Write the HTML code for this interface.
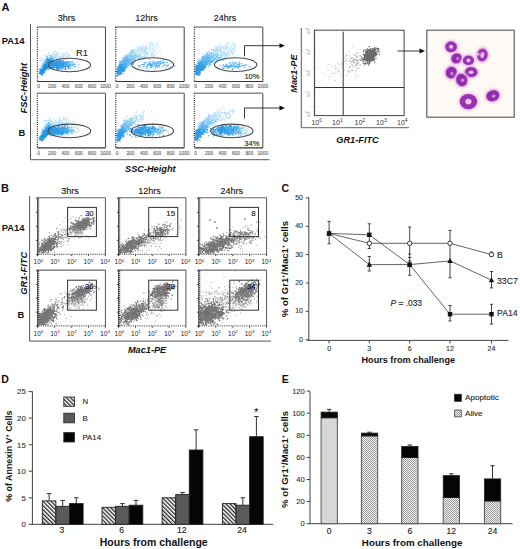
<!DOCTYPE html>
<html><head><meta charset="utf-8"><style>
html,body{margin:0;padding:0;background:#fff;}
svg{display:block;font-family:"Liberation Sans", sans-serif;}
</style></head><body>
<svg width="520" height="549" viewBox="0 0 520 549">
<rect width="520" height="549" fill="#fff"/>
<defs><filter id="sb" x="-5%" y="-5%" width="110%" height="110%"><feGaussianBlur stdDeviation="0.35"/></filter></defs>
<text x="1.5" y="10.6" font-size="11" font-weight="bold" fill="#111">A</text>
<text x="66.4" y="20.7" font-size="9" stroke="#111" stroke-width="0.12" text-anchor="middle" fill="#111">3hrs</text>
<text x="146.4" y="20.7" font-size="9" stroke="#111" stroke-width="0.12" text-anchor="middle" fill="#111">12hrs</text>
<text x="224.9" y="20.7" font-size="9" stroke="#111" stroke-width="0.12" text-anchor="middle" fill="#111">24hrs</text>
<text x="1.8" y="43.8" font-size="9.4" font-weight="bold" fill="#111">PA14</text>
<text x="18.6" y="136.3" font-size="9.4" font-weight="bold" fill="#111">B</text>
<text transform="translate(27.1 88.2) rotate(-90)" font-size="9.3" font-weight="bold" font-style="italic" text-anchor="middle" fill="#111">FSC-Height</text>
<text x="150.3" y="172" font-size="9.2" font-weight="bold" font-style="italic" text-anchor="middle" fill="#111">SSC-Height</text>
<line x1="30.5" y1="24" x2="30.5" y2="159.6" stroke="#555" stroke-width="1"/>
<line x1="30.5" y1="159.6" x2="269.5" y2="159.6" stroke="#777" stroke-width="1.2"/>
<g filter="url(#sb)">
<path stroke="#acdaf7" stroke-opacity="0.8" stroke-width="1.1" stroke-linecap="square" d="M56.4 54.6h0M59.7 59.6h0M55.1 59.4h0M50.4 61.3h0M54.3 63.2h0M49.9 63.0h0M57.0 54.8h0M66.8 51.6h0M53.5 60.6h0M51.7 56.1h0M60.9 57.1h0M60.2 59.5h0M57.1 53.4h0M48.7 53.7h0M56.9 58.5h0M62.5 56.9h0M46.3 59.0h0M53.4 58.5h0M41.6 58.2h0M46.2 55.7h0M42.4 59.9h0M54.7 55.6h0M46.3 55.4h0M59.4 58.7h0M58.2 57.4h0M55.7 59.1h0M52.5 56.9h0M56.2 55.3h0M57.5 55.4h0M45.0 60.4h0M52.9 56.5h0M49.5 60.1h0M50.8 59.8h0M66.3 61.5h0M50.0 55.4h0M57.1 60.1h0M63.9 56.3h0M52.4 58.6h0M55.5 54.2h0M57.7 56.5h0M57.8 59.6h0M47.3 59.3h0M57.6 57.9h0M67.6 55.2h0M45.3 62.9h0M63.8 56.6h0M56.9 52.0h0M51.6 56.9h0M71.9 50.0h0M61.5 48.4h0M47.3 58.1h0M58.2 61.1h0M61.6 57.1h0M55.0 55.1h0M62.0 54.4h0M57.0 60.8h0M62.3 57.3h0M68.4 55.9h0M51.7 58.6h0M58.6 57.6h0M53.7 60.5h0M58.3 59.0h0M47.7 60.0h0M52.0 55.9h0M55.7 59.4h0M63.8 54.8h0M66.5 59.0h0M46.0 56.4h0M50.7 58.6h0M62.1 56.9h0M40.7 57.2h0M54.1 62.9h0M56.9 61.7h0M66.7 54.9h0M62.8 58.8h0M54.6 59.2h0M52.9 51.6h0M55.1 58.8h0M69.0 55.5h0M53.7 58.6h0M54.1 55.5h0M59.7 56.6h0M56.0 57.5h0M56.0 61.1h0M48.4 60.2h0M56.9 57.8h0M54.2 62.3h0M65.9 54.8h0M62.0 55.9h0M56.0 53.2h0M63.0 60.9h0M54.8 60.7h0M65.7 58.7h0M57.3 59.5h0M61.6 57.3h0M46.9 60.1h0M59.6 56.7h0M43.6 59.6h0M41.0 60.8h0M55.3 62.1h0M50.2 60.5h0M58.3 57.4h0M74.4 53.2h0M50.2 57.3h0M52.8 62.8h0M58.8 58.8h0M60.9 57.3h0M55.5 57.2h0M54.9 55.2h0M62.5 56.7h0M61.5 59.3h0M48.7 58.2h0M56.3 57.3h0M57.2 57.2h0M48.7 59.5h0M58.3 53.4h0M50.1 58.4h0M64.3 54.3h0M58.9 59.8h0M57.4 55.7h0M52.6 60.1h0M56.8 61.9h0M41.1 59.8h0M47.8 57.8h0M59.9 57.8h0M40.2 60.8h0M63.2 54.1h0M43.5 61.4h0M63.9 61.9h0M50.2 58.3h0M63.0 56.2h0M57.6 54.9h0M45.0 60.8h0M66.3 52.9h0M67.9 53.0h0M57.1 61.2h0M54.4 55.9h0M56.2 60.8h0M50.0 63.1h0M65.8 56.9h0M53.0 60.0h0M57.5 62.9h0M50.7 58.4h0M51.8 57.2h0M46.3 56.1h0M66.9 56.2h0M56.5 61.8h0M65.0 58.9h0M56.7 55.4h0M51.1 56.6h0M54.2 57.0h0M52.7 59.3h0M57.0 57.3h0M54.1 58.9h0M54.8 59.0h0M46.0 59.0h0M50.6 58.8h0M70.1 56.0h0M51.7 58.5h0M48.9 60.6h0M60.5 62.1h0M68.4 57.4h0M45.6 60.0h0M54.6 53.8h0M52.2 59.7h0M42.2 55.3h0M62.2 53.2h0M57.2 60.0h0M57.9 59.5h0M51.0 58.5h0M59.8 52.8h0M52.6 57.6h0M55.6 56.3h0M48.6 61.0h0M48.4 65.3h0M67.6 56.5h0M52.7 56.5h0M58.8 54.4h0M56.7 57.7h0M53.4 58.0h0M52.5 55.6h0M62.0 57.2h0M54.1 55.3h0M56.3 60.9h0M57.7 60.5h0M66.8 58.9h0M62.1 55.6h0M60.2 58.6h0M52.5 58.2h0M45.9 58.7h0M64.3 55.6h0M64.0 53.1h0M55.2 54.3h0M61.6 59.1h0M63.1 56.2h0M63.6 57.2h0M64.7 59.1h0M52.6 54.0h0M68.6 53.7h0"/>
<path stroke="#72c2f2" stroke-opacity="0.9" stroke-width="1" stroke-linecap="square" d="M49.2 59.0h0M50.0 58.6h0M49.8 63.1h0M51.9 56.9h0M51.3 61.3h0M44.7 62.3h0M45.2 61.1h0M49.5 55.4h0M54.4 63.4h0M43.7 65.3h0M54.5 58.0h0M51.8 59.4h0M54.4 57.9h0M48.9 62.1h0M52.2 65.4h0M44.9 61.9h0M55.3 51.5h0M47.8 59.5h0M52.7 54.4h0M49.2 64.1h0M51.8 62.1h0M43.3 63.5h0M46.6 59.3h0M52.4 57.8h0M48.4 66.9h0M48.8 52.8h0M51.9 61.1h0M45.1 61.6h0M50.1 64.3h0M46.9 60.1h0M49.4 60.6h0M45.9 59.5h0M45.9 61.3h0M51.3 64.4h0M48.2 65.2h0M45.4 63.5h0M48.5 59.5h0M49.7 55.1h0M44.7 64.2h0M50.0 60.9h0M47.9 62.5h0M46.9 63.3h0M50.8 56.7h0M48.3 62.2h0M54.5 57.1h0M49.7 65.5h0M54.2 63.6h0M49.1 61.3h0M46.5 61.5h0M51.7 59.4h0M48.5 60.2h0M50.7 58.0h0M49.8 61.0h0M45.0 61.8h0M50.7 62.4h0M50.0 60.7h0M53.3 59.0h0M46.9 63.0h0M48.7 59.7h0M43.2 63.6h0M51.6 58.9h0M45.8 62.7h0M44.8 66.1h0M49.8 61.1h0M51.2 55.5h0M45.4 65.0h0M44.5 61.2h0M46.7 61.7h0M46.1 63.3h0M47.8 56.1h0"/>
<path stroke="#72c2f2" stroke-opacity="0.9" stroke-width="1" stroke-linecap="square" d="M46.6 61.9h0M42.3 70.0h0M42.8 70.3h0M43.8 70.2h0M43.6 67.6h0M52.7 59.4h0M40.2 70.8h0M42.5 69.0h0M41.4 68.6h0M48.2 66.9h0M41.1 71.8h0M44.8 64.6h0M42.3 69.3h0M43.6 68.0h0M51.2 62.1h0M40.8 67.7h0M45.8 61.8h0M44.8 65.8h0M49.8 69.5h0M52.0 62.2h0M42.6 69.6h0M52.8 60.3h0M55.4 63.1h0M47.9 62.3h0M41.1 71.0h0M50.7 64.6h0M48.5 64.3h0M50.9 62.3h0M42.6 68.4h0M55.9 62.1h0M54.6 62.6h0M43.0 71.0h0M45.5 68.4h0M38.9 69.6h0M51.5 61.4h0M50.6 58.8h0M52.9 58.9h0M49.0 64.5h0M47.7 62.1h0M45.1 59.9h0M48.0 64.6h0M49.8 57.3h0M47.1 63.0h0M43.7 66.6h0M46.0 64.3h0M38.4 69.6h0M51.4 63.8h0M49.1 62.7h0M47.5 67.6h0M54.7 63.5h0M49.4 61.5h0M41.9 65.1h0M40.7 70.0h0M40.8 68.9h0M42.3 68.9h0M44.5 67.8h0M42.5 63.0h0M52.0 59.6h0M41.8 66.3h0M51.6 59.9h0M48.3 62.3h0M49.7 59.5h0M45.3 66.3h0M40.4 71.5h0M48.4 60.0h0M41.2 66.6h0M42.5 70.0h0M53.7 63.9h0M52.5 65.5h0M45.2 70.5h0M45.0 69.1h0M49.8 57.6h0M46.1 69.9h0M48.6 62.1h0M42.3 70.1h0M49.3 60.1h0M42.4 70.4h0M45.9 64.2h0M41.3 71.4h0M45.1 62.7h0M49.5 59.5h0M44.8 73.1h0M43.9 68.1h0M48.9 60.9h0M48.7 64.3h0M45.5 68.5h0M45.8 61.5h0M45.6 65.4h0M52.5 61.5h0M44.6 68.2h0M49.6 61.6h0M51.0 65.5h0M47.8 60.5h0M45.3 66.8h0M47.9 61.0h0M51.7 64.6h0M42.1 64.1h0M40.5 71.0h0M50.4 57.6h0M50.2 63.1h0M44.1 69.8h0M51.9 64.0h0M41.7 66.2h0M47.5 66.5h0M49.8 59.5h0M44.8 64.8h0M45.0 68.6h0M42.9 66.6h0M39.2 68.8h0M42.9 68.5h0M41.7 66.4h0M42.0 68.9h0M42.2 71.5h0M46.7 65.9h0M45.6 70.8h0M48.7 61.3h0M47.7 56.4h0M42.9 67.3h0M45.6 62.6h0M44.4 63.2h0M42.4 71.4h0M41.5 69.6h0M46.3 56.2h0M47.4 66.3h0M49.6 60.5h0M42.2 71.4h0M47.7 63.8h0M51.9 61.0h0M50.6 59.9h0M42.5 73.1h0M47.5 65.3h0M45.7 67.3h0M50.2 62.0h0M40.0 69.5h0M43.7 68.1h0M49.4 60.2h0M46.5 65.7h0M43.7 63.8h0M55.4 61.4h0M44.7 67.6h0"/>
<path stroke="#1890e2" stroke-opacity="0.9" stroke-width="1.1" stroke-linecap="square" d="M41.1 71.6h0M41.0 72.9h0M48.1 65.7h0M48.1 64.3h0M43.3 71.1h0M46.7 66.1h0M40.7 73.8h0M43.8 69.2h0M45.4 66.5h0M43.1 71.8h0M42.4 69.4h0M47.4 67.3h0M45.8 66.6h0M41.0 72.1h0M46.5 64.4h0M40.5 73.0h0M50.3 60.7h0M41.4 71.5h0M43.4 72.0h0M41.3 71.5h0M47.5 58.0h0M42.1 70.4h0M43.9 64.8h0M50.3 60.1h0M51.2 61.8h0M41.2 74.0h0M43.7 66.6h0M45.1 65.8h0M49.0 66.2h0M43.5 70.4h0M43.1 70.3h0M41.3 74.5h0M42.5 75.0h0M46.7 68.1h0M41.1 73.4h0M42.3 72.1h0M43.7 70.6h0M40.5 73.1h0M39.9 73.2h0M49.7 61.3h0M43.3 68.2h0M41.9 71.9h0M47.2 64.8h0M42.3 75.2h0M41.6 70.9h0M49.9 60.5h0M49.1 61.6h0M46.8 66.2h0M41.9 73.8h0M42.6 70.2h0M40.0 73.4h0M40.8 70.8h0M39.9 73.3h0M41.8 73.1h0M46.3 65.9h0M40.4 72.6h0M41.3 72.3h0M49.4 61.6h0M43.6 70.5h0M42.6 69.9h0M40.8 73.1h0M46.0 61.8h0M45.5 64.3h0M47.0 68.4h0M43.8 64.5h0M40.9 72.9h0M42.7 71.3h0M45.4 66.4h0M48.9 60.1h0M48.3 63.0h0M46.4 65.8h0M45.0 67.6h0M39.2 72.9h0M49.0 61.7h0M40.2 73.0h0M40.9 72.5h0M47.2 65.2h0M49.0 63.6h0M49.0 64.2h0M43.9 68.3h0M42.5 72.8h0M41.6 74.4h0M50.1 63.4h0M52.0 61.7h0M42.2 71.3h0M48.7 62.1h0M44.6 69.8h0M41.8 69.7h0M45.1 68.0h0M40.1 73.7h0M43.9 68.5h0M40.5 71.0h0M46.2 64.0h0M44.9 67.9h0M50.0 62.9h0M50.5 62.6h0M42.9 70.4h0M42.5 70.8h0M48.7 60.3h0M45.3 68.1h0M40.9 73.0h0M41.2 74.0h0M52.7 61.8h0M45.7 66.7h0M39.7 72.8h0M44.1 67.1h0M43.5 66.8h0M43.1 68.0h0M51.6 62.0h0M50.2 61.1h0M40.1 72.0h0M42.1 72.9h0M45.1 70.1h0M48.1 62.4h0M45.5 65.5h0M47.0 64.1h0M46.0 67.0h0M42.6 72.2h0M49.7 64.0h0M41.5 74.6h0M48.3 65.8h0M43.0 72.8h0M45.2 68.8h0M48.2 59.0h0M45.1 67.2h0M41.1 73.7h0M43.8 68.7h0M47.6 66.2h0M40.5 73.4h0M41.6 70.8h0M41.6 74.6h0M45.9 67.8h0M43.8 69.7h0M45.8 68.5h0M43.7 71.4h0M46.9 65.8h0M39.7 70.9h0M48.6 61.0h0M49.4 60.3h0M43.8 67.3h0M44.7 68.5h0M50.3 63.4h0M42.3 70.5h0M46.9 62.3h0M44.5 72.1h0M46.7 64.2h0M42.1 69.5h0M46.2 66.6h0M50.1 61.6h0M40.3 73.2h0M49.2 63.8h0M44.8 66.9h0M42.8 69.0h0M43.5 70.1h0M41.5 73.8h0M41.9 70.9h0M46.5 66.3h0M41.0 73.1h0M49.7 67.5h0M49.1 60.0h0M52.1 61.6h0M49.1 61.8h0M48.1 63.1h0M42.3 72.7h0M51.3 61.3h0M43.0 72.7h0M49.3 62.5h0M48.3 61.5h0M45.6 65.7h0M45.6 68.0h0M42.4 72.3h0M46.4 68.6h0M43.1 71.1h0M42.2 73.4h0M42.5 73.7h0M48.4 63.4h0M47.7 60.0h0M40.5 72.0h0M39.5 73.2h0M43.9 72.1h0M40.7 72.3h0M42.8 72.8h0M46.3 67.1h0M45.7 70.2h0M45.1 69.6h0M41.9 71.8h0M46.4 65.3h0M42.8 70.9h0M44.0 69.5h0M44.0 68.1h0M49.3 61.6h0M43.7 72.4h0M45.3 63.2h0M43.2 70.7h0M48.1 61.0h0M43.9 69.5h0M45.7 68.4h0M49.0 62.0h0M47.6 65.9h0M39.9 72.3h0M42.3 73.3h0M49.6 59.6h0M41.1 74.1h0M43.0 70.8h0M46.7 58.3h0M40.0 73.5h0M41.8 72.6h0M43.3 72.7h0M41.2 73.4h0M44.8 68.5h0M44.4 65.5h0M44.3 71.4h0M42.6 74.0h0M48.3 63.1h0M47.9 63.0h0M43.9 65.8h0M42.1 73.2h0M48.0 69.2h0M47.0 66.5h0M45.3 69.8h0M49.5 62.7h0M42.8 68.8h0M46.3 68.7h0M40.3 72.3h0M45.3 66.8h0M48.1 64.1h0M48.4 65.1h0M42.8 71.5h0M50.9 60.5h0M46.4 64.0h0M42.9 68.1h0M44.0 69.2h0M47.1 63.0h0M40.7 71.5h0M45.0 64.8h0M46.7 64.2h0M43.2 66.4h0M47.4 60.9h0M43.0 67.2h0M44.7 68.5h0M43.1 71.2h0M52.0 63.1h0M41.7 69.5h0M46.2 64.4h0M44.8 69.8h0M49.5 60.9h0M49.5 60.6h0M41.9 74.7h0M50.0 59.8h0M44.8 65.5h0M39.9 72.7h0M45.2 68.2h0M41.0 73.8h0M44.0 66.2h0M41.0 71.6h0M44.0 70.1h0M43.4 71.0h0M45.3 65.9h0M49.1 63.5h0M50.5 61.6h0M41.6 69.2h0M45.3 66.6h0M40.8 74.2h0M43.0 69.4h0M47.3 58.7h0M41.1 72.8h0M49.9 62.8h0M48.2 66.8h0M40.9 69.4h0M50.9 65.8h0M41.8 70.1h0M50.4 62.6h0M41.9 74.0h0M42.0 73.5h0M47.8 64.2h0M43.2 67.9h0M42.0 72.9h0M44.3 67.2h0M40.6 69.2h0M48.2 69.2h0M48.3 64.8h0M51.0 63.9h0M40.1 73.0h0M47.4 67.6h0M52.4 61.7h0M45.9 69.6h0M47.8 63.8h0M40.2 72.5h0M48.8 61.9h0M43.5 65.1h0M47.1 60.4h0M48.1 63.6h0M47.7 61.3h0M40.7 73.5h0M47.1 64.5h0M43.5 73.1h0M43.6 71.9h0M43.1 70.3h0M47.1 67.4h0M45.4 65.4h0"/>
<path stroke="#1890e2" stroke-opacity="0.9" stroke-width="1.1" stroke-linecap="square" d="M56.9 62.3h0M63.5 64.7h0M52.3 65.1h0M57.3 64.2h0M51.9 64.0h0M59.4 64.0h0M67.2 62.8h0M55.0 66.1h0M60.2 67.6h0M53.9 61.5h0M52.8 65.0h0M52.3 64.5h0M66.4 65.2h0M70.9 62.1h0M61.3 64.3h0M54.9 63.1h0M62.5 65.9h0M57.1 65.1h0M62.9 64.2h0M60.4 65.4h0M60.2 64.2h0M61.7 61.6h0M55.9 66.1h0M56.7 65.5h0M49.9 65.1h0M56.6 66.8h0M51.6 67.6h0M57.9 62.8h0M53.7 63.7h0M59.5 67.7h0M61.3 67.3h0M51.3 63.9h0M54.4 62.9h0M53.8 63.9h0M62.6 63.6h0M67.4 61.2h0M63.2 64.6h0M56.8 62.5h0M66.2 62.0h0M51.1 67.1h0M66.5 63.0h0M55.4 64.9h0M44.5 67.0h0M72.7 65.4h0M66.9 63.6h0M53.5 65.3h0M59.6 63.2h0M57.9 68.2h0M59.4 66.0h0M51.0 63.2h0M55.3 65.1h0M61.3 66.0h0M60.0 65.6h0M65.3 67.8h0M59.4 67.4h0M70.9 62.9h0M55.1 64.9h0M60.0 62.3h0M48.9 66.0h0M52.3 65.5h0M66.0 69.4h0M53.9 65.3h0M61.3 60.6h0M58.4 63.5h0M53.4 65.4h0M56.8 62.5h0M56.0 63.3h0M56.2 64.3h0M62.8 65.2h0M62.2 64.2h0M55.7 63.3h0M54.2 66.6h0M60.2 63.7h0M58.2 63.9h0M64.0 61.8h0M72.5 62.3h0M63.3 65.7h0M58.4 61.7h0M57.9 64.7h0M54.5 66.5h0M54.0 64.4h0M53.6 65.6h0M56.6 62.8h0M56.8 67.4h0M62.8 66.6h0M56.8 65.4h0M57.5 61.5h0M52.3 63.3h0M67.5 66.1h0M61.7 67.9h0M68.1 64.7h0M63.1 66.9h0M66.4 63.1h0M57.5 64.5h0M62.5 64.5h0M72.9 64.6h0M52.3 62.3h0M65.0 66.2h0M67.8 66.7h0M60.8 62.5h0M62.6 62.0h0M65.5 65.0h0M55.2 63.8h0M60.7 60.2h0M54.3 66.7h0M55.2 65.3h0M55.5 64.1h0M58.3 68.9h0M59.6 65.0h0M61.1 63.2h0M51.3 65.5h0M69.2 62.1h0M64.8 62.9h0M62.7 65.3h0M56.8 63.9h0M58.3 64.0h0M61.9 67.8h0M61.1 66.3h0M50.0 66.9h0M62.8 65.5h0M74.4 64.6h0M49.2 68.2h0M64.1 64.4h0M61.0 68.2h0M58.1 63.0h0M66.1 63.8h0M52.3 62.6h0M59.6 64.1h0M66.7 65.2h0M57.9 67.6h0M56.5 63.7h0M59.4 64.8h0M56.4 64.3h0M66.9 62.8h0M53.8 62.9h0M63.5 64.6h0M51.9 62.0h0M62.4 64.8h0M58.2 64.9h0M44.9 64.5h0M58.6 62.9h0M52.9 62.6h0M56.7 68.5h0M66.8 61.7h0M53.0 68.2h0M53.2 66.3h0M66.4 63.6h0M59.3 62.6h0M67.2 66.2h0M60.8 68.0h0M54.0 63.4h0M58.4 64.3h0M65.5 66.3h0M63.9 65.1h0M59.1 68.6h0M59.0 63.7h0M58.3 65.9h0M55.5 62.6h0M69.4 68.1h0M58.7 63.4h0M52.5 61.0h0M56.2 64.7h0M62.7 64.3h0M62.5 68.2h0M58.0 64.2h0M55.2 65.0h0M59.0 65.9h0M50.1 68.4h0M51.8 65.2h0M63.2 66.5h0M56.3 66.0h0M60.8 64.1h0M65.3 64.5h0M62.3 64.6h0M58.8 63.1h0M70.3 66.3h0M62.2 61.9h0M57.1 67.2h0M62.8 66.3h0M61.0 64.5h0M54.1 63.7h0M59.2 64.3h0M58.0 65.8h0M48.4 66.9h0M57.9 65.4h0M57.4 66.8h0M56.4 63.9h0M50.1 65.9h0M56.7 62.0h0M58.7 66.3h0M59.4 65.1h0M52.7 64.4h0M62.3 66.8h0M52.4 66.6h0M57.2 59.5h0M65.8 64.4h0M54.9 62.3h0M56.2 67.0h0M64.9 69.1h0M56.7 64.0h0M57.2 65.1h0M59.9 64.2h0M64.4 65.1h0M47.1 66.8h0M54.6 67.5h0M53.3 63.3h0M53.2 68.2h0M54.1 63.4h0M54.4 65.6h0M60.6 66.9h0M54.2 66.5h0M59.3 63.0h0M60.8 63.3h0M54.9 64.2h0M59.5 64.7h0M67.7 66.4h0M60.3 62.2h0M55.5 65.9h0M58.5 66.0h0M54.0 66.2h0M60.3 65.6h0M63.6 67.4h0M54.5 66.0h0M57.8 66.5h0M64.8 65.5h0M56.4 68.4h0M59.5 61.1h0M53.5 67.6h0M54.4 64.6h0M56.0 64.5h0M70.0 62.2h0M56.4 61.4h0M56.0 64.3h0M55.8 63.7h0M58.0 65.8h0M62.0 61.8h0M60.0 67.4h0M69.5 64.6h0M59.9 64.3h0M66.2 62.9h0M60.1 63.2h0M61.8 62.4h0M51.2 64.3h0M58.1 64.9h0M58.4 64.5h0M57.4 62.2h0M47.6 65.1h0M63.2 62.8h0M56.8 65.2h0M56.8 68.5h0M57.6 66.1h0M57.6 64.3h0M60.7 61.6h0M52.0 62.6h0M53.7 61.9h0M60.4 66.1h0M59.5 63.3h0M56.9 65.1h0M55.7 63.8h0M54.5 65.3h0M58.7 67.5h0M64.8 63.1h0M53.3 64.5h0M66.6 62.7h0M63.3 66.2h0M56.3 63.0h0M62.7 62.4h0M51.0 62.7h0M49.6 62.8h0M52.2 66.2h0M57.0 69.8h0M57.0 63.0h0M56.3 66.8h0M59.3 65.2h0M47.6 63.5h0M61.3 64.1h0M51.4 64.9h0M55.3 63.7h0M56.9 68.6h0M52.5 61.6h0M51.7 66.0h0M53.6 65.8h0M58.7 63.7h0M61.9 64.9h0M61.8 66.3h0M53.7 65.5h0M54.7 65.9h0M54.1 66.4h0M60.9 60.8h0M48.4 68.3h0M65.5 68.7h0M56.4 66.8h0M54.9 67.0h0M60.4 62.0h0M64.1 64.2h0M60.5 63.1h0M64.2 63.3h0M59.6 66.6h0M65.1 62.8h0M65.2 64.1h0M58.0 61.2h0M66.2 64.0h0M59.7 64.9h0M59.2 63.4h0M53.9 63.8h0M57.6 68.5h0M62.7 62.2h0M51.9 63.3h0M62.1 63.0h0M60.8 66.9h0M60.5 68.7h0M47.4 66.2h0M58.2 63.5h0M62.1 63.8h0M55.0 67.1h0M59.1 63.0h0M46.7 68.4h0M62.5 67.2h0M55.4 65.2h0M63.4 65.7h0M49.3 66.9h0M62.6 67.5h0M57.4 62.9h0M63.1 66.7h0M53.9 64.4h0M55.5 63.6h0M70.4 64.2h0M54.5 64.7h0M55.0 63.2h0M57.2 61.9h0M53.4 63.4h0M65.2 67.1h0M68.0 67.9h0M55.2 66.3h0M50.0 67.7h0M64.8 63.4h0M64.5 64.3h0M63.1 65.0h0M64.7 62.3h0M54.2 63.2h0M57.9 65.0h0M51.6 64.7h0M51.3 63.3h0M63.9 65.2h0M55.3 64.5h0M70.8 65.9h0M59.2 64.8h0M55.4 64.5h0M63.0 64.8h0M68.1 63.8h0M61.2 63.4h0M52.4 64.5h0M60.8 66.1h0M66.0 65.5h0M56.4 67.4h0M54.6 61.9h0M64.0 63.7h0M59.5 64.0h0M53.1 65.5h0M56.8 64.1h0M54.8 64.1h0M60.4 66.2h0M59.4 65.1h0M64.6 62.2h0M62.7 67.1h0M50.8 67.3h0M60.8 63.6h0M63.6 66.1h0M61.1 63.2h0M64.3 66.6h0M55.9 64.6h0M53.8 63.6h0M63.6 63.8h0M53.2 63.7h0M47.6 65.9h0M64.1 64.8h0M55.0 65.1h0M57.1 63.9h0M51.1 58.4h0M51.9 65.5h0M52.5 61.6h0M57.0 65.4h0M60.9 66.8h0M46.9 66.2h0M62.7 63.8h0M52.6 64.9h0M53.3 64.9h0M62.2 63.5h0M58.3 63.7h0M50.7 63.6h0M68.5 66.4h0M54.3 65.1h0M60.2 66.5h0M59.8 64.3h0M66.1 64.4h0M56.4 64.6h0M64.1 65.3h0M55.1 66.6h0M64.7 64.8h0M54.8 63.8h0M56.8 63.5h0M68.9 67.3h0M60.4 64.2h0M59.3 64.2h0M70.6 66.8h0M60.8 66.7h0M54.6 66.1h0M62.6 63.8h0M53.0 69.7h0M64.7 65.1h0M65.1 65.4h0M55.8 64.7h0M55.4 62.3h0M59.5 62.2h0M58.9 65.6h0M53.8 65.9h0M61.7 64.1h0M48.1 63.3h0M56.4 62.2h0M56.7 64.3h0M57.2 62.1h0M60.5 66.4h0M52.6 67.4h0M62.2 69.9h0M58.0 66.5h0M55.3 63.9h0M51.6 63.6h0M52.2 58.7h0M60.6 63.5h0M53.8 64.8h0M59.3 66.6h0M64.4 65.6h0M64.2 65.5h0M66.9 64.6h0M57.4 66.2h0M53.4 67.9h0M64.0 62.4h0M60.3 63.8h0M64.4 61.8h0M59.1 67.9h0M65.2 66.8h0M63.3 65.9h0M62.4 62.3h0M61.4 64.9h0M60.8 64.2h0M60.0 64.9h0M59.9 64.4h0M64.0 65.4h0M56.1 64.2h0M67.9 65.8h0M58.3 65.3h0M63.9 63.9h0M58.3 64.6h0M57.5 64.1h0M69.4 65.6h0M57.2 64.4h0M52.2 65.8h0M55.0 64.3h0M57.0 62.1h0M70.1 65.7h0M59.7 62.7h0M63.7 65.7h0M53.7 66.0h0M60.4 61.5h0M62.2 62.8h0M68.1 63.2h0M55.1 63.5h0M61.8 62.3h0M60.5 66.1h0M53.5 64.7h0M58.8 65.5h0M57.4 64.1h0M46.8 66.2h0M61.8 63.2h0M61.6 64.6h0M56.6 66.1h0M51.9 65.4h0M66.4 63.4h0M60.0 62.6h0M64.1 64.7h0M66.2 64.9h0M56.1 64.5h0M62.9 63.0h0M57.6 65.9h0M58.8 69.5h0M58.3 64.3h0M58.8 65.4h0M64.6 65.1h0M59.1 59.9h0M58.0 65.1h0M57.3 63.6h0M60.8 67.3h0M54.1 64.6h0M56.1 63.5h0M58.5 64.4h0M55.9 65.3h0M58.1 63.8h0M55.6 64.9h0M69.0 61.5h0M65.7 63.9h0M61.2 66.1h0M58.8 68.6h0M70.3 65.3h0M60.5 65.2h0M58.5 67.1h0M60.5 66.6h0M60.6 67.8h0M66.3 66.3h0M58.7 64.6h0M69.7 64.5h0M54.2 65.5h0M62.4 65.1h0M53.6 65.5h0M68.1 62.7h0M56.8 60.9h0M58.4 63.5h0M63.3 60.6h0M65.3 64.5h0M53.0 65.2h0M56.8 61.7h0"/>
<path stroke="#72c2f2" stroke-opacity="0.8" stroke-width="1" stroke-linecap="square" d="M73.1 60.7h0M73.9 65.9h0M70.4 68.3h0M77.5 61.2h0M78.4 67.3h0M64.6 63.9h0M74.7 69.7h0M72.0 65.9h0M71.9 64.6h0M74.2 67.2h0M66.8 66.1h0M67.3 63.8h0M66.3 66.4h0M66.6 64.0h0M69.6 61.4h0M63.5 69.1h0M65.3 64.3h0M72.6 63.8h0M69.7 65.7h0M71.7 61.9h0M61.5 62.3h0M66.5 64.0h0M67.5 64.0h0M70.1 65.1h0M67.4 67.2h0M74.2 64.1h0M69.7 66.0h0M70.1 66.2h0M70.1 62.8h0M73.2 65.5h0M67.9 63.1h0M75.1 67.1h0M72.1 65.9h0M70.7 65.0h0M70.2 62.3h0M72.3 65.2h0M74.6 63.5h0M74.3 66.4h0M71.7 64.8h0M73.9 63.4h0M70.5 66.9h0M75.6 66.4h0M69.9 63.8h0M60.7 67.3h0M76.0 64.4h0M70.5 64.4h0M64.7 65.2h0M69.1 63.5h0M66.0 64.1h0M79.5 64.7h0M72.2 68.1h0M62.9 68.0h0M72.5 64.5h0M68.2 68.2h0M78.6 64.9h0M65.3 65.8h0M59.9 66.8h0M70.3 65.6h0M68.4 69.8h0M68.1 65.5h0"/>
</g>
<line x1="105.5" y1="27" x2="105.5" y2="81.5" stroke="#555" stroke-width="1.1"/>
<line x1="37.2" y1="27" x2="105.5" y2="27" stroke="#8a8a8a" stroke-width="1.4"/>
<line x1="37.2" y1="81.5" x2="105.5" y2="81.5" stroke="#333" stroke-width="1.2"/>
<line x1="37.4" y1="27" x2="37.4" y2="81.5" stroke="#333" stroke-width="1.3" stroke-dasharray="1 1.2"/>
<text x="38.7" y="88.4" font-size="4.8" stroke="#666" stroke-width="0.12" text-anchor="middle" fill="#666">0</text>
<text x="52.1" y="88.4" font-size="4.8" stroke="#666" stroke-width="0.12" text-anchor="middle" fill="#666">200</text>
<text x="65.4" y="88.4" font-size="4.8" stroke="#666" stroke-width="0.12" text-anchor="middle" fill="#666">400</text>
<text x="78.8" y="88.4" font-size="4.8" stroke="#666" stroke-width="0.12" text-anchor="middle" fill="#666">600</text>
<text x="92.1" y="88.4" font-size="4.8" stroke="#666" stroke-width="0.12" text-anchor="middle" fill="#666">800</text>
<text x="105.5" y="88.4" font-size="4.8" stroke="#666" stroke-width="0.12" text-anchor="middle" fill="#666">1000</text>
<ellipse cx="69.5" cy="65" rx="21" ry="6.7" fill="none" stroke="#4a4a4a" stroke-width="1.1"/>
<g filter="url(#sb)">
<path stroke="#1890e2" stroke-opacity="0.9" stroke-width="1.1" stroke-linecap="square" d="M120.7 72.9h0M118.7 71.1h0M125.6 67.6h0M123.4 68.5h0M118.3 70.0h0M122.9 66.8h0M120.0 67.2h0M121.9 71.8h0M120.8 72.4h0M118.5 69.5h0M121.7 67.7h0M122.8 65.2h0M124.3 67.4h0M120.3 74.3h0M119.3 73.0h0M122.5 67.9h0M117.6 71.4h0M120.5 66.8h0M122.1 71.1h0M121.5 69.1h0M121.6 66.2h0M124.0 69.0h0M119.8 65.4h0M123.6 65.9h0M121.9 66.4h0M120.4 67.3h0M118.1 68.1h0M119.9 68.4h0M117.6 67.9h0M119.6 65.4h0M120.5 68.9h0M117.0 75.2h0M118.9 65.7h0M124.1 67.5h0M124.5 69.9h0M119.1 68.5h0M119.9 69.0h0M119.3 67.1h0M121.8 69.0h0M123.2 68.4h0M120.1 66.8h0M121.9 66.1h0M117.0 69.3h0M119.5 74.6h0M120.2 73.9h0M117.8 70.8h0M120.8 66.0h0M117.3 72.8h0M121.4 67.6h0M120.7 70.7h0M116.8 72.5h0M122.4 70.0h0M120.9 65.5h0M124.2 66.6h0M121.1 69.8h0M120.4 64.5h0M119.3 71.8h0M120.2 71.2h0M118.7 71.5h0M117.6 73.1h0M121.2 68.9h0M124.4 69.6h0M119.4 68.3h0M124.4 68.3h0M123.3 65.5h0M122.0 66.7h0M119.1 72.6h0M119.7 65.8h0M121.3 69.3h0M120.3 70.2h0M120.3 67.5h0M122.7 68.8h0M123.1 66.8h0M120.1 66.0h0M119.8 64.8h0M122.3 64.5h0M121.5 70.6h0M122.1 65.0h0M118.6 71.0h0M120.3 71.1h0M119.8 71.5h0M124.2 68.6h0M121.2 70.1h0M116.6 71.5h0M119.6 70.4h0M119.7 69.7h0M118.0 70.1h0M117.4 75.9h0M119.2 72.8h0M122.8 70.4h0M119.2 67.1h0M123.5 70.5h0M118.5 69.7h0M121.5 66.3h0M120.7 69.2h0M118.4 68.1h0M120.2 72.2h0M119.3 70.3h0M117.8 74.6h0M118.5 70.1h0M118.8 69.3h0M122.8 65.5h0M120.9 68.1h0M123.3 67.7h0M123.0 68.8h0M123.0 69.7h0M118.6 72.2h0M122.9 64.9h0M121.1 68.6h0M121.7 72.3h0M124.1 71.4h0M121.4 66.8h0M120.1 72.1h0M120.4 71.4h0M119.4 70.0h0M122.0 66.2h0M116.8 75.6h0M121.4 68.4h0M123.4 70.1h0M116.9 72.2h0M119.9 70.1h0M120.8 71.6h0M124.8 67.9h0M121.2 71.6h0M117.7 73.1h0M120.4 69.2h0M118.1 70.8h0M120.8 72.3h0M120.8 70.3h0M120.9 66.8h0M121.9 68.6h0M121.7 67.4h0M121.0 73.0h0M122.8 64.5h0M118.6 70.8h0M120.3 72.7h0M126.7 67.6h0M119.0 71.6h0M121.0 73.9h0M120.3 71.8h0M117.3 71.6h0M119.2 65.8h0M119.7 65.9h0M123.4 68.7h0M117.3 71.5h0M124.0 69.6h0M122.9 70.7h0M118.0 69.5h0M121.6 68.9h0M120.1 74.4h0M122.9 71.3h0M121.1 67.9h0M120.3 66.4h0M122.5 66.3h0M121.7 64.6h0M123.7 70.1h0M119.3 70.7h0M117.9 73.2h0M120.3 67.6h0M119.3 70.2h0M116.9 71.8h0M121.6 71.2h0M119.8 70.2h0M120.6 70.2h0M116.5 71.4h0M121.8 70.4h0M120.7 72.4h0M120.0 67.8h0M122.1 67.5h0M120.0 67.7h0M120.1 71.5h0M120.7 71.7h0M120.0 73.1h0M119.6 69.7h0M121.1 66.1h0M122.1 67.1h0M125.7 64.5h0M118.8 69.7h0M121.4 72.1h0M117.6 73.5h0M122.0 67.1h0M119.7 69.7h0M118.8 67.3h0M121.4 67.6h0M119.0 68.6h0M120.5 70.3h0M121.8 72.8h0M118.4 66.6h0M122.6 68.8h0M120.6 65.2h0M120.7 67.8h0M122.6 69.5h0M121.7 69.7h0M119.8 71.4h0M122.8 69.0h0M125.2 69.8h0M117.9 72.1h0M122.8 68.2h0M118.6 70.1h0M120.8 69.6h0M124.5 70.9h0M121.9 69.8h0M119.5 67.6h0M124.6 64.3h0M121.0 70.5h0M123.9 67.1h0M120.1 71.9h0M120.4 70.3h0M119.4 69.1h0M117.4 72.0h0M118.6 66.5h0M120.2 68.5h0M116.8 75.3h0M122.8 66.6h0M119.4 71.6h0M120.5 67.6h0M122.7 66.3h0M122.3 65.1h0M120.9 65.5h0M119.1 72.2h0M121.8 67.9h0M120.4 64.3h0M119.1 68.3h0M121.5 70.0h0M118.6 73.5h0M119.4 68.5h0M120.4 73.1h0M121.9 67.8h0M120.2 71.9h0M120.1 65.8h0M120.4 69.4h0M119.6 70.1h0M121.2 70.8h0M125.3 66.3h0M118.9 75.0h0M120.4 72.4h0M120.6 64.8h0M119.9 72.2h0M120.7 67.4h0M119.2 68.4h0M120.6 67.5h0M118.9 71.5h0M120.4 68.5h0M124.0 69.3h0M123.3 70.3h0M117.6 71.6h0M120.0 67.4h0M121.5 64.1h0M123.5 70.2h0M118.9 70.8h0M118.6 71.1h0M118.3 69.4h0M122.1 68.8h0M120.3 67.9h0M119.0 71.8h0M118.7 69.1h0M121.9 68.2h0M120.1 66.4h0M118.5 70.4h0M122.9 69.3h0M119.8 67.2h0M118.4 75.0h0M119.3 69.8h0M118.2 71.8h0M122.1 66.5h0M121.0 72.9h0M119.5 67.7h0M122.5 69.5h0M117.6 71.0h0M119.4 64.9h0M123.2 73.5h0M123.9 65.7h0M118.1 69.9h0M119.1 73.3h0M125.0 67.4h0M121.4 66.4h0M121.2 70.9h0M119.3 74.1h0M119.5 72.8h0M118.2 70.0h0M117.5 70.5h0"/>
<path stroke="#3ea8ee" stroke-opacity="0.85" stroke-width="1.1" stroke-linecap="square" d="M124.6 59.9h0M120.9 61.8h0M126.8 63.5h0M122.6 63.5h0M124.3 57.3h0M127.5 60.9h0M132.5 59.2h0M126.3 60.6h0M127.5 61.4h0M125.7 64.5h0M130.1 60.6h0M127.3 63.3h0M128.6 62.8h0M124.7 59.1h0M125.0 60.1h0M124.0 66.0h0M129.5 61.6h0M125.1 61.0h0M121.3 63.4h0M131.0 64.1h0M122.7 62.1h0M125.6 63.6h0M123.7 57.5h0M128.9 61.9h0M121.5 64.4h0M127.7 60.4h0M126.1 65.7h0M128.4 62.6h0M124.4 57.7h0M127.3 62.5h0M123.1 64.4h0M120.2 64.7h0M122.6 62.6h0M120.3 62.6h0M125.3 60.8h0M131.2 59.1h0M125.1 57.7h0M126.3 66.3h0M128.9 60.4h0M126.5 62.9h0M129.9 60.7h0M127.1 67.0h0M122.2 65.7h0M127.3 61.5h0M119.8 61.5h0M126.9 60.3h0M126.7 61.1h0M128.6 59.8h0M123.8 61.2h0M122.7 63.1h0M123.9 66.2h0M126.2 67.7h0M125.4 61.0h0M121.6 66.0h0M123.3 60.1h0M129.0 60.8h0M123.1 58.2h0M131.8 63.6h0M120.0 62.6h0M121.7 62.3h0M125.6 58.2h0M130.3 60.6h0M126.4 64.1h0M123.8 66.3h0M123.4 61.2h0M122.8 66.8h0M131.3 61.2h0M126.6 61.9h0M126.8 63.0h0M121.5 61.1h0M130.7 62.8h0M125.5 63.9h0M126.6 59.5h0M123.7 60.5h0M124.6 64.2h0M128.8 64.1h0M125.2 60.1h0M121.8 62.4h0M127.2 57.6h0M123.7 65.5h0M124.7 63.8h0M119.6 62.7h0M124.3 60.6h0M127.0 56.4h0M124.6 62.7h0M124.9 64.8h0M121.9 64.0h0M126.5 62.9h0M124.6 66.8h0M125.6 65.5h0M128.3 58.9h0M123.5 63.4h0M125.6 64.6h0M126.0 58.2h0M125.1 62.2h0M123.4 61.2h0M123.8 65.5h0M124.1 67.7h0M128.0 65.1h0M131.3 61.4h0M127.1 64.1h0M128.8 61.8h0M125.8 57.4h0M129.6 60.4h0M126.2 60.0h0M128.0 61.8h0M125.6 59.8h0M127.8 62.0h0M122.7 61.7h0M124.6 60.6h0M125.2 67.8h0M122.8 65.4h0M127.3 62.6h0M125.0 60.2h0M123.0 66.3h0M127.4 63.8h0M126.3 65.3h0M124.5 59.6h0M125.2 62.8h0M125.6 57.1h0M127.1 59.1h0M126.7 61.8h0M127.0 63.4h0M122.3 63.4h0M129.6 61.1h0M124.0 62.1h0M120.7 63.1h0M123.9 62.7h0M127.5 59.2h0M122.7 62.6h0M123.8 63.3h0M131.0 63.0h0M126.7 64.6h0M128.9 64.9h0M126.3 57.4h0M126.5 63.7h0M130.0 63.8h0M129.7 61.7h0M128.7 61.6h0M126.7 63.1h0M124.1 65.1h0M123.9 67.7h0M124.5 57.6h0M125.2 62.5h0M123.2 64.1h0M126.4 57.3h0M130.8 62.9h0M127.8 63.2h0M123.7 66.6h0M129.2 60.4h0M125.4 66.1h0M134.1 63.2h0M128.5 65.2h0M124.9 60.0h0M125.2 62.5h0M126.0 64.8h0M124.4 63.9h0M125.2 67.3h0M132.0 62.5h0M119.5 64.4h0M123.2 64.2h0M127.4 61.2h0M129.5 59.4h0M130.8 59.8h0M127.5 63.6h0M123.8 63.9h0M126.0 63.9h0M125.6 57.7h0M126.8 65.9h0M129.7 64.0h0M127.6 63.2h0M132.1 61.2h0M125.5 63.6h0M129.1 60.5h0M129.3 62.7h0M124.7 65.0h0M129.6 59.5h0M123.7 64.1h0M124.4 57.2h0M127.5 57.2h0M124.6 64.2h0M123.2 66.2h0M127.2 61.3h0M130.0 58.1h0M124.8 61.7h0M125.8 66.7h0M127.6 60.9h0M123.9 67.3h0M129.6 60.8h0M127.5 58.6h0M124.2 59.3h0M122.1 65.7h0M127.0 65.7h0M125.1 64.5h0M122.3 61.9h0M122.7 58.9h0M122.1 60.8h0M123.7 64.5h0M126.6 59.0h0M127.5 63.6h0M132.6 61.8h0M127.3 65.2h0M123.5 64.0h0M123.5 61.6h0M127.9 60.8h0M126.5 58.3h0M126.6 62.5h0M124.1 62.2h0M123.0 61.8h0M123.6 62.8h0M121.9 65.1h0M125.5 61.7h0M131.8 60.9h0M128.8 59.8h0"/>
<path stroke="#72c2f2" stroke-opacity="0.85" stroke-width="1.1" stroke-linecap="square" d="M128.1 56.6h0M135.2 58.1h0M136.2 57.0h0M135.8 55.2h0M134.1 51.7h0M137.5 57.4h0M131.7 57.2h0M131.6 55.8h0M129.3 56.6h0M130.5 54.9h0M132.5 60.8h0M132.7 58.8h0M133.8 62.4h0M137.9 59.2h0M131.6 55.2h0M134.3 59.3h0M129.7 58.7h0M130.3 58.8h0M138.0 57.9h0M129.3 56.0h0M129.9 55.3h0M133.2 52.9h0M134.5 54.8h0M130.6 58.4h0M135.4 56.0h0M132.0 53.7h0M130.7 60.5h0M131.3 54.8h0M132.7 60.5h0M137.5 56.0h0M132.0 52.7h0M135.2 53.4h0M132.9 57.1h0M128.2 55.2h0M127.6 54.5h0M131.1 56.6h0M133.0 58.3h0M133.2 59.7h0M134.1 57.1h0M135.8 56.2h0M134.0 54.9h0M126.0 55.3h0M132.8 50.9h0M135.2 54.3h0M133.2 53.1h0M126.7 57.7h0M131.1 52.3h0M134.1 56.9h0M131.5 60.3h0M132.3 57.6h0M134.2 56.8h0M131.8 57.1h0M134.5 58.8h0M132.6 56.5h0M128.4 58.9h0M139.5 55.6h0M128.6 55.2h0M139.6 55.2h0M135.3 61.1h0M129.7 58.7h0M135.0 57.3h0M135.2 60.1h0M139.9 59.4h0M133.9 59.4h0M130.4 53.3h0M136.3 56.5h0M134.3 58.0h0M140.5 59.7h0M129.6 56.4h0M134.5 61.2h0M131.6 55.0h0M140.1 57.8h0M124.8 55.9h0M133.3 61.7h0M127.2 57.2h0M132.8 51.6h0M140.1 58.8h0M134.7 57.9h0M139.5 57.3h0M125.4 57.2h0M138.0 56.5h0M134.5 58.9h0M130.6 58.0h0M131.9 57.0h0M131.8 61.4h0M128.5 57.0h0M131.6 55.0h0M126.9 57.2h0M130.0 52.7h0M131.2 58.4h0M137.2 55.1h0M131.2 55.1h0M139.0 58.9h0M133.8 56.4h0M130.7 59.8h0M129.4 55.7h0M132.6 58.0h0M131.6 58.9h0M133.0 58.2h0M127.5 55.9h0M134.2 59.5h0M131.3 56.8h0M128.8 55.5h0M135.4 53.3h0M131.0 55.7h0M137.1 55.7h0M133.8 51.7h0M135.4 59.0h0M129.7 53.7h0M134.5 54.9h0M131.4 63.3h0M137.3 57.1h0M128.8 53.9h0M134.2 54.7h0M132.4 50.4h0M135.8 54.1h0M130.8 56.6h0M134.8 58.1h0M126.9 56.9h0M132.9 55.3h0M124.8 57.5h0M128.1 55.3h0M130.4 58.0h0M138.8 62.1h0M135.3 55.2h0M131.6 60.7h0M129.7 55.2h0M130.9 51.3h0M138.2 56.8h0M129.4 59.2h0M130.8 58.3h0M131.9 56.3h0M133.9 60.0h0M136.6 55.8h0M132.9 56.3h0M130.3 52.7h0M136.3 52.0h0M133.5 59.2h0M134.7 58.9h0M131.4 60.7h0M131.9 53.2h0M132.4 57.8h0M133.0 58.3h0M131.4 50.6h0M141.6 57.5h0M130.1 55.6h0M128.0 58.1h0M132.0 56.7h0M134.8 57.1h0M134.9 59.1h0M133.5 56.0h0M129.7 59.4h0M129.3 57.4h0M133.4 62.1h0M132.4 53.7h0M131.1 52.1h0M128.8 61.7h0M133.0 51.7h0"/>
<path stroke="#acdaf7" stroke-opacity="0.9" stroke-width="1.1" stroke-linecap="square" d="M142.6 49.5h0M141.3 57.0h0M139.7 51.7h0M142.8 57.2h0M141.8 58.3h0M156.2 43.7h0M157.8 44.2h0M150.9 45.7h0M142.9 48.9h0M140.9 47.8h0M143.5 51.5h0M140.0 47.7h0M140.5 50.7h0M138.8 55.5h0M146.1 49.6h0M151.0 45.7h0M146.5 51.3h0M140.3 49.2h0M140.9 57.3h0M154.3 58.5h0M145.6 45.7h0M149.0 48.1h0M148.4 52.9h0M143.0 52.1h0M142.7 56.6h0M138.6 48.4h0M145.8 52.9h0M152.6 46.5h0M152.0 56.4h0M143.9 45.0h0M154.0 55.9h0M136.0 50.3h0M146.4 49.9h0M145.7 52.5h0M153.7 44.7h0M159.7 47.7h0M149.6 50.7h0M145.3 49.3h0M149.7 50.1h0M151.1 54.1h0M156.5 49.7h0M141.2 57.0h0M137.8 53.9h0M144.1 49.6h0M142.3 48.2h0M154.7 46.3h0M144.0 56.9h0M133.8 50.4h0M137.5 53.2h0M143.3 56.3h0M145.2 57.5h0M147.9 54.8h0M149.7 45.0h0M142.1 45.7h0M147.5 53.5h0M141.2 48.7h0M142.9 52.9h0M141.8 56.3h0M144.1 51.3h0M152.3 50.1h0M134.1 49.2h0M145.4 54.2h0M151.1 52.3h0M160.5 50.2h0M141.1 51.5h0M138.7 50.0h0M147.5 54.6h0M139.3 46.6h0M152.1 52.6h0M135.6 49.3h0M154.6 55.1h0M144.4 52.1h0M150.8 54.5h0M140.1 54.7h0M140.8 52.2h0M143.2 47.3h0M152.9 44.6h0M142.7 46.9h0M145.2 57.6h0M153.2 54.5h0M135.2 52.5h0M144.3 57.5h0M138.5 46.7h0M143.9 51.2h0M137.1 54.0h0M154.1 52.9h0M140.6 59.9h0M153.3 51.9h0M139.9 56.4h0M145.9 57.2h0M152.6 48.3h0M140.5 50.5h0M140.1 47.3h0M145.8 46.9h0M145.6 49.3h0M144.2 56.3h0M146.3 58.0h0M137.9 51.2h0M144.2 54.8h0M153.8 52.8h0M154.8 51.2h0M137.8 49.1h0M139.9 54.1h0M145.8 54.9h0M136.5 55.4h0M152.1 52.8h0M140.7 55.6h0M150.9 47.9h0M151.6 54.1h0M141.4 52.8h0M144.9 57.5h0M151.4 55.3h0M144.8 50.6h0M154.5 56.1h0M150.2 42.4h0M151.2 42.5h0M135.4 49.6h0M136.0 49.8h0M144.9 55.2h0M147.9 55.6h0M132.8 49.6h0M138.4 50.8h0M138.9 54.1h0M143.5 49.3h0M146.6 45.2h0M144.2 59.5h0M138.7 51.5h0M143.6 56.9h0M149.3 43.9h0M146.4 48.4h0M135.5 53.4h0M141.9 56.9h0M152.3 42.5h0M145.0 50.5h0M147.4 54.4h0M141.0 49.2h0M145.3 51.6h0M135.3 50.0h0M145.1 51.1h0M150.6 44.7h0M157.1 53.1h0M142.9 59.1h0M145.4 56.4h0M141.0 49.7h0M148.8 48.5h0M145.3 53.2h0M142.9 52.4h0M144.3 50.0h0M147.5 54.0h0M145.0 47.5h0M147.3 56.5h0M147.0 57.1h0M148.0 52.2h0M144.7 48.1h0M140.4 56.1h0M145.0 48.9h0M141.9 53.7h0M149.5 58.1h0M154.1 52.7h0M142.2 50.1h0M145.7 53.8h0M144.0 57.3h0M159.5 51.7h0M141.8 46.0h0M149.6 50.1h0M148.5 49.4h0M151.0 52.1h0M152.3 55.0h0M145.8 53.8h0M141.8 56.7h0M146.2 52.9h0M151.8 42.9h0M143.5 56.6h0M133.8 52.1h0M137.3 49.7h0M146.6 53.2h0M144.9 50.0h0M157.9 42.2h0M151.8 49.0h0M154.7 49.8h0M140.3 54.2h0M140.4 51.4h0M142.8 48.9h0M148.9 47.1h0M139.5 49.0h0M141.0 58.0h0M146.3 48.0h0M147.5 52.4h0M142.4 53.7h0M156.2 46.6h0M136.6 47.0h0M143.8 57.6h0"/>
<path stroke="#3ea8ee" stroke-opacity="0.9" stroke-width="1.1" stroke-linecap="square" d="M158.5 65.5h0M141.8 64.5h0M155.0 63.1h0M161.8 63.3h0M162.3 60.4h0M130.2 66.2h0M161.8 63.3h0M149.4 65.1h0M147.1 65.9h0M164.4 62.5h0M166.1 67.3h0M149.5 64.7h0M152.6 61.0h0M147.5 67.2h0M148.9 64.7h0M149.5 62.1h0M138.2 67.0h0M150.9 64.9h0M164.7 65.1h0M146.3 62.2h0M148.8 63.9h0M151.1 64.4h0M150.6 63.3h0M151.4 65.2h0M156.0 65.7h0M157.2 65.9h0M155.0 66.7h0M156.7 64.7h0M158.8 63.6h0M163.0 63.2h0M150.3 63.6h0M143.2 64.8h0M162.3 66.8h0M144.6 64.1h0M146.1 68.7h0M156.5 63.8h0M145.1 63.9h0M148.5 64.5h0M158.0 62.6h0M154.5 61.8h0M162.7 62.1h0M156.7 66.7h0M142.6 67.7h0M162.8 60.2h0M159.2 66.4h0M139.0 65.5h0M147.9 65.2h0M151.4 66.7h0M167.3 66.0h0M152.7 66.9h0M153.8 65.3h0M160.5 62.1h0M155.1 66.8h0M150.1 61.5h0M155.5 65.9h0M155.0 63.2h0M158.0 61.4h0M150.2 65.9h0M154.3 64.5h0M158.5 62.5h0M144.2 66.1h0M142.3 64.2h0M165.9 65.0h0M131.1 63.7h0M159.2 65.4h0M143.7 66.5h0M156.9 62.4h0M157.7 67.4h0M144.9 62.4h0M151.0 66.0h0M150.0 63.5h0M151.2 63.8h0M155.4 62.6h0M156.5 64.4h0M155.8 64.3h0M152.5 63.3h0M157.1 65.5h0M164.0 65.4h0M147.4 64.8h0M168.8 65.0h0M159.8 61.9h0M153.3 65.4h0M157.0 65.0h0M154.4 70.2h0M133.7 64.1h0M146.7 66.1h0M143.2 64.4h0M159.4 66.7h0M159.4 65.5h0M168.4 65.7h0M163.7 65.3h0M160.4 61.2h0M161.7 63.3h0M152.2 64.6h0M154.9 63.6h0M161.6 63.3h0M166.8 69.3h0M154.2 63.4h0M150.8 66.9h0M158.8 64.8h0M161.1 64.3h0M149.0 68.2h0M140.7 65.7h0M148.6 62.8h0M156.8 65.1h0M157.7 63.3h0M155.4 68.2h0M167.3 65.4h0M138.5 65.6h0M146.5 66.2h0M157.1 66.8h0M163.8 62.7h0M139.0 65.7h0M171.0 63.3h0M151.6 65.6h0M148.0 64.9h0M146.5 68.0h0M160.0 62.8h0M174.9 65.9h0M151.3 64.3h0M166.9 62.3h0M150.1 65.1h0M159.4 65.4h0M160.3 63.7h0M153.1 62.6h0M143.9 64.2h0M151.3 67.4h0M139.6 66.7h0M149.4 59.2h0M167.2 62.5h0"/>
</g>
<line x1="184.2" y1="27" x2="184.2" y2="81.5" stroke="#555" stroke-width="1.1"/>
<line x1="115.5" y1="27" x2="184.2" y2="27" stroke="#8a8a8a" stroke-width="1.4"/>
<line x1="115.5" y1="81.5" x2="184.2" y2="81.5" stroke="#333" stroke-width="1.2"/>
<line x1="115.7" y1="27" x2="115.7" y2="81.5" stroke="#333" stroke-width="1.3" stroke-dasharray="1 1.2"/>
<text x="117" y="88.4" font-size="4.8" stroke="#666" stroke-width="0.12" text-anchor="middle" fill="#666">0</text>
<text x="130.4" y="88.4" font-size="4.8" stroke="#666" stroke-width="0.12" text-anchor="middle" fill="#666">200</text>
<text x="143.9" y="88.4" font-size="4.8" stroke="#666" stroke-width="0.12" text-anchor="middle" fill="#666">400</text>
<text x="157.3" y="88.4" font-size="4.8" stroke="#666" stroke-width="0.12" text-anchor="middle" fill="#666">600</text>
<text x="170.8" y="88.4" font-size="4.8" stroke="#666" stroke-width="0.12" text-anchor="middle" fill="#666">800</text>
<text x="184.2" y="88.4" font-size="4.8" stroke="#666" stroke-width="0.12" text-anchor="middle" fill="#666">1000</text>
<ellipse cx="152.7" cy="64.6" rx="21" ry="6.9" fill="none" stroke="#4a4a4a" stroke-width="1.1"/>
<g filter="url(#sb)">
<path stroke="#1890e2" stroke-opacity="0.9" stroke-width="1.1" stroke-linecap="square" d="M202.3 64.9h0M200.2 71.3h0M199.7 67.8h0M197.6 67.6h0M196.4 67.3h0M203.3 65.8h0M199.3 68.4h0M200.9 64.0h0M202.1 67.1h0M196.5 67.8h0M196.2 67.0h0M201.6 62.9h0M200.3 70.2h0M199.9 70.9h0M203.7 68.5h0M199.1 69.6h0M199.6 70.4h0M199.0 68.8h0M198.6 65.5h0M198.1 66.8h0M197.9 69.6h0M199.9 69.9h0M197.9 72.8h0M199.0 71.3h0M202.2 62.9h0M199.3 63.2h0M198.7 73.7h0M199.4 66.4h0M201.5 63.6h0M199.5 66.0h0M201.8 68.2h0M196.4 71.3h0M198.6 67.4h0M197.3 67.1h0M197.7 72.3h0M203.1 67.0h0M196.8 67.3h0M196.8 69.5h0M200.0 72.1h0M195.5 68.2h0M196.7 73.0h0M197.5 71.2h0M199.8 67.5h0M199.6 72.1h0M200.8 67.2h0M203.0 65.5h0M195.3 73.9h0M199.7 70.5h0M198.6 68.8h0M197.0 69.2h0M197.8 68.1h0M195.8 73.8h0M197.5 67.8h0M200.0 72.2h0M197.2 71.8h0M196.3 66.9h0M199.7 65.7h0M197.3 70.6h0M198.9 72.8h0M197.3 70.9h0M200.4 66.7h0M205.6 65.5h0M203.8 65.1h0M203.6 67.9h0M200.4 69.8h0M195.7 72.6h0M199.8 69.5h0M197.9 70.0h0M204.9 66.3h0M198.9 64.3h0M196.4 73.6h0M197.3 73.7h0M201.3 64.4h0M198.5 72.4h0M199.4 68.2h0M199.7 72.1h0M196.5 69.8h0M203.1 67.1h0M197.6 71.9h0M201.5 66.0h0M201.0 63.7h0M198.3 70.7h0M203.3 65.5h0M198.5 63.4h0M203.2 66.4h0M205.3 66.7h0M198.1 74.3h0M200.0 70.2h0M199.9 69.6h0M197.6 65.2h0M198.6 73.1h0M197.2 74.2h0M198.3 75.5h0M201.1 67.7h0M200.5 64.4h0M196.6 66.1h0M197.2 66.5h0M198.1 74.6h0M197.3 72.1h0M196.7 65.6h0M196.0 69.4h0M199.3 69.0h0M198.1 68.6h0M200.4 70.0h0M196.0 68.8h0M203.9 66.1h0M197.7 66.8h0M195.4 71.4h0M198.6 65.4h0M200.3 68.9h0M197.5 72.5h0M199.2 66.4h0M196.4 72.9h0M196.0 66.2h0M203.0 69.5h0M197.5 74.0h0M201.7 70.5h0M198.2 72.2h0M201.6 66.2h0M204.0 67.6h0M196.5 71.7h0M196.2 68.2h0M196.1 68.1h0M197.7 67.1h0M196.0 64.6h0M198.0 68.2h0M198.0 68.5h0M200.1 68.9h0M195.4 71.2h0M196.0 66.9h0M199.0 71.7h0M199.9 66.8h0M202.9 61.4h0M198.9 74.0h0M197.0 66.1h0M203.0 65.6h0M202.5 64.7h0M197.4 74.5h0M202.1 65.8h0M197.8 67.5h0M199.6 64.6h0M197.6 70.3h0M204.2 66.9h0M196.3 67.9h0M200.0 66.9h0M197.1 67.7h0M197.0 73.2h0M196.3 71.4h0M204.8 62.2h0M202.2 63.4h0M200.6 65.9h0M201.2 69.1h0M197.5 73.7h0M203.6 65.2h0M200.3 65.5h0M199.9 69.0h0M198.6 69.8h0M196.6 68.1h0M201.1 65.2h0M201.5 67.7h0M198.7 63.3h0M205.6 64.3h0M203.2 67.4h0M199.3 69.7h0M198.7 71.1h0M201.1 65.9h0M205.1 67.4h0M197.5 69.5h0M201.8 66.7h0M196.1 70.4h0M195.4 70.8h0M201.1 70.0h0M200.4 62.9h0M197.4 71.7h0M199.5 66.8h0M198.2 69.5h0M201.3 68.0h0M202.0 66.9h0M199.4 69.0h0M199.6 70.2h0M198.9 68.9h0M199.6 67.0h0M198.9 67.6h0M197.4 73.6h0M202.4 64.1h0M197.0 68.5h0M198.9 74.2h0M200.2 64.6h0M198.7 70.0h0M198.1 65.7h0M204.5 67.2h0M196.1 68.5h0M204.9 67.9h0M197.3 69.8h0M198.1 61.6h0M203.1 64.5h0M197.9 67.5h0M198.5 67.6h0M199.2 72.1h0M197.8 63.4h0M199.6 74.1h0M199.3 69.4h0M202.3 63.5h0M205.7 65.5h0M200.8 64.4h0M198.8 70.6h0M202.1 63.7h0M197.5 71.3h0M196.9 75.0h0M202.3 65.7h0M198.5 73.2h0M199.8 71.0h0M201.1 64.4h0M197.0 71.8h0M197.9 69.9h0M200.4 69.2h0M206.4 62.8h0M200.4 68.8h0M197.1 72.9h0M204.2 64.9h0M201.3 64.4h0M199.1 70.2h0M204.1 64.5h0M196.1 73.4h0M204.7 66.1h0M197.4 70.9h0M203.7 65.7h0M203.4 67.4h0M198.1 70.4h0M196.2 71.5h0M201.4 68.2h0M201.7 62.8h0M202.5 67.0h0M200.3 67.3h0M204.1 64.9h0M196.4 70.9h0M201.3 70.1h0M200.6 66.4h0M199.3 67.2h0M202.2 70.2h0M198.2 71.0h0M200.3 68.8h0M199.1 64.4h0M197.5 70.7h0M198.2 67.1h0M201.1 69.4h0M200.6 65.4h0M198.1 67.7h0M200.9 66.8h0M200.8 62.6h0M202.1 65.9h0M201.0 67.2h0M197.2 70.1h0M205.6 66.1h0M196.7 73.5h0M205.1 66.1h0M200.5 70.7h0M199.1 66.5h0M196.7 72.1h0M201.6 68.7h0M196.9 65.6h0M202.5 65.6h0M198.4 68.2h0M197.4 70.8h0M198.6 71.2h0M201.1 69.4h0M202.8 64.4h0M197.5 67.4h0M195.7 73.4h0M195.8 73.5h0M197.8 72.5h0M200.9 65.2h0M195.8 69.3h0M199.8 72.8h0M197.6 68.7h0M201.2 61.9h0M202.4 66.6h0M198.6 66.8h0M198.5 65.8h0M198.3 72.5h0M198.1 67.8h0M202.2 67.3h0M198.7 70.5h0M200.5 72.9h0M198.9 66.9h0M202.4 67.5h0M199.1 72.2h0M201.7 68.4h0M201.0 65.2h0M198.1 72.1h0M198.3 63.5h0M200.4 62.1h0M200.4 70.7h0M199.1 71.2h0M197.3 71.7h0M198.3 68.7h0M199.4 70.0h0M198.1 71.5h0M201.8 69.6h0M195.2 68.7h0M203.0 70.3h0M198.0 67.4h0M200.3 69.7h0M201.2 64.6h0M198.7 65.6h0M195.7 72.8h0M203.5 68.3h0M202.4 66.2h0M199.0 69.5h0M198.6 62.9h0M203.7 67.0h0M202.5 64.0h0M204.0 69.5h0M205.0 65.1h0M199.0 71.5h0M203.1 66.8h0M202.9 65.6h0M198.0 72.2h0M202.4 68.8h0M198.6 65.3h0M198.4 67.5h0M199.5 62.9h0M200.4 68.9h0M200.8 65.5h0M199.0 67.0h0M199.7 66.1h0M199.4 65.5h0M198.4 70.5h0M200.1 63.7h0M197.7 69.8h0M197.4 69.8h0M199.9 69.9h0M200.1 66.3h0M200.9 63.5h0M205.2 64.1h0M198.9 69.9h0M197.9 69.2h0M199.1 64.4h0M197.9 71.2h0M199.2 64.7h0M196.4 68.4h0M200.2 69.6h0M198.6 63.7h0M202.1 67.1h0M195.6 74.4h0M195.5 71.7h0M202.6 67.8h0M199.8 75.2h0M205.3 64.1h0M202.6 65.6h0M196.3 69.5h0M202.6 64.9h0M200.3 68.0h0"/>
<path stroke="#3ea8ee" stroke-opacity="0.85" stroke-width="1.1" stroke-linecap="square" d="M209.8 61.4h0M204.2 59.5h0M205.2 65.3h0M201.6 63.0h0M205.5 57.3h0M209.0 63.4h0M207.0 64.8h0M202.0 61.4h0M204.6 56.8h0M206.9 53.8h0M202.0 62.7h0M207.7 61.7h0M205.6 65.2h0M203.8 60.5h0M211.1 61.1h0M206.3 55.1h0M202.7 62.4h0M206.8 63.9h0M208.8 63.5h0M208.6 57.3h0M206.1 63.0h0M203.3 59.2h0M204.5 63.2h0M208.0 61.1h0M200.7 60.9h0M211.7 61.7h0M201.9 59.0h0M206.3 61.2h0M203.9 62.2h0M209.4 59.7h0M209.1 57.6h0M202.9 61.1h0M204.3 62.9h0M210.2 59.5h0M205.2 62.8h0M208.1 61.0h0M204.1 59.6h0M205.4 58.1h0M200.9 63.2h0M212.4 60.4h0M210.0 59.7h0M200.0 59.1h0M205.9 58.9h0M207.3 60.1h0M202.1 60.4h0M204.8 62.0h0M203.6 60.5h0M206.3 55.8h0M206.4 58.0h0M210.9 61.6h0M206.6 61.5h0M204.1 65.8h0M204.0 63.6h0M205.2 63.4h0M200.4 62.7h0M209.9 56.2h0M209.1 60.9h0M203.9 61.2h0M206.1 59.3h0M209.9 61.6h0M203.4 57.7h0M210.3 57.9h0M208.0 58.8h0M210.2 62.1h0M209.7 57.6h0M207.5 62.5h0M208.1 61.4h0M206.0 64.4h0M210.1 56.9h0M207.0 64.2h0M207.7 64.1h0M201.0 63.6h0M206.4 61.3h0M207.2 63.1h0M205.1 65.9h0M206.1 64.2h0M213.2 61.0h0M203.1 57.2h0M209.3 60.9h0M208.0 55.3h0M208.1 59.6h0M206.1 62.3h0M211.5 62.1h0M208.7 61.8h0M206.6 61.0h0M206.3 54.7h0M208.3 61.7h0M203.5 61.5h0M211.8 58.0h0M211.0 60.6h0M202.2 61.7h0M202.6 58.3h0M205.5 61.2h0M202.0 61.4h0M205.2 60.2h0M213.1 61.4h0M202.7 57.3h0M210.3 62.6h0M202.5 60.0h0M206.5 55.5h0M205.3 61.5h0M204.9 58.9h0M209.2 58.0h0M209.4 65.3h0M206.9 63.0h0M200.7 61.3h0M203.3 59.6h0M209.7 63.1h0M204.1 59.7h0M205.2 58.7h0M202.2 65.1h0M206.6 59.0h0M211.3 61.9h0M203.9 64.8h0M207.2 62.7h0M203.6 61.4h0M207.4 56.4h0M204.5 62.7h0M211.4 60.5h0M205.6 67.6h0M203.7 54.6h0M203.9 61.9h0M206.8 59.6h0M208.1 59.0h0M202.8 58.7h0M207.2 61.7h0M199.1 60.3h0M210.6 60.9h0M212.1 62.0h0M204.0 60.2h0M203.2 62.5h0M203.9 63.3h0M203.0 60.1h0M205.9 58.2h0M205.5 59.4h0M207.2 61.0h0M204.6 64.1h0M203.3 61.6h0M203.4 58.3h0M203.4 61.9h0M206.3 55.6h0M207.0 61.3h0M203.3 56.6h0M211.7 60.9h0M208.3 61.2h0M208.0 56.6h0M206.2 64.8h0M200.4 63.4h0M206.3 58.0h0M203.9 62.7h0M207.6 58.4h0M206.0 60.2h0M209.1 59.6h0M207.9 64.8h0M208.0 64.4h0M209.2 57.5h0M205.0 56.2h0M210.3 64.4h0M208.4 66.3h0M211.5 62.2h0M208.7 61.5h0M203.7 63.9h0M205.2 57.5h0M205.7 57.0h0M204.3 63.5h0M203.4 57.7h0M208.7 57.9h0M210.7 64.2h0M204.6 62.7h0M214.4 59.8h0M205.1 62.4h0M205.7 61.3h0M207.8 58.0h0M206.5 61.3h0M206.3 63.6h0M207.4 57.7h0M209.5 63.2h0M204.6 62.7h0M202.3 58.9h0M205.9 63.5h0M207.2 64.3h0M208.1 59.9h0M203.4 60.9h0M204.8 55.7h0M209.5 59.1h0M209.1 62.7h0M205.1 58.4h0M206.6 61.8h0M202.0 61.4h0M203.2 60.8h0M202.9 63.7h0M209.7 63.9h0M208.7 57.0h0M209.6 62.0h0M211.1 62.5h0M208.5 59.5h0M213.8 58.5h0M211.9 61.3h0M211.3 60.8h0M203.8 64.5h0M202.1 63.1h0M201.7 57.2h0M208.4 57.5h0M203.0 61.4h0M211.7 60.6h0M208.6 57.7h0M207.8 59.2h0M204.4 62.7h0M210.5 61.5h0M208.0 59.6h0M207.8 57.6h0M203.0 61.4h0M212.8 61.1h0M204.9 60.4h0M199.9 60.9h0M202.8 61.8h0M207.7 58.1h0M207.1 58.0h0M206.3 57.0h0M206.6 59.3h0M204.8 59.1h0M205.7 58.9h0M207.2 58.9h0M204.5 56.9h0"/>
<path stroke="#72c2f2" stroke-opacity="0.85" stroke-width="1.1" stroke-linecap="square" d="M209.7 55.2h0M217.1 56.6h0M209.8 52.9h0M209.4 54.7h0M216.4 57.5h0M220.4 57.0h0M215.0 58.9h0M222.1 60.7h0M215.8 53.6h0M214.2 51.3h0M206.6 54.8h0M215.7 58.2h0M213.2 57.3h0M215.3 54.8h0M213.5 50.5h0M210.8 54.2h0M209.8 58.5h0M211.8 60.2h0M211.6 57.4h0M212.2 53.2h0M216.0 59.8h0M207.7 54.5h0M212.2 59.0h0M217.0 54.9h0M211.8 56.2h0M213.2 57.8h0M209.6 52.9h0M214.5 54.6h0M214.5 60.0h0M218.5 59.6h0M212.5 58.2h0M214.8 57.2h0M211.1 58.0h0M216.7 54.3h0M209.8 54.6h0M221.6 60.0h0M214.5 60.5h0M212.3 57.2h0M221.2 57.1h0M212.4 56.4h0M214.2 55.9h0M216.4 55.9h0M209.7 52.4h0M209.2 55.5h0M211.6 50.0h0M218.5 55.2h0M218.0 56.0h0M215.5 58.8h0M223.5 59.6h0M212.7 60.8h0M206.7 55.2h0M211.6 56.4h0M216.6 53.0h0M213.2 53.5h0M211.1 56.9h0M217.6 57.1h0M208.1 54.5h0M217.4 58.4h0M217.7 56.6h0M213.1 61.2h0M211.7 49.3h0M211.7 55.7h0M212.2 56.0h0M214.5 55.5h0M213.8 55.7h0M212.7 62.5h0M214.1 56.5h0M217.1 60.3h0M212.7 56.7h0M215.1 51.0h0M209.7 59.1h0M212.7 57.4h0M216.9 62.2h0M215.1 57.6h0M220.5 58.5h0M212.3 58.4h0M216.0 59.6h0M210.9 57.6h0M217.6 57.4h0M222.2 56.1h0M216.8 55.7h0M219.4 54.7h0M212.1 53.0h0M213.4 56.5h0M213.6 57.9h0M211.1 57.6h0M213.8 49.5h0M213.9 53.3h0M209.3 55.3h0M209.1 56.4h0M210.5 56.0h0M214.0 58.2h0M218.2 56.9h0M214.2 61.0h0M210.7 54.7h0M215.4 54.6h0M209.1 52.1h0M213.6 57.7h0M217.0 59.3h0M211.9 57.2h0M212.6 55.4h0M211.9 55.8h0M219.1 57.7h0M212.7 57.7h0M217.5 52.5h0M214.6 54.8h0M211.5 53.8h0M214.5 54.6h0M217.7 55.5h0M210.9 57.6h0M211.5 49.3h0M211.7 54.1h0M215.0 59.6h0M215.6 57.7h0M218.6 57.9h0M219.7 57.6h0M216.3 56.5h0M212.1 60.0h0M212.1 57.2h0M210.9 58.6h0M206.8 52.6h0M209.8 57.0h0M213.2 55.3h0M216.5 60.4h0M213.4 58.2h0M215.2 55.1h0M217.8 53.7h0M215.7 51.2h0M216.3 49.5h0M214.3 58.1h0M212.0 56.9h0M219.4 58.8h0M209.6 59.2h0M216.0 59.4h0M208.0 58.7h0M218.7 59.4h0M210.2 56.3h0M214.3 60.2h0M216.9 60.8h0M208.6 56.2h0M211.2 52.5h0M213.0 59.7h0M214.0 54.2h0M212.1 56.8h0M216.5 56.4h0M210.6 56.2h0M215.2 59.1h0M211.8 54.1h0M207.6 57.5h0M216.9 54.4h0M207.8 56.0h0M212.1 53.2h0M216.9 56.7h0M216.5 56.1h0M218.7 60.3h0M206.9 54.6h0M216.5 59.8h0M213.0 56.5h0M207.5 53.2h0M218.6 58.3h0M208.7 55.8h0M211.4 54.4h0M209.6 55.5h0M208.6 55.6h0M208.2 51.5h0M208.3 54.4h0M210.2 53.0h0M212.0 55.6h0M213.9 53.7h0M213.6 52.5h0M215.6 50.7h0M221.0 57.5h0"/>
<path stroke="#acdaf7" stroke-opacity="0.9" stroke-width="1.1" stroke-linecap="square" d="M221.7 49.1h0M219.3 49.2h0M228.7 50.7h0M232.9 52.8h0M230.0 47.6h0M226.0 54.6h0M223.8 52.5h0M215.1 48.3h0M235.0 43.7h0M234.0 44.5h0M217.3 51.4h0M228.5 51.0h0M219.7 53.8h0M224.4 57.8h0M232.5 52.7h0M224.3 50.6h0M228.7 54.5h0M232.3 52.6h0M227.0 54.2h0M229.8 49.0h0M223.6 48.0h0M222.1 57.4h0M225.8 49.8h0M224.2 48.6h0M217.8 49.6h0M224.6 58.1h0M234.6 43.4h0M223.1 51.4h0M218.1 46.8h0M216.5 48.6h0M226.6 43.6h0M234.5 48.4h0M220.1 53.9h0M215.6 47.0h0M229.5 55.4h0M226.3 56.0h0M224.1 45.9h0M221.7 55.7h0M227.4 56.0h0M220.1 53.7h0M225.3 55.1h0M229.5 51.9h0M227.3 47.2h0M220.2 50.1h0M234.8 45.1h0M220.9 48.5h0M225.6 53.5h0M218.1 50.5h0M219.1 49.6h0M222.2 53.4h0M232.3 53.1h0M224.5 52.5h0M222.6 55.4h0M217.6 48.0h0M231.8 46.7h0M222.0 54.5h0M226.3 47.5h0M227.7 56.2h0M232.0 45.4h0M229.1 49.3h0M222.4 57.2h0M218.0 51.9h0M225.4 53.2h0M217.0 48.1h0M224.6 57.7h0M226.5 53.9h0M234.7 50.8h0M229.9 42.8h0M220.6 46.0h0M219.5 56.5h0M216.3 48.9h0M216.8 49.2h0M235.4 46.9h0M216.2 48.6h0M234.0 57.0h0M214.8 50.0h0M221.5 51.8h0M216.9 50.5h0M220.7 50.4h0M231.3 51.4h0M219.4 53.9h0M217.7 50.1h0M217.6 54.7h0M220.8 55.4h0M232.2 42.8h0M232.5 44.9h0M230.9 58.2h0M224.1 54.5h0M220.9 50.6h0M234.3 50.3h0M225.5 54.3h0M227.5 53.5h0M227.0 50.3h0M227.3 52.4h0M232.8 50.3h0M222.2 54.6h0M227.7 45.9h0M226.9 53.2h0M225.3 52.4h0M215.2 52.0h0M229.5 48.8h0M227.5 54.7h0M226.1 48.5h0M231.9 51.9h0M224.2 58.1h0M219.1 47.1h0M225.6 46.2h0M217.9 51.4h0M226.4 54.6h0M219.9 46.1h0M221.6 54.0h0M223.3 52.6h0M221.1 45.8h0M224.7 53.8h0M221.5 50.0h0M220.8 51.5h0M220.2 46.7h0M224.6 56.0h0M219.5 47.1h0M226.7 48.0h0M220.3 48.5h0M220.7 52.1h0M232.5 53.6h0M229.4 52.9h0M234.0 52.0h0M225.0 47.3h0M223.9 55.3h0M227.2 47.1h0M221.4 47.4h0M227.4 42.9h0M227.2 52.0h0M231.0 53.2h0M226.9 53.8h0M222.6 45.7h0M226.0 57.7h0M232.5 48.9h0M225.0 56.9h0M229.5 54.2h0M227.3 53.0h0M228.6 43.2h0M223.4 54.0h0M224.8 56.1h0M223.6 48.5h0M215.4 48.7h0M234.4 47.0h0M225.6 44.6h0M222.5 47.5h0M227.6 57.0h0M230.7 50.8h0M235.1 49.7h0M229.8 48.1h0M215.6 46.9h0M231.6 49.7h0M226.2 55.5h0M228.1 46.4h0M220.7 55.6h0M232.6 54.6h0M217.2 51.6h0M220.1 51.1h0M225.7 48.0h0M226.3 48.6h0M222.7 58.7h0M227.2 47.3h0M225.4 58.5h0M225.9 54.2h0M220.1 52.5h0M220.9 52.7h0M220.0 49.0h0M214.5 49.5h0M220.0 51.1h0M224.7 53.5h0M216.4 47.1h0M225.3 58.3h0M225.1 59.6h0M225.4 48.3h0M221.5 51.0h0M222.2 54.2h0M229.8 49.0h0M217.1 49.1h0M226.1 44.5h0M229.8 56.1h0M219.4 43.9h0M226.8 47.1h0M221.7 51.8h0M223.1 52.6h0M232.5 48.6h0M224.0 52.3h0M218.5 50.7h0M232.2 49.8h0M220.2 54.3h0"/>
<path stroke="#3ea8ee" stroke-opacity="0.9" stroke-width="1.1" stroke-linecap="square" d="M228.4 67.8h0M241.6 65.8h0M233.2 66.8h0M237.7 66.7h0M223.3 66.0h0M231.2 66.7h0M227.7 67.0h0M229.0 65.9h0M236.3 63.1h0M226.8 66.0h0M223.0 68.8h0M228.1 65.8h0M232.7 62.4h0M246.3 65.3h0M236.2 66.0h0M229.1 65.9h0M229.7 67.0h0M233.0 68.6h0M233.8 65.4h0M235.1 62.9h0M227.3 66.4h0M236.5 66.1h0M230.1 66.8h0M224.4 66.6h0M235.9 66.0h0M249.7 66.7h0M237.1 64.3h0M238.3 68.3h0M232.5 66.5h0M235.5 66.2h0M235.8 66.6h0M235.0 67.3h0M236.1 62.9h0M239.7 63.9h0M227.5 67.6h0M223.3 66.0h0M226.3 65.9h0M250.4 67.0h0M228.2 66.3h0M241.6 63.5h0M228.1 67.2h0M237.4 64.5h0M226.7 64.2h0M240.2 66.2h0M244.6 67.5h0M223.1 68.5h0M226.3 65.3h0M223.0 67.8h0M225.3 66.4h0M225.2 67.9h0M229.1 63.4h0M239.7 64.4h0M228.2 67.3h0M230.7 65.2h0M232.2 66.4h0M234.2 64.9h0M237.7 64.4h0M222.7 67.7h0M242.3 65.6h0M228.6 68.3h0M239.5 65.0h0M239.7 63.4h0M226.1 66.4h0M220.5 65.4h0M232.4 66.2h0M236.1 65.7h0M216.6 67.6h0M228.6 67.1h0M234.0 66.8h0M227.3 66.6h0M238.5 64.2h0M229.6 67.3h0M229.2 65.8h0M231.4 66.2h0M230.5 67.2h0M225.6 70.6h0M224.3 66.3h0M232.2 66.1h0M225.9 64.8h0M228.7 66.1h0M231.3 64.6h0M244.2 65.7h0M234.1 65.5h0M229.3 66.8h0M239.2 66.1h0M244.5 65.0h0M226.9 65.6h0M227.4 66.7h0M232.2 69.2h0M232.8 69.8h0M227.6 65.8h0M242.9 65.4h0M223.5 64.9h0M228.0 66.9h0M233.1 63.8h0M237.4 65.0h0M236.4 66.0h0M239.1 62.1h0M246.0 64.6h0M230.6 62.9h0M233.8 63.2h0M227.6 67.7h0M233.1 64.3h0M229.8 65.4h0M238.9 67.5h0M237.0 67.4h0M225.2 67.6h0M235.6 67.2h0M226.4 65.7h0M238.5 66.4h0"/>
</g>
<line x1="262.8" y1="27" x2="262.8" y2="81.5" stroke="#555" stroke-width="1.1"/>
<line x1="194.2" y1="27" x2="262.8" y2="27" stroke="#8a8a8a" stroke-width="1.4"/>
<line x1="194.2" y1="81.5" x2="262.8" y2="81.5" stroke="#333" stroke-width="1.2"/>
<line x1="194.4" y1="27" x2="194.4" y2="81.5" stroke="#333" stroke-width="1.3" stroke-dasharray="1 1.2"/>
<text x="195.7" y="88.4" font-size="4.8" stroke="#666" stroke-width="0.12" text-anchor="middle" fill="#666">0</text>
<text x="209.1" y="88.4" font-size="4.8" stroke="#666" stroke-width="0.12" text-anchor="middle" fill="#666">200</text>
<text x="222.5" y="88.4" font-size="4.8" stroke="#666" stroke-width="0.12" text-anchor="middle" fill="#666">400</text>
<text x="236" y="88.4" font-size="4.8" stroke="#666" stroke-width="0.12" text-anchor="middle" fill="#666">600</text>
<text x="249.4" y="88.4" font-size="4.8" stroke="#666" stroke-width="0.12" text-anchor="middle" fill="#666">800</text>
<text x="262.8" y="88.4" font-size="4.8" stroke="#666" stroke-width="0.12" text-anchor="middle" fill="#666">1000</text>
<ellipse cx="235.6" cy="64.6" rx="21.3" ry="6.9" fill="none" stroke="#4a4a4a" stroke-width="1.1"/>
<g filter="url(#sb)">
<path stroke="#acdaf7" stroke-opacity="0.8" stroke-width="1.1" stroke-linecap="square" d="M53.1 125.8h0M49.0 122.3h0M43.1 121.5h0M61.3 125.5h0M48.7 118.3h0M45.2 125.3h0M62.1 125.0h0M61.0 121.9h0M56.3 123.5h0M45.2 126.5h0M47.5 128.0h0M48.4 123.8h0M38.7 123.8h0M63.4 118.7h0M60.3 126.8h0M47.0 123.2h0M60.2 120.7h0M43.3 129.9h0M63.4 122.6h0M47.7 126.5h0M53.9 126.2h0M49.6 120.0h0M51.9 124.4h0M57.0 122.5h0M56.0 120.1h0M59.2 121.6h0M61.4 123.7h0M66.7 123.4h0M60.7 122.2h0M63.9 120.1h0M62.2 126.0h0M53.0 123.1h0M59.0 126.0h0M51.2 124.3h0M53.6 124.1h0M49.2 121.5h0M49.7 127.2h0M48.6 125.6h0M44.9 120.2h0M66.6 122.5h0M50.7 124.1h0M67.3 118.1h0M60.6 121.3h0M53.4 122.4h0M65.1 118.4h0M54.0 125.6h0M60.6 120.9h0M66.6 117.2h0M48.5 121.1h0M47.8 127.3h0M61.0 123.6h0M59.9 127.0h0M51.7 122.1h0M66.1 124.4h0M64.5 119.5h0M51.3 124.4h0M50.3 123.4h0M57.9 126.4h0M56.5 126.4h0M63.7 119.8h0M67.6 122.8h0M66.8 119.5h0M49.9 123.5h0M55.9 122.7h0M50.2 127.2h0M50.4 127.1h0M51.2 126.5h0M63.1 118.6h0M52.1 123.8h0M64.1 123.4h0M59.0 124.4h0M65.5 123.8h0M48.6 123.5h0M62.1 127.0h0M57.7 125.0h0M56.6 122.7h0M56.2 125.9h0M56.2 123.7h0M69.0 122.0h0M53.2 125.0h0M58.4 122.1h0M53.9 123.0h0M50.1 126.2h0M52.8 122.2h0M64.4 119.8h0M73.7 124.6h0M52.2 122.8h0M72.8 121.9h0M60.0 122.9h0M59.7 116.6h0M48.2 123.4h0M50.3 128.5h0M45.4 127.1h0M67.0 118.3h0M59.3 120.6h0M54.7 127.5h0M50.2 124.8h0M71.2 122.5h0M52.0 122.5h0M60.5 124.5h0M59.4 124.7h0M53.0 124.7h0M48.9 130.1h0M55.0 120.7h0M59.0 123.1h0M62.0 122.9h0M60.0 125.0h0M59.6 125.9h0M48.2 126.7h0M67.0 125.2h0M72.7 123.4h0M48.4 124.1h0M68.7 121.2h0M51.1 124.3h0M46.8 125.0h0M60.4 120.1h0M48.0 125.2h0M50.4 126.7h0M55.1 126.4h0M61.3 122.3h0M46.6 128.8h0M72.6 121.0h0M66.5 118.0h0M52.8 125.7h0M48.1 120.1h0M70.7 122.3h0M65.8 124.3h0M44.7 122.2h0M67.2 123.3h0M52.6 124.5h0M54.8 120.7h0M58.9 122.7h0M57.8 118.5h0M54.8 127.5h0M54.6 121.2h0M77.4 119.8h0M58.4 125.6h0M64.7 123.0h0M52.3 124.4h0M60.4 123.1h0M53.8 127.2h0M45.9 126.2h0M59.8 121.5h0M44.6 125.3h0M51.1 122.0h0M54.3 123.7h0M59.9 120.5h0M64.9 123.5h0M53.8 126.0h0M49.3 123.2h0M58.7 126.9h0M55.3 122.7h0M53.6 127.6h0M51.7 124.6h0M56.8 125.8h0M49.2 124.6h0M52.2 126.1h0M64.6 125.5h0M64.4 127.9h0M62.0 120.4h0M68.6 121.7h0M59.2 126.4h0M75.1 122.9h0M64.8 119.7h0M53.8 125.8h0M47.8 127.1h0M56.0 124.8h0M65.0 122.1h0M55.1 124.3h0M59.7 119.9h0M56.6 123.0h0M59.7 125.3h0M51.8 124.9h0M50.7 128.3h0M57.3 124.7h0M60.5 119.5h0M65.1 118.5h0M55.6 124.7h0M60.6 122.9h0M67.5 123.8h0M46.4 128.4h0M50.0 125.4h0M69.8 120.5h0M51.4 121.2h0M63.6 123.8h0M60.1 126.4h0M64.0 117.6h0M56.2 129.3h0M58.2 120.9h0M65.2 120.2h0M62.9 123.1h0M49.4 124.4h0M54.2 124.8h0M48.2 126.9h0M51.5 123.8h0M48.5 123.3h0M61.5 125.0h0M60.1 124.2h0M64.6 123.7h0"/>
<path stroke="#72c2f2" stroke-opacity="0.9" stroke-width="1" stroke-linecap="square" d="M47.9 124.1h0M51.3 126.9h0M52.9 125.4h0M57.4 126.7h0M49.6 122.6h0M53.2 131.1h0M49.2 130.4h0M49.3 131.4h0M47.5 124.7h0M43.8 132.4h0M44.9 127.7h0M58.1 123.1h0M54.3 126.7h0M51.6 127.4h0M52.1 128.7h0M47.4 129.4h0M50.2 126.1h0M46.6 129.8h0M49.1 125.3h0M54.6 125.2h0M50.6 124.3h0M51.2 133.1h0M46.6 132.0h0M53.9 118.6h0M50.2 120.6h0M48.5 123.0h0M48.6 126.5h0M50.6 128.0h0M50.2 127.7h0M50.6 127.3h0M48.9 122.9h0M58.2 124.5h0M47.5 133.4h0M51.5 128.5h0M49.9 128.1h0M47.5 130.1h0M47.7 128.0h0M47.1 129.7h0M50.4 125.8h0M53.4 129.9h0M49.4 125.8h0M44.6 128.0h0M45.3 135.5h0M52.9 126.7h0M48.6 134.1h0M51.3 121.6h0M54.7 127.0h0M48.4 133.6h0M48.5 125.4h0M44.4 132.5h0M47.1 128.9h0M50.1 119.1h0M56.5 129.5h0M55.9 122.2h0M42.6 130.0h0M56.6 125.6h0M53.7 129.8h0M48.1 124.3h0M47.7 128.3h0M50.1 128.5h0M52.6 125.8h0M52.1 127.6h0M47.5 134.8h0M45.2 124.2h0M44.0 135.0h0M50.6 126.6h0M48.5 130.2h0M50.1 126.5h0M45.1 132.0h0M51.7 128.2h0"/>
<path stroke="#72c2f2" stroke-opacity="0.9" stroke-width="1" stroke-linecap="square" d="M49.9 127.2h0M43.9 135.7h0M44.5 135.6h0M41.1 137.1h0M46.8 129.2h0M44.0 131.3h0M46.5 126.5h0M48.4 130.8h0M47.8 132.3h0M39.8 136.4h0M42.5 135.6h0M49.2 130.2h0M48.8 125.4h0M45.5 128.8h0M42.2 137.5h0M50.6 128.2h0M42.5 136.4h0M52.1 126.9h0M49.5 127.4h0M50.2 125.1h0M41.7 129.8h0M53.7 127.9h0M48.3 126.2h0M42.8 136.6h0M44.6 133.2h0M46.5 128.0h0M46.5 128.2h0M48.7 123.5h0M46.1 135.5h0M54.1 126.6h0M44.1 136.3h0M43.3 136.8h0M49.4 129.3h0M49.4 127.5h0M47.9 130.2h0M52.1 125.8h0M50.0 135.0h0M46.3 136.1h0M47.7 127.7h0M50.6 124.7h0M50.8 133.0h0M41.5 136.4h0M42.6 132.8h0M47.5 134.3h0M49.2 125.6h0M42.2 137.3h0M47.2 130.2h0M52.3 129.4h0M42.7 127.9h0M45.1 127.0h0M43.1 137.0h0M49.4 127.7h0M51.6 127.7h0M43.0 133.1h0M44.7 128.4h0M46.7 132.3h0M46.4 122.8h0M50.7 129.4h0M41.2 136.1h0M47.2 126.5h0M49.6 127.3h0M46.7 132.2h0M48.1 129.2h0M50.2 126.8h0M43.6 133.5h0M46.7 120.7h0M44.2 134.4h0M50.1 126.0h0M44.5 132.1h0M49.9 127.4h0M44.8 134.9h0M49.8 135.5h0M55.2 127.9h0M47.8 125.4h0M42.5 131.7h0M52.7 125.1h0M53.1 129.4h0M53.8 126.0h0M48.6 130.1h0M45.0 129.4h0M55.2 128.2h0M47.0 125.4h0M47.6 125.0h0M42.7 134.3h0M47.0 131.0h0M42.0 132.9h0M46.6 131.2h0M42.8 130.0h0M52.8 126.3h0M45.6 128.8h0M48.9 126.5h0M41.3 132.5h0M42.6 132.6h0M52.4 128.3h0M50.5 124.9h0M43.9 132.0h0M48.7 124.4h0M47.2 125.8h0M45.2 137.0h0M46.4 130.8h0M42.5 132.7h0M45.1 131.8h0M41.6 134.6h0M42.5 132.7h0M54.0 128.2h0M45.8 131.5h0M39.9 136.9h0M49.8 130.0h0M42.9 136.8h0M50.1 125.1h0M48.2 126.5h0M45.8 136.6h0M48.1 128.6h0M43.9 137.3h0M52.0 128.4h0M45.4 126.1h0M50.2 131.6h0M44.1 135.7h0M48.7 123.6h0M41.1 133.5h0M40.4 137.1h0M43.9 128.6h0M45.0 120.5h0M47.2 126.1h0M56.8 128.5h0M45.7 135.8h0M43.3 131.9h0M45.9 134.6h0M44.1 136.7h0M47.8 129.8h0M44.7 135.5h0M49.6 124.7h0M42.5 134.9h0M51.0 128.2h0M50.7 125.6h0M50.6 123.5h0M42.8 132.5h0M44.3 135.5h0M42.0 137.4h0M49.4 130.0h0"/>
<path stroke="#1890e2" stroke-opacity="0.9" stroke-width="1.1" stroke-linecap="square" d="M43.6 137.6h0M41.3 139.3h0M48.4 126.7h0M49.1 127.4h0M48.0 125.9h0M42.6 137.3h0M40.8 138.2h0M45.6 134.6h0M43.2 136.1h0M46.2 133.4h0M45.0 131.1h0M46.1 136.6h0M45.1 134.0h0M43.4 139.5h0M48.1 133.3h0M46.5 132.2h0M46.8 135.1h0M50.1 128.6h0M47.2 130.5h0M39.8 138.3h0M42.8 135.8h0M43.0 136.9h0M43.2 136.3h0M43.8 136.7h0M45.2 134.1h0M50.1 129.7h0M41.9 137.3h0M46.2 132.1h0M48.7 130.2h0M49.6 128.7h0M44.4 136.3h0M42.0 139.0h0M40.9 139.9h0M44.6 135.2h0M48.8 126.6h0M42.3 137.5h0M45.1 134.9h0M46.9 127.9h0M50.7 130.4h0M47.9 129.2h0M49.0 128.2h0M50.1 129.7h0M42.6 140.0h0M49.6 127.9h0M45.1 136.2h0M44.4 136.3h0M41.9 135.5h0M44.3 135.9h0M42.5 137.2h0M43.8 135.4h0M40.6 139.7h0M41.3 135.9h0M46.7 131.8h0M44.4 137.2h0M42.1 138.7h0M40.5 140.2h0M50.5 127.5h0M40.1 139.4h0M42.0 138.1h0M49.5 128.6h0M42.4 139.9h0M40.5 139.9h0M50.8 128.0h0M47.0 132.1h0M47.8 133.1h0M46.0 129.6h0M48.1 132.1h0M48.2 131.3h0M43.2 135.1h0M43.8 132.5h0M42.2 137.5h0M41.7 136.6h0M50.8 129.2h0M42.8 137.3h0M43.5 138.0h0M43.8 136.3h0M49.9 127.4h0M47.3 132.8h0M43.1 133.3h0M45.2 135.0h0M42.6 138.0h0M45.2 132.6h0M49.6 129.6h0M48.0 131.6h0M45.8 134.1h0M49.5 129.5h0M44.0 132.5h0M40.6 140.1h0M43.8 134.8h0M44.3 135.0h0M41.5 135.5h0M48.7 128.7h0M47.5 132.2h0M41.5 136.1h0M47.2 133.4h0M46.7 130.6h0M43.7 131.5h0M40.0 139.6h0M41.5 139.3h0M50.8 129.2h0M42.2 139.0h0M39.8 138.0h0M47.2 130.0h0M45.2 131.7h0M43.8 137.3h0M42.7 136.5h0M45.0 131.5h0M50.6 128.7h0M40.6 136.8h0M40.9 138.0h0M41.2 139.6h0M44.9 132.5h0M47.2 129.3h0M41.9 140.6h0M49.8 130.1h0M44.0 136.7h0M42.7 136.7h0M41.1 137.2h0M43.1 136.6h0M41.3 137.8h0M43.8 136.1h0M43.9 136.3h0M46.0 130.0h0M45.6 131.5h0M44.8 136.4h0M43.0 136.3h0M42.5 137.2h0M48.2 132.3h0M43.6 135.0h0M42.4 137.5h0M41.9 137.1h0M45.6 130.2h0M45.8 135.7h0M46.4 131.1h0M42.0 138.0h0M43.8 135.9h0M42.8 137.5h0M43.1 140.7h0M43.5 137.0h0M41.0 139.0h0M40.0 137.7h0M48.8 128.0h0M46.3 128.7h0M42.9 138.5h0M45.5 133.1h0M50.6 128.6h0M44.6 135.0h0M43.7 135.8h0M49.3 126.6h0M44.5 134.9h0M42.3 135.5h0M40.7 140.0h0M50.2 129.9h0M45.7 127.9h0M40.9 139.6h0M40.6 138.8h0M46.8 130.3h0M43.1 137.3h0M42.1 138.6h0M44.1 136.2h0M44.5 137.0h0M49.4 126.7h0M45.1 133.8h0M45.1 132.7h0M47.0 129.3h0M48.9 126.9h0M41.3 138.6h0M47.6 133.7h0M46.7 131.7h0M42.4 135.4h0M47.9 127.8h0M49.0 133.0h0M41.2 138.3h0M51.5 127.3h0M49.0 131.7h0M45.6 135.9h0M44.9 132.5h0M42.9 137.4h0M46.7 134.4h0M41.0 135.1h0M43.2 134.6h0M44.0 134.1h0M48.8 127.0h0M46.1 134.1h0M43.1 135.8h0M41.9 137.6h0M44.3 132.1h0M46.7 130.6h0M49.8 130.2h0M40.0 139.1h0M45.1 135.4h0M44.7 137.4h0M50.7 130.0h0M43.2 138.0h0M41.6 139.8h0M44.8 130.9h0M47.7 132.8h0M45.1 131.6h0M50.1 129.9h0M46.5 133.2h0M40.8 138.1h0M41.9 138.2h0M48.1 125.4h0M45.3 136.4h0M48.1 129.1h0M50.0 127.8h0M43.5 136.6h0M41.6 140.6h0M47.5 132.4h0M43.4 134.0h0M41.5 135.8h0M45.4 130.6h0M53.2 128.2h0M49.8 128.1h0M45.2 134.7h0M48.8 126.6h0M50.8 127.3h0M44.0 136.8h0M45.5 133.8h0M44.8 132.4h0M40.7 139.8h0M46.0 134.5h0M40.7 138.2h0M42.5 134.8h0M46.4 133.2h0M48.5 130.4h0M42.4 137.2h0M43.1 135.5h0M44.3 134.7h0M43.1 134.9h0M48.2 129.1h0M39.8 139.7h0M40.2 138.9h0M43.4 136.7h0M48.8 129.4h0M48.2 127.4h0M42.1 139.8h0M42.1 137.3h0M45.0 137.0h0M44.2 134.7h0M42.6 137.4h0M43.1 136.4h0M43.8 132.2h0M47.7 135.0h0M48.7 131.4h0M44.3 134.7h0M48.8 127.1h0M43.2 133.9h0M45.5 133.9h0M49.7 129.9h0M48.6 127.9h0M46.2 133.3h0M41.5 139.2h0M49.9 129.5h0M43.0 137.0h0M45.6 132.5h0M42.6 139.0h0M42.1 139.7h0M43.6 136.0h0M44.8 138.6h0M48.9 128.0h0M44.3 136.2h0M42.9 136.1h0M43.0 133.6h0M40.2 137.2h0M49.2 129.3h0M41.0 138.5h0M40.5 139.6h0M44.6 132.3h0M45.3 131.9h0M41.0 139.0h0M40.9 140.3h0M45.5 129.5h0M48.0 134.3h0M42.8 135.5h0M44.2 130.8h0M41.3 138.1h0M45.0 137.3h0M45.7 132.6h0M43.7 137.3h0M49.3 127.7h0M44.0 134.3h0M39.4 138.9h0M42.8 136.9h0M45.5 131.6h0M47.2 134.4h0M46.7 131.2h0M43.9 136.9h0M51.3 129.0h0M48.4 132.7h0M41.1 138.3h0M43.0 135.4h0M48.7 126.8h0M42.5 138.2h0M44.6 135.5h0M40.9 139.0h0M41.2 137.5h0M46.9 131.1h0M47.9 132.2h0M42.2 138.9h0"/>
<path stroke="#1890e2" stroke-opacity="0.9" stroke-width="1.1" stroke-linecap="square" d="M48.7 130.9h0M64.0 130.3h0M62.0 128.9h0M56.8 132.4h0M60.2 130.2h0M64.6 132.4h0M54.1 126.8h0M65.1 126.8h0M54.9 131.7h0M59.2 131.6h0M61.1 133.4h0M58.0 129.3h0M58.2 130.2h0M55.5 132.9h0M45.2 135.8h0M50.7 129.2h0M55.7 130.2h0M57.0 130.5h0M57.3 131.8h0M48.7 133.9h0M65.9 131.8h0M55.8 128.8h0M50.2 133.5h0M59.8 129.0h0M60.9 130.7h0M61.6 127.9h0M56.9 134.3h0M68.3 131.4h0M60.2 133.0h0M70.4 131.2h0M55.1 129.5h0M54.7 134.6h0M65.2 131.1h0M57.2 128.6h0M67.6 127.1h0M57.7 133.2h0M49.3 129.1h0M49.1 130.2h0M66.5 132.9h0M56.9 132.1h0M65.8 131.7h0M53.0 129.6h0M60.4 130.6h0M65.7 129.7h0M60.6 130.5h0M55.0 133.3h0M54.0 133.0h0M62.6 129.8h0M52.8 129.0h0M65.5 131.4h0M67.4 127.8h0M60.6 132.4h0M53.7 132.2h0M55.9 131.9h0M63.7 127.9h0M55.7 130.3h0M51.5 135.6h0M53.8 131.3h0M62.7 130.7h0M58.8 131.1h0M55.0 133.6h0M57.7 130.5h0M70.4 130.3h0M64.4 132.1h0M57.8 130.3h0M61.4 132.1h0M58.5 132.5h0M58.0 129.4h0M64.0 132.5h0M63.4 130.3h0M62.2 131.2h0M68.1 131.3h0M68.4 132.0h0M61.3 129.0h0M65.4 130.2h0M55.1 128.9h0M55.6 131.7h0M55.1 130.6h0M58.4 134.9h0M60.2 130.6h0M56.2 128.2h0M59.0 130.4h0M60.7 130.5h0M66.8 129.7h0M54.3 127.6h0M59.0 130.4h0M59.7 129.3h0M60.3 128.9h0M62.4 133.7h0M52.7 129.3h0M61.6 130.1h0M52.2 133.6h0M63.1 130.3h0M60.5 130.0h0M56.3 128.1h0M63.5 127.9h0M64.5 132.1h0M58.5 134.5h0M58.2 129.5h0M53.0 128.7h0M57.1 129.5h0M60.3 131.7h0M61.5 129.7h0M53.6 132.7h0M68.2 132.0h0M58.1 129.0h0M50.6 129.3h0M51.3 130.3h0M63.1 132.9h0M62.3 127.5h0M68.8 130.5h0M67.6 130.7h0M65.4 130.6h0M55.7 132.3h0M59.8 128.9h0M78.0 128.2h0M63.1 130.1h0M52.7 131.7h0M63.8 131.1h0M62.6 128.7h0M63.6 133.9h0M43.7 130.4h0M49.7 134.4h0M64.1 128.1h0M55.3 129.2h0M70.3 131.1h0M62.1 132.3h0M56.3 131.4h0M63.5 131.5h0M58.1 127.9h0M52.5 130.8h0M61.3 130.9h0M61.0 130.1h0M57.7 128.4h0M56.3 131.0h0M70.3 129.2h0M60.1 131.1h0M61.7 132.0h0M58.1 132.4h0M60.4 130.8h0M71.9 131.8h0M62.2 127.7h0M62.0 127.8h0M57.6 131.6h0M58.1 125.9h0M66.2 128.7h0M49.9 130.4h0M51.5 131.4h0M57.3 132.4h0M56.0 131.2h0M52.0 132.3h0M62.1 132.1h0M42.4 131.7h0M58.3 132.6h0M61.4 128.9h0M58.1 129.7h0M55.2 132.4h0M60.5 130.1h0M73.4 130.0h0M57.5 132.2h0M60.4 131.6h0M57.1 131.2h0M63.0 131.4h0M56.3 132.1h0M62.1 128.8h0M49.6 131.0h0M48.4 131.2h0M61.9 130.7h0M60.0 130.0h0M55.7 131.3h0M52.8 130.4h0M60.8 131.0h0M53.8 130.3h0M56.3 132.3h0M71.8 131.7h0M55.4 130.8h0M59.3 132.0h0M54.2 131.6h0M54.0 130.3h0M65.9 129.2h0M55.4 131.6h0M60.8 128.4h0M66.7 131.3h0M59.3 132.9h0M67.8 129.8h0M56.4 130.1h0M60.5 131.3h0M53.8 132.7h0M58.9 131.8h0M59.5 129.0h0M54.1 131.6h0M51.5 132.4h0M61.4 134.3h0M63.1 131.1h0M61.4 130.9h0M61.7 128.0h0M61.6 127.4h0M54.2 134.6h0M53.8 135.1h0M62.5 129.6h0M52.2 129.4h0M52.0 132.6h0M53.0 133.9h0M67.0 131.1h0M61.1 129.1h0M64.3 127.5h0M51.6 127.0h0M65.2 129.9h0M64.7 131.3h0M59.0 132.3h0M47.8 130.8h0M51.9 131.1h0M67.1 128.2h0M59.9 129.8h0M56.1 131.0h0M71.4 132.5h0M60.5 129.6h0M54.2 132.1h0M56.5 133.6h0M60.9 131.4h0M63.8 130.9h0M55.2 133.6h0M58.6 133.2h0M58.2 133.0h0M61.3 131.5h0M70.1 130.7h0M65.1 127.6h0M64.4 130.6h0M61.0 133.0h0M65.0 128.9h0M59.9 128.9h0M62.3 134.8h0M67.6 130.1h0M59.2 132.6h0M54.7 131.4h0M60.3 129.9h0M51.9 129.7h0M50.6 130.4h0M59.8 129.2h0M63.5 129.3h0M65.6 131.1h0M60.1 129.6h0M55.4 134.0h0M56.2 134.3h0M58.5 127.6h0M60.0 131.1h0M53.8 127.8h0M58.8 127.5h0M49.7 129.6h0M63.9 131.9h0M61.3 134.7h0M60.6 130.4h0M64.6 132.7h0M66.6 128.4h0M61.6 130.1h0M54.4 127.8h0M55.8 129.1h0M50.9 128.5h0M66.6 130.2h0M54.7 133.2h0M67.3 127.7h0M57.7 132.8h0M61.3 130.9h0M50.3 132.9h0M58.1 127.9h0M56.4 130.1h0M54.5 129.0h0M57.7 129.9h0M49.8 133.3h0M65.4 131.3h0M57.3 130.7h0M57.0 133.2h0M61.3 129.2h0M53.5 131.1h0M62.0 129.7h0M60.0 130.5h0M70.1 130.5h0M65.6 130.9h0M47.9 132.5h0M64.4 131.3h0M61.1 130.6h0M47.3 131.8h0M63.7 131.8h0M58.1 134.0h0M55.9 128.9h0M62.8 132.9h0M54.2 132.3h0M62.3 129.0h0M66.1 128.3h0M54.8 134.4h0M65.4 131.0h0M54.7 133.3h0M57.0 131.9h0M60.2 130.4h0M64.4 130.7h0M60.7 131.9h0M65.9 131.2h0M56.1 131.9h0M60.7 130.2h0M62.3 125.9h0M58.0 131.0h0M56.8 133.9h0M59.3 131.4h0M57.6 131.0h0M54.7 135.6h0M60.2 133.0h0M54.5 130.9h0M72.1 131.4h0M57.4 131.1h0M59.2 129.8h0M56.5 129.0h0M57.1 131.4h0M61.8 131.7h0M62.4 131.2h0M56.9 129.1h0M61.1 132.6h0M62.8 131.0h0M59.9 133.1h0M55.5 132.3h0M65.2 132.0h0M67.1 126.0h0M62.9 128.7h0M58.6 126.7h0M55.0 127.5h0M65.6 128.2h0M56.5 130.5h0M62.2 130.7h0M61.6 130.4h0M51.3 130.1h0M49.9 131.6h0M57.4 131.0h0M63.5 129.2h0M49.7 128.9h0M67.0 132.9h0M58.2 128.6h0M54.9 133.7h0M58.6 127.9h0M64.0 128.4h0M58.8 131.8h0M57.6 134.2h0M59.5 128.7h0M59.1 129.8h0M57.0 131.1h0M60.5 129.1h0M58.9 134.7h0M60.9 130.4h0M56.1 129.9h0M58.1 129.7h0M61.2 128.6h0M60.2 132.0h0M56.0 129.1h0M62.3 129.5h0M55.1 128.4h0M63.9 129.0h0M62.3 131.3h0M67.5 128.6h0M56.4 132.6h0M48.7 131.0h0M53.3 130.7h0M56.5 127.8h0M64.1 132.0h0M61.0 131.6h0M68.2 131.0h0M56.6 129.4h0M63.3 130.0h0M53.2 129.1h0M52.2 131.6h0M58.1 130.6h0M63.3 133.9h0M66.2 130.0h0M62.8 130.8h0M59.7 130.9h0M59.5 130.5h0M55.2 133.9h0M49.2 132.6h0M56.2 133.3h0M63.7 127.1h0M59.6 133.5h0M59.8 131.8h0M61.3 128.7h0M59.1 130.3h0M58.9 132.6h0M56.2 129.8h0M55.5 132.0h0M62.2 133.2h0M67.7 131.5h0M51.5 129.2h0M60.0 130.3h0M59.4 130.3h0M60.1 130.4h0M60.1 131.6h0M57.5 129.5h0M62.4 129.7h0M56.6 127.9h0M49.8 131.4h0M60.7 135.0h0M63.8 128.0h0M54.6 131.1h0M54.0 130.9h0M57.3 129.1h0M59.6 129.8h0M53.0 131.3h0M54.4 132.5h0M66.3 130.6h0M64.5 127.1h0M56.3 133.0h0M53.4 131.7h0M52.2 128.8h0M67.2 130.6h0M62.2 131.7h0M54.3 130.8h0M54.2 133.7h0M71.1 127.8h0M63.7 130.8h0M59.4 129.5h0M67.5 133.5h0M63.7 127.5h0M52.2 131.3h0M60.4 131.4h0M58.5 129.9h0M62.4 131.2h0M54.6 132.0h0M57.6 132.9h0M50.7 131.8h0M59.3 129.6h0M48.4 130.9h0M57.5 130.7h0M58.8 133.5h0M69.0 127.3h0M55.7 131.0h0M53.8 129.1h0M66.3 132.5h0M53.0 133.2h0M59.6 130.8h0M62.9 130.9h0M59.4 126.8h0M50.3 129.8h0M61.4 131.4h0M60.4 130.3h0M51.5 134.3h0M66.4 130.3h0M61.8 132.6h0M62.8 130.8h0M61.1 134.1h0M58.0 133.3h0M68.7 129.0h0M56.5 129.6h0M51.3 133.2h0M59.0 132.7h0M56.7 130.8h0M57.7 131.5h0M57.2 133.6h0M53.9 134.3h0M52.6 131.5h0M60.0 132.2h0M62.0 133.3h0M59.5 131.5h0M48.8 131.0h0M52.2 132.4h0M61.0 130.5h0M54.9 129.1h0M57.3 130.3h0M62.6 128.9h0M60.5 133.6h0M47.4 134.6h0M53.7 132.8h0M54.7 131.4h0M63.8 132.5h0M53.5 130.8h0M55.8 131.9h0M65.4 129.9h0M55.7 130.9h0M65.6 132.8h0M65.5 132.0h0M59.8 131.2h0M51.0 133.4h0M54.7 129.4h0M57.6 129.0h0M54.1 132.2h0M60.0 129.6h0M68.2 129.2h0M56.5 131.9h0M59.9 129.9h0M60.4 128.1h0M65.2 128.7h0M64.4 125.0h0M66.7 131.8h0M57.0 129.7h0M54.5 134.5h0M60.5 129.8h0M64.8 125.7h0M56.1 129.0h0M59.8 132.2h0M64.9 132.5h0M51.8 131.3h0M56.4 128.8h0M67.2 131.7h0M58.1 129.7h0M61.0 132.5h0M61.3 131.9h0M63.2 132.3h0M60.9 132.0h0M55.4 129.7h0M61.1 129.4h0M60.3 130.8h0M59.9 132.8h0M51.4 130.4h0M68.0 131.6h0M56.6 132.3h0M56.5 132.1h0M60.2 128.9h0M67.9 132.8h0M53.4 127.5h0M52.0 132.0h0M56.1 133.0h0M61.9 132.6h0M59.5 130.7h0M63.4 130.1h0M52.0 129.9h0M54.0 131.3h0"/>
<path stroke="#72c2f2" stroke-opacity="0.8" stroke-width="1" stroke-linecap="square" d="M67.3 132.9h0M73.2 129.7h0M68.1 129.3h0M64.4 131.6h0M63.2 129.9h0M66.3 130.6h0M69.8 133.0h0M68.9 126.6h0M74.1 131.5h0M68.7 129.3h0M64.1 127.6h0M72.5 130.5h0M64.3 135.8h0M72.3 129.1h0M64.7 131.5h0M71.2 129.7h0M81.7 134.1h0M64.5 133.4h0M68.1 134.4h0M77.7 131.0h0M70.3 129.8h0M62.2 130.5h0M72.7 133.2h0M66.7 129.2h0M73.6 131.4h0M64.1 133.8h0M71.6 126.5h0M71.5 132.4h0M65.9 129.5h0M71.7 129.8h0M65.5 133.7h0M64.6 129.7h0M74.2 131.5h0M74.5 126.7h0M68.9 135.1h0M71.5 129.4h0M67.3 133.6h0M65.6 130.9h0M71.8 133.2h0M67.1 124.2h0M71.0 133.0h0M71.1 133.9h0M75.9 132.8h0M72.3 133.7h0M72.7 130.5h0M75.6 127.5h0M71.0 130.3h0M72.7 127.5h0M73.8 131.8h0M75.6 132.1h0M66.2 134.6h0M68.1 128.5h0M68.0 132.5h0M61.5 130.3h0M68.8 132.3h0M67.4 129.2h0M79.3 130.6h0M75.4 129.7h0M68.7 133.2h0M68.0 130.4h0"/>
</g>
<line x1="105.5" y1="93.3" x2="105.5" y2="147.8" stroke="#555" stroke-width="1.1"/>
<line x1="37.2" y1="93.3" x2="105.5" y2="93.3" stroke="#8a8a8a" stroke-width="1.4"/>
<line x1="37.2" y1="147.8" x2="105.5" y2="147.8" stroke="#333" stroke-width="1.2"/>
<line x1="37.4" y1="93.3" x2="37.4" y2="147.8" stroke="#333" stroke-width="1.3" stroke-dasharray="1 1.2"/>
<text x="38.7" y="154.7" font-size="4.8" stroke="#666" stroke-width="0.12" text-anchor="middle" fill="#666">0</text>
<text x="52.1" y="154.7" font-size="4.8" stroke="#666" stroke-width="0.12" text-anchor="middle" fill="#666">200</text>
<text x="65.4" y="154.7" font-size="4.8" stroke="#666" stroke-width="0.12" text-anchor="middle" fill="#666">400</text>
<text x="78.8" y="154.7" font-size="4.8" stroke="#666" stroke-width="0.12" text-anchor="middle" fill="#666">600</text>
<text x="92.1" y="154.7" font-size="4.8" stroke="#666" stroke-width="0.12" text-anchor="middle" fill="#666">800</text>
<text x="105.5" y="154.7" font-size="4.8" stroke="#666" stroke-width="0.12" text-anchor="middle" fill="#666">1000</text>
<ellipse cx="69.4" cy="130.9" rx="21.3" ry="6.8" fill="none" stroke="#4a4a4a" stroke-width="1.1"/>
<g filter="url(#sb)">
<path stroke="#1890e2" stroke-opacity="0.9" stroke-width="1.1" stroke-linecap="square" d="M120.5 138.0h0M117.6 139.0h0M123.2 136.4h0M118.9 138.5h0M118.8 139.0h0M120.7 133.7h0M119.0 135.5h0M117.7 141.5h0M119.1 135.6h0M119.7 135.6h0M122.2 134.1h0M119.7 139.8h0M118.4 140.2h0M122.5 132.2h0M119.5 138.3h0M119.6 131.7h0M120.7 132.1h0M122.3 133.5h0M118.3 134.5h0M120.4 130.6h0M121.7 131.3h0M121.9 132.3h0M118.9 135.4h0M120.9 133.5h0M119.9 137.3h0M118.4 138.0h0M123.3 131.8h0M123.3 136.7h0M119.0 133.5h0M119.7 129.9h0M121.6 133.2h0M119.0 134.1h0M119.9 133.8h0M118.6 133.7h0M120.3 134.5h0M118.4 132.7h0M120.2 136.5h0M121.7 130.7h0M116.9 130.7h0M119.7 138.7h0M118.2 140.2h0M121.1 134.0h0M120.5 132.2h0M121.6 130.9h0M121.4 135.5h0M118.9 131.3h0M119.3 133.0h0M117.7 139.5h0M119.3 138.1h0M122.2 134.5h0M122.6 128.9h0M123.2 131.5h0M120.3 135.9h0M119.5 136.0h0M118.7 135.4h0M119.0 135.8h0M119.7 138.2h0M119.1 135.6h0M118.3 137.1h0M122.0 134.1h0M119.4 130.8h0M125.0 131.2h0M120.5 133.3h0M122.1 134.2h0M120.6 129.9h0M116.7 135.0h0M120.5 135.1h0M119.1 132.1h0M120.2 133.9h0M119.6 131.6h0M122.5 135.3h0M120.1 135.9h0M121.0 134.1h0M120.9 134.3h0M120.1 139.0h0M124.4 130.3h0M119.1 137.1h0M118.8 137.9h0M120.5 133.3h0M124.0 131.8h0M120.3 137.3h0M119.7 134.3h0M120.0 141.1h0M123.0 134.8h0M116.9 136.7h0M118.8 136.2h0M122.6 130.0h0M124.1 130.1h0M119.4 138.0h0M121.7 137.5h0M118.4 139.3h0M119.5 138.9h0M119.8 133.2h0M118.5 138.1h0M120.4 135.2h0M118.6 135.5h0M118.1 137.4h0M119.0 136.6h0M119.2 135.0h0M121.7 132.2h0M117.3 139.7h0M118.8 136.6h0M121.1 134.3h0M120.6 133.2h0M120.9 132.3h0M124.3 131.9h0M121.6 132.0h0M122.2 131.0h0M127.0 131.8h0M117.9 132.7h0M120.4 138.8h0M121.3 130.8h0M120.7 137.1h0M119.8 136.6h0M119.1 136.3h0M119.4 134.9h0M121.3 132.8h0M122.1 131.4h0M117.7 129.9h0M118.6 137.9h0M118.8 137.6h0M120.5 133.9h0M124.1 136.1h0M119.4 136.0h0M120.7 136.2h0M118.8 138.2h0M118.4 138.9h0M118.7 135.9h0M119.1 136.5h0M120.1 134.5h0M120.9 130.8h0M119.1 132.6h0M124.2 136.0h0M122.9 132.5h0M119.9 138.2h0M118.1 139.9h0M123.9 133.7h0M119.7 134.0h0M123.6 130.3h0M117.3 134.3h0M118.9 137.0h0M120.9 134.7h0M119.8 136.9h0M123.0 134.4h0M118.3 137.1h0M121.1 135.0h0M117.9 136.9h0M121.8 134.4h0M119.1 137.7h0M120.7 135.9h0M122.8 131.1h0M122.4 132.7h0M120.1 131.8h0M121.7 132.2h0M122.8 132.0h0M119.2 137.7h0M120.4 137.5h0M119.8 134.7h0M122.0 135.3h0M121.4 137.1h0M119.7 133.8h0M120.2 130.0h0M119.1 134.7h0M116.8 139.5h0M118.3 133.2h0M119.4 140.6h0M120.7 138.1h0M123.1 133.0h0M119.6 136.6h0M119.1 136.2h0M119.3 133.9h0M118.4 138.4h0M122.9 135.3h0M120.2 138.1h0M122.8 132.6h0M121.1 134.7h0M118.5 137.8h0M124.1 131.6h0M119.8 138.4h0M122.4 136.2h0M119.6 137.4h0M120.6 132.6h0M119.3 135.3h0M121.9 131.7h0M117.8 141.0h0M118.6 135.0h0M118.3 134.8h0M120.7 134.0h0M119.0 135.6h0M122.2 134.2h0M117.9 134.4h0M119.5 139.7h0M118.8 134.1h0M120.2 130.5h0M120.8 135.7h0M121.1 135.0h0M119.0 132.3h0M120.3 139.2h0M119.8 131.7h0M124.3 131.6h0M124.3 132.2h0M119.3 135.7h0M118.9 131.5h0M122.4 133.6h0M121.2 134.9h0M119.4 135.7h0M122.1 132.3h0M120.9 132.5h0M122.8 135.9h0M117.7 135.4h0M117.9 140.8h0M118.5 136.7h0M119.4 131.4h0M117.0 135.9h0M119.4 131.4h0M118.8 136.2h0M118.5 131.4h0M116.8 135.2h0M122.6 131.1h0M117.4 132.8h0M119.7 135.0h0M118.5 138.8h0M120.7 132.7h0M118.9 133.9h0M122.8 131.8h0M123.0 133.5h0M118.8 135.1h0M120.1 130.4h0M121.7 134.5h0M119.5 135.4h0M119.3 136.7h0M121.3 131.2h0M117.9 136.6h0M123.3 135.3h0M125.2 129.8h0M116.8 138.9h0M119.5 137.4h0M119.9 134.9h0M122.8 133.3h0M122.4 133.7h0M117.7 134.1h0M117.2 140.9h0M119.5 134.7h0M120.4 134.2h0M119.5 138.7h0M123.4 133.2h0M121.8 129.7h0M121.5 131.5h0M120.3 136.9h0M119.0 134.0h0M120.2 132.7h0M122.7 131.4h0"/>
<path stroke="#3ea8ee" stroke-opacity="0.85" stroke-width="1.1" stroke-linecap="square" d="M122.6 130.0h0M123.7 124.8h0M125.8 126.6h0M123.6 131.8h0M123.6 130.4h0M125.5 131.2h0M124.1 128.5h0M125.1 132.6h0M120.7 130.8h0M123.2 130.7h0M124.6 122.8h0M120.9 127.9h0M123.0 128.8h0M125.7 126.2h0M125.8 131.7h0M121.5 129.8h0M123.9 130.0h0M126.5 126.8h0M121.0 128.6h0M123.1 125.5h0M122.8 129.6h0M126.7 127.8h0M121.8 128.0h0M124.9 125.5h0M127.7 130.4h0M128.9 125.0h0M122.0 127.1h0M125.8 130.3h0M125.0 128.2h0M122.9 128.9h0M120.7 125.8h0M122.2 128.6h0M125.5 129.1h0M122.9 130.3h0M122.4 129.4h0M128.7 127.2h0M124.9 124.8h0M126.1 126.4h0M122.6 124.2h0M124.9 124.5h0M128.9 129.5h0M124.2 131.4h0M126.8 125.8h0M124.4 130.4h0M128.2 126.8h0M124.9 128.7h0M126.1 125.8h0M124.3 128.7h0M124.4 128.2h0M124.8 131.9h0M125.3 129.4h0M126.9 126.1h0M122.1 128.7h0M123.9 129.0h0M125.4 130.1h0M122.5 130.2h0M125.4 129.5h0M123.6 128.3h0M125.1 129.8h0M121.9 128.0h0M123.1 126.3h0M122.9 126.6h0M122.0 129.8h0M120.5 132.0h0M124.6 132.2h0M124.3 130.9h0M126.0 131.3h0M128.2 126.8h0M125.3 130.1h0M124.6 129.2h0M126.1 129.7h0M124.5 128.0h0M124.8 127.7h0M121.7 125.9h0M126.7 128.0h0M122.8 127.4h0M119.9 129.3h0M123.3 131.7h0M124.4 128.8h0M125.7 125.4h0M121.6 127.7h0M124.8 125.8h0M120.3 132.0h0M124.0 125.8h0M124.3 125.1h0M126.4 130.3h0M124.0 127.6h0M125.1 129.3h0M123.0 127.8h0M126.0 127.3h0M124.9 131.4h0M129.0 126.7h0M122.8 126.6h0M124.3 128.9h0M127.8 127.6h0M121.4 131.1h0M125.3 125.9h0M126.6 128.4h0M125.4 131.1h0M121.0 131.3h0M124.0 130.8h0M124.8 126.0h0M123.9 130.5h0M121.2 129.4h0M125.7 128.8h0M126.2 125.5h0M121.6 128.2h0M128.3 128.2h0M124.7 128.1h0M124.7 128.5h0M122.9 128.3h0M120.6 125.8h0M121.0 130.2h0M121.3 130.8h0M124.2 124.1h0M125.4 128.6h0M126.1 131.9h0M122.3 130.5h0M123.4 127.2h0M122.7 126.4h0M124.3 128.2h0M119.0 129.1h0M124.6 129.0h0"/>
<path stroke="#72c2f2" stroke-opacity="0.85" stroke-width="1.1" stroke-linecap="square" d="M127.8 121.0h0M130.7 124.8h0M129.4 120.3h0M132.0 118.4h0M133.0 118.9h0M127.8 125.2h0M127.7 121.7h0M130.0 125.9h0M125.7 124.3h0M129.1 120.1h0M135.2 121.4h0M131.8 120.6h0M124.3 121.3h0M130.6 123.6h0M132.3 119.3h0M128.8 122.5h0M129.3 123.6h0M129.7 121.6h0M128.2 124.1h0M130.4 118.3h0M125.1 126.5h0M133.6 121.9h0M126.7 123.7h0M129.9 125.1h0M130.7 118.2h0M125.9 124.3h0M134.3 123.8h0M131.0 125.7h0M127.4 124.1h0M127.3 116.2h0M127.3 124.7h0M135.6 121.7h0M128.0 124.3h0M124.5 124.2h0M126.9 120.1h0M127.9 125.1h0M127.6 126.6h0M129.2 120.3h0M127.2 124.3h0M129.6 122.8h0M127.0 125.9h0M130.1 118.3h0M131.3 124.1h0M132.6 122.5h0M130.8 118.0h0M133.6 122.5h0M131.9 123.9h0M127.3 125.1h0M127.8 120.5h0M129.6 124.9h0M130.5 119.0h0M130.8 120.9h0M129.8 122.7h0M131.7 120.1h0M132.6 121.0h0M128.9 125.6h0M127.3 124.3h0M131.1 125.7h0M127.1 123.5h0M126.2 127.4h0M134.4 120.8h0M124.2 120.2h0M128.3 121.0h0M125.4 122.5h0M126.0 124.5h0M129.0 125.0h0M124.9 124.8h0M123.6 120.8h0M125.8 122.1h0M131.8 123.9h0M123.3 125.2h0M129.0 119.6h0M131.2 123.9h0M130.7 123.1h0M125.3 125.5h0M129.3 124.5h0M128.4 125.5h0M124.9 118.7h0M131.3 122.2h0M132.4 125.1h0M123.3 124.0h0M127.5 120.9h0M130.0 127.1h0M126.8 122.6h0M128.4 122.7h0M129.1 126.6h0M125.7 121.0h0M125.2 122.4h0M125.5 123.1h0M131.9 122.7h0M136.0 124.3h0M131.6 123.4h0M128.3 128.0h0M127.0 121.1h0M133.6 123.6h0M135.2 124.2h0M124.7 124.5h0M129.5 123.2h0M130.2 122.8h0M127.8 122.5h0M125.1 125.3h0M127.5 125.9h0M126.9 120.4h0M128.1 121.4h0M131.7 122.9h0M131.9 125.6h0M124.4 121.7h0M129.0 119.6h0M123.8 124.3h0M132.4 121.4h0M131.2 119.4h0M131.8 125.1h0M129.7 124.0h0M126.8 124.1h0"/>
<path stroke="#acdaf7" stroke-opacity="0.9" stroke-width="1.1" stroke-linecap="square" d="M135.4 120.8h0M136.6 118.7h0M132.6 119.4h0M132.5 117.9h0M136.0 115.6h0M143.4 119.7h0M147.7 110.2h0M143.0 115.9h0M137.8 117.2h0M136.0 116.7h0M134.4 118.6h0M142.0 118.6h0M142.2 120.3h0M137.3 117.1h0M136.6 112.0h0M139.8 116.0h0M141.3 117.1h0M134.4 116.7h0M145.5 115.0h0M142.9 117.9h0M140.9 116.6h0M140.9 117.6h0M142.6 112.4h0M139.7 115.7h0M137.1 116.1h0M130.9 117.6h0M140.3 119.2h0M135.8 113.5h0M143.8 118.8h0M136.5 117.7h0M138.9 121.7h0M140.3 117.4h0M137.6 119.6h0M139.9 121.2h0M139.3 115.9h0M135.4 118.4h0M142.3 112.0h0M144.3 111.1h0M141.4 119.3h0M133.9 116.7h0M142.3 115.6h0M140.8 115.0h0M136.9 116.7h0M139.8 114.7h0M141.5 121.7h0M135.1 112.0h0M137.1 119.6h0M135.0 120.8h0M131.1 119.2h0M136.3 117.4h0M134.4 118.3h0M136.4 118.9h0M151.7 111.3h0M142.5 112.8h0M142.6 113.3h0M138.4 121.4h0M134.7 115.4h0M138.8 121.3h0M143.5 114.0h0M142.8 117.2h0M137.0 116.3h0M137.1 121.0h0M139.4 119.7h0M142.4 116.2h0M137.3 119.3h0"/>
<path stroke="#1890e2" stroke-opacity="0.9" stroke-width="1.1" stroke-linecap="square" d="M144.2 134.3h0M144.8 131.9h0M141.2 134.7h0M141.4 131.4h0M143.5 131.8h0M150.7 134.7h0M139.3 130.8h0M139.3 133.2h0M139.9 128.8h0M150.8 131.8h0M147.4 127.4h0M148.1 131.1h0M139.9 129.6h0M130.2 135.5h0M145.6 127.8h0M144.1 132.2h0M143.8 133.8h0M148.2 129.4h0M130.2 131.6h0M132.3 129.9h0M143.0 129.9h0M144.4 131.0h0M149.3 131.2h0M139.0 132.6h0M149.6 127.9h0M143.2 132.7h0M141.2 128.7h0M140.0 131.0h0M148.8 129.1h0M147.0 132.1h0M139.0 132.0h0M150.6 132.8h0M153.1 128.0h0M145.2 129.5h0M148.4 129.9h0M144.6 131.9h0M144.2 125.1h0M138.5 132.9h0M153.3 127.5h0M135.6 130.8h0M140.0 129.1h0M142.8 132.3h0M145.9 131.9h0M146.7 129.8h0M140.7 134.5h0M149.4 129.2h0M138.1 132.6h0M151.7 132.7h0M155.4 127.8h0M147.7 132.4h0M138.0 131.5h0M134.6 132.8h0M139.5 132.1h0M148.8 129.9h0M137.2 128.8h0M151.7 133.0h0M141.9 127.4h0M138.6 134.2h0M142.3 130.4h0M140.1 130.9h0M145.7 127.9h0M144.8 128.2h0M146.7 131.5h0M152.6 128.5h0M142.5 129.9h0M149.0 128.7h0M139.1 134.2h0M163.6 135.6h0M153.3 129.2h0M147.1 130.7h0M138.8 129.2h0M152.3 130.9h0M148.3 131.9h0M139.7 133.2h0M136.0 132.6h0M137.2 129.7h0M134.4 130.9h0M146.6 129.6h0M143.8 129.0h0M158.4 129.4h0M151.3 131.2h0M148.3 129.4h0M149.2 129.4h0M135.8 136.9h0M138.6 132.1h0M151.7 130.3h0M140.3 132.8h0M152.4 131.8h0M138.8 130.9h0M149.8 133.2h0M135.8 133.4h0M140.6 128.1h0M149.6 133.6h0M142.1 132.3h0M136.1 129.1h0M136.6 133.8h0M147.6 131.1h0M142.6 129.2h0M150.1 132.8h0M141.4 131.1h0M148.3 131.1h0M139.8 127.5h0M142.2 128.9h0M141.9 128.1h0M148.9 130.7h0M137.7 131.7h0M144.1 133.2h0M146.9 131.0h0M143.6 132.2h0M140.2 131.9h0M148.5 132.0h0M147.2 127.5h0M145.8 132.1h0M144.9 130.5h0M158.9 134.0h0M149.8 130.7h0M142.0 134.1h0M157.3 124.2h0M141.3 130.0h0M149.8 129.2h0M145.7 126.2h0M150.4 129.6h0M152.8 134.4h0M148.8 132.1h0M151.8 129.1h0M146.2 131.6h0M155.2 128.8h0M146.4 130.1h0M129.7 129.0h0M143.7 132.4h0M131.7 131.7h0M135.8 130.9h0M129.7 131.1h0M152.4 130.2h0M149.6 127.8h0M138.4 133.1h0M146.0 133.0h0M141.6 130.1h0M144.4 127.4h0M142.7 133.9h0M160.7 130.0h0M149.4 135.6h0M149.4 128.9h0M153.0 134.9h0M145.5 129.4h0M140.6 128.6h0M145.9 127.2h0M144.5 126.4h0M138.6 129.3h0M148.8 130.0h0M139.4 131.5h0M137.2 126.9h0M143.0 126.9h0M152.6 124.0h0M146.7 129.4h0M150.2 127.3h0M142.7 129.6h0M143.8 129.7h0M139.2 131.7h0M144.2 134.4h0M149.1 131.6h0M138.8 132.2h0M144.1 130.3h0M137.2 128.9h0M138.6 130.5h0M149.6 134.1h0M137.5 131.8h0M146.4 131.5h0M137.9 128.1h0M141.4 132.5h0M149.5 131.4h0M157.8 130.6h0M138.1 132.4h0M142.6 135.3h0M140.0 128.2h0M143.8 130.0h0M136.7 133.5h0M145.8 130.0h0M149.1 128.1h0M135.6 129.2h0M155.8 129.9h0M142.6 128.6h0M149.0 130.6h0M147.9 134.5h0M144.4 130.9h0M137.8 128.7h0M147.3 129.8h0M146.4 132.8h0M152.8 131.6h0M148.6 132.5h0M156.5 132.0h0M138.7 131.8h0M151.9 129.8h0M139.2 136.0h0M141.5 131.9h0M147.5 130.4h0M153.5 129.4h0M149.1 134.1h0M135.5 129.7h0M151.6 130.7h0M147.0 129.5h0M136.2 129.2h0M145.7 131.4h0M158.7 130.3h0M152.3 131.5h0M144.5 126.0h0M149.4 129.1h0M139.0 131.9h0M149.8 127.0h0M148.4 135.6h0M141.1 131.9h0M137.5 131.3h0M141.7 129.1h0M151.5 129.3h0M142.0 131.2h0M146.6 129.0h0M147.3 127.6h0M139.7 134.2h0M134.6 133.3h0M153.4 134.7h0M136.2 131.7h0M130.1 134.6h0M143.2 129.6h0M151.8 130.2h0M153.1 129.9h0M154.6 128.6h0M145.5 128.1h0M133.2 132.0h0M143.4 127.0h0M145.1 130.9h0M146.1 131.9h0M141.1 135.3h0M143.0 131.7h0M133.0 130.4h0M153.6 130.0h0M134.1 131.1h0M144.9 127.9h0M148.4 130.2h0M149.4 132.2h0M139.6 130.4h0M146.6 124.8h0M153.4 125.8h0M144.2 133.2h0M144.3 131.6h0M148.4 132.6h0M143.8 130.7h0M143.0 131.8h0M146.9 132.6h0M157.3 130.2h0M141.1 130.5h0M135.7 132.5h0M143.9 130.8h0M144.8 129.2h0M146.3 128.7h0M153.7 129.9h0M145.7 133.2h0M134.1 131.3h0M140.1 132.0h0M148.9 127.8h0M137.5 130.6h0M145.1 125.4h0M147.7 132.7h0M146.1 124.9h0M139.5 135.9h0M150.1 132.1h0M147.3 132.7h0M148.8 128.8h0M150.3 128.6h0M144.9 127.5h0M142.8 133.6h0M151.7 129.2h0M152.0 130.2h0M151.4 129.3h0M146.4 132.9h0M130.4 128.5h0M144.1 130.3h0M144.4 129.7h0M151.7 128.6h0M141.8 132.7h0M140.8 133.2h0M146.0 126.7h0M142.2 128.4h0M146.5 131.7h0M145.9 130.9h0M142.1 128.1h0M152.2 126.6h0M144.1 132.6h0M146.3 131.1h0M163.5 131.0h0M149.6 133.6h0M146.0 133.1h0M131.3 129.1h0M143.7 130.4h0M142.4 129.8h0M153.1 129.1h0M158.8 132.1h0M132.4 130.9h0M154.1 133.1h0M147.7 135.8h0M138.7 131.9h0M154.1 132.2h0M148.5 133.2h0M140.7 131.7h0M161.3 127.4h0M156.7 132.8h0M141.2 136.2h0M150.6 132.3h0M151.8 132.0h0M137.2 130.6h0M146.9 132.0h0M127.4 134.2h0M146.4 129.9h0M149.9 134.2h0M150.9 131.3h0M153.9 132.1h0M148.5 132.9h0M146.4 130.3h0M136.8 133.2h0M135.9 131.3h0M138.0 130.1h0M143.5 129.3h0M145.5 129.3h0M148.1 131.6h0M138.5 124.9h0M144.5 132.5h0M142.4 133.8h0M155.6 128.0h0M152.6 130.3h0M137.7 131.8h0M149.3 133.2h0M150.2 130.8h0M145.4 134.6h0M154.1 130.5h0M148.3 131.2h0M148.3 130.8h0M143.8 129.9h0M143.6 129.0h0M140.1 132.4h0M160.5 131.1h0M137.6 132.6h0M139.3 131.5h0M137.8 133.9h0M149.0 132.8h0M151.4 129.3h0M138.6 129.4h0M138.5 134.3h0M141.1 130.3h0M150.2 129.2h0M147.0 133.1h0M151.8 129.8h0M134.9 129.7h0M148.0 129.2h0M152.5 131.9h0M152.2 127.6h0M154.4 128.1h0M128.0 129.4h0M142.9 125.7h0M150.4 133.7h0M155.8 128.2h0M142.5 130.0h0M138.5 132.0h0M143.8 127.9h0M144.0 132.8h0M147.1 130.7h0M136.2 131.3h0M132.1 137.0h0M157.0 131.6h0M140.9 131.4h0M143.7 131.9h0M154.6 129.6h0M144.4 127.3h0M140.8 127.4h0M146.2 128.7h0M143.4 128.4h0M147.2 131.4h0M138.0 129.1h0M145.4 132.6h0M139.8 129.3h0M148.1 129.3h0M149.0 133.2h0M140.9 129.7h0M156.9 132.0h0M134.5 131.9h0M148.1 129.2h0M151.9 131.6h0M154.2 129.3h0M147.6 130.2h0M139.3 130.1h0M136.8 130.7h0M135.8 129.0h0M141.5 127.2h0M147.0 130.0h0M147.2 127.5h0M142.1 132.8h0M135.9 129.6h0M148.8 131.8h0M145.2 130.9h0M141.5 135.1h0M148.0 131.5h0M159.4 127.0h0M140.1 133.4h0M152.2 131.8h0M138.8 127.2h0M147.6 130.0h0M150.6 130.7h0M134.5 131.6h0M143.6 130.0h0M144.0 129.0h0M147.5 131.2h0M154.6 130.4h0M142.0 133.7h0M151.8 127.2h0M142.8 132.8h0M147.5 133.1h0M153.5 131.2h0M146.5 132.9h0M154.8 128.5h0M150.2 130.4h0M136.2 133.2h0M154.3 127.7h0M139.4 134.0h0M158.7 129.1h0M147.3 131.8h0M148.5 129.2h0M152.3 130.9h0M132.5 128.1h0M148.6 127.1h0M145.6 135.2h0M152.1 136.6h0M149.0 130.7h0M137.2 131.8h0M140.9 129.4h0M134.9 131.9h0M138.4 131.1h0M142.6 130.3h0M145.4 132.3h0M154.8 131.9h0M153.3 126.6h0M153.1 129.5h0M137.5 131.8h0M141.0 131.4h0M138.6 132.2h0M145.8 129.0h0M141.0 134.6h0M139.4 125.4h0M140.4 131.4h0M145.5 130.1h0M151.3 129.3h0M144.8 129.7h0M148.3 128.9h0M140.5 133.5h0M155.5 128.7h0M146.4 129.0h0M147.2 130.6h0M152.2 129.9h0M153.8 131.1h0M143.6 129.1h0M143.4 129.7h0M149.9 128.7h0M149.2 131.5h0M136.9 133.3h0M149.1 127.2h0M154.8 128.4h0M140.8 132.2h0M145.7 131.4h0M146.0 133.2h0M152.0 129.1h0M140.1 132.3h0M140.7 129.1h0M158.1 134.1h0M149.1 132.5h0M132.7 132.7h0M143.6 131.3h0M140.0 130.0h0M152.1 134.7h0M145.5 138.0h0M137.6 129.2h0M138.4 131.7h0M150.3 131.5h0M142.3 132.1h0"/>
<path stroke="#72c2f2" stroke-opacity="0.9" stroke-width="1.1" stroke-linecap="square" d="M159.5 136.0h0M149.8 133.2h0M154.4 131.1h0M156.3 129.5h0M155.9 128.5h0M152.7 131.3h0M153.8 129.3h0M154.5 131.4h0M166.7 131.3h0M153.4 128.9h0M162.7 129.4h0M141.8 130.2h0M149.1 127.8h0M161.0 131.0h0M154.6 127.6h0M156.6 132.6h0M160.9 133.6h0M151.4 130.9h0M161.9 131.2h0M153.1 126.4h0M144.2 130.0h0M155.6 131.7h0M150.8 129.5h0M144.7 128.2h0M160.1 128.5h0M162.8 134.2h0M153.9 132.4h0M160.0 131.9h0M154.0 126.9h0M152.3 129.6h0M158.7 132.2h0M160.9 133.0h0M149.8 130.7h0M168.6 132.3h0M153.8 131.3h0M162.0 128.6h0M162.8 127.4h0M156.0 128.9h0M147.5 129.1h0M152.3 130.0h0M153.4 131.5h0M157.9 130.5h0M158.5 132.6h0M163.2 129.9h0M157.1 132.0h0M163.0 131.4h0M163.9 129.4h0M155.6 130.4h0M160.2 128.1h0M153.6 132.1h0M157.7 129.6h0M159.6 132.4h0M147.1 128.6h0M163.2 126.5h0M150.9 130.4h0M159.5 132.3h0M159.9 129.4h0M155.3 131.2h0M163.6 129.3h0M160.6 124.6h0M165.9 130.1h0M166.0 129.7h0M164.9 130.5h0M152.9 130.2h0M156.1 130.1h0M154.6 130.8h0M156.8 128.5h0M152.1 130.1h0M155.6 127.2h0M159.2 133.2h0M157.3 131.7h0M158.3 128.4h0M161.8 132.4h0M155.4 127.5h0M161.4 133.0h0M153.2 133.0h0M160.5 133.4h0M156.8 129.6h0M145.1 132.3h0M162.8 129.0h0"/>
</g>
<line x1="184.2" y1="93.3" x2="184.2" y2="147.8" stroke="#555" stroke-width="1.1"/>
<line x1="115.5" y1="93.3" x2="184.2" y2="93.3" stroke="#8a8a8a" stroke-width="1.4"/>
<line x1="115.5" y1="147.8" x2="184.2" y2="147.8" stroke="#333" stroke-width="1.2"/>
<line x1="115.7" y1="93.3" x2="115.7" y2="147.8" stroke="#333" stroke-width="1.3" stroke-dasharray="1 1.2"/>
<text x="117" y="154.7" font-size="4.8" stroke="#666" stroke-width="0.12" text-anchor="middle" fill="#666">0</text>
<text x="130.4" y="154.7" font-size="4.8" stroke="#666" stroke-width="0.12" text-anchor="middle" fill="#666">200</text>
<text x="143.9" y="154.7" font-size="4.8" stroke="#666" stroke-width="0.12" text-anchor="middle" fill="#666">400</text>
<text x="157.3" y="154.7" font-size="4.8" stroke="#666" stroke-width="0.12" text-anchor="middle" fill="#666">600</text>
<text x="170.8" y="154.7" font-size="4.8" stroke="#666" stroke-width="0.12" text-anchor="middle" fill="#666">800</text>
<text x="184.2" y="154.7" font-size="4.8" stroke="#666" stroke-width="0.12" text-anchor="middle" fill="#666">1000</text>
<ellipse cx="152.4" cy="130.9" rx="21.1" ry="6.8" fill="none" stroke="#4a4a4a" stroke-width="1.1"/>
<g filter="url(#sb)">
<path stroke="#1890e2" stroke-opacity="0.9" stroke-width="1.1" stroke-linecap="square" d="M200.0 133.0h0M196.7 136.6h0M198.0 136.6h0M202.5 129.3h0M198.0 132.1h0M200.4 134.6h0M196.3 136.2h0M196.5 135.3h0M197.5 139.9h0M196.8 136.7h0M202.1 133.3h0M196.4 139.6h0M196.4 131.0h0M199.6 133.9h0M199.8 133.1h0M196.3 134.5h0M198.8 128.7h0M203.5 132.1h0M197.8 136.0h0M196.5 139.5h0M199.6 133.7h0M202.5 133.9h0M197.7 131.9h0M195.4 134.1h0M200.1 131.2h0M197.0 138.6h0M200.7 133.9h0M196.1 139.2h0M195.4 136.8h0M200.4 131.3h0M198.2 132.5h0M196.7 137.1h0M199.3 131.4h0M197.3 133.2h0M198.3 138.1h0M196.9 137.1h0M196.8 136.9h0M196.6 132.2h0M196.7 132.4h0M201.4 133.6h0M196.6 135.5h0M199.4 129.1h0M198.8 137.3h0M200.3 133.5h0M196.8 136.0h0M197.2 140.9h0M198.1 132.9h0M198.0 135.9h0M195.7 130.0h0M196.9 130.0h0M195.9 132.7h0M203.5 132.0h0M199.6 135.3h0M203.6 131.6h0M200.6 135.2h0M199.2 135.4h0M198.1 131.1h0M198.3 135.4h0M198.9 136.7h0M197.7 131.7h0M199.0 133.8h0M200.9 131.6h0M197.8 132.2h0M200.6 131.8h0M201.4 132.3h0M201.1 132.7h0M200.4 137.5h0M200.1 136.3h0M197.3 130.5h0M195.2 139.3h0M201.4 136.7h0M203.9 132.2h0M198.0 133.4h0M198.5 136.2h0M197.9 136.3h0M200.0 132.1h0M195.7 134.0h0M199.7 132.3h0M197.8 133.9h0M197.1 138.1h0M196.8 135.1h0M198.6 135.4h0M196.4 139.2h0M196.0 134.7h0M201.3 132.8h0M200.0 136.0h0M195.9 137.4h0M199.0 130.9h0M196.2 139.6h0M199.6 129.2h0M198.6 132.1h0M198.8 134.4h0M197.9 135.5h0M202.3 132.3h0M198.1 136.5h0M198.2 136.1h0M196.0 139.5h0M196.0 133.5h0M197.5 139.2h0M199.6 130.5h0M199.8 135.4h0M200.8 131.6h0M200.9 133.8h0M200.2 132.3h0M196.8 135.5h0M200.1 133.9h0M201.2 134.7h0M197.3 132.5h0M195.8 139.9h0M197.4 132.6h0M197.3 136.5h0M197.3 133.0h0M199.6 134.0h0M197.6 138.7h0M197.4 131.5h0M196.6 133.2h0M199.2 130.3h0M199.9 132.2h0M201.1 133.6h0M199.2 133.1h0M197.0 135.6h0M196.7 139.4h0M200.3 131.3h0M197.2 138.8h0M199.6 134.4h0M198.0 129.4h0M195.2 138.2h0M196.6 137.3h0M197.3 136.0h0M198.8 137.0h0M198.1 134.4h0M203.0 134.5h0M196.4 137.4h0M204.1 128.9h0M198.4 135.2h0M195.8 138.9h0M198.8 135.7h0M197.8 134.2h0M198.2 134.3h0M199.1 130.4h0M199.0 133.6h0M197.3 138.0h0M198.3 133.0h0M198.1 135.9h0M203.3 133.5h0M196.6 133.8h0M198.3 131.7h0M198.7 133.2h0M197.6 138.3h0M201.0 129.1h0M200.3 133.2h0M198.6 137.0h0M198.8 136.5h0M198.5 134.4h0M199.8 136.8h0M199.9 133.4h0M203.2 130.0h0M197.8 133.5h0M197.9 131.2h0M196.8 133.0h0M198.5 136.3h0M201.0 134.9h0M199.4 135.4h0M198.3 139.3h0M197.4 133.8h0M198.3 136.9h0M199.1 134.4h0M199.8 133.1h0M196.1 139.6h0M195.7 134.2h0M202.1 129.8h0M199.5 131.9h0M197.3 137.7h0M195.9 138.7h0M202.2 130.7h0M197.9 133.7h0M195.7 138.8h0M197.6 135.1h0M197.7 136.3h0M201.0 134.7h0M200.0 133.9h0M195.3 137.4h0M198.3 133.2h0M196.2 136.3h0M196.2 138.9h0M196.9 136.3h0M201.6 132.7h0M196.6 133.6h0M198.7 136.0h0M195.9 137.3h0M202.8 131.3h0M199.1 131.8h0M196.3 135.8h0M197.4 135.7h0M199.2 136.0h0M199.5 134.8h0M200.0 133.2h0M195.5 139.0h0M196.4 137.0h0M197.2 132.5h0M197.3 133.7h0M198.4 135.2h0M198.9 129.2h0M201.8 133.4h0M202.7 131.6h0M200.5 135.0h0M204.8 131.5h0M195.3 137.3h0M196.0 136.3h0M198.6 136.5h0M197.9 137.0h0M195.5 134.3h0M199.3 135.2h0M196.6 139.4h0M198.0 130.1h0M197.7 134.6h0M200.6 136.9h0M198.4 134.2h0M196.6 134.4h0M201.3 132.6h0M196.9 135.7h0M198.3 131.6h0M198.5 133.8h0M202.5 130.1h0M197.6 131.5h0M197.6 130.1h0M197.8 136.4h0M195.5 132.6h0M197.6 137.7h0M195.5 133.7h0M197.0 134.7h0M200.9 132.9h0M197.1 135.1h0M199.5 130.9h0M199.9 135.2h0M199.2 131.0h0M204.2 129.9h0M199.9 140.4h0M196.3 134.1h0M196.5 133.2h0M198.9 135.0h0M198.2 136.1h0M195.8 137.3h0M201.1 130.1h0M196.5 140.1h0M196.4 132.3h0M200.8 133.6h0M203.3 133.9h0M200.4 131.5h0M195.3 133.5h0M196.5 130.0h0M200.1 129.2h0M197.2 136.6h0M198.8 132.4h0M196.9 138.0h0M199.7 132.2h0M198.6 137.0h0"/>
<path stroke="#3ea8ee" stroke-opacity="0.85" stroke-width="1.1" stroke-linecap="square" d="M203.2 127.8h0M203.7 126.1h0M200.9 130.1h0M206.3 125.1h0M204.1 127.0h0M201.9 125.5h0M199.7 125.9h0M203.2 126.5h0M204.5 127.0h0M201.6 127.5h0M201.6 126.1h0M200.1 128.6h0M198.8 130.5h0M204.1 123.8h0M202.9 125.1h0M206.3 125.5h0M198.6 126.9h0M203.4 124.0h0M202.0 127.6h0M202.6 127.3h0M202.7 129.6h0M206.4 128.3h0M207.4 126.1h0M206.8 128.5h0M204.0 130.3h0M201.7 127.9h0M201.1 130.0h0M202.5 124.0h0M202.6 122.2h0M204.8 127.0h0M202.8 125.6h0M202.8 130.5h0M200.5 128.0h0M202.8 128.3h0M203.4 130.4h0M200.0 128.1h0M205.2 129.7h0M201.6 126.4h0M199.9 122.9h0M201.4 122.3h0M207.0 125.7h0M202.5 123.3h0M205.4 121.8h0M203.2 126.3h0M202.8 128.8h0M204.3 131.5h0M200.0 127.8h0M206.8 130.5h0M204.3 122.1h0M204.7 127.4h0M204.1 125.4h0M200.5 130.2h0M204.0 130.0h0M201.6 123.6h0M205.9 126.2h0M203.5 129.4h0M203.1 125.5h0M202.7 128.4h0M202.5 127.8h0M202.7 128.4h0M206.8 126.2h0M208.0 127.5h0M204.6 123.5h0M204.4 131.0h0M203.8 127.9h0M203.1 126.2h0M204.3 131.0h0M205.2 127.5h0M206.2 127.5h0M203.1 129.9h0M207.4 127.5h0M203.8 131.3h0M204.2 130.4h0M201.3 125.4h0M204.0 126.1h0M204.9 127.1h0M205.1 126.3h0M205.4 129.9h0M198.9 124.4h0M201.0 128.9h0M202.2 127.8h0M205.2 127.3h0M201.8 129.0h0M201.8 128.7h0M201.8 123.4h0M205.0 131.2h0M201.2 125.8h0M205.3 124.3h0M201.3 128.7h0M200.5 127.7h0M206.7 127.8h0M206.7 126.5h0M206.1 126.3h0M205.1 128.6h0M204.4 129.2h0M203.0 123.0h0M204.2 128.1h0M201.9 131.0h0M204.9 128.7h0M201.7 127.7h0M204.7 129.1h0M199.9 128.2h0M203.0 123.5h0M203.0 124.6h0M203.9 127.7h0M202.2 128.3h0M202.3 129.3h0M202.2 126.9h0M199.6 125.6h0M199.0 127.7h0M202.7 128.6h0M205.0 126.3h0M204.5 127.3h0M204.3 128.7h0M202.6 125.7h0M202.3 128.5h0M200.1 127.9h0M203.5 123.9h0M206.7 126.9h0M200.0 128.8h0M202.6 123.8h0M200.7 124.9h0M202.0 125.9h0M201.2 128.2h0M204.7 132.4h0M207.3 130.4h0M199.5 128.7h0M206.7 127.0h0M202.9 128.4h0M205.2 128.4h0M201.3 130.2h0M207.9 127.0h0M204.6 127.9h0M202.7 127.9h0M207.1 127.7h0M206.7 129.7h0M201.6 128.9h0M201.6 129.8h0M201.1 127.3h0M202.9 126.9h0M207.6 126.0h0M202.5 127.3h0M201.1 124.7h0M205.9 129.0h0M205.0 130.7h0M204.0 132.2h0M207.4 125.2h0M202.5 129.0h0M205.9 127.8h0M200.7 126.0h0M204.1 130.3h0"/>
<path stroke="#72c2f2" stroke-opacity="0.85" stroke-width="1.1" stroke-linecap="square" d="M205.9 121.3h0M210.7 120.4h0M212.7 122.6h0M207.7 120.6h0M207.1 124.3h0M209.6 121.3h0M202.7 123.2h0M214.8 119.9h0M203.9 121.7h0M212.2 121.0h0M207.0 123.0h0M211.7 121.6h0M214.8 124.6h0M208.1 118.8h0M208.8 120.9h0M208.7 119.2h0M209.5 123.4h0M206.3 122.9h0M208.6 124.5h0M213.2 119.2h0M212.2 122.8h0M203.2 123.6h0M216.1 122.0h0M209.5 124.1h0M210.9 117.8h0M212.2 123.5h0M204.2 119.9h0M206.8 117.4h0M209.8 122.3h0M213.3 117.7h0M206.7 125.5h0M202.2 123.0h0M208.0 118.6h0M209.1 117.8h0M203.8 121.5h0M214.0 122.2h0M206.8 125.8h0M208.6 121.4h0M206.9 121.1h0M210.1 124.1h0M209.0 121.9h0M210.8 120.8h0M210.8 123.8h0M203.3 121.6h0M212.3 125.0h0M213.4 123.2h0M215.5 120.7h0M211.0 121.1h0M212.6 119.9h0M208.3 120.6h0M209.7 126.7h0M206.9 121.3h0M215.9 119.9h0M208.1 122.7h0M208.6 122.8h0M210.1 119.1h0M214.2 120.5h0M211.0 121.9h0M207.6 119.1h0M208.3 120.9h0M209.7 123.3h0M208.0 127.0h0M207.3 124.8h0M204.2 122.8h0M209.9 124.2h0M208.0 122.9h0M207.8 119.1h0M208.4 124.9h0M207.9 121.1h0M206.2 124.9h0M211.1 119.1h0M211.0 120.9h0M208.7 123.0h0M215.6 119.1h0M204.5 123.7h0M208.1 122.6h0M210.9 122.8h0M208.6 120.3h0M204.4 119.7h0M215.1 121.6h0M206.9 118.6h0M206.1 119.6h0M208.6 117.0h0M207.6 124.1h0M205.1 120.6h0M209.7 117.1h0M214.7 121.5h0M210.0 126.7h0M208.5 125.6h0M204.3 123.6h0M203.7 120.8h0M206.8 118.1h0M206.7 123.3h0M210.6 120.4h0M208.1 123.7h0M208.2 123.9h0M204.2 119.7h0M207.5 119.4h0M211.6 123.5h0M206.0 119.1h0M212.7 119.7h0M208.5 121.4h0M203.3 122.3h0M208.8 115.6h0M209.1 117.6h0M210.5 120.0h0M206.8 118.2h0M211.4 122.1h0M208.0 121.1h0M205.8 125.8h0M206.5 118.6h0M205.6 121.0h0M206.9 122.4h0M206.9 122.9h0M213.2 119.7h0"/>
<path stroke="#acdaf7" stroke-opacity="0.9" stroke-width="1.1" stroke-linecap="square" d="M217.5 119.2h0M218.3 109.9h0M212.7 116.1h0M221.1 117.3h0M216.2 119.4h0M214.1 117.5h0M220.2 113.9h0M222.9 117.9h0M229.9 116.5h0M209.7 115.2h0M214.8 116.4h0M213.3 118.7h0M216.6 115.0h0M215.7 113.0h0M222.4 113.3h0M218.4 111.6h0M213.8 113.0h0M208.6 114.1h0M215.5 113.5h0M223.7 109.3h0M213.8 117.7h0M229.2 111.8h0M219.9 120.4h0M219.4 117.0h0M226.5 117.8h0M220.9 120.1h0M213.2 118.7h0M215.5 118.4h0M224.8 120.5h0M215.7 115.5h0M221.0 111.2h0M227.2 117.7h0M229.3 116.7h0M229.5 118.0h0M224.9 119.4h0M226.9 113.2h0M222.9 112.8h0M219.0 116.5h0M229.8 118.0h0M225.3 112.6h0M217.1 120.6h0M233.8 111.2h0M215.8 118.3h0M226.5 116.7h0M218.9 119.6h0M232.8 109.1h0M215.8 118.1h0M220.5 114.7h0M225.9 113.4h0M213.6 116.4h0M209.9 118.5h0M229.1 117.3h0M215.2 116.1h0M216.0 114.3h0M221.6 121.7h0M220.7 113.4h0M218.2 121.4h0M217.2 119.7h0M216.0 115.8h0M222.1 119.8h0M228.1 114.2h0M228.6 112.3h0M232.9 111.7h0M214.9 116.7h0M215.2 120.5h0M232.4 109.7h0M216.8 115.3h0M230.5 109.7h0M228.4 118.6h0M210.1 116.4h0M212.0 115.7h0M209.9 115.7h0M216.1 118.4h0M234.6 111.0h0M215.1 116.6h0M215.7 116.5h0M233.4 113.0h0M216.5 116.2h0M229.5 111.6h0M221.0 109.0h0M227.5 112.7h0M221.1 115.1h0M215.0 113.4h0M226.2 114.3h0M232.8 112.5h0M213.1 117.1h0M211.8 116.7h0M232.5 111.1h0M219.0 114.9h0M232.1 111.2h0M211.8 119.3h0M215.1 119.2h0M214.5 115.3h0M228.7 113.5h0M226.0 114.9h0M219.0 112.4h0M228.9 114.4h0M212.9 117.9h0M217.4 119.8h0M230.0 116.0h0M213.6 116.6h0M213.9 116.8h0M223.7 106.8h0M216.8 122.5h0M218.5 112.5h0M213.9 114.2h0M224.5 112.6h0M216.5 118.0h0M230.9 115.6h0M210.7 114.9h0M213.9 113.2h0M214.1 115.9h0M222.0 118.0h0M217.9 118.4h0M229.7 111.8h0M225.3 113.8h0M223.2 119.6h0M216.3 116.1h0M215.5 115.7h0M217.8 114.8h0M215.0 118.7h0M217.1 116.1h0M210.1 115.8h0M216.2 115.1h0M212.6 114.9h0M234.3 111.1h0M224.7 114.0h0M228.3 113.0h0M219.0 117.1h0M231.4 110.8h0M224.5 109.2h0M218.9 118.2h0M217.0 117.0h0M231.2 114.8h0M218.1 113.6h0M225.7 116.2h0M221.9 112.4h0M219.9 116.4h0M216.6 112.1h0M215.0 119.7h0M223.7 115.7h0M210.2 116.6h0M226.1 117.2h0M218.2 119.5h0M214.8 114.7h0"/>
<path stroke="#1890e2" stroke-opacity="0.9" stroke-width="1.1" stroke-linecap="square" d="M226.6 131.8h0M214.6 135.3h0M219.9 127.2h0M222.7 129.1h0M232.9 135.1h0M223.0 131.7h0M231.1 129.6h0M227.4 131.4h0M220.6 132.1h0M221.4 129.6h0M225.4 131.8h0M240.6 132.6h0M233.7 129.5h0M232.3 131.9h0M235.6 127.7h0M226.1 129.9h0M227.1 129.8h0M222.7 130.5h0M220.4 128.0h0M224.1 130.1h0M221.8 128.4h0M218.1 129.9h0M212.9 129.5h0M222.6 129.6h0M211.2 131.3h0M235.9 128.8h0M221.8 129.4h0M222.5 131.6h0M211.3 131.5h0M229.5 126.1h0M218.3 129.5h0M235.8 128.0h0M218.8 128.0h0M228.9 130.2h0M234.5 129.6h0M216.7 128.8h0M231.4 130.2h0M220.8 134.5h0M220.5 128.4h0M222.4 132.4h0M220.6 131.7h0M235.5 131.2h0M221.7 133.4h0M224.4 132.8h0M225.9 130.2h0M226.3 133.4h0M238.4 133.1h0M227.5 130.3h0M207.7 132.0h0M224.1 130.5h0M234.9 130.5h0M206.4 132.6h0M237.5 131.0h0M228.4 133.2h0M241.0 128.8h0M220.5 130.6h0M229.2 128.4h0M226.2 130.8h0M220.6 127.6h0M224.7 132.1h0M238.0 126.1h0M219.7 130.6h0M222.9 130.2h0M219.9 127.2h0M234.6 133.0h0M234.0 126.9h0M225.0 131.5h0M232.1 130.3h0M229.3 133.8h0M207.3 129.6h0M230.5 126.9h0M236.9 129.8h0M228.9 127.3h0M223.7 131.8h0M229.7 133.7h0M214.6 127.3h0M232.8 128.2h0M222.3 129.4h0M220.8 135.2h0M228.1 129.9h0M220.1 127.8h0M220.8 129.9h0M224.2 129.6h0M239.6 129.7h0M223.7 128.5h0M229.3 131.4h0M232.9 129.7h0M232.6 131.3h0M235.2 128.4h0M227.1 127.4h0M226.6 128.8h0M235.6 134.2h0M224.5 127.2h0M229.6 130.0h0M225.2 131.1h0M224.8 131.7h0M230.0 130.1h0M239.2 133.1h0M219.8 133.5h0M232.2 132.0h0M231.3 129.8h0M230.0 132.8h0M222.0 126.6h0M235.5 129.9h0M232.4 129.3h0M222.3 127.7h0M233.5 128.1h0M236.5 126.6h0M216.8 133.5h0M222.1 130.1h0M230.3 129.1h0M227.3 129.7h0M230.6 131.6h0M225.3 128.5h0M238.1 132.1h0M226.0 132.4h0M225.3 127.3h0M220.9 135.8h0M220.2 132.5h0M222.9 129.6h0M219.2 132.2h0M224.3 130.3h0M226.1 132.8h0M227.4 132.2h0M219.0 130.1h0M227.2 131.3h0M230.7 128.2h0M213.5 129.6h0M221.4 130.1h0M233.5 130.6h0M230.4 126.8h0M221.5 132.2h0M220.1 129.9h0M240.0 131.5h0M235.3 128.3h0M215.5 132.0h0M226.0 129.9h0M233.2 131.2h0M218.3 129.5h0M220.0 130.3h0M230.4 126.5h0M218.8 128.5h0M227.0 130.1h0M225.3 125.3h0M229.1 132.3h0M219.6 132.9h0M224.7 131.4h0M218.3 130.9h0M230.3 129.2h0M227.3 132.9h0M228.4 127.4h0M227.5 134.9h0M232.5 130.8h0M214.0 130.2h0M234.8 125.0h0M217.2 131.1h0M219.7 128.9h0M231.4 132.0h0M222.5 130.7h0M228.4 131.2h0M219.7 131.0h0M229.4 128.2h0M216.1 133.0h0M225.7 132.7h0M229.7 129.0h0M229.7 131.6h0M220.9 130.9h0M228.8 128.6h0M225.7 128.4h0M238.8 131.7h0M227.7 127.4h0M234.1 130.8h0M233.0 127.4h0M220.6 129.3h0M221.4 131.3h0M210.6 130.6h0M222.1 133.7h0M229.1 128.0h0M226.7 129.8h0M214.0 131.6h0M223.5 131.1h0M225.3 129.5h0M208.6 135.7h0M218.9 134.6h0M238.2 128.6h0M226.2 131.2h0M230.4 131.4h0M234.9 131.7h0M231.0 128.0h0M218.0 136.0h0M220.1 129.4h0M223.4 132.3h0M221.6 127.4h0M227.7 130.8h0M229.0 126.5h0M220.6 130.2h0M226.1 127.6h0M228.6 128.3h0M222.3 131.7h0M228.7 133.6h0M213.0 131.7h0M231.8 133.0h0M228.1 128.1h0M229.9 128.6h0M224.6 128.6h0M226.0 133.6h0M228.9 132.6h0M221.8 128.9h0M228.4 131.6h0M226.9 133.1h0M229.7 131.4h0M219.5 127.3h0M230.5 125.6h0M220.7 129.9h0M227.7 131.1h0M231.5 130.2h0M236.7 128.3h0M232.8 130.8h0M226.6 126.9h0M221.2 136.4h0M218.8 128.1h0M213.6 128.7h0M222.7 129.9h0M226.8 130.7h0M219.7 132.7h0M214.3 133.7h0M235.2 130.2h0M226.7 129.1h0M225.1 128.9h0M232.3 132.4h0M217.4 134.9h0M235.6 127.3h0M229.7 131.7h0M219.1 131.0h0M228.3 132.5h0M226.4 125.7h0M230.2 131.2h0M217.6 130.8h0M220.5 133.5h0M234.8 132.1h0M234.9 127.4h0M229.2 134.0h0M224.4 130.3h0M215.4 130.2h0M228.4 126.3h0M232.1 129.5h0M216.9 130.9h0M221.9 128.1h0M223.9 128.4h0M236.5 129.4h0M222.0 130.3h0M219.8 129.5h0M230.6 129.4h0M229.9 131.2h0M226.3 127.4h0M227.3 132.5h0M227.4 127.3h0M224.1 131.7h0M231.2 130.8h0M222.5 129.7h0M219.5 132.1h0M235.4 133.2h0M232.9 127.4h0M233.8 131.3h0M232.2 130.8h0M221.1 132.0h0M226.8 128.9h0M219.2 129.9h0M225.1 131.5h0M225.6 126.6h0M218.6 131.0h0M240.9 135.1h0M218.3 129.6h0M237.5 133.0h0M229.1 128.9h0M210.3 129.0h0M221.9 128.6h0M220.0 130.6h0M214.9 130.8h0M226.3 128.5h0M222.1 129.0h0M228.5 128.4h0M233.4 129.6h0M219.8 133.7h0M231.5 133.3h0M228.7 135.0h0M215.7 129.8h0M223.5 127.1h0M231.8 126.7h0M229.0 134.7h0M226.1 131.7h0M226.3 131.0h0M214.4 129.8h0M217.6 131.9h0M218.9 127.2h0M239.7 128.4h0M230.6 134.2h0M218.2 130.5h0M223.9 131.2h0M231.6 126.2h0M220.3 133.4h0M231.5 130.7h0M214.7 127.6h0M217.7 131.1h0M230.5 135.0h0M226.2 130.3h0M226.9 131.0h0M222.5 129.7h0M226.3 129.5h0M225.5 130.2h0M222.7 132.0h0M225.4 133.3h0M221.6 128.6h0M219.8 128.2h0M228.1 129.5h0M227.6 129.0h0M221.7 129.7h0M227.7 127.9h0M217.4 128.5h0M220.9 126.9h0M220.6 131.0h0M222.7 125.3h0M236.3 128.2h0M231.4 127.0h0M227.1 131.4h0M236.6 131.3h0M218.0 127.5h0M233.2 127.7h0M228.9 133.2h0M225.8 129.3h0M218.3 127.5h0M230.7 127.5h0M213.3 132.8h0M226.7 127.5h0M215.1 132.3h0M233.3 133.9h0M225.1 125.1h0M223.3 126.6h0M224.1 129.1h0M232.8 128.9h0M212.7 131.2h0M221.5 131.4h0M222.4 126.8h0M230.2 127.4h0M226.8 130.6h0M237.1 127.0h0M227.2 132.6h0M221.9 128.9h0M205.0 131.9h0M225.1 131.8h0M225.9 130.1h0M238.4 127.2h0M230.4 133.4h0M226.5 128.6h0M217.3 129.0h0M236.6 129.0h0M224.4 131.6h0M222.2 130.6h0M227.8 128.6h0M229.5 129.2h0M237.6 128.5h0M223.8 134.3h0M219.4 130.5h0M220.8 132.0h0M228.1 132.1h0M228.2 131.3h0M227.4 129.3h0M222.2 128.4h0M216.3 133.9h0M231.4 128.5h0M229.5 131.4h0M210.6 128.6h0M238.4 127.0h0M226.6 130.8h0M228.5 127.4h0M212.6 134.5h0M231.1 129.4h0M223.7 132.0h0M228.3 132.6h0M231.2 129.8h0M225.0 131.6h0M233.9 132.6h0M230.4 127.1h0M228.0 133.6h0M238.6 128.1h0M223.0 131.3h0M232.3 132.6h0M229.5 131.8h0M220.4 127.1h0M236.1 129.6h0M235.1 132.2h0M228.6 130.0h0M226.2 130.5h0M222.0 128.7h0M235.4 130.4h0M213.5 130.1h0M245.8 130.0h0M233.2 131.9h0M232.1 134.3h0M221.6 129.1h0M226.0 132.7h0M231.6 126.0h0M212.0 133.3h0M230.7 131.2h0M210.9 131.2h0M238.6 130.4h0M234.3 129.1h0M226.1 128.9h0M222.4 130.0h0M220.8 127.5h0M220.2 129.8h0M230.9 130.6h0M221.3 128.6h0M221.3 131.1h0M217.2 127.2h0M230.0 133.1h0M222.5 135.8h0M221.4 132.4h0M216.9 128.9h0M217.9 130.9h0M242.6 128.1h0M234.5 128.6h0M226.6 129.2h0M221.0 132.1h0M217.4 131.3h0M221.7 126.4h0M220.8 132.3h0M224.0 134.2h0M217.8 129.4h0M228.0 129.2h0M228.0 129.5h0M225.1 133.7h0M214.7 134.2h0M225.3 130.8h0M233.3 129.9h0M223.3 127.6h0M223.4 130.0h0M219.8 132.1h0M227.8 128.8h0M231.1 130.1h0M223.7 130.9h0M223.6 128.6h0M220.0 129.6h0M229.7 129.5h0M225.7 126.9h0M231.3 132.1h0M230.5 132.7h0M219.0 133.5h0M222.1 130.8h0M223.9 129.5h0M211.7 129.3h0M236.4 127.3h0M223.0 126.7h0M221.9 128.0h0M234.4 125.3h0M222.0 125.6h0M229.5 129.7h0M232.8 131.8h0M213.5 136.0h0M228.1 129.4h0"/>
<path stroke="#72c2f2" stroke-opacity="0.9" stroke-width="1.1" stroke-linecap="square" d="M244.9 127.6h0M229.0 131.1h0M245.9 133.2h0M241.9 133.6h0M244.3 135.2h0M235.2 129.7h0M234.0 133.2h0M229.0 129.9h0M231.2 133.5h0M235.9 128.2h0M232.3 131.2h0M239.3 131.1h0M246.0 132.8h0M238.7 131.1h0M234.5 132.1h0M235.0 125.8h0M235.2 128.9h0M236.4 131.3h0M230.0 132.0h0M239.6 128.9h0M237.9 128.4h0M244.1 130.1h0M241.4 130.8h0M230.2 132.6h0M238.4 128.5h0M234.9 132.0h0M234.6 129.5h0M235.5 131.2h0M236.8 130.2h0M247.6 131.0h0M234.1 131.7h0M225.9 127.6h0M226.7 128.5h0M234.4 132.5h0M241.0 127.5h0M228.0 135.1h0M239.0 130.7h0M233.7 125.7h0M232.1 128.1h0M230.8 130.1h0M241.1 133.8h0M236.8 133.0h0M241.7 131.5h0M232.1 131.2h0M238.9 130.5h0M244.8 132.7h0M247.3 129.0h0M225.7 131.5h0M246.4 133.1h0M246.0 134.4h0M234.1 131.0h0M226.1 127.2h0M238.5 136.7h0M239.0 130.6h0M235.2 126.8h0M239.6 127.9h0M241.3 130.1h0M237.9 132.0h0M235.1 129.4h0M243.6 127.7h0M228.4 128.0h0M242.3 125.9h0M238.5 135.8h0M230.0 128.0h0M223.4 131.0h0M243.2 128.3h0M231.1 133.5h0M237.9 126.9h0M240.9 134.2h0M228.9 130.3h0M240.9 129.6h0M234.9 128.8h0M236.6 133.8h0M239.3 130.6h0M228.9 135.3h0M243.4 133.2h0M239.0 129.0h0M239.3 134.3h0M243.0 131.6h0M227.0 128.9h0"/>
</g>
<line x1="262.8" y1="93.3" x2="262.8" y2="147.8" stroke="#555" stroke-width="1.1"/>
<line x1="194.2" y1="93.3" x2="262.8" y2="93.3" stroke="#8a8a8a" stroke-width="1.4"/>
<line x1="194.2" y1="147.8" x2="262.8" y2="147.8" stroke="#333" stroke-width="1.2"/>
<line x1="194.4" y1="93.3" x2="194.4" y2="147.8" stroke="#333" stroke-width="1.3" stroke-dasharray="1 1.2"/>
<text x="195.7" y="154.7" font-size="4.8" stroke="#666" stroke-width="0.12" text-anchor="middle" fill="#666">0</text>
<text x="209.1" y="154.7" font-size="4.8" stroke="#666" stroke-width="0.12" text-anchor="middle" fill="#666">200</text>
<text x="222.5" y="154.7" font-size="4.8" stroke="#666" stroke-width="0.12" text-anchor="middle" fill="#666">400</text>
<text x="236" y="154.7" font-size="4.8" stroke="#666" stroke-width="0.12" text-anchor="middle" fill="#666">600</text>
<text x="249.4" y="154.7" font-size="4.8" stroke="#666" stroke-width="0.12" text-anchor="middle" fill="#666">800</text>
<text x="262.8" y="154.7" font-size="4.8" stroke="#666" stroke-width="0.12" text-anchor="middle" fill="#666">1000</text>
<ellipse cx="231.9" cy="130.9" rx="21.1" ry="6.8" fill="none" stroke="#4a4a4a" stroke-width="1.1"/>
<text x="76" y="55.6" font-size="9.2" stroke="#222" stroke-width="0.12" fill="#222">R1</text>
<text x="252" y="79.2" font-size="7.6" stroke="#222" stroke-width="0.12" text-anchor="middle" fill="#222">10%</text>
<text x="251.8" y="146.3" font-size="7.6" stroke="#222" stroke-width="0.12" text-anchor="middle" fill="#222">34%</text>
<path d="M244.5 56.3V45.7H281" fill="none" stroke="#222" stroke-width="0.9"/>
<path d="M285 45.7L279.5 43.3L279.5 48.1z" fill="#111"/>
<path d="M244.5 118.6V108H281" fill="none" stroke="#222" stroke-width="0.9"/>
<path d="M285 108L279.5 105.6L279.5 110.4z" fill="#111"/>
<line x1="301.3" y1="28" x2="301.3" y2="127.7" stroke="#555" stroke-width="1"/>
<line x1="301.3" y1="127.7" x2="409" y2="127.7" stroke="#666" stroke-width="1"/>
<path stroke="#b8b8b8" stroke-opacity="1" stroke-width="0.9" stroke-linecap="square" d="M346.3 75.6h0M335.3 68.7h0M365.0 64.0h0M337.9 72.3h0M367.5 60.6h0M359.8 64.7h0M356.7 64.7h0M338.9 70.8h0M349.1 55.7h0M345.7 58.9h0M350.1 71.5h0M355.7 74.2h0M343.1 67.7h0M357.0 57.1h0M344.1 61.6h0M340.7 74.6h0M351.8 62.4h0M353.3 59.7h0M353.8 66.1h0M335.6 65.7h0M346.8 64.1h0M352.1 61.3h0M343.6 64.6h0M375.3 53.2h0M350.6 63.4h0M358.1 49.6h0M359.4 56.1h0M357.7 53.5h0M329.1 64.5h0M353.2 46.2h0M334.6 67.2h0M353.8 62.4h0M349.1 51.8h0M345.1 57.2h0M335.1 73.0h0M350.4 71.9h0M348.0 71.9h0M348.5 71.3h0M367.7 49.5h0M346.0 56.1h0M344.3 70.6h0M349.0 68.0h0M356.7 64.1h0M343.5 54.3h0M347.8 58.3h0M357.1 62.2h0M343.2 62.5h0M341.5 63.0h0M337.4 63.3h0M337.9 68.5h0M355.0 58.9h0M338.8 64.4h0M338.4 71.3h0M341.3 65.8h0M351.2 61.5h0M356.1 77.1h0M348.8 72.2h0M347.5 70.2h0M348.2 61.1h0M349.2 56.0h0M362.2 57.4h0M343.1 64.1h0M370.0 49.2h0M350.1 60.7h0M350.4 59.1h0M358.4 76.3h0M350.0 66.5h0M359.4 59.6h0M364.7 60.5h0M352.2 64.6h0"/>
<path stroke="#cccccc" stroke-opacity="1" stroke-width="0.9" stroke-linecap="square" d="M332.2 66.5h0M326.0 87.2h0M334.1 80.5h0M326.0 75.9h0M331.8 73.8h0M330.0 77.5h0M332.2 73.3h0M327.6 68.2h0M338.3 79.9h0M319.1 68.1h0M335.4 80.7h0M336.1 69.8h0M323.2 72.6h0M329.3 76.6h0M334.2 74.4h0M322.5 81.2h0M335.8 71.2h0M328.0 70.4h0M340.8 82.1h0M329.0 79.8h0"/>
<path stroke="#999" stroke-opacity="1" stroke-width="0.9" stroke-linecap="square" d="M364.4 58.6h0M353.7 59.2h0M367.4 62.4h0M357.1 59.7h0M356.4 56.0h0M365.8 53.0h0M352.1 57.5h0M367.7 61.8h0M354.1 61.0h0M355.4 59.4h0M363.4 54.0h0M364.7 55.3h0M352.6 70.3h0M362.6 63.1h0M360.7 65.0h0M352.1 64.9h0M353.9 61.0h0M365.0 56.3h0M361.8 59.5h0M362.6 61.2h0M357.7 63.6h0M351.3 58.5h0M353.2 60.5h0M365.3 61.5h0M346.1 60.9h0M360.0 55.3h0M356.2 60.3h0M358.8 62.9h0M356.7 60.3h0M351.6 70.2h0M364.6 60.6h0M353.0 66.9h0M355.0 55.7h0M353.1 61.0h0M355.6 70.4h0M354.1 62.7h0M356.8 56.7h0M355.7 53.9h0M364.0 65.4h0M362.8 60.3h0M355.5 65.7h0M357.1 68.1h0M356.8 65.0h0M357.9 63.2h0M355.9 63.1h0M350.1 67.1h0M365.0 59.2h0M360.8 56.1h0M355.2 59.5h0M365.1 59.3h0M362.9 60.1h0M361.7 56.9h0M360.9 58.6h0M349.8 60.8h0M364.4 58.8h0M352.3 57.8h0M357.8 60.5h0M358.1 52.4h0M363.9 55.5h0M359.0 68.5h0M364.2 54.3h0M357.4 57.4h0M365.1 57.9h0M365.5 57.1h0M354.2 55.0h0M367.2 58.7h0M346.0 60.8h0M357.6 61.4h0M360.0 60.3h0M346.5 55.3h0"/>
<g filter="url(#sb)">
<path stroke="#444" stroke-opacity="0.8" stroke-width="1.2" stroke-linecap="square" d="M370.2 51.4h0M372.1 56.5h0M371.3 57.4h0M373.0 58.6h0M373.6 52.2h0M366.8 57.2h0M371.2 56.8h0M371.6 52.8h0M372.0 53.3h0M369.1 52.6h0M371.0 60.0h0M371.4 54.8h0M373.6 54.2h0M368.5 61.1h0M373.2 57.5h0M365.8 49.5h0M371.8 53.8h0M372.2 52.8h0M373.1 50.3h0M367.9 60.7h0M373.4 57.6h0M366.5 53.2h0M371.2 54.8h0M373.5 54.0h0M375.8 55.6h0M370.1 52.1h0M374.2 56.5h0M371.5 59.1h0M370.1 56.2h0M372.2 50.7h0M373.2 53.0h0M369.7 52.4h0M372.0 55.3h0M367.8 54.0h0M370.7 55.2h0M369.5 56.6h0M365.5 55.9h0M371.7 56.3h0M369.2 59.0h0M370.5 54.8h0M368.1 55.5h0M371.1 53.6h0M370.4 57.3h0M370.3 55.7h0M370.3 60.3h0M364.6 63.9h0M369.7 53.7h0M370.9 54.7h0M366.4 57.4h0M371.7 56.8h0M370.4 57.8h0M372.4 52.8h0M369.6 54.0h0M372.5 59.5h0M366.6 51.5h0M367.7 56.4h0M374.5 59.8h0M366.7 58.6h0M371.5 56.6h0M371.6 52.7h0M370.3 60.1h0M371.5 55.4h0M371.6 55.1h0M368.7 53.8h0M374.5 54.2h0M363.9 49.9h0M377.7 49.2h0M369.7 55.4h0M366.1 58.1h0M368.5 56.7h0M369.2 52.8h0M368.2 58.5h0M373.4 59.1h0M367.5 61.2h0M367.2 61.3h0M367.6 51.9h0M366.9 58.0h0M368.8 54.2h0M375.1 49.3h0M369.8 51.4h0M365.3 56.5h0M368.2 63.7h0M367.5 60.5h0M371.5 58.0h0M372.0 57.1h0M367.2 59.3h0M372.9 56.8h0M364.4 57.9h0M366.5 60.5h0M369.8 54.2h0M370.9 58.2h0M371.9 53.4h0M368.1 54.3h0M365.2 63.5h0M374.0 55.7h0M367.9 57.5h0M369.4 51.6h0M370.7 52.7h0M370.6 57.5h0M368.2 57.3h0M373.0 58.8h0M370.5 56.7h0M366.9 58.3h0M369.0 46.7h0M374.1 53.8h0M371.4 55.6h0M373.5 55.9h0M373.2 55.2h0M372.0 59.3h0M370.2 57.5h0M371.4 57.2h0M377.0 54.1h0M368.6 57.9h0M373.0 53.2h0M367.7 56.1h0M374.6 56.3h0M369.8 63.3h0M368.9 55.5h0M369.5 57.4h0M371.6 53.0h0M370.9 58.9h0M372.0 52.2h0M373.6 53.2h0M373.4 51.7h0M374.6 53.3h0M363.9 63.4h0M370.5 56.9h0M370.3 51.6h0M366.8 58.5h0M363.8 54.3h0M373.8 50.6h0M367.4 58.6h0M369.3 52.2h0M368.6 60.7h0M371.3 52.6h0M368.3 60.0h0M369.5 58.1h0M372.1 52.0h0M371.6 55.0h0M364.5 59.4h0M371.1 54.7h0M370.7 55.2h0M371.7 53.2h0M371.6 59.6h0M370.4 52.5h0M369.3 55.1h0M369.6 54.5h0M366.5 54.2h0M372.0 57.0h0M372.8 52.1h0M370.3 53.0h0M370.3 56.8h0M366.3 54.6h0M367.3 60.0h0M374.1 52.0h0M366.9 51.8h0M373.0 58.2h0M374.1 51.3h0M371.5 60.8h0M371.4 52.2h0M370.9 57.5h0M368.0 55.7h0M370.6 60.3h0M376.3 48.9h0M367.7 54.4h0M368.2 54.9h0M372.6 57.5h0M374.7 51.8h0M374.7 47.7h0M370.4 59.5h0M373.1 55.6h0M373.1 52.3h0M376.7 53.8h0M370.5 58.7h0M373.4 57.0h0M365.4 60.0h0M368.4 57.4h0M368.3 58.4h0M370.6 50.6h0M368.8 54.2h0M371.0 57.4h0M373.7 52.3h0M368.4 53.8h0M368.2 56.0h0M372.4 51.6h0M372.8 54.7h0M369.8 56.5h0M372.5 59.3h0M362.2 57.9h0M372.0 56.9h0M370.0 55.1h0M370.4 54.8h0M370.5 57.1h0M369.3 53.7h0M370.9 57.0h0M372.3 54.2h0M364.6 55.8h0M371.7 51.3h0M369.5 61.6h0M372.6 48.5h0M369.8 58.8h0M369.4 58.4h0M370.4 59.6h0M373.8 53.5h0M373.4 58.4h0M370.1 52.9h0M376.6 54.6h0M372.6 54.6h0M365.3 63.0h0M371.2 53.4h0M368.7 56.0h0M370.2 54.9h0M371.7 54.8h0M369.8 59.4h0M370.1 55.0h0M369.0 55.1h0M369.2 53.1h0M374.4 56.5h0M367.8 58.5h0M367.2 55.5h0M373.8 57.7h0M371.3 50.7h0M367.4 59.2h0M372.5 52.1h0M367.8 57.2h0M370.4 54.3h0M372.5 56.6h0M374.9 48.7h0M367.7 59.3h0M372.8 52.8h0M374.8 54.5h0M372.0 54.4h0M373.4 60.4h0M368.3 54.3h0M368.0 55.6h0M372.1 55.5h0M374.1 56.7h0M363.7 51.4h0M369.9 52.7h0M374.6 52.9h0M368.5 60.1h0M367.6 60.6h0M372.6 58.2h0M372.3 56.6h0M371.2 52.0h0M368.6 56.8h0M379.4 54.4h0M374.0 54.9h0M366.2 53.6h0M366.4 52.2h0M371.7 56.5h0M369.7 55.6h0M374.1 51.0h0M370.8 55.6h0M368.9 56.2h0M372.0 52.7h0M373.6 56.3h0M370.4 53.8h0M366.6 54.7h0M367.4 53.4h0M369.4 53.7h0M366.3 63.9h0M374.4 54.1h0M371.1 56.2h0M372.3 56.8h0M375.3 54.2h0M370.5 60.3h0M371.6 55.7h0M368.8 64.9h0M369.5 58.1h0M369.7 58.1h0M369.8 54.9h0M373.7 53.6h0M368.9 60.1h0M371.4 55.3h0M370.8 50.8h0M368.2 56.9h0M365.8 54.5h0M366.7 57.6h0M370.3 59.8h0M372.8 50.1h0M370.0 55.0h0M370.3 52.4h0M373.0 57.1h0M372.5 51.6h0M373.9 56.8h0M368.4 57.5h0M373.8 49.1h0M371.5 58.3h0M367.9 56.7h0M367.2 55.6h0M366.6 55.8h0M371.8 56.6h0M366.3 59.2h0M369.0 60.1h0M368.4 57.6h0M367.3 58.5h0M366.1 58.1h0M375.0 50.9h0M375.4 54.1h0M367.5 51.5h0M373.4 57.1h0M367.9 55.4h0M370.2 54.2h0M370.7 58.8h0M374.0 53.2h0M372.9 52.4h0M372.4 50.0h0M370.3 57.3h0M372.7 57.7h0M368.9 57.5h0M373.9 54.4h0M370.8 55.7h0M369.0 56.4h0M371.1 57.0h0M378.7 49.6h0M370.0 58.6h0M364.1 57.6h0M373.4 51.9h0M367.7 52.2h0M374.7 62.1h0M371.0 54.1h0M373.8 53.6h0M370.4 57.9h0M370.4 59.1h0M372.6 54.9h0M370.6 54.1h0M364.3 59.3h0M369.5 59.1h0M367.2 59.0h0M372.8 51.9h0M369.3 57.5h0M369.1 54.3h0M370.8 56.6h0M367.7 55.7h0M372.9 55.8h0M376.8 52.0h0M369.8 55.7h0M366.2 55.7h0M367.6 48.8h0M373.7 53.8h0M370.2 56.4h0M373.2 54.3h0M370.0 58.2h0M371.7 54.7h0M368.6 59.4h0M375.3 49.4h0M373.0 53.1h0M373.1 57.7h0M370.6 57.2h0M371.3 51.2h0M371.4 54.9h0M369.8 50.2h0M369.5 59.3h0M369.7 59.5h0M373.2 53.3h0M368.2 60.9h0M366.7 56.5h0M372.1 51.6h0M373.0 53.7h0M371.8 55.0h0M370.4 57.3h0M372.2 54.1h0M365.9 54.5h0M370.5 58.4h0M368.0 55.6h0M368.8 59.2h0M374.8 55.8h0M360.9 60.3h0M374.8 54.4h0M377.1 51.0h0M372.3 52.3h0M368.7 51.2h0M373.5 57.3h0M372.2 60.1h0M365.6 52.6h0M373.7 55.8h0M371.7 57.1h0M372.4 57.6h0M370.3 53.5h0M370.1 60.2h0M370.1 53.4h0M368.4 55.6h0M372.3 52.8h0M372.3 56.9h0M376.6 54.1h0M363.1 59.5h0M375.0 52.8h0M370.6 54.0h0M368.7 54.7h0M376.1 54.9h0M376.1 54.5h0M372.3 57.1h0M370.5 55.7h0M369.1 57.8h0M364.5 57.4h0M374.5 56.3h0M371.1 54.3h0M369.3 53.4h0M365.9 63.0h0M370.9 48.7h0M367.3 51.1h0M369.5 57.9h0M373.7 57.1h0M373.8 55.7h0M373.8 59.3h0M373.6 54.0h0M372.5 56.7h0M374.1 55.9h0M369.0 59.2h0M368.1 62.9h0M372.5 55.8h0M371.2 58.6h0M372.5 55.5h0M372.2 53.9h0M368.0 50.6h0M366.7 58.7h0M371.0 61.5h0M369.3 49.9h0M374.9 50.3h0M370.2 54.4h0M370.4 52.9h0M369.3 54.9h0M368.0 59.9h0M370.5 57.8h0M369.0 53.7h0M372.6 57.9h0M371.7 54.0h0M369.4 55.3h0M368.1 54.6h0M366.5 55.3h0M370.5 58.3h0M372.1 50.9h0M368.1 61.0h0M366.8 57.5h0M370.0 58.0h0M370.4 57.1h0M368.4 56.8h0M363.2 59.2h0M373.4 57.2h0M370.3 53.5h0M368.3 55.2h0M370.7 58.1h0M368.5 59.3h0M370.9 54.9h0M373.2 49.5h0M371.4 54.9h0M366.4 53.1h0M370.2 60.0h0M371.3 60.5h0M375.9 53.1h0M366.2 53.6h0M369.9 57.4h0M378.6 48.7h0M368.0 56.4h0M371.6 59.0h0M371.0 60.1h0M372.9 52.7h0M369.6 62.9h0M368.1 60.6h0M366.4 55.1h0M364.3 57.0h0M365.7 51.8h0M372.6 54.5h0M368.6 54.7h0M370.6 55.4h0M370.7 58.4h0M373.2 54.7h0M369.9 54.8h0M375.9 54.4h0M379.3 51.9h0M371.4 56.3h0M371.2 52.7h0M370.0 56.9h0M374.3 55.8h0M369.6 53.6h0M368.1 49.7h0M368.4 53.8h0M363.5 61.1h0M370.8 52.7h0M372.8 55.5h0M370.6 53.9h0M369.1 54.3h0M370.4 54.3h0M374.3 51.7h0M366.6 55.2h0M367.1 59.0h0M367.0 55.3h0M371.6 52.7h0M371.6 50.5h0M373.2 54.6h0M373.6 55.4h0M368.1 57.2h0M372.7 54.4h0M367.0 52.3h0M369.9 52.8h0M371.4 57.1h0M373.2 55.6h0M369.5 58.5h0M367.9 60.9h0M366.9 57.0h0M369.1 55.7h0M370.4 56.0h0M369.9 50.8h0M368.6 61.2h0M365.7 59.1h0M371.6 59.7h0M370.1 57.3h0M369.0 59.5h0M370.1 53.0h0M373.8 54.1h0M374.0 57.2h0M367.5 57.6h0M370.4 56.2h0M372.9 56.8h0M369.6 57.8h0M369.4 54.8h0M370.7 56.9h0M369.1 51.6h0M369.6 53.0h0M374.2 53.3h0M372.6 57.9h0M369.1 54.7h0M373.8 55.5h0M371.3 53.2h0M375.9 58.3h0M371.5 54.5h0M364.4 55.1h0M366.1 50.8h0M363.3 59.5h0M370.3 51.3h0M374.4 49.5h0M369.1 53.2h0M371.9 57.0h0M377.3 48.2h0M374.0 58.6h0M364.6 59.7h0M370.9 56.3h0M370.9 56.0h0M365.7 54.8h0M370.6 57.9h0M370.5 53.5h0M370.1 57.1h0M375.8 52.2h0M370.8 49.8h0M366.4 54.8h0M367.5 60.7h0M369.0 55.1h0M370.8 56.8h0M367.9 55.4h0M367.6 62.8h0M372.6 56.1h0M370.2 54.2h0M367.6 50.3h0M367.1 57.6h0M374.2 56.3h0M366.4 58.1h0M366.4 58.9h0M371.5 51.1h0M378.0 51.2h0"/>
</g>
<rect x="314.4" y="30.2" width="89.7" height="85.4" fill="none" stroke="#444" stroke-width="1"/>
<line x1="343.2" y1="31.7" x2="343.2" y2="115.6" stroke="#333" stroke-width="1"/>
<line x1="314.4" y1="87.5" x2="404.1" y2="87.5" stroke="#333" stroke-width="1"/>
<text x="316.7" y="125.2" font-size="7" text-anchor="middle" fill="#333">10<tspan font-size="5" dy="-3">0</tspan></text>
<text x="337.4" y="125.2" font-size="7" text-anchor="middle" fill="#333">10<tspan font-size="5" dy="-3">1</tspan></text>
<text x="359.8" y="125.2" font-size="7" text-anchor="middle" fill="#333">10<tspan font-size="5" dy="-3">2</tspan></text>
<text x="381.4" y="125.2" font-size="7" text-anchor="middle" fill="#333">10<tspan font-size="5" dy="-3">3</tspan></text>
<text x="402.3" y="125.2" font-size="7" text-anchor="middle" fill="#333">10<tspan font-size="5" dy="-3">4</tspan></text>
<text transform="translate(310 114) rotate(-90)" font-size="4.2" text-anchor="middle" fill="#888">10<tspan font-size="3" dy="-1.6">0</tspan></text>
<text transform="translate(310 94) rotate(-90)" font-size="4.2" text-anchor="middle" fill="#888">10<tspan font-size="3" dy="-1.6">1</tspan></text>
<text transform="translate(310 73) rotate(-90)" font-size="4.2" text-anchor="middle" fill="#888">10<tspan font-size="3" dy="-1.6">2</tspan></text>
<text transform="translate(310 52) rotate(-90)" font-size="4.2" text-anchor="middle" fill="#888">10<tspan font-size="3" dy="-1.6">3</tspan></text>
<text transform="translate(310 31) rotate(-90)" font-size="4.2" text-anchor="middle" fill="#888">10<tspan font-size="3" dy="-1.6">4</tspan></text>
<line x1="314.6" y1="30.2" x2="314.6" y2="115.6" stroke="#333" stroke-width="1.2" stroke-dasharray="0.8 1.5"/>
<text x="357.5" y="142.6" font-size="9.2" font-weight="bold" font-style="italic" text-anchor="middle" fill="#111">GR1-FITC</text>
<text transform="translate(297.4 73.6) rotate(-90)" font-size="9.2" font-weight="bold" font-style="italic" text-anchor="middle" fill="#111">Mac1-PE</text>
<path d="M397.5 51H420" stroke="#222" stroke-width="0.9"/>
<path d="M425 51L419.5 48.6L419.5 53.4z" fill="#111"/>
<rect x="426.8" y="30.2" width="87.4" height="87" fill="#fdf9f4" stroke="#555" stroke-width="1.1"/>
<defs><filter id="bl" x="-50%" y="-50%" width="200%" height="200%"><feGaussianBlur stdDeviation="0.5"/></filter><filter id="bl2" x="-50%" y="-50%" width="200%" height="200%"><feGaussianBlur stdDeviation="1.0"/></filter></defs>
<g transform="translate(451.1 46.8) rotate(0)"><ellipse rx="7.5" ry="7.1" fill="#f4c0ee" filter="url(#bl2)"/><ellipse rx="5.9" ry="5.5" fill="#9830b0" filter="url(#bl)"/><ellipse rx="2.1" ry="2" fill="#f0c4f0" filter="url(#bl)"/></g>
<g transform="translate(456.6 58.4) rotate(-30)"><ellipse rx="7.1" ry="6.7" fill="#f4c0ee" filter="url(#bl2)"/><ellipse rx="5.5" ry="5.1" fill="#932cac" filter="url(#bl)"/><ellipse cx="0.8" cy="0.6" rx="1.5" ry="1.4" fill="#d690e0" filter="url(#bl)"/></g>
<g transform="translate(468.4 60.4) rotate(0)"><ellipse rx="7.2" ry="6.5" fill="#f4c0ee" filter="url(#bl2)"/><ellipse rx="5.6" ry="4.9" fill="#9830b0" filter="url(#bl)"/><ellipse rx="2" ry="1.8" fill="#f0c4f0" filter="url(#bl)"/></g>
<g transform="translate(482.3 55) rotate(10)"><ellipse rx="6.7" ry="8.5" fill="#f4c0ee" filter="url(#bl2)"/><ellipse rx="5.4" ry="6.4" fill="#9830b0" filter="url(#bl)"/><ellipse rx="2" ry="3.1" fill="#eab8ee" filter="url(#bl)"/><ellipse cx="-4.4" rx="1.5" ry="1.4" fill="#f2c8f0" filter="url(#bl)"/></g>
<g transform="translate(451.3 72.6) rotate(20)"><ellipse rx="7.2" ry="7.7" fill="#f4c0ee" filter="url(#bl2)"/><ellipse rx="5.6" ry="6.1" fill="#932cac" filter="url(#bl)"/><ellipse cx="0.8" cy="0.6" rx="1.6" ry="1.7" fill="#d690e0" filter="url(#bl)"/></g>
<g transform="translate(471.1 72.2) rotate(0)"><ellipse rx="8" ry="6.7" fill="#f4c0ee" filter="url(#bl2)"/><ellipse rx="6.4" ry="5.1" fill="#9830b0" filter="url(#bl)"/><ellipse rx="2.3" ry="1.8" fill="#f0c4f0" filter="url(#bl)"/></g>
<g transform="translate(461.7 80) rotate(-20)"><ellipse rx="7.2" ry="8.1" fill="#f4c0ee" filter="url(#bl2)"/><ellipse rx="5.6" ry="6.5" fill="#932cac" filter="url(#bl)"/><ellipse cx="0.8" cy="0.6" rx="1.6" ry="1.8" fill="#d690e0" filter="url(#bl)"/></g>
<g transform="translate(468.4 101.6) rotate(0)"><ellipse rx="10.3" ry="9.3" fill="#f4c0ee" filter="url(#bl2)"/><ellipse rx="8.7" ry="7.7" fill="#9830b0" filter="url(#bl)"/><ellipse rx="3.1" ry="2.8" fill="#f0c4f0" filter="url(#bl)"/></g>
<g transform="translate(492.8 95.7) rotate(-20)"><ellipse rx="8.3" ry="7.2" fill="#f4c0ee" filter="url(#bl2)"/><ellipse rx="6.7" ry="5.6" fill="#932cac" filter="url(#bl)"/><ellipse cx="0.8" cy="0.6" rx="1.9" ry="1.6" fill="#d690e0" filter="url(#bl)"/></g>
<text x="1" y="192.4" font-size="11" font-weight="bold" fill="#111">B</text>
<text x="70" y="193.9" font-size="9" stroke="#111" stroke-width="0.12" text-anchor="middle" fill="#111">3hrs</text>
<text x="149.4" y="193.9" font-size="9" stroke="#111" stroke-width="0.12" text-anchor="middle" fill="#111">12hrs</text>
<text x="231.8" y="193.9" font-size="9" stroke="#111" stroke-width="0.12" text-anchor="middle" fill="#111">24hrs</text>
<text x="1.8" y="231.3" font-size="9.4" font-weight="bold" fill="#111">PA14</text>
<text x="17.4" y="318.4" font-size="9.4" font-weight="bold" fill="#111">B</text>
<text transform="translate(27.4 273.3) rotate(-90)" font-size="9.3" font-weight="bold" font-style="italic" text-anchor="middle" fill="#111">GR1-FITC</text>
<text x="147.1" y="352.8" font-size="9.2" font-weight="bold" font-style="italic" text-anchor="middle" fill="#111">Mac1-PE</text>
<line x1="29.6" y1="196" x2="29.6" y2="341.1" stroke="#555" stroke-width="1"/>
<line x1="29.6" y1="341.1" x2="271" y2="341.1" stroke="#777" stroke-width="1.3"/>
<path stroke="#a8a8a8" stroke-opacity="1" stroke-width="1" stroke-linecap="square" d="M56.9 231.1h0M55.1 242.9h0M64.0 242.2h0M55.1 234.9h0M58.5 241.2h0M64.5 230.4h0M75.5 224.4h0M63.3 228.9h0M72.1 231.8h0M55.8 246.5h0M58.6 238.8h0M51.5 239.7h0M54.0 234.3h0M59.9 224.4h0M66.6 237.3h0M76.5 229.4h0M68.2 241.5h0M70.3 227.3h0M56.5 228.4h0M60.9 241.9h0M62.8 242.0h0M52.5 241.7h0M74.2 237.8h0M69.0 239.9h0M63.3 239.1h0M69.6 238.5h0M61.4 235.5h0M65.9 238.2h0M72.5 232.1h0M68.6 233.1h0M78.3 225.4h0M72.0 232.5h0M61.4 241.5h0M76.9 229.2h0M61.8 231.1h0M63.8 244.6h0M67.8 241.1h0M52.6 238.3h0M78.9 233.5h0M46.8 245.4h0M63.5 239.6h0M64.1 228.9h0M76.2 234.9h0M76.3 222.7h0M71.0 232.8h0M62.8 234.7h0M71.1 233.5h0M62.7 239.0h0M59.9 234.5h0M70.1 233.8h0M61.1 232.2h0M67.3 244.1h0M65.8 217.9h0M46.7 244.3h0M60.1 236.7h0M64.8 237.8h0M71.7 237.0h0M57.5 239.7h0M59.8 246.5h0M63.6 232.6h0M57.7 247.3h0M71.1 232.6h0M52.0 238.3h0M62.1 246.3h0M72.1 217.2h0M61.4 247.1h0M60.9 234.4h0M65.9 231.7h0M76.4 217.7h0M78.1 232.7h0M72.1 228.6h0M70.2 222.8h0M65.4 230.7h0M63.6 230.6h0M61.6 229.9h0M61.2 244.1h0M53.4 244.2h0M68.0 238.4h0M61.7 234.3h0M78.9 225.2h0M51.4 239.9h0M60.9 239.0h0M60.2 236.3h0M58.9 238.2h0M67.9 220.9h0M67.2 240.7h0M70.5 218.6h0M64.4 234.7h0M53.5 243.8h0M53.5 248.2h0M67.3 234.8h0M75.7 229.7h0M84.4 228.8h0M63.9 221.5h0M57.6 242.9h0M82.3 223.4h0M57.9 232.4h0M70.6 225.1h0M75.0 232.5h0M57.7 247.8h0M60.6 229.8h0M62.6 235.8h0M68.6 238.7h0M49.3 232.6h0M51.4 244.2h0M55.6 235.0h0M57.4 240.9h0M75.6 220.4h0M76.7 228.8h0M60.7 242.6h0M72.1 229.9h0M64.9 237.7h0M57.5 228.3h0M51.1 251.1h0M59.7 234.0h0M58.4 232.6h0M65.4 236.9h0M65.7 232.2h0M52.9 239.3h0"/>
<path stroke="#666666" stroke-opacity="0.9" stroke-width="1.2" stroke-linecap="square" d="M42.7 249.2h0M44.1 246.6h0M46.0 246.2h0M43.8 247.5h0M42.0 240.2h0M54.7 242.2h0M45.7 247.5h0M55.6 238.7h0M47.0 248.5h0M45.4 247.7h0M51.9 245.1h0M51.6 245.4h0M51.1 238.8h0M40.6 248.0h0M47.9 240.8h0M49.4 244.5h0M47.8 241.7h0M56.2 237.4h0M42.7 250.6h0M54.6 239.6h0M47.7 244.8h0M46.2 247.8h0M54.7 239.3h0M50.1 243.9h0M42.5 246.9h0M48.0 245.1h0M54.0 242.5h0M49.0 242.6h0M44.9 242.6h0M51.8 245.7h0M50.1 245.2h0M55.3 234.8h0M52.3 241.6h0M46.4 247.6h0M65.6 234.9h0M46.4 248.5h0M48.4 243.2h0M45.1 244.3h0M48.4 247.5h0M53.7 244.2h0M39.6 249.7h0M52.9 241.9h0M48.2 243.7h0M45.5 244.6h0M47.1 249.5h0M53.6 244.1h0M50.3 249.9h0M54.2 247.4h0M51.3 242.0h0M49.5 243.5h0M54.3 240.1h0M49.8 244.6h0M58.7 238.2h0M54.4 239.8h0M45.8 250.0h0M54.3 247.3h0M42.2 246.6h0M52.0 240.4h0M48.9 246.6h0M47.5 248.9h0M50.4 245.1h0M45.6 244.4h0M47.6 244.0h0M40.8 246.9h0M46.5 249.0h0M47.9 242.7h0M49.1 238.8h0M53.6 247.2h0M58.8 234.7h0M46.6 247.3h0M43.5 246.1h0M51.0 247.5h0M55.8 243.5h0M53.8 247.7h0M48.3 245.2h0M48.0 245.9h0M45.1 245.2h0M45.3 249.3h0M43.9 246.3h0M44.5 245.9h0M63.1 237.5h0M49.8 244.7h0M56.8 242.8h0M44.1 241.9h0M41.8 251.0h0M49.3 248.9h0M45.2 244.8h0M47.3 244.0h0M44.9 243.7h0M41.7 244.1h0M43.1 248.7h0M61.5 237.9h0M50.1 245.0h0M42.8 249.3h0M44.8 239.8h0M41.0 248.6h0M53.2 239.3h0M53.9 243.0h0M47.7 249.1h0M49.9 247.4h0M44.2 248.0h0M45.4 251.4h0M51.5 249.6h0M40.0 248.2h0M43.8 249.4h0M45.7 250.3h0M51.1 241.3h0M50.2 244.8h0M51.1 248.7h0M51.0 242.8h0M48.6 245.6h0M50.1 244.4h0M52.2 242.6h0M42.8 244.1h0M43.9 252.0h0M50.1 241.6h0M50.8 246.7h0M48.4 251.7h0M43.2 245.7h0M44.7 246.6h0M53.3 243.6h0M48.7 249.8h0M48.0 246.3h0M53.9 243.6h0M45.5 243.9h0M48.4 239.4h0M49.1 249.2h0M48.3 247.8h0M54.1 243.9h0M41.0 250.2h0M47.9 241.9h0M48.3 245.3h0M42.9 248.2h0M47.8 249.1h0M51.2 250.6h0M42.8 248.6h0M56.9 246.5h0M42.6 247.9h0M45.5 248.5h0M43.5 250.7h0M50.0 248.4h0M41.6 248.7h0M47.0 241.1h0M44.8 244.9h0M50.6 245.1h0M46.1 247.1h0M45.5 245.6h0M50.1 248.0h0M59.1 241.6h0M48.0 243.6h0M45.7 243.8h0M41.7 245.9h0M48.9 246.3h0M42.2 247.4h0M57.2 244.3h0M42.9 252.1h0M44.0 246.7h0M51.2 241.0h0M45.3 248.3h0M50.6 240.7h0M55.3 242.0h0M49.3 248.8h0M57.3 236.8h0M39.1 251.7h0M47.8 248.0h0M49.6 243.5h0M48.1 245.9h0M51.4 235.5h0M51.2 242.2h0M49.8 243.1h0M46.7 249.8h0M58.5 235.2h0M43.0 246.4h0M39.9 250.9h0M51.8 245.2h0M43.3 247.5h0M39.4 251.1h0M55.4 237.7h0M48.2 246.1h0M50.2 241.8h0M55.4 233.6h0M45.7 245.0h0M54.7 236.0h0M47.5 241.6h0M52.7 237.4h0M53.4 247.7h0M42.8 250.5h0M50.7 244.8h0M48.9 245.0h0M59.6 237.0h0M52.9 243.8h0M52.5 249.1h0M53.2 243.0h0M39.7 251.6h0M52.5 241.8h0M49.2 240.4h0M49.0 246.5h0M52.8 249.5h0M43.4 247.4h0M47.3 247.9h0M49.6 243.5h0M48.9 245.0h0M45.1 247.2h0M49.4 244.4h0M49.5 244.6h0M51.2 243.9h0M62.4 235.7h0M57.4 242.5h0M45.4 246.1h0M51.6 239.8h0M41.4 249.8h0M50.5 247.5h0M45.7 248.5h0M47.9 246.4h0M54.1 240.8h0M48.2 242.5h0M42.4 252.7h0M54.7 238.9h0M46.1 248.4h0M47.8 241.9h0M47.3 249.7h0M48.0 252.7h0M44.7 244.1h0M47.2 243.4h0M46.9 249.7h0M48.7 242.9h0M46.4 242.7h0M51.7 246.5h0M44.7 250.5h0M52.9 241.8h0M56.5 243.8h0M51.3 238.4h0M44.7 243.2h0M44.4 251.6h0M43.7 248.3h0M47.2 243.9h0M53.7 236.4h0M39.3 248.1h0M48.3 240.0h0M53.9 248.0h0M46.1 239.8h0M44.3 250.3h0M47.0 245.5h0M47.3 243.5h0M53.4 246.5h0M42.4 243.6h0M46.7 244.2h0M54.3 240.3h0M51.7 240.4h0M49.1 244.3h0M45.2 250.9h0M56.9 242.8h0M52.3 244.3h0M47.9 244.5h0M51.0 244.3h0M42.2 249.0h0M42.4 246.5h0M47.7 242.8h0M47.8 243.4h0M47.5 245.3h0M49.9 249.0h0M49.3 242.1h0M41.7 245.7h0M48.6 252.5h0M47.4 247.0h0M50.0 247.0h0M50.5 248.5h0M54.6 242.5h0M54.4 238.5h0M54.3 235.6h0M48.9 236.5h0M43.1 247.7h0M43.9 252.6h0M42.4 249.6h0M49.7 248.1h0M43.1 249.7h0M46.5 243.3h0M56.8 245.4h0M49.9 247.6h0M44.2 249.6h0M42.9 252.4h0M50.3 250.4h0M47.4 246.8h0M51.2 241.9h0M58.0 233.1h0M49.1 241.6h0M53.3 241.7h0M42.3 244.6h0M52.8 244.5h0M51.3 240.3h0M43.4 251.6h0M47.5 243.7h0M41.9 242.7h0M50.1 240.5h0M46.0 243.8h0M47.0 243.0h0M51.4 244.7h0M39.7 251.8h0M43.9 244.0h0M47.7 243.8h0M47.8 244.7h0M43.6 241.5h0M48.3 245.0h0M45.1 246.7h0M46.3 247.5h0M47.3 247.1h0M50.0 240.2h0M50.2 242.5h0M48.1 244.1h0M48.7 243.9h0M49.5 244.0h0M47.7 243.6h0M45.8 246.5h0M47.6 243.8h0M54.7 252.0h0M48.5 247.1h0M49.8 237.9h0M44.4 238.5h0M47.2 246.6h0M50.7 240.6h0M46.4 247.2h0M53.0 241.0h0M50.0 241.8h0M48.2 247.1h0M47.6 244.3h0M54.7 241.5h0M58.6 238.8h0M45.4 240.6h0M46.3 243.0h0M49.5 238.8h0M58.7 234.7h0M48.4 245.5h0M45.9 246.4h0M52.5 242.3h0M43.4 249.6h0M44.1 247.4h0M40.0 251.8h0M45.6 245.8h0M54.4 246.0h0M40.9 250.5h0M40.5 249.2h0M54.5 246.7h0M49.4 237.4h0M49.8 239.8h0M52.9 248.2h0M43.9 247.6h0M49.7 246.7h0M50.9 241.3h0M43.8 248.7h0M47.4 243.9h0M58.6 231.7h0M57.2 244.8h0M40.0 250.4h0M44.9 242.1h0M51.4 243.1h0M50.2 243.0h0M44.0 244.3h0M50.1 244.1h0M47.0 250.5h0M49.4 240.8h0M52.1 242.0h0M48.3 245.8h0M50.7 245.5h0M49.7 240.5h0M53.7 239.5h0M54.5 244.3h0M49.6 243.1h0M49.5 246.8h0M47.1 245.6h0M50.5 243.4h0M57.3 239.8h0M46.7 243.8h0M42.7 246.6h0M48.0 246.6h0M42.5 247.6h0M48.2 246.4h0M55.5 237.4h0M48.5 250.6h0M42.9 248.4h0M46.5 244.1h0M43.0 249.0h0M50.5 246.3h0M49.6 237.1h0M47.4 245.9h0M45.6 244.5h0M49.2 243.1h0M44.1 250.3h0M44.4 250.5h0M48.1 246.0h0M48.9 238.8h0M53.0 240.1h0M46.1 246.9h0M50.1 249.5h0M48.2 239.1h0M48.1 246.7h0M39.5 244.0h0M44.6 248.4h0M52.6 241.8h0M46.4 249.3h0M49.6 244.1h0M49.2 249.1h0M46.1 243.8h0M48.9 243.0h0M48.9 243.6h0M44.4 247.2h0M50.1 247.5h0M46.4 243.9h0M48.9 245.5h0M60.8 237.0h0M49.8 245.9h0M48.7 247.8h0M44.6 248.4h0M46.5 244.7h0M49.3 240.2h0M45.2 243.0h0M53.8 239.2h0M46.3 249.4h0M50.7 243.7h0M46.1 244.5h0M50.9 246.8h0M55.5 241.6h0M49.0 241.0h0M48.1 247.6h0M42.2 252.9h0M47.1 249.5h0M50.9 241.3h0M48.7 249.0h0M51.6 241.3h0M53.1 241.8h0M47.5 238.8h0M44.2 245.5h0M50.7 242.5h0M50.5 247.7h0M41.4 253.0h0M52.6 241.6h0M49.5 243.8h0M46.4 252.9h0M51.6 249.3h0M53.4 248.3h0M52.6 241.0h0M50.0 245.2h0M54.8 241.5h0M46.2 246.9h0M52.9 241.6h0M47.1 245.6h0M48.2 240.6h0M48.0 245.9h0M50.0 249.4h0M47.9 249.1h0M53.2 244.3h0M42.5 240.4h0M48.7 244.3h0M58.8 236.9h0M47.5 242.1h0M44.8 245.8h0M56.9 236.1h0M51.2 241.9h0M56.4 236.8h0M50.7 248.0h0M48.5 247.4h0M56.2 246.7h0M49.8 244.3h0M51.3 248.0h0M51.4 241.1h0M53.4 243.3h0M55.9 239.7h0M53.1 238.6h0M59.4 243.5h0M51.1 248.0h0"/>
<path stroke="#666666" stroke-opacity="0.9" stroke-width="1.2" stroke-linecap="square" d="M87.0 221.6h0M82.4 219.8h0M78.0 228.0h0M82.4 224.3h0M81.3 224.2h0M74.5 225.6h0M88.4 215.7h0M87.9 221.5h0M81.3 225.5h0M70.1 227.9h0M86.8 224.5h0M88.5 219.7h0M82.0 223.3h0M77.5 227.0h0M85.0 223.1h0M78.2 226.5h0M76.9 230.2h0M89.8 219.2h0M82.6 222.9h0M77.8 228.5h0M85.1 220.1h0M79.9 223.5h0M75.1 228.5h0M93.9 224.2h0M80.9 224.2h0M80.6 222.7h0M80.6 221.6h0M69.9 227.8h0M93.4 221.4h0M77.3 227.7h0M92.0 223.4h0M83.1 227.6h0M79.2 224.2h0M72.5 226.5h0M78.5 226.0h0M87.8 219.0h0M77.6 221.2h0M77.7 230.2h0M73.1 230.9h0M80.4 223.3h0M81.1 222.6h0M80.8 227.0h0M90.5 219.4h0M76.4 228.8h0M91.9 222.7h0M85.2 226.6h0M73.9 228.6h0M80.1 225.8h0M82.9 222.6h0M73.6 230.1h0M73.5 230.8h0M82.9 226.1h0M73.7 229.4h0M79.5 223.4h0M91.9 223.8h0M94.3 217.8h0M86.8 224.0h0M79.8 226.4h0M87.1 220.6h0M83.8 221.9h0M78.5 233.0h0M86.6 219.4h0M74.6 229.2h0M86.7 227.7h0M84.5 227.8h0M77.9 228.2h0M81.0 226.7h0M86.6 225.1h0M82.6 227.5h0M77.4 227.8h0M76.0 227.1h0M80.3 226.0h0M76.5 227.9h0M85.1 224.1h0M83.0 225.3h0M89.0 224.4h0M73.8 227.0h0M80.6 222.4h0M79.0 222.7h0M87.0 219.4h0M81.1 226.1h0M91.3 224.2h0M86.5 226.7h0M81.0 225.2h0M80.2 223.7h0M76.2 227.0h0M80.3 223.0h0M83.4 219.8h0M84.6 222.7h0M80.0 223.9h0M85.0 226.0h0M82.2 225.8h0M92.2 222.0h0M71.8 223.2h0M79.6 228.6h0M80.8 225.6h0M85.5 224.9h0M80.7 229.4h0M78.3 224.8h0M86.3 222.1h0M75.1 226.4h0M69.1 228.9h0M80.8 227.7h0M75.5 228.6h0M79.7 225.9h0M84.5 225.6h0M66.3 229.7h0M73.7 228.7h0M74.0 227.9h0M82.9 222.6h0M79.4 224.8h0M82.7 223.5h0M75.2 225.5h0M88.3 222.6h0M88.1 222.3h0M77.8 227.0h0M72.5 229.6h0M68.6 234.7h0M82.5 224.8h0M83.8 223.6h0M85.2 218.6h0M83.4 220.8h0M88.8 218.8h0M83.2 219.9h0M75.5 228.2h0M87.8 225.5h0M74.8 228.3h0M79.3 225.7h0M72.2 229.3h0M89.1 219.9h0M81.0 226.6h0M90.2 228.7h0M87.7 219.8h0M69.5 228.5h0M87.4 225.6h0M84.5 225.1h0M88.7 218.2h0M75.0 230.8h0M86.5 223.6h0M87.3 223.6h0M71.3 222.7h0M86.7 221.9h0M90.1 225.4h0M78.2 225.8h0M79.9 226.7h0M77.1 225.5h0M78.3 223.2h0M85.8 225.4h0M81.1 227.1h0M79.6 227.1h0M75.5 227.7h0M84.2 228.0h0M73.7 227.1h0M93.7 220.1h0M79.5 226.4h0M85.1 227.4h0M83.2 226.4h0M80.3 228.4h0M85.5 223.3h0M75.1 232.4h0M78.6 225.5h0M88.5 220.5h0M74.4 225.1h0M78.9 223.9h0M86.9 222.6h0M81.9 227.0h0M82.2 223.6h0M82.5 229.3h0M76.8 227.2h0M70.5 226.7h0M74.3 225.8h0M77.3 226.8h0M84.6 222.0h0M76.9 228.0h0M72.9 226.7h0M84.8 224.7h0M83.8 226.2h0M83.4 222.1h0M88.3 220.4h0M86.9 220.3h0M82.1 224.6h0M78.5 229.9h0M86.2 227.0h0M83.2 221.0h0M83.7 229.8h0M83.7 228.4h0M85.6 223.0h0M91.4 222.9h0M83.2 224.8h0M84.6 221.9h0M69.3 229.9h0M87.3 222.2h0M80.8 226.3h0M78.6 224.9h0M79.3 217.6h0M88.1 222.1h0M75.6 226.0h0M79.0 227.7h0M78.7 225.4h0M85.2 223.8h0M80.6 222.6h0M81.2 227.1h0M79.7 228.5h0M79.7 228.7h0M78.3 223.7h0M83.4 223.8h0M82.3 228.3h0M83.7 225.5h0M84.8 225.1h0M86.9 223.1h0M69.6 228.9h0M85.4 222.9h0M81.5 222.7h0M79.5 223.9h0M82.9 222.0h0M80.6 222.1h0M72.4 227.2h0M90.6 219.7h0M78.9 224.8h0M79.3 222.4h0M76.1 226.5h0M80.3 224.9h0M76.0 233.2h0M79.4 225.7h0M80.1 223.5h0M85.3 221.1h0M84.4 227.6h0M80.0 228.5h0M72.3 226.6h0M78.1 226.5h0M79.0 221.6h0M88.9 219.9h0M84.0 225.3h0M81.0 227.0h0M76.8 224.4h0M78.3 223.7h0M81.6 224.2h0M80.9 228.2h0M83.9 223.9h0M84.9 224.1h0M86.3 222.0h0M84.1 220.4h0M81.0 230.2h0M76.9 225.9h0M85.6 224.7h0M89.5 222.7h0M80.3 223.4h0M81.2 225.6h0M81.0 223.4h0M85.9 225.0h0M86.0 220.7h0M84.2 222.9h0M87.4 220.2h0M86.6 217.5h0M85.4 219.6h0M80.5 229.3h0M80.1 225.6h0M83.8 222.3h0M76.0 232.0h0M80.2 230.3h0M77.0 230.1h0M82.4 227.9h0M86.5 221.7h0M82.7 225.7h0M83.8 221.9h0M92.8 218.1h0M87.0 222.8h0M82.8 224.2h0M88.2 219.8h0M79.8 225.0h0M85.1 225.4h0M77.6 225.6h0M82.5 221.8h0M77.1 224.8h0M70.3 232.0h0M75.1 225.4h0M80.6 228.9h0M81.3 222.9h0M81.6 227.7h0M79.3 229.3h0M85.9 219.0h0M88.1 222.8h0M87.0 223.6h0M80.7 223.5h0M75.3 225.6h0M84.2 223.5h0M80.5 225.9h0M80.3 232.3h0M88.8 219.9h0M79.6 223.0h0M71.6 226.0h0M83.8 222.1h0M86.7 222.5h0M81.1 215.7h0M76.0 229.4h0M86.9 224.4h0M69.9 232.0h0M84.9 220.7h0M81.9 226.9h0M85.9 226.2h0M86.8 223.0h0M88.2 220.3h0M85.3 223.5h0M70.3 228.8h0M76.5 227.0h0M76.0 223.7h0M85.1 225.2h0M84.9 222.3h0M71.7 228.3h0M79.2 223.6h0M80.5 225.1h0M75.9 225.7h0M77.9 227.9h0M80.3 226.3h0M78.8 227.3h0M81.7 225.2h0M88.7 223.2h0M81.2 225.6h0M83.4 218.3h0M83.1 224.4h0M89.7 222.2h0M80.8 224.3h0M78.2 226.0h0M79.3 222.1h0M77.2 227.1h0M75.3 220.4h0M89.1 225.7h0M74.6 229.4h0M74.7 229.2h0M86.0 222.8h0M88.1 221.2h0M75.0 230.5h0M83.3 225.1h0M76.0 229.5h0M74.2 226.7h0M82.2 227.6h0M93.4 219.0h0M89.4 225.8h0M76.5 227.0h0M85.2 223.7h0M82.4 220.9h0M85.2 223.0h0M79.4 228.5h0M76.8 230.5h0M72.0 228.3h0M87.3 224.9h0M94.5 221.0h0M82.4 223.8h0M79.3 227.2h0M79.7 225.4h0M77.6 224.8h0M83.8 222.6h0M80.2 225.4h0M83.7 228.4h0M84.0 226.0h0M77.2 226.0h0M85.1 225.7h0M83.0 221.1h0M85.0 226.2h0M79.8 228.2h0M80.7 225.0h0M80.4 225.1h0M84.9 221.1h0M85.3 226.7h0M89.5 224.3h0M76.2 229.7h0M83.1 224.8h0M73.7 223.4h0M75.0 224.3h0M71.0 228.7h0M78.2 229.1h0M79.4 224.6h0M87.4 224.1h0M78.0 226.6h0M90.0 226.3h0M85.7 227.9h0M82.6 225.9h0M77.5 225.2h0M82.3 222.0h0M82.5 224.4h0M79.2 228.2h0M77.2 223.4h0M87.5 218.2h0M73.9 227.7h0M80.9 225.3h0M82.5 221.8h0M79.3 225.4h0M84.7 224.0h0M83.4 222.4h0M85.1 226.0h0M82.2 221.8h0M73.6 224.9h0M78.8 223.0h0M82.1 224.1h0M81.2 222.1h0M73.1 224.6h0M84.5 223.0h0M73.1 230.1h0M82.7 221.3h0M72.3 223.1h0M78.7 221.8h0M87.9 221.7h0M79.5 228.2h0M77.9 225.8h0M86.3 222.2h0M78.3 222.1h0M81.5 225.2h0M83.2 222.8h0M84.5 221.6h0M82.0 219.8h0M82.4 223.0h0M85.3 225.5h0M84.2 229.3h0M75.0 224.4h0M87.3 222.1h0M85.5 222.5h0M93.7 222.6h0M81.6 226.0h0M77.6 225.2h0M92.1 218.9h0M91.3 226.2h0M81.1 224.4h0M80.4 223.5h0M81.2 223.6h0M82.1 226.0h0M72.8 229.3h0M85.8 222.2h0M80.5 225.0h0M88.4 224.1h0M77.8 225.9h0M82.8 219.8h0M78.1 226.8h0M85.3 223.2h0M80.1 225.1h0M77.0 228.1h0M77.0 221.7h0M78.1 225.2h0M82.6 228.1h0M84.6 220.3h0M80.9 224.9h0M80.1 226.6h0M78.3 230.2h0M82.5 223.3h0M81.5 223.9h0M85.8 229.3h0M79.9 225.4h0M77.8 226.4h0M79.2 225.7h0M79.9 226.2h0M81.3 229.5h0M87.8 225.5h0M83.5 225.0h0M83.4 227.3h0M77.2 226.9h0M83.0 220.9h0M78.6 225.7h0M84.3 219.6h0M77.7 226.6h0M79.5 225.8h0M75.6 225.5h0M73.8 227.9h0M81.1 222.6h0M86.5 224.8h0M86.9 220.4h0M75.3 229.2h0M85.3 221.1h0M70.2 229.2h0M77.8 231.9h0M76.4 221.4h0M81.6 222.8h0M81.2 222.7h0M75.2 227.3h0M73.1 224.1h0M78.2 224.7h0M78.7 219.9h0M77.6 226.5h0M80.3 226.6h0M77.1 225.6h0M81.8 224.7h0M88.0 219.6h0M79.0 230.6h0M84.8 227.9h0M81.4 223.6h0M85.4 223.8h0M83.6 219.2h0M75.6 220.2h0M82.0 229.4h0M86.4 221.0h0M76.0 223.6h0M79.8 224.2h0M86.9 219.6h0M79.5 222.9h0M72.1 229.4h0M88.0 223.4h0M81.4 225.8h0M81.9 221.4h0M85.7 222.1h0M81.3 225.3h0M78.4 221.4h0M89.0 221.6h0"/>
<path stroke="#a8a8a8" stroke-opacity="1" stroke-width="1" stroke-linecap="square" d="M71.0 234.6h0M74.8 232.8h0M80.9 233.7h0M77.8 233.3h0M80.7 231.2h0M81.8 229.7h0M76.0 235.4h0M79.6 233.2h0M70.6 230.1h0M76.1 236.4h0M73.0 229.2h0M81.3 233.0h0M78.0 231.8h0M81.2 232.8h0M78.7 237.3h0M79.8 236.6h0M80.4 235.9h0M81.4 229.9h0M72.1 228.6h0M79.0 230.4h0M78.8 231.1h0M81.7 230.6h0M64.7 234.2h0M79.0 238.2h0M75.8 227.3h0M71.8 232.8h0M89.0 227.8h0M83.1 230.8h0M70.8 233.5h0M75.3 235.6h0M74.3 228.7h0M73.2 230.4h0M76.7 233.8h0M78.4 231.7h0M74.6 232.6h0M78.6 235.2h0M87.4 229.4h0M82.0 234.3h0M76.5 229.4h0M68.9 238.8h0M81.4 230.3h0M75.2 235.9h0M82.4 232.1h0M77.4 234.0h0M89.0 237.6h0M81.1 231.3h0M81.0 231.7h0M78.9 233.3h0M81.2 237.8h0M78.8 229.9h0M82.6 232.8h0M78.2 237.0h0M66.5 233.5h0M78.2 230.9h0M79.6 229.8h0M80.2 231.8h0M86.8 235.4h0M82.9 233.9h0M74.2 234.2h0M75.9 231.1h0"/>
<line x1="37.7" y1="197.7" x2="105.4" y2="197.7" stroke="#666" stroke-width="1.1"/>
<line x1="105.4" y1="197.7" x2="105.4" y2="254.5" stroke="#555" stroke-width="1"/>
<line x1="37.7" y1="197.2" x2="37.7" y2="255.7" stroke="#333" stroke-width="1.1"/>
<line x1="37.7" y1="254.3" x2="105.4" y2="254.3" stroke="#333" stroke-width="1" stroke-dasharray="0.9 0.9"/>
<line x1="35.9" y1="198.2" x2="37.7" y2="198.2" stroke="#333" stroke-width="0.9"/>
<line x1="37.7" y1="254.5" x2="37.7" y2="256.1" stroke="#333" stroke-width="0.9"/>
<line x1="35.9" y1="212.3" x2="37.7" y2="212.3" stroke="#333" stroke-width="0.9"/>
<line x1="54.6" y1="254.5" x2="54.6" y2="256.1" stroke="#333" stroke-width="0.9"/>
<line x1="35.9" y1="226.3" x2="37.7" y2="226.3" stroke="#333" stroke-width="0.9"/>
<line x1="71.6" y1="254.5" x2="71.6" y2="256.1" stroke="#333" stroke-width="0.9"/>
<line x1="35.9" y1="240.4" x2="37.7" y2="240.4" stroke="#333" stroke-width="0.9"/>
<line x1="88.5" y1="254.5" x2="88.5" y2="256.1" stroke="#333" stroke-width="0.9"/>
<line x1="35.9" y1="254.5" x2="37.7" y2="254.5" stroke="#333" stroke-width="0.9"/>
<line x1="105.4" y1="254.5" x2="105.4" y2="256.1" stroke="#333" stroke-width="0.9"/>
<line x1="38.6" y1="198.7" x2="38.6" y2="254.5" stroke="#333" stroke-width="1.4" stroke-dasharray="0.7 1.3"/>
<rect x="67.6" y="207.4" width="28.8" height="29.2" fill="none" stroke="#333" stroke-width="1"/>
<text x="93.6" y="216" font-size="7.8" stroke="#111" stroke-width="0.12" text-anchor="end" fill="#111">30</text>
<text x="38.4" y="264.1" font-size="6.4" text-anchor="middle" fill="#222">10<tspan font-size="4.4" dy="-2.6">0</tspan></text>
<text x="55.1" y="264.1" font-size="6.4" text-anchor="middle" fill="#222">10<tspan font-size="4.4" dy="-2.6">1</tspan></text>
<text x="71.8" y="264.1" font-size="6.4" text-anchor="middle" fill="#222">10<tspan font-size="4.4" dy="-2.6">2</tspan></text>
<text x="88.4" y="264.1" font-size="6.4" text-anchor="middle" fill="#222">10<tspan font-size="4.4" dy="-2.6">3</tspan></text>
<text x="105.1" y="264.1" font-size="6.4" text-anchor="middle" fill="#222">10<tspan font-size="4.4" dy="-2.6">4</tspan></text>
<path stroke="#a8a8a8" stroke-opacity="1" stroke-width="1" stroke-linecap="square" d="M147.3 243.1h0M161.8 233.1h0M154.9 243.8h0M153.3 240.5h0M149.8 230.2h0M142.5 250.9h0M144.4 245.7h0M152.3 237.2h0M161.7 230.9h0M151.2 232.5h0M157.9 238.2h0M152.9 240.3h0M155.6 246.3h0M151.9 235.8h0M156.3 234.9h0M142.9 238.1h0M150.9 234.3h0M148.6 236.3h0M163.5 236.0h0M150.1 241.9h0M124.6 252.5h0M144.1 241.3h0M139.0 243.2h0M146.8 237.5h0M161.7 241.0h0M148.8 241.6h0M145.4 242.0h0M176.4 234.4h0M146.3 237.9h0M137.0 244.4h0M153.1 235.7h0M145.3 238.8h0M179.5 226.5h0M154.3 238.5h0M149.7 243.7h0M146.6 238.6h0M130.8 251.5h0M163.5 224.0h0M147.8 240.4h0M130.2 245.7h0M140.6 238.3h0M139.1 240.7h0M155.8 234.0h0M143.8 242.3h0M161.4 232.8h0M141.5 236.9h0M146.3 244.6h0M179.8 228.7h0M150.8 246.6h0M145.4 239.8h0M138.5 246.7h0M157.2 243.8h0M144.5 242.8h0M156.7 234.7h0M144.6 237.9h0M149.6 234.3h0M132.8 248.3h0M167.6 232.2h0M138.4 244.8h0M156.5 246.6h0M152.9 238.3h0M146.1 246.1h0M138.1 242.7h0M147.6 236.9h0M159.8 235.2h0M145.5 235.4h0M147.5 239.4h0M161.1 227.4h0M181.2 220.5h0M143.5 237.6h0M140.8 239.3h0M174.8 218.9h0M160.4 243.3h0M151.4 236.5h0M138.9 241.4h0M153.3 236.7h0M166.1 237.6h0M158.5 234.9h0M154.2 231.4h0M136.4 237.6h0M172.2 229.9h0M146.9 250.6h0M144.6 246.4h0M151.0 242.1h0M141.0 243.1h0M168.6 229.9h0M146.4 236.8h0M153.2 240.4h0M148.3 234.2h0M165.4 229.5h0M146.2 239.3h0M148.7 237.1h0M148.1 237.8h0M151.3 245.7h0M163.1 234.8h0M150.3 237.3h0M155.4 236.4h0M143.1 233.6h0M149.0 238.8h0M145.0 243.6h0M147.9 237.9h0M131.2 239.9h0M140.6 236.2h0M163.9 230.3h0M155.3 237.1h0M145.6 252.7h0M150.7 239.2h0M167.5 222.7h0M153.8 238.5h0M151.8 240.0h0M154.9 230.3h0M148.8 249.6h0M135.2 243.0h0M139.1 250.8h0M145.1 240.8h0M161.4 235.8h0M165.7 224.7h0M153.2 243.9h0M151.8 229.2h0M143.8 240.8h0M137.4 232.9h0M132.5 245.0h0M142.2 242.0h0M155.1 238.7h0M151.1 239.2h0M153.9 236.7h0M137.0 241.1h0M163.2 239.1h0M157.7 249.1h0M161.1 248.4h0M148.9 230.6h0M137.6 244.2h0M152.2 236.0h0M132.0 247.0h0M141.0 251.2h0M154.3 241.7h0M147.7 243.2h0M150.8 240.0h0M135.3 242.4h0M152.4 240.7h0M164.8 235.4h0M158.3 238.6h0M138.3 245.1h0M156.8 233.0h0M150.1 235.2h0M140.2 240.8h0M149.9 243.0h0M144.8 233.4h0M144.5 230.2h0M150.8 232.6h0M148.1 231.4h0M173.0 230.6h0M145.2 241.1h0M149.0 240.3h0M138.3 243.8h0"/>
<path stroke="#666666" stroke-opacity="0.9" stroke-width="1.2" stroke-linecap="square" d="M138.1 250.1h0M134.3 239.6h0M129.3 243.0h0M125.2 252.3h0M141.2 238.5h0M132.4 248.2h0M141.7 239.7h0M134.3 246.3h0M123.3 247.4h0M130.5 252.6h0M129.1 241.9h0M134.7 247.3h0M129.7 245.6h0M130.9 249.8h0M126.5 246.2h0M136.4 244.4h0M126.9 248.7h0M135.8 240.3h0M134.0 240.2h0M132.1 242.2h0M135.2 243.0h0M128.2 250.5h0M126.2 248.1h0M119.9 253.3h0M124.1 249.2h0M126.5 250.4h0M135.7 246.5h0M123.6 247.8h0M125.7 250.7h0M130.0 245.0h0M138.9 245.1h0M125.4 244.8h0M134.7 248.7h0M130.8 251.7h0M129.3 241.1h0M133.9 248.0h0M121.9 245.4h0M135.0 246.6h0M127.7 246.2h0M133.2 247.8h0M125.3 250.2h0M134.0 243.5h0M128.1 248.7h0M150.1 234.1h0M136.4 241.1h0M141.6 237.4h0M125.4 252.7h0M147.9 235.4h0M141.0 245.6h0M131.9 246.5h0M131.9 249.4h0M130.2 246.5h0M121.8 250.8h0M136.0 248.0h0M126.5 240.2h0M138.0 244.3h0M129.7 243.2h0M131.9 246.4h0M134.2 247.1h0M131.3 250.8h0M124.8 251.6h0M129.5 245.6h0M127.6 246.0h0M134.1 242.5h0M142.7 236.3h0M131.7 238.0h0M126.9 249.4h0M131.7 240.9h0M137.7 244.7h0M130.4 248.9h0M132.9 244.4h0M132.8 244.0h0M141.0 241.5h0M132.1 252.0h0M130.9 241.7h0M121.2 244.3h0M125.8 248.6h0M134.1 239.9h0M139.6 239.5h0M141.8 243.4h0M127.5 243.2h0M136.6 246.5h0M131.7 240.4h0M119.7 250.4h0M147.7 234.3h0M132.6 241.9h0M128.6 245.3h0M128.4 248.8h0M122.4 252.5h0M123.4 251.9h0M129.6 247.3h0M133.3 239.0h0M131.5 245.5h0M136.3 242.2h0M139.1 242.1h0M127.1 244.6h0M131.5 246.4h0M143.4 241.1h0M120.8 250.7h0M120.3 252.0h0M128.7 243.7h0M145.7 242.4h0M127.4 251.7h0M131.7 244.2h0M120.8 250.8h0M131.5 246.8h0M134.1 243.9h0M141.5 241.0h0M135.6 243.7h0M144.6 234.9h0M139.2 242.5h0M126.5 247.4h0M135.1 244.1h0M128.5 245.8h0M128.4 238.3h0M132.6 249.0h0M139.2 237.4h0M137.2 242.1h0M131.1 245.1h0M129.0 252.0h0M138.3 242.0h0M130.0 244.1h0M140.9 243.0h0M136.3 238.5h0M123.0 249.0h0M145.8 237.4h0M131.5 244.5h0M127.5 247.6h0M134.0 237.6h0M140.0 243.7h0M132.2 244.5h0M129.8 251.5h0M134.5 245.9h0M140.0 246.0h0M140.2 242.7h0M134.3 245.9h0M132.2 241.9h0M137.1 248.7h0M125.5 247.9h0M130.1 246.0h0M137.0 238.5h0M139.3 240.4h0M135.5 246.2h0M119.8 246.8h0M143.7 238.9h0M138.2 240.0h0M129.1 246.7h0M126.0 244.4h0M137.4 243.1h0M124.2 246.2h0M127.5 251.3h0M132.3 247.3h0M126.8 244.1h0M132.1 244.9h0M135.2 240.4h0M133.1 247.4h0M127.8 249.2h0M130.8 248.9h0M130.8 249.3h0M123.8 251.4h0M135.0 248.1h0M128.2 250.2h0M123.4 246.9h0M121.4 250.7h0M129.1 244.2h0M139.3 242.5h0M130.2 241.2h0M124.7 248.0h0M121.6 251.2h0M125.0 247.8h0M146.3 237.2h0M128.8 242.5h0M129.3 251.1h0M147.2 242.0h0M129.9 244.2h0M127.6 251.8h0M122.8 246.3h0M130.9 242.9h0M125.2 252.6h0M140.6 237.9h0M130.1 241.0h0M123.8 247.2h0M134.6 245.5h0M136.1 243.1h0M133.4 244.5h0M135.8 240.4h0M142.7 242.2h0M131.0 244.4h0M133.5 239.8h0M132.1 246.8h0M127.6 249.0h0M140.4 238.5h0M129.7 246.7h0M139.4 240.0h0M132.7 247.4h0M138.0 248.7h0M127.7 244.7h0M120.3 252.6h0M133.0 239.4h0M133.3 246.0h0M126.9 246.6h0M126.1 252.3h0M130.4 247.1h0M127.2 246.6h0M120.2 252.6h0M133.9 248.5h0M135.7 245.6h0M133.1 241.8h0M132.4 246.7h0M135.5 241.4h0M131.4 245.0h0M137.9 244.6h0M128.4 249.8h0M141.8 240.4h0M132.3 244.0h0M132.1 243.9h0M133.9 243.3h0M132.4 244.8h0M147.7 235.4h0M132.3 237.5h0M128.1 248.3h0M137.8 240.8h0M127.3 243.8h0M123.9 249.6h0M129.1 245.3h0M128.6 247.6h0M127.3 244.1h0M128.6 249.0h0M126.4 242.7h0M128.2 250.7h0M144.2 234.2h0M120.1 252.0h0M140.5 237.4h0M128.5 249.1h0M139.4 236.4h0M126.4 251.7h0M120.3 250.4h0M131.2 244.3h0M125.1 249.4h0M136.1 243.2h0M128.7 241.4h0M139.5 241.6h0M139.6 239.1h0M139.3 242.5h0M128.7 242.9h0M137.8 241.2h0M141.8 242.1h0M126.7 249.7h0M120.6 249.2h0M132.7 251.8h0M127.9 242.5h0M146.1 235.6h0M125.9 252.5h0M123.3 247.8h0M135.7 244.1h0M134.3 246.2h0M136.7 242.7h0M141.9 239.3h0M132.2 243.4h0M127.7 245.9h0M130.4 247.6h0M127.1 250.6h0M128.0 251.2h0M124.6 248.6h0M124.5 253.3h0M144.6 237.5h0M133.1 242.9h0M132.6 236.9h0M136.3 243.8h0M131.0 247.3h0M123.0 247.9h0M144.7 245.1h0M134.2 241.8h0M123.6 251.7h0M120.0 246.2h0M129.3 243.8h0M129.7 246.0h0M136.6 241.7h0M127.3 249.1h0M136.7 246.7h0M126.9 250.3h0M121.2 249.6h0M134.6 243.1h0M131.5 244.2h0M136.1 246.2h0M121.1 252.2h0M121.9 249.0h0M138.2 237.3h0M133.8 245.8h0M129.0 250.4h0M135.7 242.4h0M129.3 248.0h0M131.1 240.8h0M120.9 248.4h0M141.4 237.1h0M133.6 248.1h0M125.4 247.4h0M124.2 249.6h0M149.5 235.9h0M131.8 245.9h0M132.4 243.1h0M142.4 245.7h0M134.6 242.3h0M121.2 249.1h0M131.1 244.6h0M140.9 244.0h0M121.9 246.6h0M131.7 249.6h0M120.6 251.5h0M129.7 240.8h0M132.3 240.4h0M130.5 243.9h0M127.5 249.1h0M129.3 242.0h0M129.7 244.9h0M128.3 249.1h0M127.3 249.4h0M129.8 241.6h0M122.2 250.3h0M123.5 244.9h0M123.7 250.1h0M121.6 249.1h0M136.1 244.1h0M137.9 243.2h0M135.4 241.2h0M140.5 239.1h0M135.2 246.3h0M133.4 239.0h0M130.2 253.2h0M125.3 246.9h0M120.1 250.4h0M133.1 243.8h0M129.0 247.8h0M135.6 243.4h0M138.2 247.2h0M135.0 246.0h0M131.4 245.8h0M134.9 247.9h0M129.1 244.5h0M134.9 240.5h0M144.2 239.4h0M145.4 237.0h0M121.1 252.7h0M131.7 250.4h0M128.1 244.3h0M129.7 243.2h0M133.4 243.9h0M134.6 242.6h0M129.8 246.1h0M138.7 245.2h0M143.3 244.0h0M143.6 239.3h0M138.1 240.8h0M128.2 242.2h0M133.4 241.3h0M136.3 242.7h0M125.3 248.3h0M133.2 246.4h0M125.3 241.5h0M134.3 245.9h0M146.1 239.3h0M130.5 251.1h0M127.4 245.5h0M127.6 249.4h0M131.1 242.6h0M130.7 246.1h0M134.1 237.9h0M125.9 246.7h0M127.6 247.7h0M142.5 238.7h0M138.6 247.0h0M132.5 245.9h0M130.2 245.3h0M123.8 247.5h0M135.9 247.2h0M127.1 246.2h0M138.1 243.3h0M135.6 246.0h0M124.1 246.5h0M142.1 240.4h0M137.4 239.2h0M126.8 244.0h0M121.6 247.5h0M135.6 240.4h0M128.3 242.8h0M138.4 235.0h0M123.1 244.2h0M131.7 248.3h0M138.7 243.7h0M133.4 248.8h0M119.8 251.1h0M127.2 243.4h0M129.2 245.5h0M126.8 251.9h0M127.6 246.7h0M144.1 242.2h0M134.7 248.6h0M121.6 252.7h0M136.6 244.1h0M137.9 244.2h0M137.1 241.8h0M140.8 240.7h0M131.6 243.3h0M130.4 244.8h0M127.0 246.1h0M125.3 249.9h0M127.0 249.4h0M142.4 241.3h0M141.8 240.9h0M145.3 240.0h0M129.1 248.5h0M136.2 245.0h0M122.5 250.2h0M139.4 244.1h0M138.2 239.6h0M126.1 245.5h0M141.6 242.3h0M133.0 239.4h0M143.0 235.4h0M130.1 246.4h0M130.2 242.3h0M126.6 247.2h0M135.4 250.7h0M134.5 243.3h0"/>
<path stroke="#666666" stroke-opacity="0.85" stroke-width="1" stroke-linecap="square" d="M160.4 230.4h0M151.9 226.9h0M159.1 234.4h0M162.5 235.1h0M162.9 224.5h0M157.9 233.3h0M166.3 227.5h0M160.6 239.0h0M160.6 237.1h0M160.6 237.9h0M156.7 236.7h0M158.2 223.8h0M153.6 239.1h0M149.0 240.1h0M161.4 227.7h0M156.8 239.0h0M156.1 235.8h0M160.0 230.7h0M163.6 232.9h0M163.0 232.2h0M148.3 242.7h0M164.6 229.7h0M159.7 228.0h0M159.7 234.6h0M164.5 226.6h0M162.9 225.6h0M161.7 232.1h0M153.1 235.7h0M161.6 230.0h0M158.2 228.5h0M167.0 233.1h0M156.1 233.8h0M162.7 233.0h0M156.8 226.5h0M166.0 221.7h0M158.6 229.2h0M157.5 228.0h0M158.8 234.1h0M162.5 232.1h0M159.8 230.8h0M156.7 235.7h0M157.3 228.3h0M151.7 239.1h0M171.1 223.6h0M156.9 226.8h0M155.1 232.8h0M158.8 240.6h0M167.4 229.7h0M167.0 229.6h0M150.7 234.0h0M159.8 232.8h0M162.7 234.5h0M156.4 230.3h0M159.7 246.6h0M167.6 228.8h0M163.4 232.0h0M155.8 232.6h0M154.2 229.2h0M159.3 230.3h0M163.4 236.7h0M155.4 236.8h0M171.0 229.9h0M157.4 232.0h0M157.1 227.8h0M152.3 236.7h0M158.3 232.2h0M154.2 241.0h0M155.7 230.4h0M161.1 229.9h0M167.4 225.7h0M158.8 239.3h0M158.0 233.7h0M160.1 234.6h0M156.1 239.5h0M165.6 234.0h0M159.1 228.7h0M163.2 231.0h0M155.4 238.0h0M169.2 229.7h0M168.3 233.1h0M161.4 231.9h0M164.8 230.1h0M160.6 229.0h0M154.2 226.8h0M160.4 231.2h0M159.9 227.8h0M156.7 232.3h0M150.7 238.2h0M157.9 233.4h0M160.9 230.3h0M156.0 232.8h0M157.8 229.6h0M160.3 232.8h0M163.3 231.5h0M160.6 233.5h0M162.8 236.0h0M159.9 232.2h0M166.3 230.3h0M169.6 225.2h0M160.7 228.7h0M162.2 231.2h0M167.0 233.0h0M153.9 230.8h0M162.6 233.1h0M154.1 233.8h0M155.7 233.4h0M157.0 232.8h0M161.1 228.7h0M169.4 231.2h0M153.7 232.4h0M158.2 237.4h0M159.4 230.4h0M161.7 234.5h0M162.3 229.3h0M158.4 232.9h0M165.4 233.8h0M160.3 228.0h0M167.7 234.8h0M154.6 228.3h0M168.2 225.5h0M160.6 231.8h0M173.0 228.5h0M152.9 232.8h0M157.9 232.4h0M158.0 234.8h0M168.0 233.1h0M155.6 231.5h0M163.8 231.6h0M160.9 235.3h0M151.2 236.1h0M170.3 225.0h0M164.1 224.7h0M160.3 229.5h0M165.3 231.2h0M165.7 225.4h0M166.6 229.3h0M164.7 233.1h0M161.5 229.4h0M160.8 233.6h0M165.5 230.6h0M166.0 227.1h0M162.4 232.2h0M155.7 233.2h0M163.8 236.3h0M155.7 235.0h0M163.1 227.2h0M167.5 231.7h0M164.4 230.6h0M158.2 235.0h0M155.4 237.7h0M153.3 235.1h0M153.7 228.4h0M158.9 235.8h0M155.4 231.1h0M161.8 233.2h0M158.0 232.7h0M162.0 235.6h0M167.9 227.3h0M155.9 230.0h0M164.2 234.0h0M167.5 230.0h0M167.1 226.0h0M157.5 230.6h0M163.6 229.1h0M162.7 229.3h0M162.1 233.3h0M162.4 235.7h0M161.2 240.6h0M170.5 226.9h0M160.3 235.1h0M164.3 228.4h0M163.0 230.1h0M157.0 234.5h0M156.4 227.1h0M169.6 226.2h0M161.4 231.2h0M166.1 231.3h0M157.3 236.3h0M155.5 235.5h0M160.2 229.7h0M155.8 234.1h0M156.2 229.3h0M165.5 234.4h0M159.8 232.8h0M151.3 237.3h0M153.7 230.8h0M154.3 238.0h0M163.9 233.1h0M155.3 231.3h0M153.7 238.3h0M164.7 224.3h0M161.2 229.8h0M158.9 224.6h0M153.0 236.9h0M163.5 230.4h0M160.7 236.1h0M148.9 229.0h0M168.6 230.5h0M149.5 232.8h0M160.9 236.4h0"/>
<line x1="118.7" y1="197.7" x2="185.9" y2="197.7" stroke="#666" stroke-width="1.1"/>
<line x1="185.9" y1="197.7" x2="185.9" y2="254.5" stroke="#555" stroke-width="1"/>
<line x1="118.7" y1="197.2" x2="118.7" y2="255.7" stroke="#333" stroke-width="1.1"/>
<line x1="118.7" y1="254.3" x2="185.9" y2="254.3" stroke="#333" stroke-width="1" stroke-dasharray="0.9 0.9"/>
<line x1="116.9" y1="198.2" x2="118.7" y2="198.2" stroke="#333" stroke-width="0.9"/>
<line x1="118.7" y1="254.5" x2="118.7" y2="256.1" stroke="#333" stroke-width="0.9"/>
<line x1="116.9" y1="212.3" x2="118.7" y2="212.3" stroke="#333" stroke-width="0.9"/>
<line x1="135.5" y1="254.5" x2="135.5" y2="256.1" stroke="#333" stroke-width="0.9"/>
<line x1="116.9" y1="226.3" x2="118.7" y2="226.3" stroke="#333" stroke-width="0.9"/>
<line x1="152.3" y1="254.5" x2="152.3" y2="256.1" stroke="#333" stroke-width="0.9"/>
<line x1="116.9" y1="240.4" x2="118.7" y2="240.4" stroke="#333" stroke-width="0.9"/>
<line x1="169.1" y1="254.5" x2="169.1" y2="256.1" stroke="#333" stroke-width="0.9"/>
<line x1="116.9" y1="254.5" x2="118.7" y2="254.5" stroke="#333" stroke-width="0.9"/>
<line x1="185.9" y1="254.5" x2="185.9" y2="256.1" stroke="#333" stroke-width="0.9"/>
<line x1="119.6" y1="198.7" x2="119.6" y2="254.5" stroke="#333" stroke-width="1.4" stroke-dasharray="0.7 1.3"/>
<rect x="148.7" y="207.4" width="29.1" height="29.2" fill="none" stroke="#333" stroke-width="1"/>
<text x="175" y="216" font-size="7.8" stroke="#111" stroke-width="0.12" text-anchor="end" fill="#111">15</text>
<text x="119.4" y="264.1" font-size="6.4" text-anchor="middle" fill="#222">10<tspan font-size="4.4" dy="-2.6">0</tspan></text>
<text x="135.9" y="264.1" font-size="6.4" text-anchor="middle" fill="#222">10<tspan font-size="4.4" dy="-2.6">1</tspan></text>
<text x="152.5" y="264.1" font-size="6.4" text-anchor="middle" fill="#222">10<tspan font-size="4.4" dy="-2.6">2</tspan></text>
<text x="169.1" y="264.1" font-size="6.4" text-anchor="middle" fill="#222">10<tspan font-size="4.4" dy="-2.6">3</tspan></text>
<text x="185.6" y="264.1" font-size="6.4" text-anchor="middle" fill="#222">10<tspan font-size="4.4" dy="-2.6">4</tspan></text>
<path stroke="#a8a8a8" stroke-opacity="1" stroke-width="1" stroke-linecap="square" d="M242.0 238.3h0M222.6 242.9h0M217.7 244.7h0M240.8 239.1h0M250.1 234.9h0M226.5 244.6h0M236.9 237.9h0M233.7 245.2h0M239.6 235.1h0M235.0 230.6h0M221.1 250.3h0M224.5 244.4h0M232.5 235.0h0M227.9 240.0h0M243.3 227.3h0M241.2 235.2h0M249.1 235.3h0M235.2 239.6h0M227.8 238.2h0M224.2 235.3h0M220.4 239.0h0M240.5 248.5h0M242.8 248.9h0M243.2 242.7h0M234.2 237.8h0M229.3 250.4h0M237.9 240.0h0M239.9 241.5h0M239.8 241.6h0M230.6 237.9h0M226.7 242.2h0M213.8 246.5h0M231.7 240.7h0M213.7 249.7h0M249.2 234.1h0M245.3 225.8h0M209.1 246.3h0M236.9 241.0h0M229.1 239.3h0M258.3 234.3h0M224.1 250.3h0M229.0 246.1h0M207.1 245.5h0M240.8 234.9h0M233.6 244.3h0M213.9 244.6h0M245.1 238.8h0M214.3 241.1h0M239.9 240.0h0M229.0 242.5h0M221.9 239.5h0M221.2 249.6h0M256.8 221.6h0M224.7 250.6h0M248.8 233.6h0M215.1 244.8h0M238.0 234.4h0M227.1 237.1h0M229.2 243.5h0M235.8 238.5h0M222.4 240.6h0M214.1 239.0h0M224.4 249.7h0M218.9 249.8h0M226.2 232.7h0M236.8 237.3h0M220.4 244.9h0M251.9 235.2h0M234.0 236.0h0M222.8 239.0h0M244.5 236.0h0M238.0 232.9h0M245.6 236.0h0M237.6 241.8h0M230.8 229.3h0M208.7 249.2h0M235.6 235.4h0M232.9 227.4h0M233.9 237.6h0M211.8 249.2h0M250.1 241.5h0M260.4 237.9h0M213.8 236.0h0M256.9 229.7h0M244.7 232.8h0M220.8 246.2h0M241.5 233.2h0M241.7 237.0h0M242.8 252.1h0M226.9 240.2h0M244.1 243.3h0M230.3 240.5h0M240.5 229.8h0M210.5 249.6h0M208.8 250.5h0M246.9 238.9h0M241.6 246.1h0M234.1 234.0h0M242.9 238.4h0M234.6 240.2h0M221.5 253.3h0M222.0 238.4h0M234.2 233.3h0M227.1 236.9h0M245.9 232.7h0M228.4 246.3h0M224.1 241.6h0M237.2 234.4h0M234.5 236.9h0M226.5 243.5h0M256.8 222.5h0M249.6 233.7h0M229.5 239.5h0M241.4 246.4h0M223.0 246.2h0M246.8 235.9h0M210.6 251.6h0M243.2 233.9h0M211.2 244.6h0M238.7 247.2h0M235.6 244.2h0M202.2 248.6h0M230.3 245.3h0M215.6 246.7h0M229.3 239.7h0M220.8 243.4h0M212.6 245.1h0M234.5 240.9h0M231.9 236.2h0M235.5 233.8h0M233.6 232.9h0M233.5 243.7h0M238.4 243.3h0M234.4 235.3h0M244.6 231.9h0M250.0 236.8h0M247.3 229.1h0M227.0 232.2h0M239.5 235.1h0M231.8 242.6h0M236.8 237.7h0M245.2 227.4h0M240.8 238.3h0M251.6 240.5h0M239.7 243.6h0M229.9 242.5h0M234.9 243.4h0M238.4 237.6h0M238.0 243.0h0M232.3 240.0h0M221.3 241.5h0M230.2 240.6h0M240.5 231.1h0M246.0 239.2h0M234.0 230.5h0M234.2 244.5h0M236.8 232.7h0M252.7 239.2h0M211.3 241.3h0M236.3 240.2h0M249.4 237.5h0M244.1 233.8h0M238.2 232.0h0M239.6 245.9h0M213.0 239.3h0M247.4 226.1h0M241.5 241.9h0M217.5 245.4h0M261.8 232.1h0M260.6 222.3h0M214.2 250.5h0M246.2 238.1h0M218.3 236.9h0M237.4 236.2h0M237.8 234.1h0M223.1 246.7h0M247.8 239.2h0M240.7 234.3h0M256.7 245.2h0M230.4 244.0h0M236.5 241.7h0M237.3 233.3h0M228.5 238.1h0M264.7 236.9h0M231.9 246.1h0M241.5 232.3h0M234.8 231.6h0M228.2 241.6h0M222.0 245.5h0"/>
<path stroke="#666666" stroke-opacity="0.9" stroke-width="1.2" stroke-linecap="square" d="M224.2 245.2h0M229.5 236.2h0M233.3 236.9h0M225.4 243.4h0M217.2 251.7h0M200.5 250.6h0M229.4 238.1h0M225.5 243.5h0M205.1 251.0h0M229.2 248.2h0M229.7 244.5h0M211.2 248.7h0M210.4 245.8h0M215.1 243.2h0M200.4 253.3h0M223.3 244.3h0M210.2 252.1h0M211.4 246.1h0M217.1 237.0h0M203.7 248.4h0M231.6 246.1h0M213.5 248.6h0M245.2 234.4h0M223.6 235.1h0M215.6 250.3h0M212.7 246.8h0M241.2 233.6h0M212.2 248.1h0M199.9 247.3h0M205.6 251.1h0M201.4 248.9h0M219.7 241.9h0M220.6 249.2h0M214.5 243.7h0M203.8 248.1h0M229.2 243.1h0M221.3 239.9h0M227.6 243.5h0M228.3 242.9h0M228.6 240.5h0M215.5 241.0h0M231.8 240.9h0M204.7 248.7h0M214.1 248.9h0M223.7 239.6h0M212.8 252.0h0M222.0 240.8h0M222.7 245.6h0M252.2 232.8h0M217.2 244.2h0M211.5 243.2h0M216.0 246.2h0M222.2 244.7h0M208.9 247.9h0M214.4 250.2h0M227.3 239.3h0M212.2 244.2h0M210.1 242.4h0M227.7 238.2h0M220.1 245.4h0M236.4 243.6h0M230.2 235.2h0M222.7 240.7h0M212.5 252.2h0M215.3 247.7h0M211.0 244.9h0M220.7 236.2h0M224.7 242.4h0M210.7 246.5h0M223.0 244.2h0M216.5 250.2h0M226.9 238.6h0M205.6 252.8h0M212.9 242.8h0M212.1 244.5h0M211.5 242.9h0M219.1 243.8h0M216.9 237.6h0M214.1 251.5h0M208.4 250.4h0M234.5 239.0h0M222.7 246.8h0M232.3 247.1h0M215.5 248.7h0M214.8 245.7h0M217.4 243.7h0M203.2 246.0h0M233.6 240.9h0M228.0 240.8h0M225.9 239.9h0M224.6 239.3h0M204.9 248.2h0M210.4 243.5h0M219.7 239.5h0M219.0 244.3h0M225.1 243.7h0M209.8 242.4h0M237.4 236.5h0M225.0 243.9h0M211.1 244.7h0M222.9 233.5h0M211.5 249.5h0M214.4 249.5h0M213.4 241.7h0M210.9 248.4h0M211.5 249.9h0M214.2 247.8h0M217.5 248.8h0M208.6 244.3h0M205.9 251.3h0M231.5 240.1h0M212.8 239.7h0M222.5 246.1h0M213.1 241.6h0M216.0 247.8h0M223.6 238.8h0M215.4 240.9h0M221.5 248.3h0M225.9 241.8h0M213.2 239.6h0M226.5 242.8h0M225.3 241.7h0M221.1 243.8h0M218.5 251.3h0M221.2 250.4h0M211.0 251.9h0M209.3 250.7h0M204.7 246.5h0M241.0 233.6h0M219.1 245.5h0M205.5 247.8h0M216.1 244.3h0M224.7 243.1h0M203.5 246.5h0M226.6 236.4h0M225.6 248.1h0M224.2 243.3h0M230.7 234.8h0M214.2 249.4h0M222.2 250.5h0M220.2 249.4h0M215.0 239.9h0M212.1 247.7h0M212.7 252.5h0M224.7 239.5h0M228.0 239.8h0M228.1 238.4h0M207.5 251.6h0M231.2 248.1h0M201.0 244.3h0M213.5 242.5h0M228.1 245.0h0M200.7 253.1h0M201.7 252.0h0M214.6 250.1h0M221.8 240.6h0M219.8 249.2h0M219.5 238.5h0M215.5 237.1h0M206.0 250.7h0M213.2 245.9h0M209.3 247.8h0M216.2 241.4h0M216.3 245.2h0M230.2 241.0h0M227.1 245.5h0M216.6 241.1h0M208.4 252.0h0M214.6 246.8h0M221.6 242.7h0M223.0 236.5h0M218.3 240.6h0M222.9 247.0h0M217.5 244.0h0M224.9 244.6h0M222.2 239.1h0M216.1 247.7h0M223.1 247.6h0M217.9 241.3h0M236.0 238.7h0M208.6 243.4h0M233.1 233.8h0M222.4 236.8h0M222.1 244.2h0M223.2 242.4h0M227.8 239.6h0M220.6 246.3h0M215.4 243.3h0M229.4 235.1h0M211.4 248.4h0M228.1 244.3h0M211.2 249.0h0M220.7 237.6h0M231.2 240.3h0M220.1 243.8h0M225.8 238.8h0M201.9 247.8h0M216.1 244.5h0M213.8 243.7h0M200.3 248.2h0M207.9 250.0h0M218.1 238.6h0M213.0 241.4h0M217.3 247.6h0M219.8 234.9h0M226.5 237.9h0M205.0 246.1h0M212.8 248.8h0M215.0 242.8h0M209.6 244.3h0M234.8 232.5h0M222.0 248.0h0M204.4 243.4h0M206.3 249.1h0M209.2 245.1h0M227.1 239.1h0M236.8 231.5h0M221.8 237.8h0M228.4 240.8h0M228.4 241.4h0M214.0 252.0h0M215.8 245.6h0M202.5 245.2h0M207.4 244.9h0M202.5 251.4h0M222.4 240.2h0M208.8 253.4h0M225.6 247.8h0M210.0 247.4h0M212.7 242.5h0M213.3 249.7h0M210.2 244.3h0M231.9 239.6h0M223.4 246.0h0M202.8 248.8h0M218.5 241.8h0M233.4 237.4h0M231.5 241.8h0M207.9 250.5h0M204.2 248.0h0M219.6 248.9h0M231.1 240.3h0M207.4 247.0h0M213.7 248.9h0M232.0 236.7h0M211.5 248.8h0M223.8 246.5h0M226.8 247.5h0M224.5 240.6h0M216.0 244.8h0M218.3 244.6h0M220.8 238.4h0M215.0 249.7h0M215.4 246.8h0M205.2 248.0h0M222.8 246.6h0M207.0 251.8h0M213.2 237.1h0M206.3 251.6h0M202.2 249.3h0M203.3 249.8h0M215.7 247.1h0M222.6 248.8h0M214.7 249.9h0M210.8 252.6h0M203.9 250.6h0M213.1 241.0h0M215.6 248.5h0M216.3 238.8h0M213.3 245.9h0M229.8 230.3h0M205.1 250.1h0M233.1 239.9h0M239.2 241.9h0M222.7 245.9h0M208.8 250.2h0M216.3 246.6h0M208.6 243.8h0M221.9 241.3h0M212.6 244.9h0M210.5 244.8h0M219.6 243.0h0M207.3 243.5h0M221.0 243.2h0M218.8 246.3h0M203.9 249.9h0M233.8 241.9h0M210.5 238.1h0M234.7 239.8h0M211.4 251.2h0M204.0 251.0h0M217.5 240.7h0M218.5 246.2h0M206.5 250.0h0M207.8 250.1h0M217.2 244.3h0M217.7 242.6h0M216.8 250.7h0M223.1 247.5h0M219.5 246.7h0M232.6 242.3h0M227.4 238.8h0M224.3 241.6h0M218.4 246.1h0M208.5 244.2h0M202.4 252.3h0M217.2 242.3h0M230.1 238.5h0M212.3 246.2h0M217.3 242.0h0M211.5 239.2h0M217.3 244.5h0M228.1 240.1h0M206.4 247.8h0M222.1 245.9h0M202.0 248.7h0M217.3 240.8h0M209.9 247.8h0M213.9 242.8h0M213.8 246.0h0M219.9 239.2h0M211.9 247.1h0M226.1 236.2h0M225.7 240.8h0M234.1 235.7h0M212.9 251.7h0M229.3 238.3h0M217.9 243.3h0M217.1 245.7h0M225.9 237.7h0M212.8 242.0h0M225.5 247.4h0M207.9 249.9h0M209.3 246.3h0M208.6 245.5h0M223.0 247.5h0M215.8 246.7h0M219.2 247.8h0M217.1 243.4h0M222.0 246.6h0M226.3 238.4h0M231.8 238.9h0M216.2 246.7h0M206.1 244.9h0M229.2 236.1h0M220.1 246.7h0M211.0 248.9h0M249.8 230.3h0M213.1 250.7h0M228.5 239.4h0M230.1 239.3h0M229.7 248.4h0M220.0 244.4h0M212.0 244.8h0M218.9 241.7h0M239.7 238.1h0M207.4 243.9h0M227.1 248.4h0M237.7 238.7h0M225.9 240.3h0M235.6 236.6h0M200.0 248.7h0M206.8 248.4h0M210.2 253.5h0M212.2 246.4h0M219.8 241.2h0M230.5 240.9h0M208.3 247.5h0M204.8 244.0h0M217.1 240.5h0M205.9 250.7h0M209.1 246.8h0M210.3 243.0h0M231.8 238.6h0M212.6 250.0h0M227.4 241.5h0M212.2 242.2h0M211.4 249.8h0M215.4 241.0h0M229.0 234.3h0M206.8 248.7h0M220.9 245.0h0M218.3 251.8h0M245.6 233.9h0M217.2 244.2h0M230.4 240.5h0M214.4 244.4h0M207.8 247.6h0M232.9 238.9h0M213.3 246.2h0M214.8 247.5h0M227.5 239.1h0M222.4 241.0h0M212.5 242.7h0M222.6 242.9h0M233.6 235.2h0M223.5 244.4h0M219.3 246.2h0M235.7 231.4h0M217.4 250.0h0M217.3 248.1h0M214.7 245.4h0M227.0 245.4h0M230.7 248.2h0M219.8 241.4h0M201.7 249.2h0M211.7 250.1h0M227.7 250.6h0M248.1 228.7h0M206.9 253.1h0M229.3 245.1h0M212.9 251.8h0M229.2 234.6h0M200.9 247.9h0M209.7 250.7h0M228.3 242.5h0M224.8 243.4h0M214.7 246.2h0M226.0 242.9h0M224.4 239.6h0M214.2 246.6h0M223.9 244.5h0M200.4 252.8h0M206.3 245.4h0M216.6 240.8h0M221.1 244.7h0M219.8 239.1h0M224.7 241.6h0M204.6 245.9h0M222.3 239.9h0M211.6 245.1h0M218.4 242.0h0M210.9 249.7h0M231.1 232.6h0M209.0 248.6h0M214.5 245.0h0M222.6 241.7h0M224.1 244.6h0M239.6 232.5h0M219.2 246.1h0M222.5 237.2h0M216.0 248.0h0M225.1 247.5h0M217.6 242.7h0M240.2 237.5h0M207.2 252.3h0M218.3 239.8h0M213.3 246.0h0M213.8 242.7h0M229.8 234.9h0M203.9 250.6h0M222.8 241.6h0M210.3 250.8h0M212.7 251.0h0M217.0 243.4h0M210.4 249.3h0M209.1 242.2h0M226.2 240.5h0M208.3 251.2h0M217.2 241.7h0M212.5 246.0h0M234.5 236.9h0M211.8 243.5h0M211.1 249.2h0M220.6 242.5h0M213.8 245.0h0M216.9 238.7h0M207.8 250.3h0M219.3 250.7h0M216.7 251.0h0M213.7 253.3h0M228.8 248.1h0M211.6 245.8h0M221.4 236.5h0M221.3 244.9h0M215.9 243.4h0M210.1 251.3h0M210.3 247.5h0M228.5 236.2h0M216.1 244.4h0M207.2 251.6h0M201.3 250.1h0M216.6 243.7h0M213.4 247.4h0M222.3 247.0h0M218.0 250.0h0M216.4 249.3h0M221.1 241.3h0M218.0 242.1h0M224.1 245.0h0M221.8 248.6h0M212.5 246.9h0M217.1 245.9h0M209.4 249.8h0M230.8 233.0h0M240.7 239.3h0M219.4 245.8h0M206.7 250.5h0M218.8 246.5h0M216.3 246.3h0M216.8 247.1h0M217.3 237.5h0M217.4 245.8h0M223.4 247.7h0M213.9 241.0h0M206.1 251.3h0M223.3 244.7h0M219.6 245.6h0M220.3 238.6h0M205.8 245.9h0M220.0 239.8h0M203.5 253.4h0M228.7 241.4h0M200.2 247.7h0M204.6 249.1h0M217.9 242.9h0M208.1 252.9h0M223.2 241.4h0M224.8 239.8h0M206.5 242.2h0"/>
<path stroke="#666666" stroke-opacity="0.85" stroke-width="1" stroke-linecap="square" d="M239.4 239.5h0M250.1 240.6h0M245.5 238.8h0M241.1 232.4h0M242.9 233.2h0M243.2 243.6h0M240.2 234.9h0M236.7 237.0h0M235.1 238.4h0M248.3 230.7h0M251.7 238.0h0M242.3 232.9h0M253.4 237.9h0M249.1 242.5h0M238.4 232.6h0M239.5 236.7h0M244.3 238.8h0M249.4 233.1h0M255.3 239.2h0M244.5 234.1h0M250.6 232.3h0M241.2 237.0h0M245.7 238.9h0M243.5 235.7h0M257.5 231.7h0M248.8 237.8h0M242.2 236.3h0M233.7 240.8h0M240.4 234.3h0M243.1 234.7h0M248.4 238.3h0M254.0 237.5h0M248.3 235.1h0M245.9 234.5h0M252.2 238.0h0M247.3 233.0h0M231.1 236.4h0M244.6 240.5h0M242.2 231.8h0M252.9 240.9h0M238.3 235.1h0M243.3 241.2h0M259.3 237.8h0M247.9 233.5h0M246.9 233.7h0M239.4 236.0h0M246.1 237.4h0M251.5 231.2h0M252.7 231.3h0M240.4 231.7h0M237.6 237.5h0M238.7 240.5h0M252.3 232.9h0M255.5 233.4h0M239.7 237.0h0M234.7 235.6h0M249.3 236.1h0M239.3 233.1h0M257.3 237.2h0M249.8 238.2h0M239.9 236.0h0M246.9 234.5h0M244.4 239.3h0M249.8 232.7h0M243.2 236.1h0M250.7 233.1h0M246.6 232.6h0M235.2 241.1h0M243.1 234.5h0M245.9 239.0h0M242.9 238.3h0M246.9 235.0h0M252.7 233.3h0M240.6 233.8h0M244.6 236.6h0M247.0 237.2h0M243.4 237.2h0M244.2 237.2h0M246.1 243.4h0M245.0 232.1h0M254.8 234.8h0M244.8 232.6h0M245.7 232.1h0M251.1 236.7h0M251.6 225.0h0M248.5 234.3h0M247.6 237.5h0M258.1 229.5h0M231.0 240.3h0M238.6 236.1h0"/>
<path stroke="#a8a8a8" stroke-opacity="1" stroke-width="1.8" stroke-linecap="square" d="M210.0 220.0h0M217.0 228.0h0M245.0 219.0h0M215.0 222.0h0M251.0 243.0h0"/>
<line x1="198.8" y1="197.7" x2="266.6" y2="197.7" stroke="#666" stroke-width="1.1"/>
<line x1="266.6" y1="197.7" x2="266.6" y2="254.5" stroke="#555" stroke-width="1"/>
<line x1="198.8" y1="197.2" x2="198.8" y2="255.7" stroke="#333" stroke-width="1.1"/>
<line x1="198.8" y1="254.3" x2="266.6" y2="254.3" stroke="#333" stroke-width="1" stroke-dasharray="0.9 0.9"/>
<line x1="197" y1="198.2" x2="198.8" y2="198.2" stroke="#333" stroke-width="0.9"/>
<line x1="198.8" y1="254.5" x2="198.8" y2="256.1" stroke="#333" stroke-width="0.9"/>
<line x1="197" y1="212.3" x2="198.8" y2="212.3" stroke="#333" stroke-width="0.9"/>
<line x1="215.8" y1="254.5" x2="215.8" y2="256.1" stroke="#333" stroke-width="0.9"/>
<line x1="197" y1="226.3" x2="198.8" y2="226.3" stroke="#333" stroke-width="0.9"/>
<line x1="232.7" y1="254.5" x2="232.7" y2="256.1" stroke="#333" stroke-width="0.9"/>
<line x1="197" y1="240.4" x2="198.8" y2="240.4" stroke="#333" stroke-width="0.9"/>
<line x1="249.7" y1="254.5" x2="249.7" y2="256.1" stroke="#333" stroke-width="0.9"/>
<line x1="197" y1="254.5" x2="198.8" y2="254.5" stroke="#333" stroke-width="0.9"/>
<line x1="266.6" y1="254.5" x2="266.6" y2="256.1" stroke="#333" stroke-width="0.9"/>
<line x1="199.7" y1="198.7" x2="199.7" y2="254.5" stroke="#333" stroke-width="1.4" stroke-dasharray="0.7 1.3"/>
<rect x="229.8" y="207.4" width="28.7" height="29.2" fill="none" stroke="#333" stroke-width="1"/>
<text x="255.7" y="216" font-size="7.8" stroke="#111" stroke-width="0.12" text-anchor="end" fill="#111">8</text>
<text x="199.5" y="264.1" font-size="6.4" text-anchor="middle" fill="#222">10<tspan font-size="4.4" dy="-2.6">0</tspan></text>
<text x="216.2" y="264.1" font-size="6.4" text-anchor="middle" fill="#222">10<tspan font-size="4.4" dy="-2.6">1</tspan></text>
<text x="232.9" y="264.1" font-size="6.4" text-anchor="middle" fill="#222">10<tspan font-size="4.4" dy="-2.6">2</tspan></text>
<text x="249.6" y="264.1" font-size="6.4" text-anchor="middle" fill="#222">10<tspan font-size="4.4" dy="-2.6">3</tspan></text>
<text x="266.3" y="264.1" font-size="6.4" text-anchor="middle" fill="#222">10<tspan font-size="4.4" dy="-2.6">4</tspan></text>
<path stroke="#a8a8a8" stroke-opacity="1" stroke-width="1" stroke-linecap="square" d="M74.9 300.0h0M48.8 310.5h0M61.8 293.8h0M66.3 318.4h0M68.1 302.1h0M79.4 298.1h0M54.9 317.4h0M57.2 306.8h0M67.3 301.5h0M50.0 307.6h0M69.6 308.7h0M65.4 303.9h0M53.9 306.7h0M53.8 304.7h0M61.2 304.4h0M61.4 302.5h0M55.3 301.5h0M47.4 312.2h0M69.1 295.1h0M76.0 289.1h0M56.3 310.2h0M56.2 302.2h0M70.9 298.8h0M59.4 308.6h0M82.4 292.2h0M69.3 307.1h0M54.1 309.2h0M61.7 302.9h0M54.9 301.9h0M53.4 311.1h0M56.8 308.8h0M61.4 307.3h0M64.0 302.8h0M52.5 309.3h0M46.1 323.2h0M56.1 317.0h0M60.8 302.9h0M67.5 303.7h0M42.4 323.3h0M73.2 296.0h0M59.0 307.6h0M57.5 301.7h0M58.3 307.8h0M52.9 306.1h0M80.6 297.5h0M64.9 292.9h0M78.8 291.9h0M62.5 307.5h0M51.3 304.7h0M67.9 300.7h0M61.6 300.4h0M60.1 293.8h0M58.2 297.3h0M63.6 306.6h0M71.8 294.2h0M49.8 310.1h0M71.3 308.0h0M50.5 301.5h0M68.0 304.9h0M57.4 312.4h0M68.0 304.5h0M72.3 302.5h0M51.6 316.0h0M72.9 293.0h0M75.7 296.7h0M58.3 300.7h0M69.2 294.9h0M62.3 306.7h0M53.5 322.1h0M44.2 313.9h0M75.8 303.6h0M71.1 303.1h0M66.1 293.7h0M61.8 303.9h0M61.9 298.5h0M62.4 301.1h0M77.0 295.6h0M53.3 311.6h0M63.7 305.5h0M57.6 309.8h0M54.2 308.5h0M69.6 301.5h0M83.3 290.6h0M45.0 319.8h0M62.6 310.1h0M67.1 297.6h0M69.3 297.3h0M76.2 294.2h0M72.7 300.3h0M51.5 315.1h0M65.5 304.0h0M76.7 302.2h0M71.9 293.9h0M62.3 304.4h0M57.5 304.6h0M62.2 299.2h0M56.4 305.6h0M52.9 308.1h0M65.0 303.4h0M48.9 308.6h0M64.4 314.9h0M49.3 306.1h0M67.4 302.0h0M68.7 303.3h0M62.3 311.0h0M58.1 315.1h0M53.7 321.1h0M52.2 309.3h0M46.5 320.2h0M71.0 316.4h0M52.6 305.9h0M67.8 302.8h0M60.3 305.2h0M48.5 320.1h0M43.6 323.9h0M54.3 320.9h0M66.8 306.2h0M61.0 294.2h0M57.8 302.4h0M75.2 299.0h0M68.7 309.2h0M62.9 303.1h0M71.1 289.3h0M55.8 305.6h0M66.7 309.1h0M49.9 306.4h0M54.5 316.7h0M56.9 319.4h0M57.1 306.5h0M78.1 296.2h0M66.4 300.5h0M43.0 314.3h0M68.5 301.7h0M63.2 297.5h0M63.1 309.2h0M59.6 301.3h0M48.6 304.7h0M66.4 294.8h0"/>
<path stroke="#666666" stroke-opacity="0.9" stroke-width="1.2" stroke-linecap="square" d="M46.3 318.8h0M47.3 317.2h0M46.8 316.7h0M41.2 319.9h0M57.7 307.5h0M45.3 314.5h0M48.0 305.9h0M47.5 321.1h0M38.7 313.1h0M47.4 313.3h0M42.8 315.0h0M41.7 317.0h0M46.3 319.0h0M50.0 314.0h0M41.2 317.9h0M51.3 323.5h0M46.0 314.1h0M46.1 322.0h0M39.3 321.6h0M46.7 319.0h0M52.6 313.1h0M51.2 312.4h0M51.2 299.9h0M43.1 321.4h0M45.8 312.3h0M42.4 324.5h0M43.0 322.6h0M44.3 310.3h0M47.1 309.4h0M44.0 320.4h0M54.5 310.9h0M46.3 312.9h0M60.4 314.0h0M45.3 317.7h0M50.8 310.4h0M43.4 322.1h0M53.8 307.7h0M39.5 322.2h0M48.2 311.3h0M52.5 312.2h0M47.4 314.9h0M47.4 315.0h0M46.9 311.1h0M55.0 314.1h0M40.9 322.3h0M41.8 322.4h0M50.9 315.7h0M51.5 315.3h0M43.0 318.3h0M46.0 324.5h0M48.6 311.6h0M46.1 309.8h0M41.8 315.6h0M52.3 304.1h0M47.4 315.5h0M39.1 314.4h0M48.2 310.8h0M44.5 311.1h0M43.2 319.6h0M40.6 313.5h0M49.4 316.7h0M56.5 314.8h0M43.9 324.7h0M49.2 317.7h0M38.9 318.2h0M51.7 310.3h0M54.6 307.3h0M44.3 318.8h0M44.6 309.1h0M47.1 315.0h0M39.6 319.5h0M41.3 313.3h0M40.7 321.3h0M43.6 321.2h0M45.2 312.8h0M46.0 316.2h0M48.0 313.8h0M50.4 312.9h0M44.2 318.7h0M39.6 315.4h0M47.8 311.8h0M41.0 320.5h0M49.5 309.4h0M42.5 317.6h0M42.8 322.2h0M48.0 324.4h0M47.4 314.3h0M55.7 313.5h0M51.0 314.5h0M44.0 323.7h0M43.4 312.8h0M51.0 313.7h0M42.0 315.6h0M45.4 319.9h0M47.4 314.3h0M53.6 318.9h0M49.6 314.0h0M47.8 320.6h0M50.7 312.7h0M50.5 313.8h0M44.0 317.1h0M54.7 317.6h0M43.4 321.6h0M41.4 322.5h0M39.9 319.7h0M42.6 311.3h0M49.3 312.7h0M43.5 324.3h0M58.0 305.0h0M48.8 314.7h0M44.7 316.9h0M51.8 312.6h0M45.9 319.0h0M44.6 313.9h0M47.9 319.4h0M52.9 316.7h0M48.1 315.2h0M48.5 318.6h0M39.5 317.6h0M44.9 308.8h0M39.5 321.9h0M47.8 312.3h0M58.9 312.3h0M51.9 312.0h0M40.9 323.4h0M42.5 322.1h0M42.1 314.0h0M43.2 318.6h0M39.9 322.6h0M42.5 317.9h0M42.0 320.0h0M45.9 313.2h0M40.8 317.1h0M45.3 319.5h0M47.2 316.3h0M48.8 309.4h0M40.6 318.6h0M44.3 315.0h0M44.3 321.2h0M44.9 314.8h0M46.7 315.4h0M47.5 315.5h0M44.9 309.2h0M46.7 316.4h0M52.5 314.9h0M39.5 313.4h0M52.7 314.2h0M51.5 312.9h0M51.8 320.1h0M45.9 315.9h0M47.1 312.4h0M50.9 318.3h0M47.7 311.4h0M51.8 313.4h0M52.1 310.3h0M53.3 320.5h0M50.0 314.0h0M38.9 324.7h0M43.2 324.6h0M39.6 320.5h0M41.1 313.9h0M42.2 319.0h0M48.1 312.4h0M39.1 315.1h0M55.2 311.4h0M48.2 312.7h0M42.8 317.1h0M43.5 314.7h0M49.7 316.1h0M45.2 316.2h0M48.7 317.0h0M45.0 322.1h0M44.8 319.0h0M50.5 312.6h0M47.2 312.2h0M48.1 317.5h0M42.5 314.3h0M41.5 322.6h0M47.2 318.6h0M40.8 315.7h0M46.0 318.6h0M39.2 319.9h0M43.7 317.0h0M43.3 316.5h0M63.1 307.8h0M45.1 311.1h0M49.7 322.1h0M51.1 317.7h0M53.2 313.9h0M45.4 319.8h0M44.9 311.8h0M42.5 323.9h0M44.6 318.5h0M54.2 309.8h0M48.7 317.8h0M52.3 317.6h0M45.3 315.8h0M47.5 310.4h0M40.7 321.0h0M46.2 314.1h0M48.4 316.0h0M45.2 317.6h0M45.4 321.3h0M45.0 317.1h0M42.2 322.1h0M53.9 311.7h0M48.6 310.2h0M45.3 310.8h0M55.8 316.3h0M48.9 310.7h0M42.5 317.5h0M52.1 316.0h0M41.6 320.5h0M42.8 314.2h0M40.3 318.0h0M42.3 319.7h0M39.0 316.4h0M42.0 317.6h0M41.8 320.9h0M53.2 313.9h0M43.7 321.5h0M49.0 320.0h0M47.8 315.8h0M42.1 317.8h0M53.3 318.2h0M51.0 308.6h0M48.2 315.4h0M44.3 318.7h0M46.9 321.4h0M38.9 320.2h0M47.8 314.7h0M45.2 322.0h0M44.9 312.4h0M46.3 319.5h0M51.8 320.6h0M43.9 312.8h0M50.3 317.0h0M41.8 317.4h0M53.1 320.3h0M44.4 319.8h0M48.7 317.3h0M53.3 306.1h0M43.9 316.7h0M43.6 323.7h0M44.2 312.7h0M47.7 322.2h0M47.8 313.2h0M45.5 317.8h0M39.5 321.5h0M50.3 314.9h0M47.2 317.1h0M47.4 319.4h0M54.4 313.6h0M45.0 321.8h0M39.2 321.6h0M44.3 316.5h0M45.1 320.1h0M46.6 312.4h0M49.3 318.0h0M52.9 309.5h0M40.7 315.0h0M46.5 313.9h0M47.9 316.4h0M43.7 316.4h0M54.5 317.2h0M52.2 310.7h0M55.3 303.5h0M49.0 310.9h0M39.5 319.6h0M50.1 309.8h0M42.3 319.6h0M48.6 320.7h0M44.0 322.6h0M45.2 316.3h0M63.3 306.5h0M46.9 315.3h0M43.3 317.3h0M48.2 309.0h0M43.7 314.8h0M49.4 311.3h0M44.6 317.7h0M50.3 307.3h0M48.1 314.2h0M47.6 317.5h0M44.0 321.6h0M46.9 318.4h0M51.6 311.3h0M49.4 311.4h0M39.4 322.9h0M55.7 313.9h0M44.3 308.5h0M53.8 317.3h0M42.5 320.5h0M49.8 315.3h0M50.1 309.9h0M50.4 306.9h0M41.9 319.4h0M48.2 315.8h0M42.2 319.2h0M47.6 316.8h0M51.1 313.6h0M44.5 318.5h0M45.5 317.6h0M44.2 318.4h0M43.6 321.3h0M45.8 324.2h0M41.4 318.9h0M49.5 312.1h0M43.8 313.7h0M39.3 321.9h0M44.7 322.1h0M47.9 320.8h0M48.1 307.7h0M50.1 313.7h0M42.9 317.8h0M52.4 311.2h0M49.7 320.0h0M51.6 314.0h0M49.4 312.9h0M46.5 319.1h0M48.9 316.6h0M39.5 323.9h0M42.1 316.8h0M43.0 312.6h0M43.8 316.9h0M57.8 306.7h0M47.3 322.5h0M43.5 317.8h0M54.5 304.9h0M48.7 318.3h0M44.8 315.6h0M47.2 322.2h0M45.2 324.4h0M43.6 318.3h0M53.4 318.7h0M47.6 316.6h0M53.4 312.9h0M44.7 315.9h0M53.4 305.9h0M45.5 324.3h0M44.1 320.9h0M50.6 317.0h0M47.6 312.3h0M39.5 317.6h0M51.0 307.0h0M54.1 311.0h0M53.1 321.4h0M40.3 316.2h0M50.3 312.4h0M43.4 313.0h0M49.9 313.6h0M42.9 316.3h0M40.8 324.7h0M45.9 316.1h0M42.1 324.3h0M46.2 319.8h0M41.2 319.2h0M46.8 317.1h0M43.3 321.8h0M43.3 323.3h0M45.8 315.4h0M55.1 315.2h0M41.2 314.1h0M42.5 320.9h0M39.9 324.2h0M52.4 314.9h0M50.7 319.9h0M39.1 316.3h0M45.4 315.6h0M47.2 320.4h0M46.3 314.3h0M43.1 323.0h0M44.0 319.4h0M40.4 319.3h0M45.9 318.5h0M56.1 314.4h0M43.4 309.9h0M51.2 312.9h0M47.6 318.4h0M39.9 323.7h0M48.3 314.0h0M56.2 323.9h0M45.5 317.9h0M48.0 316.9h0M49.7 318.4h0M44.3 317.5h0M45.7 314.7h0M45.2 313.3h0M45.6 313.7h0M44.0 310.2h0M49.4 309.6h0M43.8 321.2h0M50.6 312.4h0M55.0 314.4h0M56.2 304.3h0M42.3 320.3h0M42.1 321.2h0M52.5 307.1h0M46.1 322.4h0M47.2 322.3h0M44.8 313.2h0M44.1 317.5h0M56.6 318.1h0M58.1 308.5h0M47.2 312.5h0M40.3 316.9h0M49.8 308.5h0M50.8 311.1h0M50.8 309.2h0M45.0 312.3h0M52.3 310.5h0M49.0 311.0h0M49.9 314.7h0M39.5 315.8h0M56.1 299.4h0M47.1 312.5h0M45.6 317.5h0M42.9 316.0h0M48.0 320.5h0M51.8 319.6h0M45.7 317.7h0M46.4 319.7h0M41.3 317.4h0M56.7 311.3h0M42.7 311.4h0M44.8 316.5h0M47.8 314.1h0M46.6 311.1h0M53.8 309.3h0M44.6 317.8h0M52.5 312.0h0M46.4 314.3h0M41.7 320.7h0M42.6 319.3h0M47.2 314.7h0M48.9 310.0h0"/>
<path stroke="#666666" stroke-opacity="0.9" stroke-width="1.2" stroke-linecap="square" d="M89.8 290.8h0M89.9 289.6h0M76.4 298.7h0M80.3 292.2h0M79.3 296.8h0M76.3 294.4h0M73.4 295.0h0M84.5 293.4h0M74.4 293.2h0M84.7 290.2h0M85.7 291.9h0M84.7 291.0h0M74.8 294.0h0M85.0 292.0h0M75.9 293.3h0M87.5 292.3h0M80.8 293.2h0M76.4 292.5h0M80.0 290.3h0M80.0 295.0h0M89.2 293.9h0M82.0 294.0h0M82.7 289.1h0M78.6 297.0h0M83.1 294.2h0M83.8 295.7h0M80.8 289.1h0M85.5 291.9h0M77.9 292.2h0M81.0 289.3h0M82.2 290.7h0M68.6 296.9h0M84.5 292.6h0M80.4 299.1h0M81.9 291.8h0M94.8 288.5h0M75.7 296.5h0M89.0 291.8h0M83.3 292.8h0M80.5 291.2h0M72.2 299.2h0M83.3 296.4h0M80.4 294.5h0M90.6 288.1h0M87.2 288.3h0M88.7 288.1h0M83.6 290.4h0M80.1 297.1h0M86.3 293.3h0M92.2 286.3h0M77.1 300.3h0M91.1 283.6h0M76.0 294.8h0M85.1 291.5h0M81.1 288.3h0M78.8 295.6h0M69.8 295.0h0M88.9 291.9h0M78.7 294.0h0M87.8 290.3h0M85.8 292.2h0M86.5 290.8h0M92.0 288.3h0M73.6 292.6h0M71.7 296.8h0M69.3 293.9h0M78.2 288.3h0M86.8 287.3h0M79.5 289.5h0M91.7 283.4h0M95.6 287.0h0M86.3 293.2h0M79.7 294.0h0M74.7 292.7h0M85.4 291.5h0M98.9 288.8h0M88.3 292.3h0M85.5 292.1h0M85.9 286.4h0M84.7 287.5h0M80.5 295.9h0M84.5 288.1h0M69.7 297.5h0M85.7 291.6h0M82.3 291.9h0M81.4 291.6h0M86.8 289.5h0M85.7 289.8h0M76.5 286.5h0M84.3 293.5h0M81.8 293.5h0M79.4 292.6h0M76.9 293.4h0M86.0 289.5h0M92.1 284.2h0M84.4 289.8h0M78.9 287.3h0M92.3 287.5h0M78.5 292.4h0M72.2 297.0h0M89.0 293.0h0M81.8 289.7h0M83.2 289.8h0M79.8 292.7h0M88.0 290.8h0M82.7 295.5h0M78.5 295.8h0M73.5 289.7h0M73.7 293.8h0M84.7 289.5h0M86.9 290.6h0M76.9 294.6h0M80.7 293.0h0M72.0 294.6h0M79.5 292.4h0M89.7 285.8h0M77.6 289.1h0M94.5 286.2h0M81.6 292.6h0M85.0 288.6h0M80.9 287.5h0M83.1 289.6h0M84.2 293.4h0M75.3 294.8h0M82.2 287.4h0M81.6 293.6h0M84.4 287.9h0M83.1 292.2h0M86.1 292.1h0M81.2 291.7h0M79.8 292.3h0M80.5 292.7h0M87.2 293.0h0M86.1 290.6h0M76.2 298.4h0M78.9 295.8h0M82.0 293.2h0M77.8 297.2h0M79.4 296.5h0M71.6 298.5h0M81.9 288.8h0M73.3 290.5h0M84.5 290.7h0M80.8 291.7h0M81.4 294.1h0M84.5 289.4h0M76.5 290.8h0M80.6 294.5h0M81.8 288.1h0M76.1 296.3h0M84.5 290.1h0M83.5 291.4h0M86.8 290.3h0M85.0 292.6h0M80.5 288.5h0M85.8 288.2h0M85.8 290.3h0M80.1 292.8h0M74.7 297.3h0M77.8 292.2h0M83.5 285.8h0M89.2 289.3h0M71.6 296.3h0M72.4 301.9h0M73.3 297.9h0M80.3 290.9h0M79.8 295.8h0M88.3 288.9h0M81.0 290.3h0M78.2 290.8h0M81.1 293.7h0M83.5 291.1h0M86.1 292.4h0M83.6 292.6h0M83.4 297.8h0M81.7 289.1h0M81.0 294.6h0M74.2 289.1h0M77.4 294.8h0M81.4 286.2h0M76.2 292.6h0M78.2 290.8h0M89.3 288.6h0M77.2 290.0h0M74.3 294.5h0M87.1 292.1h0M81.3 293.0h0M86.6 291.0h0M74.7 299.3h0M80.8 294.7h0M94.1 285.6h0M64.4 297.9h0M83.6 289.5h0M79.8 289.8h0M69.0 294.3h0M90.9 288.7h0M75.7 293.2h0M82.5 289.0h0M68.2 294.7h0M83.5 292.2h0M81.9 291.3h0M76.1 291.5h0M81.6 295.3h0M78.7 288.6h0M88.3 286.5h0M82.2 289.3h0M82.7 289.4h0M88.7 290.6h0M77.1 291.3h0M78.8 303.5h0M75.4 291.5h0M86.0 289.9h0M80.0 289.7h0M72.0 299.1h0M78.7 296.2h0M85.3 295.0h0M76.3 293.5h0M77.6 292.6h0M78.8 286.1h0M77.4 295.7h0M82.8 288.9h0M84.5 289.9h0M72.4 293.4h0M80.9 291.0h0M82.8 290.0h0M96.9 287.4h0M74.2 294.0h0M78.7 290.0h0M86.3 288.8h0M77.5 293.4h0M75.8 298.3h0M84.4 291.6h0M72.3 296.2h0M77.3 289.4h0M82.3 292.6h0M71.2 297.8h0M77.9 295.8h0M85.5 295.2h0M73.3 294.2h0M77.1 293.8h0M84.4 296.5h0M80.0 293.1h0M85.9 290.5h0M83.5 290.5h0M77.0 293.4h0M64.8 296.5h0M81.6 293.5h0M84.0 289.5h0M77.1 297.2h0M81.3 289.5h0M79.9 295.9h0M78.1 298.9h0M76.1 287.3h0M77.8 292.1h0M75.7 295.9h0M78.0 291.5h0M73.5 296.7h0M75.2 291.3h0M91.1 295.2h0M84.0 294.5h0M74.1 300.9h0M93.6 292.5h0M80.5 293.7h0M83.5 289.5h0M85.8 289.0h0M82.0 293.8h0M79.4 292.8h0M75.4 293.3h0M77.6 297.0h0M77.3 294.2h0M79.0 295.3h0M80.2 289.6h0M78.1 293.6h0M86.6 292.1h0M75.3 297.2h0M79.4 291.4h0M84.5 289.9h0M81.2 292.4h0M79.2 293.1h0M84.7 296.5h0M79.0 295.7h0M71.7 290.5h0M84.6 293.4h0M70.3 291.5h0M80.2 295.9h0M92.2 290.5h0M77.7 297.6h0M74.8 299.5h0M88.6 291.6h0M79.7 294.2h0M94.5 291.8h0M81.8 292.5h0M67.4 294.3h0M72.2 290.8h0M78.6 289.9h0M80.0 292.7h0M84.5 293.3h0M88.2 291.0h0M79.0 294.7h0M88.1 287.9h0M72.6 296.5h0M80.5 293.2h0M81.5 292.5h0M78.2 295.7h0M68.6 297.6h0M83.3 293.6h0M77.8 293.3h0M73.2 293.8h0M73.1 298.8h0M82.2 291.4h0M81.9 291.8h0M83.2 293.0h0M73.2 298.0h0M82.8 293.0h0M82.3 293.0h0M76.5 293.8h0M73.8 294.5h0M72.8 300.2h0M80.4 286.5h0M78.6 294.4h0M80.3 292.3h0M81.1 289.8h0M69.9 298.3h0M85.8 290.1h0M78.2 293.3h0M76.8 292.1h0M87.3 288.1h0M80.7 290.8h0M81.2 290.9h0M74.9 296.8h0M91.1 291.3h0M77.9 294.3h0M83.1 290.5h0M80.8 291.1h0M77.7 292.1h0M77.7 295.0h0M88.0 289.0h0M78.1 292.7h0M79.0 293.4h0M79.9 291.8h0M69.2 300.5h0M80.9 291.3h0M89.9 287.0h0M73.1 293.3h0M76.0 292.6h0M74.8 294.4h0M79.4 295.8h0M86.2 286.6h0M81.2 296.8h0M83.4 291.6h0M81.4 291.8h0M75.8 295.7h0M82.7 289.2h0M78.7 290.2h0M89.4 282.6h0M81.1 293.6h0M82.6 294.4h0M80.3 296.0h0M80.9 290.4h0M87.7 284.4h0"/>
<path stroke="#8a8a8a" stroke-opacity="0.9" stroke-width="1" stroke-linecap="square" d="M75.0 297.3h0M82.5 300.8h0M75.2 301.6h0M74.3 300.9h0M74.5 298.4h0M83.9 300.9h0M74.4 300.5h0M83.0 292.2h0M76.1 304.7h0M76.7 295.3h0M76.0 296.8h0M69.0 305.0h0M75.5 303.8h0M71.4 304.0h0M76.2 308.1h0M79.8 302.0h0M79.8 299.7h0M80.0 296.0h0M84.6 292.8h0M68.5 299.7h0M81.5 297.1h0M71.5 294.1h0M76.9 306.3h0M76.5 294.0h0M80.7 302.0h0M71.0 300.5h0M74.1 304.0h0M71.9 299.4h0M79.0 306.2h0M78.5 300.1h0M81.7 298.7h0M76.8 302.0h0M74.2 292.9h0M77.3 300.3h0M76.0 300.2h0M78.0 299.9h0M84.9 296.9h0M82.2 300.5h0M73.9 303.3h0M80.9 297.3h0M88.6 296.1h0M66.6 303.7h0M83.9 293.2h0M78.7 302.7h0M76.4 293.4h0M71.8 300.6h0M83.5 296.8h0M70.9 301.2h0M75.9 297.4h0M84.5 301.8h0M79.3 301.4h0M83.8 305.4h0M74.9 295.7h0M73.3 305.3h0M69.3 300.0h0M68.7 300.4h0M83.5 309.0h0M74.6 301.7h0M81.7 304.6h0M90.3 299.8h0M68.2 294.8h0M81.8 298.4h0M81.8 301.2h0M75.4 294.1h0M78.3 298.4h0M80.8 296.8h0M80.8 302.4h0M72.5 297.9h0M77.6 302.5h0M76.7 295.8h0M79.5 308.3h0M70.6 304.1h0M79.9 298.0h0M82.4 302.3h0M80.8 299.2h0M68.1 304.3h0M75.9 297.0h0M85.0 298.0h0M77.6 300.0h0M66.1 302.9h0M77.6 300.5h0M78.1 302.4h0M76.2 297.6h0M78.0 298.3h0M72.4 301.6h0M79.5 301.1h0M71.8 301.8h0M72.2 301.1h0M80.7 299.7h0M68.9 302.8h0M74.6 306.7h0M69.5 298.2h0M62.6 302.3h0M78.3 290.8h0M74.4 299.5h0M74.6 302.2h0M74.1 301.0h0M82.5 295.6h0M78.2 300.3h0M74.7 300.6h0M81.4 299.8h0M80.3 293.3h0M73.8 304.4h0M83.6 295.1h0M77.3 299.5h0M78.0 304.9h0M81.4 298.4h0M84.6 302.7h0M82.6 301.9h0M80.5 298.4h0M67.6 298.0h0M81.9 304.9h0M81.8 300.6h0M82.7 302.5h0M87.7 305.2h0M75.8 297.1h0M82.9 303.2h0M87.5 298.8h0M79.2 296.8h0M78.6 303.0h0M82.3 299.5h0M76.9 301.7h0M79.4 299.5h0M77.1 300.4h0M77.5 297.2h0M81.2 293.5h0M75.2 295.9h0M77.6 302.6h0M90.0 293.5h0M74.8 305.0h0M78.1 298.3h0M79.9 305.1h0M72.2 303.6h0M74.6 300.2h0M77.8 302.5h0M78.5 307.9h0M73.8 298.9h0M77.1 300.8h0M69.1 303.6h0M81.6 300.2h0M77.2 299.5h0M77.9 302.0h0M73.0 301.4h0M70.8 298.4h0M86.0 300.1h0M82.4 298.1h0M91.6 297.7h0M85.1 299.0h0M85.2 302.4h0M83.9 300.7h0"/>
<line x1="37.7" y1="270.1" x2="105.4" y2="270.1" stroke="#666" stroke-width="1.1"/>
<line x1="105.4" y1="270.1" x2="105.4" y2="326.1" stroke="#555" stroke-width="1"/>
<line x1="37.7" y1="269.6" x2="37.7" y2="327.3" stroke="#333" stroke-width="1.1"/>
<line x1="37.7" y1="325.9" x2="105.4" y2="325.9" stroke="#333" stroke-width="1" stroke-dasharray="0.9 0.9"/>
<line x1="35.9" y1="270.6" x2="37.7" y2="270.6" stroke="#333" stroke-width="0.9"/>
<line x1="37.7" y1="326.1" x2="37.7" y2="327.7" stroke="#333" stroke-width="0.9"/>
<line x1="35.9" y1="284.5" x2="37.7" y2="284.5" stroke="#333" stroke-width="0.9"/>
<line x1="54.6" y1="326.1" x2="54.6" y2="327.7" stroke="#333" stroke-width="0.9"/>
<line x1="35.9" y1="298.4" x2="37.7" y2="298.4" stroke="#333" stroke-width="0.9"/>
<line x1="71.6" y1="326.1" x2="71.6" y2="327.7" stroke="#333" stroke-width="0.9"/>
<line x1="35.9" y1="312.2" x2="37.7" y2="312.2" stroke="#333" stroke-width="0.9"/>
<line x1="88.5" y1="326.1" x2="88.5" y2="327.7" stroke="#333" stroke-width="0.9"/>
<line x1="35.9" y1="326.1" x2="37.7" y2="326.1" stroke="#333" stroke-width="0.9"/>
<line x1="105.4" y1="326.1" x2="105.4" y2="327.7" stroke="#333" stroke-width="0.9"/>
<line x1="38.6" y1="271.1" x2="38.6" y2="326.1" stroke="#333" stroke-width="1.4" stroke-dasharray="0.7 1.3"/>
<rect x="67.6" y="280.2" width="28.8" height="30" fill="none" stroke="#333" stroke-width="1"/>
<text x="93.6" y="288.8" font-size="7.8" stroke="#111" stroke-width="0.12" text-anchor="end" fill="#111">36</text>
<text x="38.4" y="335.7" font-size="6.4" text-anchor="middle" fill="#222">10<tspan font-size="4.4" dy="-2.6">0</tspan></text>
<text x="55.1" y="335.7" font-size="6.4" text-anchor="middle" fill="#222">10<tspan font-size="4.4" dy="-2.6">1</tspan></text>
<text x="71.8" y="335.7" font-size="6.4" text-anchor="middle" fill="#222">10<tspan font-size="4.4" dy="-2.6">2</tspan></text>
<text x="88.4" y="335.7" font-size="6.4" text-anchor="middle" fill="#222">10<tspan font-size="4.4" dy="-2.6">3</tspan></text>
<text x="105.1" y="335.7" font-size="6.4" text-anchor="middle" fill="#222">10<tspan font-size="4.4" dy="-2.6">4</tspan></text>
<path stroke="#a8a8a8" stroke-opacity="1" stroke-width="1" stroke-linecap="square" d="M177.8 290.7h0M138.6 313.5h0M158.6 307.3h0M139.8 312.3h0M132.2 316.0h0M134.1 310.3h0M150.1 303.5h0M148.4 297.6h0M150.4 307.0h0M122.8 312.8h0M159.2 314.3h0M145.3 302.4h0M157.9 296.1h0M157.9 296.9h0M136.6 307.3h0M149.3 299.1h0M155.0 300.9h0M149.3 303.5h0M152.2 310.1h0M149.6 303.4h0M153.3 307.0h0M135.8 317.5h0M151.9 299.5h0M161.7 311.5h0M161.1 315.9h0M147.2 316.0h0M140.8 306.6h0M156.0 307.0h0M160.7 298.2h0M132.7 312.0h0M144.5 308.7h0M147.2 305.1h0M157.2 315.3h0M156.5 296.9h0M154.4 313.8h0M139.2 305.2h0M140.7 308.8h0M150.7 314.0h0M131.8 311.1h0M149.7 299.2h0M154.4 306.8h0M145.7 318.4h0M157.4 306.9h0M135.1 314.1h0M134.5 312.9h0M154.4 308.5h0M129.3 316.9h0M156.7 316.5h0M138.6 306.1h0M153.0 305.6h0M143.9 311.2h0M155.2 308.2h0M149.3 306.3h0M145.9 308.1h0M141.3 306.3h0M147.4 312.4h0M135.6 311.1h0M143.2 315.9h0M152.3 307.5h0M143.5 300.3h0M157.5 303.3h0M147.0 314.1h0M161.9 297.8h0M139.4 304.6h0M133.7 313.5h0M130.5 321.1h0M134.3 321.0h0M141.5 312.0h0M130.5 305.0h0M151.8 313.3h0M155.4 321.2h0M151.8 299.9h0M165.6 295.2h0M145.2 302.2h0M152.7 302.7h0M144.1 304.5h0M145.2 300.1h0M143.7 303.9h0M151.2 312.0h0M146.0 304.7h0M152.2 291.9h0M139.7 306.3h0M136.9 320.9h0M153.0 295.7h0M144.5 308.0h0M143.2 311.1h0M143.7 309.9h0M141.1 306.3h0M156.3 296.2h0M130.9 310.4h0M144.1 310.9h0M136.4 316.7h0M128.8 317.4h0M147.1 308.4h0M136.3 311.3h0M147.9 302.9h0M146.0 301.7h0M153.4 303.3h0M133.1 309.0h0M134.9 315.7h0M141.8 310.7h0M124.5 306.2h0M149.5 307.2h0M140.8 304.0h0M158.0 298.2h0M144.3 306.2h0M137.8 309.7h0M138.8 303.1h0M128.5 309.4h0M138.8 316.6h0M149.6 301.7h0M145.5 311.5h0M131.9 308.8h0M146.7 306.0h0M129.9 308.5h0M148.2 298.8h0M136.7 318.3h0M147.7 307.0h0M144.5 309.6h0M149.5 299.6h0M146.4 315.0h0M138.4 313.8h0M158.1 299.9h0M143.8 298.7h0M170.7 306.0h0M142.2 307.5h0M127.8 311.0h0M148.4 302.2h0M136.7 304.3h0M130.9 314.1h0M132.1 308.4h0M152.0 305.4h0M143.5 303.0h0M144.6 306.7h0M139.3 311.5h0M148.8 307.7h0M153.8 299.3h0M131.6 304.4h0M166.5 296.6h0M153.8 292.9h0M161.0 302.7h0M143.2 312.9h0M145.8 304.1h0M160.6 295.7h0M155.6 308.0h0M145.8 312.8h0M149.1 302.6h0M168.3 297.8h0M167.1 300.0h0M147.8 304.7h0M146.1 308.7h0M145.1 302.8h0M147.8 318.7h0M143.2 309.8h0M148.6 314.8h0M164.8 298.1h0M147.4 306.2h0M125.7 311.4h0"/>
<path stroke="#666666" stroke-opacity="0.9" stroke-width="1.2" stroke-linecap="square" d="M132.8 313.6h0M136.1 308.5h0M140.5 301.0h0M130.0 310.5h0M131.3 320.4h0M127.7 315.7h0M138.6 310.6h0M136.7 310.4h0M136.6 309.6h0M137.9 307.4h0M134.9 310.7h0M133.0 310.2h0M128.3 318.7h0M126.5 319.8h0M133.5 312.5h0M129.0 317.4h0M133.6 316.7h0M137.7 300.8h0M135.0 309.7h0M128.3 318.5h0M126.3 321.0h0M131.7 318.5h0M137.2 308.2h0M141.8 305.7h0M136.8 303.0h0M136.0 310.1h0M131.7 312.6h0M137.6 307.7h0M125.8 312.0h0M127.3 312.2h0M137.4 309.4h0M136.4 315.0h0M130.2 307.8h0M131.0 310.9h0M134.0 315.8h0M128.7 315.4h0M126.4 318.0h0M128.0 319.4h0M130.0 313.8h0M129.8 321.6h0M137.3 311.4h0M134.4 314.5h0M142.0 311.7h0M128.2 323.2h0M129.3 322.5h0M124.9 313.1h0M139.6 314.0h0M133.1 305.5h0M131.2 322.0h0M146.6 309.3h0M124.9 311.2h0M128.5 315.5h0M140.0 313.6h0M125.0 321.4h0M131.2 319.1h0M132.1 314.1h0M127.7 316.9h0M122.0 316.9h0M133.2 315.2h0M131.9 312.9h0M132.2 313.1h0M120.4 315.4h0M127.9 314.0h0M124.1 313.3h0M128.6 307.8h0M125.0 314.8h0M133.6 313.1h0M133.4 312.7h0M146.9 304.9h0M142.2 304.1h0M121.6 316.7h0M135.4 306.0h0M131.0 319.7h0M132.9 316.2h0M125.0 318.3h0M137.3 309.0h0M128.5 315.4h0M136.0 315.1h0M133.8 314.1h0M130.1 311.1h0M138.0 315.5h0M129.0 314.1h0M136.4 310.9h0M133.4 312.8h0M132.1 317.7h0M129.2 313.7h0M135.6 316.8h0M129.2 316.1h0M138.4 306.2h0M138.7 309.7h0M126.0 317.6h0M137.5 313.1h0M130.5 311.2h0M136.6 312.6h0M129.6 309.9h0M126.4 317.8h0M131.4 315.3h0M131.9 315.6h0M123.8 322.3h0M125.1 317.2h0M141.4 303.6h0M128.3 311.9h0M139.7 312.0h0M124.5 312.5h0M127.9 317.5h0M135.6 306.4h0M134.4 313.4h0M129.7 316.2h0M136.3 317.6h0M139.9 307.7h0M121.5 321.1h0M139.4 305.3h0M134.9 314.4h0M126.3 313.4h0M136.4 316.3h0M142.5 307.8h0M132.8 309.2h0M135.4 315.4h0M131.2 314.9h0M120.3 319.0h0M146.7 308.4h0M144.6 306.9h0M128.0 316.2h0M142.9 305.1h0M126.9 310.0h0M121.7 316.8h0M136.3 310.0h0M133.1 317.1h0M130.8 314.1h0M121.2 324.9h0M138.0 310.8h0M126.9 317.8h0M134.7 310.1h0M133.2 319.7h0M126.4 323.1h0M137.7 310.6h0M137.1 315.1h0M136.9 316.0h0M133.4 315.2h0M138.7 311.1h0M131.6 316.8h0M136.3 315.6h0M130.4 313.5h0M128.3 316.4h0M130.5 318.0h0M132.8 306.3h0M130.0 315.9h0M134.6 312.6h0M137.8 310.1h0M138.5 305.4h0M123.2 314.6h0M128.8 318.4h0M142.1 310.9h0M129.0 319.0h0M140.2 308.6h0M121.5 310.3h0M135.7 302.4h0M124.4 316.2h0M135.9 312.8h0M121.9 314.7h0M136.2 311.2h0M145.7 306.1h0M131.9 312.5h0M121.4 318.4h0M135.8 313.0h0M126.4 317.8h0M131.4 320.6h0M134.9 316.6h0M139.1 305.3h0M136.6 309.8h0M136.7 308.0h0M137.1 311.0h0M128.8 324.9h0M135.9 312.1h0M129.6 316.5h0M138.9 312.2h0M140.5 317.3h0M128.8 317.3h0M127.3 313.4h0M125.5 311.8h0M137.6 314.4h0M133.6 316.5h0M132.4 317.6h0M130.9 312.4h0M133.6 309.3h0M133.3 318.6h0M135.4 309.7h0M138.1 318.6h0M138.3 311.6h0M123.5 315.5h0M121.5 312.3h0M139.7 308.5h0M131.0 318.7h0M134.9 318.7h0M131.8 312.5h0M131.8 309.4h0M124.0 319.1h0M134.5 308.4h0M121.0 320.5h0M124.3 318.5h0M140.3 308.3h0M132.3 312.4h0M127.0 309.8h0M130.8 319.2h0M137.1 320.3h0M126.8 315.4h0M128.7 316.5h0M132.3 311.7h0M133.5 312.9h0M125.7 310.5h0M143.5 306.9h0M137.1 315.9h0M144.1 303.0h0M120.6 320.0h0M129.2 314.9h0M140.8 319.4h0M134.2 310.8h0M142.6 303.4h0M130.6 317.9h0M130.5 312.5h0M139.3 305.7h0M141.6 309.6h0M137.5 311.6h0M127.7 312.8h0M131.8 307.7h0M136.1 311.3h0M126.6 320.1h0M127.2 314.9h0M144.4 308.4h0M129.7 313.6h0M131.7 314.7h0M122.4 319.3h0M135.1 312.5h0M128.7 308.7h0M139.5 313.1h0M125.4 316.5h0M129.0 322.0h0M129.4 318.9h0M127.5 318.4h0M140.7 310.7h0M136.7 314.0h0M127.4 315.2h0M134.8 308.2h0M140.3 310.5h0M139.3 315.1h0M131.4 310.5h0M128.4 309.6h0M134.5 309.8h0M137.7 314.3h0M124.7 313.5h0M134.1 316.9h0M140.0 309.8h0M128.8 312.4h0M132.7 316.7h0M133.3 309.7h0M136.3 305.9h0M145.4 308.7h0M126.9 320.1h0M129.9 317.0h0M140.7 308.5h0M139.9 307.7h0M133.1 316.4h0M128.7 317.0h0M130.3 308.8h0M137.3 316.0h0M127.8 312.4h0M132.6 309.0h0M135.9 314.2h0M131.0 309.7h0M129.4 315.3h0M138.2 314.3h0M127.1 321.4h0M142.5 308.4h0M142.3 306.5h0M135.0 312.8h0M126.9 314.7h0M132.5 316.0h0M126.7 319.2h0M129.4 316.5h0M138.1 305.1h0M142.2 306.2h0M127.0 317.5h0M138.7 306.0h0M145.0 311.0h0M127.5 308.6h0M128.7 315.7h0M140.5 305.0h0M124.8 309.4h0M134.9 307.5h0M131.0 313.6h0M130.3 311.7h0M130.8 319.8h0M132.3 311.6h0M129.7 309.9h0M136.1 317.4h0M127.7 324.3h0M140.2 307.0h0M136.0 309.9h0M125.2 320.9h0M137.4 317.1h0M121.0 318.4h0M134.2 308.4h0M133.1 313.1h0M129.4 315.0h0M136.3 303.9h0M134.4 313.9h0M124.9 317.6h0M125.6 320.2h0M128.3 319.4h0M141.2 312.7h0M135.8 309.0h0M135.8 306.6h0M127.5 318.9h0M135.6 313.1h0M129.2 307.4h0M145.4 305.8h0M139.7 307.6h0M137.6 318.0h0M139.0 309.0h0M127.2 315.1h0M138.3 316.1h0M140.4 307.2h0M133.9 304.6h0M143.9 309.1h0M136.4 305.4h0M143.0 301.3h0M135.3 311.3h0M125.1 312.0h0M134.2 311.8h0M126.2 314.0h0M127.1 322.0h0M130.4 306.3h0M143.4 311.5h0M133.3 315.6h0M129.7 310.3h0M128.8 315.3h0M144.0 306.8h0M139.7 314.5h0M125.4 318.5h0M136.2 319.8h0M124.8 317.0h0M128.7 319.5h0M135.8 316.0h0M125.8 318.1h0M126.2 315.2h0M138.6 315.4h0M126.9 309.9h0M134.5 308.9h0M132.0 319.4h0M131.3 316.5h0M133.0 315.3h0M141.2 308.0h0M134.9 307.0h0M125.0 315.3h0M135.1 310.8h0M137.7 302.0h0M128.7 314.2h0M126.6 316.7h0M134.1 318.0h0M143.3 306.0h0M129.8 317.8h0M121.5 317.8h0M132.8 314.0h0M131.1 310.5h0M128.8 319.7h0M139.5 312.9h0M131.0 310.8h0M123.3 322.2h0M128.4 317.4h0M133.3 311.2h0M135.0 317.2h0M129.8 315.5h0M129.2 322.2h0M129.4 317.6h0M126.0 321.9h0M130.8 320.0h0M139.9 316.0h0M127.5 314.4h0M121.6 317.8h0M127.8 316.5h0M138.9 310.0h0M126.1 323.6h0M122.9 316.6h0M130.2 308.3h0M132.4 313.3h0M135.1 313.5h0M142.7 309.4h0M130.3 317.4h0M134.8 316.0h0M135.3 314.1h0M147.1 308.0h0M133.2 308.6h0M135.8 312.6h0M130.6 311.1h0M124.3 317.9h0M135.8 319.1h0M137.5 310.3h0M143.3 304.8h0M142.2 308.1h0M128.7 316.6h0M133.6 317.5h0M135.0 312.8h0M120.6 322.3h0M131.5 313.6h0M150.0 301.4h0M124.4 316.1h0M123.1 314.9h0M138.5 310.7h0M131.4 316.3h0M129.8 312.6h0M132.8 313.7h0M134.5 311.8h0M141.7 303.5h0M137.2 307.6h0M124.0 324.2h0M133.7 318.5h0M138.5 310.3h0M143.1 309.9h0M133.3 310.5h0M135.2 306.3h0M139.9 311.0h0M132.1 311.3h0M135.0 313.4h0M126.2 314.7h0M133.7 310.9h0M142.3 315.4h0M143.8 308.6h0M137.8 307.2h0M145.8 304.0h0M135.6 311.0h0M134.4 312.0h0M129.6 315.3h0M141.3 311.6h0M127.0 308.1h0M124.4 321.8h0M130.5 312.9h0M134.5 313.1h0M126.7 318.1h0M130.7 311.2h0M123.1 315.3h0M136.6 311.8h0M134.6 316.4h0M134.9 314.4h0M142.9 309.7h0M135.8 314.9h0M133.8 310.4h0M123.3 314.2h0"/>
<path stroke="#666666" stroke-opacity="0.9" stroke-width="1.2" stroke-linecap="square" d="M161.3 287.9h0M157.5 287.3h0M158.2 289.4h0M151.3 294.6h0M160.4 288.7h0M170.8 289.6h0M166.7 290.9h0M154.8 292.8h0M165.2 298.3h0M165.2 287.2h0M165.1 289.9h0M155.7 291.8h0M167.2 283.2h0M158.3 291.1h0M157.0 295.0h0M156.5 294.9h0M171.2 284.8h0M167.9 292.6h0M158.5 288.1h0M151.5 294.4h0M161.1 294.1h0M166.1 293.6h0M150.5 294.7h0M166.8 291.5h0M154.1 288.4h0M170.8 288.9h0M166.0 295.4h0M168.0 289.7h0M163.7 294.0h0M165.3 292.9h0M166.6 286.7h0M161.6 288.9h0M143.9 293.0h0M157.6 290.5h0M157.0 289.7h0M165.9 296.1h0M155.6 296.5h0M156.2 296.3h0M163.3 296.1h0M157.8 294.8h0M156.3 295.0h0M159.1 291.7h0M162.5 291.0h0M168.5 289.3h0M160.0 294.3h0M164.1 290.5h0M160.6 295.1h0M166.6 289.7h0M159.1 293.7h0M157.3 291.7h0M155.3 296.4h0M160.0 293.6h0M157.1 295.2h0M163.0 292.1h0M160.9 292.7h0M167.3 293.4h0M155.2 291.4h0M149.0 292.4h0M163.0 292.2h0M154.9 295.5h0M157.6 289.8h0M162.4 291.3h0M166.3 289.6h0M154.5 291.7h0M152.1 298.9h0M163.3 289.9h0M166.3 290.0h0M160.9 293.6h0M161.3 292.2h0M157.1 290.5h0M150.2 294.3h0M154.8 296.7h0M163.7 288.5h0M156.2 292.5h0M154.7 295.3h0M161.3 293.9h0M160.0 289.2h0M163.9 295.0h0M163.5 290.5h0M159.9 301.4h0M164.5 284.7h0M167.3 295.6h0M166.3 292.6h0M157.7 295.0h0M169.4 285.8h0M152.4 294.4h0M168.8 289.9h0M170.3 290.2h0M156.9 288.5h0M162.9 292.9h0M158.6 289.2h0M160.9 291.0h0M153.1 298.0h0M157.2 292.3h0M157.1 289.0h0M165.3 287.7h0M158.2 290.5h0M157.3 294.5h0M162.3 294.1h0M162.2 289.1h0M161.8 294.4h0M165.5 288.8h0M167.8 289.0h0M162.7 287.4h0M169.0 287.1h0M159.1 290.5h0M165.5 293.7h0M156.2 288.1h0M162.9 288.7h0M161.1 296.5h0M152.2 293.6h0M162.4 289.0h0M160.1 291.1h0M167.7 286.9h0M161.7 289.5h0M160.3 295.6h0M173.3 287.2h0M158.4 285.7h0M159.6 286.9h0M163.7 290.1h0M158.6 299.6h0M164.0 289.0h0M164.2 287.7h0M157.1 285.9h0M164.2 295.0h0M165.1 290.8h0M158.9 290.2h0M161.5 292.2h0M167.6 288.8h0M152.5 291.8h0M164.7 290.1h0M158.3 293.8h0M164.1 292.1h0M162.0 291.5h0M154.6 286.0h0M164.3 289.6h0M153.6 292.9h0M158.0 288.4h0M166.4 294.0h0M171.4 287.8h0M163.6 294.2h0M164.7 295.0h0M162.8 295.9h0M160.5 287.1h0M151.7 301.5h0M168.6 289.0h0M166.9 292.1h0M159.0 290.3h0M162.2 287.4h0M156.1 287.1h0M157.6 295.4h0M162.3 291.1h0M159.6 289.2h0M170.3 290.5h0M167.6 286.1h0M159.1 291.6h0M160.9 294.3h0M167.1 295.2h0M159.5 289.4h0M164.9 292.0h0M171.2 299.0h0M159.4 290.4h0M164.6 294.8h0M157.9 296.7h0M166.8 285.1h0M151.5 295.4h0M164.1 290.5h0M171.6 288.7h0M165.9 292.8h0M167.6 290.1h0M159.8 285.9h0M154.4 291.5h0M171.4 286.7h0M160.2 284.2h0M161.2 292.7h0M170.1 290.0h0M147.6 300.2h0M159.5 294.5h0M161.7 287.4h0M164.0 290.7h0M159.5 291.1h0M166.7 291.0h0M163.9 286.3h0M161.7 289.0h0M153.8 292.8h0M157.8 293.3h0M152.9 294.1h0M158.9 287.5h0M165.1 288.1h0M160.7 289.2h0M164.5 288.1h0M168.6 289.4h0M165.8 289.0h0M148.7 291.6h0M163.0 286.5h0M165.8 290.3h0M157.7 293.4h0M173.5 287.2h0M160.5 288.2h0M166.8 287.3h0M154.0 289.6h0M163.9 296.2h0M166.3 290.9h0M169.6 290.1h0M164.9 289.5h0M163.4 292.6h0M164.2 290.4h0M148.8 290.9h0M167.7 285.2h0M154.8 293.9h0M153.3 292.2h0M165.5 287.1h0M169.3 293.4h0M162.6 292.0h0M158.1 293.4h0M168.5 286.6h0M175.8 286.3h0M170.3 284.6h0M169.1 288.3h0M171.9 295.7h0M172.0 287.6h0M161.7 293.7h0M167.0 292.9h0M162.7 288.6h0M158.8 296.1h0M159.4 292.1h0M158.9 293.0h0M158.0 293.0h0M166.4 282.8h0M162.4 294.2h0M165.7 290.1h0M165.2 290.3h0M161.8 295.2h0M169.1 288.4h0M163.4 286.8h0M158.8 294.4h0M156.2 292.0h0M159.0 291.3h0M155.8 297.3h0M153.0 292.8h0M166.1 286.1h0M159.2 295.0h0M163.9 289.6h0M161.0 297.1h0M159.0 287.8h0M160.1 290.2h0M160.8 291.2h0M163.0 290.2h0M165.9 292.7h0M168.1 283.9h0M172.4 281.9h0M166.0 288.2h0M157.6 294.2h0M166.1 294.3h0M164.0 293.6h0M160.3 287.3h0M155.3 295.1h0M157.0 294.4h0M158.4 290.9h0M162.3 291.2h0M152.9 296.4h0M167.7 289.5h0M162.8 298.6h0M150.3 295.3h0M159.1 300.0h0M160.0 288.6h0M164.9 285.8h0M163.5 292.5h0M158.6 293.3h0M166.1 300.9h0M161.5 286.4h0M157.5 290.7h0M165.3 293.6h0M157.2 292.3h0M163.0 293.0h0M162.5 290.5h0M165.3 291.1h0M160.4 298.4h0M163.4 292.2h0M169.2 288.7h0M161.3 294.9h0M166.0 284.2h0M164.4 292.1h0M157.1 289.5h0M172.2 295.3h0M161.9 293.7h0M158.5 296.1h0M156.1 288.3h0M156.5 292.9h0M158.2 294.2h0M163.6 291.1h0M152.8 290.8h0M159.3 294.9h0M165.7 294.9h0M167.0 290.0h0M157.1 290.3h0M155.0 289.3h0M158.7 298.3h0M165.9 288.1h0M156.9 285.3h0M161.2 296.2h0M162.1 291.0h0M155.9 294.7h0M161.3 291.0h0M156.8 291.8h0M163.9 288.4h0M160.1 298.3h0M158.2 289.3h0M163.1 290.9h0M160.1 300.2h0M162.5 290.9h0M162.0 294.4h0M166.4 289.5h0M158.3 292.0h0M174.3 286.0h0M166.3 292.6h0M164.8 291.3h0M155.9 289.6h0M164.4 288.7h0M164.6 283.5h0M154.2 290.4h0M160.4 293.2h0M159.5 292.6h0M164.2 283.8h0M167.3 292.8h0M160.5 295.4h0M158.4 294.4h0M166.8 289.5h0M154.6 297.3h0M157.2 296.5h0M164.8 290.1h0M166.5 288.2h0M152.6 295.0h0M163.7 284.9h0M162.2 297.6h0M155.5 296.3h0M173.8 286.2h0M166.4 298.1h0M162.4 286.2h0M165.0 288.8h0M169.1 293.2h0M158.2 287.8h0M158.0 295.5h0M164.0 295.2h0M163.4 295.4h0M168.4 296.2h0M161.1 291.5h0M156.5 289.7h0M150.2 296.9h0M158.6 288.9h0M168.2 292.8h0M166.1 288.9h0M164.6 295.9h0M164.6 292.8h0M162.1 288.0h0M156.6 296.4h0M164.7 288.1h0M165.4 286.7h0M167.3 287.4h0M173.3 288.9h0M163.9 293.2h0M157.4 290.0h0M165.5 285.2h0M159.2 286.9h0M151.6 293.3h0M160.3 295.4h0M163.0 292.9h0M167.1 295.6h0M163.3 288.7h0M163.4 291.3h0M159.7 289.8h0M167.7 290.5h0M154.6 288.2h0M157.9 293.1h0M161.5 288.0h0M165.4 288.7h0M163.5 289.6h0M164.1 293.8h0M153.1 288.6h0M164.7 286.3h0"/>
<path stroke="#8a8a8a" stroke-opacity="0.9" stroke-width="1" stroke-linecap="square" d="M158.2 295.3h0M153.6 306.1h0M161.5 300.2h0M154.1 304.1h0M157.2 304.4h0M156.8 304.2h0M163.7 303.4h0M161.2 301.9h0M160.8 302.4h0M152.6 303.6h0M160.2 300.9h0M155.6 303.0h0M156.0 296.7h0M158.4 306.6h0M156.4 297.3h0M159.6 298.8h0M158.2 299.6h0M159.2 291.2h0M161.5 305.0h0M162.3 303.6h0M161.8 298.1h0M160.6 300.9h0M149.9 307.7h0M160.6 303.4h0M156.7 306.5h0M161.7 304.7h0M158.6 306.6h0M160.6 298.8h0M157.6 306.1h0M157.0 305.1h0M160.5 304.1h0M159.6 302.5h0M154.6 304.3h0M159.4 297.0h0M159.3 307.4h0M161.9 304.3h0M159.8 305.6h0M161.0 308.1h0M158.0 307.7h0M158.0 301.8h0M161.3 302.3h0M161.0 297.7h0M156.0 306.7h0M154.7 302.2h0M162.7 300.4h0M165.6 303.3h0M162.2 295.0h0M162.3 301.3h0M162.5 300.3h0M159.3 307.5h0M158.3 302.2h0M158.4 299.8h0M159.5 304.9h0M158.5 307.9h0M151.8 309.7h0M157.9 295.1h0M161.3 309.7h0M161.6 305.7h0M155.6 306.8h0M156.1 305.2h0M158.8 300.0h0M153.0 299.8h0M158.1 302.4h0M153.1 296.2h0M159.8 302.0h0M156.2 295.8h0M157.1 304.5h0M163.7 302.7h0M162.9 304.0h0M161.3 301.7h0M150.9 298.4h0M156.8 298.3h0M159.4 305.8h0M162.2 303.6h0M161.2 297.5h0M152.1 312.9h0M154.2 305.0h0M160.5 310.7h0M157.9 299.0h0M160.8 299.6h0M155.9 298.6h0M162.3 302.5h0M160.7 299.2h0M164.8 310.0h0M164.0 303.0h0M155.7 302.8h0M154.2 306.4h0M158.7 308.4h0M162.3 305.6h0M164.0 300.9h0M157.3 301.7h0M154.4 305.7h0M158.4 301.9h0M156.4 301.0h0M163.6 300.1h0M158.9 305.1h0M161.0 305.5h0M153.2 305.4h0M162.0 307.7h0M162.8 304.6h0M154.1 304.3h0M164.6 295.3h0M158.0 305.2h0M160.1 301.9h0M160.4 303.2h0M156.3 307.3h0M166.6 297.1h0M160.8 304.0h0M155.8 298.8h0M158.0 300.6h0M161.4 296.8h0M162.3 304.2h0M161.2 298.0h0M157.4 300.1h0M161.1 305.1h0M159.4 301.9h0M163.3 308.3h0M161.8 293.5h0M161.5 302.9h0M164.5 302.0h0M166.8 307.4h0M162.8 301.5h0M157.0 301.6h0M155.3 300.1h0M162.1 303.8h0M163.9 292.3h0M165.7 305.4h0M158.0 297.6h0M162.1 306.6h0M155.7 297.8h0M163.2 299.0h0M159.1 296.4h0M165.4 305.8h0M157.9 307.3h0M165.4 296.4h0M159.1 299.6h0M166.9 303.3h0M165.0 298.7h0M159.5 303.3h0M158.6 296.2h0"/>
<line x1="118.7" y1="270.1" x2="185.9" y2="270.1" stroke="#666" stroke-width="1.1"/>
<line x1="185.9" y1="270.1" x2="185.9" y2="326.1" stroke="#555" stroke-width="1"/>
<line x1="118.7" y1="269.6" x2="118.7" y2="327.3" stroke="#333" stroke-width="1.1"/>
<line x1="118.7" y1="325.9" x2="185.9" y2="325.9" stroke="#333" stroke-width="1" stroke-dasharray="0.9 0.9"/>
<line x1="116.9" y1="270.6" x2="118.7" y2="270.6" stroke="#333" stroke-width="0.9"/>
<line x1="118.7" y1="326.1" x2="118.7" y2="327.7" stroke="#333" stroke-width="0.9"/>
<line x1="116.9" y1="284.5" x2="118.7" y2="284.5" stroke="#333" stroke-width="0.9"/>
<line x1="135.5" y1="326.1" x2="135.5" y2="327.7" stroke="#333" stroke-width="0.9"/>
<line x1="116.9" y1="298.4" x2="118.7" y2="298.4" stroke="#333" stroke-width="0.9"/>
<line x1="152.3" y1="326.1" x2="152.3" y2="327.7" stroke="#333" stroke-width="0.9"/>
<line x1="116.9" y1="312.2" x2="118.7" y2="312.2" stroke="#333" stroke-width="0.9"/>
<line x1="169.1" y1="326.1" x2="169.1" y2="327.7" stroke="#333" stroke-width="0.9"/>
<line x1="116.9" y1="326.1" x2="118.7" y2="326.1" stroke="#333" stroke-width="0.9"/>
<line x1="185.9" y1="326.1" x2="185.9" y2="327.7" stroke="#333" stroke-width="0.9"/>
<line x1="119.6" y1="271.1" x2="119.6" y2="326.1" stroke="#333" stroke-width="1.4" stroke-dasharray="0.7 1.3"/>
<rect x="148.7" y="280.2" width="29.1" height="30" fill="none" stroke="#333" stroke-width="1"/>
<text x="175" y="288.8" font-size="7.8" stroke="#111" stroke-width="0.12" text-anchor="end" fill="#111">38</text>
<text x="119.4" y="335.7" font-size="6.4" text-anchor="middle" fill="#222">10<tspan font-size="4.4" dy="-2.6">0</tspan></text>
<text x="135.9" y="335.7" font-size="6.4" text-anchor="middle" fill="#222">10<tspan font-size="4.4" dy="-2.6">1</tspan></text>
<text x="152.5" y="335.7" font-size="6.4" text-anchor="middle" fill="#222">10<tspan font-size="4.4" dy="-2.6">2</tspan></text>
<text x="169.1" y="335.7" font-size="6.4" text-anchor="middle" fill="#222">10<tspan font-size="4.4" dy="-2.6">3</tspan></text>
<text x="185.6" y="335.7" font-size="6.4" text-anchor="middle" fill="#222">10<tspan font-size="4.4" dy="-2.6">4</tspan></text>
<path stroke="#a8a8a8" stroke-opacity="1" stroke-width="1" stroke-linecap="square" d="M209.4 305.5h0M216.5 291.4h0M201.8 296.1h0M207.6 308.4h0M209.5 294.6h0M215.5 299.9h0M219.0 306.4h0M207.8 303.3h0M204.7 302.6h0M218.5 301.1h0M206.6 315.3h0M226.0 304.2h0M215.7 291.4h0M218.1 294.2h0M224.4 296.2h0M206.3 301.6h0M215.6 306.4h0M207.9 310.1h0M209.2 300.7h0M211.1 302.8h0M220.3 304.9h0M214.4 303.9h0M216.0 293.9h0M216.9 290.2h0M245.9 307.7h0M206.0 307.0h0M226.5 306.9h0M221.4 300.7h0M208.0 308.2h0M214.0 319.0h0M208.7 293.4h0M214.2 303.5h0M221.3 298.8h0M217.3 299.7h0M217.0 297.4h0M206.1 292.4h0M207.7 307.4h0M214.7 296.7h0M224.3 298.3h0M209.7 292.5h0M202.6 300.2h0M206.4 298.7h0M207.3 299.4h0M211.7 294.5h0M209.2 316.1h0M205.7 315.8h0M214.8 298.3h0M203.1 307.7h0M222.4 306.0h0M222.4 308.0h0M208.8 318.0h0M224.7 299.2h0M226.9 303.6h0M209.3 312.0h0M207.9 301.3h0M210.9 306.4h0M205.7 298.5h0M211.9 282.6h0M213.2 303.2h0M213.8 293.8h0M222.5 305.5h0M208.2 291.8h0M218.3 310.7h0M223.1 294.4h0M217.4 302.0h0M209.3 313.9h0M225.7 309.7h0M204.9 314.5h0M202.7 297.8h0M214.6 291.4h0M200.6 303.3h0M220.1 309.4h0M203.7 306.2h0M201.9 298.9h0M218.6 293.0h0M206.6 292.2h0M220.2 302.3h0M230.3 297.6h0M229.0 310.5h0M225.1 312.5h0M203.6 308.4h0M203.9 292.6h0M217.4 299.3h0M221.8 311.6h0M206.0 298.8h0M225.8 296.6h0M207.3 304.3h0M200.9 292.1h0M209.6 298.8h0M210.2 286.4h0M206.9 304.1h0M220.2 294.2h0M221.0 293.4h0M211.1 302.7h0M205.3 309.1h0M215.1 298.5h0M208.9 300.8h0M216.0 305.3h0M236.3 314.9h0M223.7 295.0h0M208.0 298.7h0M215.1 304.7h0M204.9 301.2h0M221.6 316.3h0M221.7 302.8h0M207.9 307.2h0M206.2 295.4h0M224.7 292.6h0M224.0 277.1h0M218.0 310.7h0M215.3 316.2h0M221.0 300.9h0M233.0 287.3h0M202.3 295.8h0M209.8 294.0h0M205.2 301.6h0M222.0 313.9h0M225.9 310.7h0M210.7 293.8h0M220.3 302.3h0M215.6 313.1h0M214.5 292.9h0M216.3 318.0h0M206.2 309.4h0M214.5 314.2h0M225.3 299.7h0M222.7 308.8h0M230.8 291.2h0M215.0 296.6h0M214.0 308.1h0M208.3 312.8h0M207.3 311.7h0M202.3 298.0h0M214.9 310.4h0M220.6 297.2h0M229.1 291.4h0M222.8 300.2h0M212.1 288.3h0M211.5 301.8h0M208.9 313.9h0M202.0 304.3h0M205.1 311.6h0M223.5 305.1h0M200.7 306.1h0"/>
<path stroke="#a8a8a8" stroke-opacity="1" stroke-width="1" stroke-linecap="square" d="M225.8 306.5h0M225.1 302.8h0M228.0 297.3h0M237.8 302.4h0M226.5 303.2h0M213.1 297.3h0M226.0 302.7h0M223.4 307.2h0M222.0 322.6h0M208.4 312.3h0M234.3 310.2h0M234.2 297.4h0M220.1 299.8h0M218.7 308.5h0M230.7 298.0h0M238.9 292.9h0M219.8 297.1h0M247.4 288.6h0M230.0 299.6h0M211.8 303.1h0M225.2 296.1h0M210.6 312.5h0M214.0 304.6h0M231.5 301.3h0M235.0 271.2h0M214.5 308.4h0M222.6 294.7h0M210.2 321.1h0M259.9 294.1h0M206.2 312.2h0M234.2 296.4h0M235.1 303.0h0M215.9 301.6h0M220.3 308.1h0M234.1 284.2h0M236.8 300.3h0M211.9 314.7h0M227.4 312.7h0M227.4 309.2h0M241.7 298.1h0M227.4 294.0h0M228.3 297.9h0M220.2 317.6h0M218.7 303.2h0M229.9 293.7h0M243.6 289.1h0M249.6 296.6h0M224.5 299.0h0M227.1 294.8h0M223.2 308.0h0M226.7 303.2h0M237.1 300.8h0M229.3 309.9h0M222.1 300.5h0M240.5 313.0h0M225.7 295.3h0M240.3 304.1h0M212.2 322.5h0M232.1 291.0h0M216.6 315.2h0M218.2 318.0h0M241.3 283.1h0M248.0 288.1h0M220.9 316.2h0M243.4 298.6h0M229.5 307.0h0M241.2 298.5h0M221.5 309.0h0M205.4 298.9h0M210.0 298.3h0M218.1 299.8h0M233.9 291.6h0M232.1 299.3h0M221.9 312.9h0M229.8 297.0h0M217.6 309.0h0M243.6 290.9h0M215.4 311.4h0M206.0 306.3h0M238.1 307.1h0M229.4 296.9h0M218.9 315.7h0M240.7 301.2h0M238.3 289.1h0M210.1 318.1h0M252.3 279.4h0M221.9 318.4h0M218.3 298.3h0M216.9 306.3h0M221.9 303.0h0M255.2 292.8h0M225.5 305.1h0M248.3 285.7h0M241.5 297.3h0M204.2 324.8h0M207.5 321.7h0M222.8 300.6h0M228.9 307.1h0M222.4 302.3h0M239.1 281.1h0M235.2 293.9h0M212.4 307.3h0M208.4 308.0h0M226.5 298.3h0M211.7 292.4h0M236.7 296.0h0M245.0 289.1h0M232.2 303.0h0M223.1 300.3h0M221.3 307.2h0M219.2 299.0h0M228.6 302.6h0M231.4 299.5h0M217.2 302.6h0M214.8 302.6h0M226.8 302.0h0M214.0 307.6h0M244.1 305.8h0M253.1 290.6h0M213.3 305.1h0M221.2 320.4h0M233.3 303.5h0M244.0 296.8h0M246.1 292.6h0M224.6 286.8h0M233.4 299.5h0M236.0 303.8h0M226.9 292.9h0M222.2 291.7h0M223.3 294.1h0M232.0 311.4h0M234.1 281.7h0M219.8 318.9h0M218.1 292.4h0M234.2 311.4h0M225.3 289.9h0M219.5 302.0h0M222.6 309.0h0M204.8 303.0h0M239.8 305.8h0M224.7 299.1h0M227.1 292.1h0M213.0 309.3h0M218.7 287.8h0M219.3 307.1h0M228.9 285.8h0M240.4 291.5h0M228.9 290.7h0M217.1 298.2h0M222.3 313.3h0M214.2 306.5h0M249.6 294.3h0M231.5 291.9h0M212.5 310.9h0M219.5 320.5h0M210.3 309.4h0M232.8 300.5h0M219.6 312.8h0M213.0 302.0h0M241.8 295.3h0M219.7 287.7h0M222.7 305.9h0M214.0 315.5h0M229.0 287.7h0M230.6 297.7h0M209.2 309.6h0M210.6 306.2h0M201.8 304.2h0M223.9 292.2h0M225.6 289.7h0M242.9 304.0h0M210.5 307.0h0M227.2 313.6h0M222.6 307.6h0M230.8 310.2h0M242.5 287.4h0M217.0 316.5h0M214.6 314.2h0M240.4 296.9h0M207.4 313.4h0M237.5 295.4h0M233.2 306.9h0M200.3 317.4h0M211.8 304.7h0M216.6 312.8h0M228.3 302.1h0M224.9 307.2h0M229.6 306.7h0M223.6 312.9h0M226.2 319.9h0M223.6 307.7h0"/>
<path stroke="#666666" stroke-opacity="0.9" stroke-width="1.2" stroke-linecap="square" d="M206.9 318.9h0M210.2 314.9h0M213.6 310.5h0M220.2 316.1h0M207.4 311.8h0M208.4 320.2h0M206.1 319.8h0M209.4 309.3h0M206.8 322.1h0M208.0 316.6h0M211.6 306.5h0M206.6 311.3h0M206.7 313.6h0M213.8 317.0h0M210.7 322.8h0M201.0 311.6h0M212.2 314.1h0M212.6 310.1h0M213.8 312.3h0M201.6 318.8h0M201.6 310.9h0M209.8 321.4h0M203.2 313.8h0M205.6 316.2h0M202.7 312.8h0M222.8 309.7h0M205.5 314.3h0M210.7 313.3h0M210.6 311.0h0M216.8 312.5h0M206.3 317.4h0M209.8 309.0h0M216.5 311.2h0M209.2 320.0h0M200.0 309.0h0M208.5 311.9h0M201.6 302.8h0M216.1 310.4h0M219.2 312.5h0M208.2 309.7h0M215.5 314.4h0M211.2 315.3h0M208.2 307.5h0M208.3 307.1h0M211.4 307.4h0M202.6 321.3h0M209.1 312.7h0M206.4 308.9h0M211.9 311.6h0M209.3 312.7h0M203.9 306.4h0M206.2 314.5h0M213.8 315.7h0M205.7 324.1h0M204.5 313.3h0M205.3 309.8h0M219.7 314.7h0M204.5 319.1h0M202.7 318.2h0M220.7 298.1h0M215.6 306.9h0M219.8 311.3h0M205.7 310.4h0M200.0 314.6h0M200.0 319.7h0M205.2 319.8h0M207.6 320.9h0M210.0 317.6h0M217.9 317.5h0M203.0 316.3h0M216.0 308.8h0M214.6 308.8h0M209.3 314.4h0M204.4 319.9h0M205.5 325.0h0M216.1 315.4h0M223.2 312.8h0M202.0 309.9h0M204.5 318.9h0M207.0 315.3h0M204.3 315.6h0M205.5 318.9h0M203.0 310.5h0M214.4 303.3h0M210.3 309.2h0M206.0 315.6h0M202.1 308.2h0M203.2 317.3h0M223.7 318.4h0M208.7 312.9h0M208.2 307.1h0M205.4 310.2h0M218.6 311.4h0M215.0 314.3h0M217.5 312.5h0M220.8 309.7h0M205.6 315.0h0M206.2 316.9h0M215.4 313.6h0M217.9 312.3h0M215.7 317.5h0M206.3 308.1h0M204.5 317.3h0M217.7 316.7h0M215.9 310.6h0M203.8 322.9h0M207.8 311.9h0M222.4 310.4h0M221.2 314.1h0M211.9 315.5h0M221.1 311.6h0M211.2 308.6h0M214.0 318.5h0M202.3 309.1h0M208.6 310.8h0M205.8 309.1h0M203.3 311.1h0M213.2 299.2h0M211.0 310.9h0M201.0 310.6h0M207.0 321.1h0M203.2 315.0h0M222.6 315.0h0M221.2 308.1h0M200.8 315.1h0M208.6 313.7h0M210.0 315.3h0M210.5 319.6h0M203.3 311.3h0M211.6 317.6h0M204.4 317.6h0M218.7 314.5h0M211.3 313.3h0M220.9 310.0h0M201.3 322.7h0M204.6 312.5h0M218.6 308.8h0M222.2 317.3h0M214.0 316.3h0M213.4 300.0h0M201.6 323.7h0M204.7 313.3h0M217.4 307.8h0M212.0 316.6h0M217.1 324.4h0M200.5 312.5h0M208.5 303.2h0M204.5 313.0h0M220.4 315.6h0M222.2 312.5h0M200.1 313.0h0M200.9 316.7h0M212.8 310.4h0M216.4 311.9h0M202.7 319.0h0M200.8 307.1h0M202.2 322.5h0M205.6 312.4h0M212.5 307.2h0M208.3 311.2h0M224.3 313.9h0M202.7 313.6h0M211.4 309.2h0M221.7 304.5h0M222.2 300.1h0M218.5 313.2h0M215.0 308.9h0M200.5 317.2h0M202.9 311.8h0M206.6 313.8h0M208.6 316.4h0M221.8 312.3h0M207.5 314.3h0M212.1 308.7h0M204.9 312.1h0M223.6 309.7h0M213.0 311.9h0M218.0 305.5h0M214.0 308.0h0M220.4 313.2h0M213.0 320.8h0M204.9 317.4h0M201.6 308.8h0M219.7 307.9h0M200.0 315.1h0M200.6 318.8h0M210.9 315.9h0M202.8 312.7h0M208.1 317.1h0M209.8 303.9h0M219.1 312.3h0M216.9 311.3h0M212.7 316.0h0M213.3 316.2h0M206.1 311.0h0M205.5 310.6h0M215.6 311.0h0M216.4 314.6h0M208.2 309.9h0M204.0 311.8h0M201.1 314.2h0M211.3 315.1h0M210.4 307.6h0M200.2 314.5h0M216.0 311.2h0M199.9 319.0h0M206.9 315.8h0M202.7 307.7h0M213.4 308.7h0M221.2 315.3h0M207.3 317.1h0M201.6 310.5h0M212.5 310.9h0M209.3 309.0h0M210.2 312.9h0M213.5 314.8h0M204.8 306.5h0M212.2 316.0h0M214.8 324.0h0M207.8 319.8h0M214.8 308.4h0M206.8 312.5h0M207.9 316.7h0M214.9 315.5h0M201.4 320.1h0M207.9 313.4h0M212.7 310.1h0M204.8 313.0h0M200.6 312.1h0M204.1 314.4h0M210.9 314.8h0M210.7 317.0h0M205.2 320.0h0M223.4 312.5h0M215.6 308.8h0M222.2 311.2h0M203.6 312.9h0M211.3 311.8h0M205.4 319.4h0M208.4 313.7h0M206.6 324.4h0M219.5 312.7h0M205.0 319.3h0M216.4 313.3h0M211.7 324.8h0M209.5 307.6h0M226.3 315.9h0M203.6 312.9h0M215.8 314.2h0M202.5 310.4h0M202.6 304.5h0M213.8 317.8h0M219.4 316.7h0M206.0 318.9h0M213.5 313.8h0M210.0 310.6h0M209.9 319.6h0M211.0 317.1h0M205.0 317.5h0M228.7 312.7h0M200.4 307.1h0M214.2 311.2h0M205.2 307.8h0M215.7 312.9h0M204.7 311.6h0M208.1 323.4h0M202.3 308.8h0M211.8 312.5h0M211.7 305.3h0M212.2 317.7h0M205.0 312.8h0M206.4 315.3h0M222.0 312.8h0M218.6 314.0h0M207.3 319.2h0M214.3 307.9h0M212.1 307.2h0M211.3 307.2h0M202.0 319.8h0M211.3 316.7h0M209.4 310.5h0M222.8 307.4h0M213.4 313.3h0M208.1 316.2h0M218.1 316.3h0M210.2 310.7h0M216.2 307.6h0M204.9 307.8h0M211.4 319.0h0M219.1 318.7h0M203.1 314.8h0M205.8 314.1h0M203.4 311.3h0M216.4 310.8h0M208.5 305.7h0M213.6 301.7h0M208.2 310.1h0M212.1 318.4h0M212.9 311.0h0M200.2 322.6h0M208.3 322.7h0M203.2 310.5h0M207.6 300.4h0M213.3 322.0h0M206.9 307.1h0M208.9 307.7h0M217.3 302.6h0M203.3 317.9h0M219.3 320.7h0M212.1 321.1h0M207.4 310.1h0M201.4 316.7h0M222.0 317.5h0M208.3 313.6h0M215.8 314.4h0M209.3 311.1h0M203.1 319.2h0M214.9 310.3h0M219.3 313.5h0M207.3 312.5h0M212.1 304.7h0M202.9 312.8h0M213.6 304.7h0M205.2 315.4h0M207.7 316.9h0M210.4 314.9h0M203.5 323.3h0M214.6 311.1h0M210.9 302.8h0M209.5 317.5h0M207.7 319.3h0M209.4 313.4h0M215.0 307.9h0M208.5 320.7h0M210.8 303.1h0M207.3 319.4h0M200.3 319.3h0M208.2 312.9h0M207.1 310.9h0M200.9 307.9h0M217.3 307.6h0M227.0 310.6h0M211.9 317.5h0M204.2 307.4h0M228.0 309.9h0M212.7 308.7h0M207.2 313.0h0M211.5 308.0h0M202.7 315.2h0M208.2 318.9h0M205.3 306.8h0M211.6 318.7h0M204.9 306.2h0M211.2 313.4h0M202.4 315.9h0M214.2 309.3h0M207.7 314.9h0M201.6 310.7h0M209.0 304.0h0M205.6 310.9h0M208.5 312.2h0M207.3 300.8h0M211.6 305.3h0M208.9 307.2h0M210.2 321.8h0M207.1 309.6h0M205.4 321.1h0M208.1 321.2h0M204.0 314.4h0M215.3 310.1h0M212.3 309.6h0M210.5 311.5h0M203.5 319.1h0M214.6 316.7h0M212.2 315.9h0M203.1 318.3h0M215.8 308.6h0M200.0 315.9h0M207.9 307.7h0M203.5 324.6h0M214.5 306.4h0M203.5 320.5h0M208.0 309.3h0M219.2 315.6h0M201.6 320.1h0M213.6 309.0h0M222.2 315.2h0M217.6 311.0h0M218.4 316.2h0M209.5 312.5h0M200.2 316.3h0M210.4 315.0h0M212.2 314.6h0M212.6 308.7h0M213.1 308.4h0M207.0 314.8h0M216.4 317.1h0M218.6 319.2h0M201.0 313.4h0M217.6 305.4h0M209.1 309.8h0M205.0 318.1h0M203.7 315.7h0M211.5 314.2h0M209.6 317.2h0M216.7 312.6h0M216.2 310.0h0M210.8 310.7h0M214.3 308.8h0M209.0 311.5h0M206.1 311.3h0M209.4 314.3h0M210.7 313.3h0M201.9 310.1h0M218.2 315.6h0M205.5 321.8h0M215.3 322.1h0M215.2 313.3h0M211.9 308.2h0M207.5 313.1h0M210.6 320.4h0M222.4 298.0h0M211.9 313.8h0M209.1 316.8h0M208.0 315.7h0M199.9 312.8h0M203.4 310.3h0M201.6 311.0h0M215.6 309.4h0M217.3 318.4h0M212.3 319.0h0M208.1 307.7h0M200.1 307.3h0M232.8 308.0h0M220.3 314.7h0M215.6 319.1h0M208.2 317.4h0M206.0 319.0h0M212.8 318.3h0M217.5 311.4h0M210.8 310.1h0M213.9 313.9h0M210.9 317.2h0M212.7 310.7h0M201.1 314.6h0M202.4 307.9h0M208.5 316.7h0M212.6 320.6h0M207.4 321.6h0M222.0 309.9h0M216.1 301.3h0M205.1 317.1h0M210.4 313.1h0M210.2 323.7h0M200.6 320.1h0M208.3 311.1h0M209.0 315.0h0M215.5 304.1h0M205.6 314.6h0M208.4 322.8h0M209.6 311.9h0M207.2 308.7h0M209.4 309.2h0M201.3 316.5h0M215.2 309.6h0M211.3 307.8h0M206.9 317.8h0M201.7 305.8h0M210.9 316.0h0M208.5 310.8h0M202.0 321.1h0M201.8 317.8h0M204.0 311.5h0M212.8 309.0h0M223.7 307.5h0M214.2 303.7h0M211.3 315.9h0M207.0 310.8h0M207.2 311.8h0M212.7 317.9h0M215.2 316.4h0M206.1 320.6h0M201.9 317.4h0M216.9 312.7h0M208.6 319.8h0M205.0 317.1h0M211.8 314.2h0M205.8 308.4h0M212.6 311.0h0M214.6 304.7h0M211.4 321.8h0M215.9 312.3h0M208.6 316.1h0M209.3 309.3h0M215.5 306.8h0M203.7 320.2h0M200.7 321.1h0M212.2 311.8h0M203.2 311.1h0M205.6 312.4h0M220.7 312.7h0M203.3 313.7h0M212.8 305.6h0M201.4 319.6h0M203.9 310.3h0M215.8 306.8h0M207.6 314.5h0M200.4 315.5h0M212.3 306.2h0M201.6 322.8h0M210.9 317.2h0M214.2 308.2h0M200.7 307.0h0M208.5 310.3h0M205.9 316.2h0M211.5 314.4h0M208.5 318.0h0M204.2 314.9h0M209.2 320.7h0M201.8 318.7h0M222.0 314.0h0M216.5 302.1h0M207.4 320.2h0M212.3 321.8h0M212.1 312.9h0M223.0 314.0h0M210.8 318.7h0M207.8 312.1h0M214.9 317.6h0M212.4 317.1h0M208.5 307.9h0M216.6 309.8h0M216.5 312.4h0M201.7 323.3h0M200.4 318.7h0M217.9 314.2h0M214.8 314.6h0M205.6 313.0h0M208.7 311.1h0M202.6 319.2h0M206.9 309.9h0M205.6 322.9h0M214.1 323.9h0M206.2 304.0h0M201.8 309.5h0M207.5 316.9h0M209.6 306.3h0M211.8 307.9h0M205.2 313.1h0M219.4 316.8h0M213.6 314.0h0M201.6 312.5h0M210.9 317.3h0M219.5 304.1h0M201.7 322.6h0M207.4 318.8h0M213.1 322.9h0M211.3 320.0h0M218.2 315.3h0M211.1 310.3h0M217.8 314.8h0M209.7 322.0h0M204.8 309.8h0M200.7 307.3h0M223.1 318.9h0M220.4 313.2h0M205.6 313.8h0M210.5 315.8h0M201.6 321.6h0M213.8 315.4h0M209.6 311.0h0M206.1 312.1h0M218.9 304.8h0M208.3 308.9h0M211.2 317.8h0M208.8 319.2h0M206.7 310.5h0M209.4 312.6h0M200.5 315.0h0M206.1 314.7h0M206.2 317.7h0M205.6 311.9h0M211.5 319.4h0M203.6 305.4h0M212.2 306.1h0M220.0 317.5h0M203.4 324.6h0M202.2 312.8h0M199.9 314.9h0M206.2 315.9h0M218.3 308.1h0M207.3 314.8h0M212.8 309.8h0M212.8 306.1h0M226.5 311.9h0M205.4 305.0h0M209.0 306.3h0M203.0 313.6h0M210.0 306.7h0M206.2 313.7h0M227.5 318.6h0M207.8 315.4h0M202.0 313.1h0M208.1 314.3h0M200.9 310.8h0M218.0 309.5h0M219.4 312.4h0M209.4 319.0h0M212.1 317.8h0M202.4 315.0h0M202.7 324.5h0M216.2 307.2h0M202.3 313.9h0M204.8 306.9h0M210.7 319.3h0M206.6 313.7h0M216.1 311.6h0M202.5 319.2h0M206.9 310.7h0M204.5 313.7h0M217.5 312.7h0M205.6 323.2h0M228.2 303.6h0M215.5 313.3h0M217.3 308.3h0M208.9 313.1h0M213.5 317.5h0M213.0 299.3h0M209.8 313.7h0M206.9 313.8h0M224.4 313.8h0M215.0 309.6h0M205.9 308.4h0M207.9 313.7h0M204.6 313.8h0M201.0 314.0h0M201.0 313.1h0M221.4 312.8h0M213.4 320.4h0M204.2 317.8h0M220.0 305.2h0M217.7 324.3h0M211.4 303.2h0M214.8 309.9h0M207.5 314.9h0M220.0 316.1h0M205.2 316.2h0"/>
<path stroke="#666666" stroke-opacity="0.9" stroke-width="1.2" stroke-linecap="square" d="M239.8 292.0h0M239.6 296.4h0M250.1 285.4h0M241.3 292.8h0M253.2 285.3h0M248.6 286.7h0M260.0 280.0h0M240.5 291.2h0M241.2 292.1h0M247.4 290.1h0M248.5 290.5h0M248.5 293.0h0M246.2 296.1h0M244.5 296.0h0M245.4 292.7h0M246.8 290.1h0M250.9 289.2h0M239.7 302.1h0M249.0 291.6h0M249.3 295.3h0M246.6 286.7h0M247.0 289.1h0M257.8 286.7h0M239.7 299.9h0M244.6 285.3h0M235.2 296.9h0M245.9 294.3h0M241.5 291.5h0M247.6 293.8h0M254.2 293.3h0M253.2 287.2h0M245.7 295.7h0M242.7 289.6h0M245.3 291.2h0M246.6 288.8h0M248.2 292.9h0M246.4 289.1h0M239.4 292.5h0M242.4 293.4h0M252.5 293.4h0M245.7 286.7h0M239.7 292.4h0M245.8 284.1h0M240.7 288.8h0M248.1 292.7h0M236.3 292.0h0M250.5 289.2h0M236.3 293.3h0M251.7 287.0h0M248.7 288.7h0M248.4 297.4h0M238.6 289.6h0M253.2 283.9h0M258.3 295.1h0M253.0 283.7h0M237.0 293.7h0M238.5 291.4h0M244.0 289.5h0M258.0 286.9h0M252.6 288.2h0M241.7 301.2h0M247.3 294.1h0M242.7 298.8h0M246.4 293.5h0M245.0 286.3h0M252.9 286.4h0M251.9 290.8h0M250.7 291.0h0M241.3 295.0h0M244.7 290.6h0M237.5 295.8h0M246.5 290.1h0M248.0 286.3h0M247.2 289.2h0M247.6 297.8h0M247.1 290.3h0M242.5 288.0h0M239.8 291.5h0M244.6 292.8h0M249.9 294.9h0M246.5 291.7h0M241.0 288.9h0M244.6 291.3h0M247.6 296.2h0M249.8 288.4h0M239.6 287.7h0M251.0 291.9h0M244.4 292.7h0M246.4 289.3h0M246.5 290.5h0M242.8 289.0h0M237.2 297.4h0M245.0 287.6h0M243.3 293.5h0M236.9 288.8h0M258.0 286.3h0M244.5 289.6h0M237.6 293.4h0M242.6 297.8h0M250.5 291.1h0M253.6 292.3h0M238.0 299.0h0M249.8 286.4h0M241.2 294.7h0M230.0 303.2h0M242.0 295.0h0M250.8 293.9h0M240.5 291.2h0M252.2 289.1h0M239.9 292.9h0M237.2 294.2h0M251.1 286.1h0M251.8 289.9h0M247.7 294.0h0M243.3 295.1h0M237.4 292.7h0M245.0 292.4h0M242.1 294.0h0M235.4 295.2h0M247.6 292.1h0M251.3 295.7h0M248.9 287.1h0M238.2 297.0h0M255.9 283.7h0M240.3 290.9h0M245.4 288.8h0M243.5 290.2h0M255.7 284.1h0M245.5 286.4h0M237.5 295.2h0M250.3 293.1h0M239.9 287.3h0M236.3 287.0h0M247.3 292.1h0M243.7 294.0h0M249.6 286.3h0M247.7 292.4h0M235.1 297.1h0M247.9 293.0h0M259.6 284.7h0M251.9 285.9h0M254.7 293.4h0M246.2 288.6h0M241.4 295.4h0M239.6 290.0h0M242.9 290.6h0M248.7 286.0h0M250.5 290.9h0M250.9 288.4h0M248.6 286.2h0M245.7 288.0h0M246.1 283.1h0M244.3 294.8h0M240.8 288.4h0M248.3 285.4h0M244.0 293.7h0M236.0 298.1h0M244.8 292.6h0M236.8 295.2h0M238.5 293.9h0M246.4 299.5h0M251.5 286.0h0M251.7 283.2h0M249.5 288.5h0M250.2 292.8h0M257.1 284.9h0M246.2 294.2h0M245.1 299.6h0M241.2 291.1h0M245.6 287.9h0M246.9 294.0h0M243.2 290.4h0M245.5 291.6h0M252.4 285.9h0M245.8 296.2h0M243.0 290.6h0M238.4 296.9h0M244.7 293.0h0M250.1 290.5h0M253.9 282.0h0M241.6 293.9h0M235.0 298.1h0M236.1 296.4h0M249.2 290.4h0M251.6 280.7h0M248.0 288.0h0M256.7 288.2h0M242.0 290.4h0M256.2 291.3h0M257.6 291.8h0M244.1 290.8h0M251.7 287.8h0M249.1 288.7h0M249.2 292.2h0M246.8 290.4h0M241.9 287.6h0M240.0 296.2h0M239.9 291.8h0M242.3 290.8h0M248.9 295.6h0M227.0 297.0h0M249.5 289.3h0M254.6 294.3h0M246.2 291.4h0M247.8 289.2h0M228.0 293.6h0M239.4 294.2h0M253.6 284.5h0M239.0 294.5h0M255.7 291.6h0M242.7 293.6h0M248.1 289.9h0M249.1 289.1h0M248.5 281.5h0M246.4 292.7h0M241.7 292.9h0M240.7 292.7h0M254.2 288.8h0M233.7 293.2h0M253.1 289.9h0M250.3 287.7h0M245.3 284.1h0M247.0 294.4h0M243.9 291.2h0M252.0 290.0h0M242.8 291.5h0M248.8 295.9h0M254.9 290.1h0M243.4 292.7h0M238.3 294.4h0M245.0 295.6h0M244.0 293.2h0M241.9 284.2h0M236.4 293.6h0M248.9 291.8h0M248.5 289.9h0M247.3 295.4h0M252.5 283.3h0M236.3 296.3h0M244.4 290.0h0M247.3 288.0h0M251.8 294.9h0M249.6 284.9h0M235.5 294.3h0M235.7 290.6h0M245.4 284.6h0M233.4 296.5h0M242.0 301.8h0M248.3 294.4h0M257.0 281.2h0M243.4 290.9h0M245.3 294.5h0M239.7 298.8h0M241.6 298.0h0M241.4 293.6h0M242.8 293.9h0M240.5 295.2h0M244.5 292.1h0M250.9 280.7h0M250.4 289.1h0M244.5 288.7h0M247.0 296.9h0M247.8 287.2h0M246.1 290.7h0M246.5 291.3h0M243.7 291.7h0M244.1 290.6h0M255.0 282.4h0M250.2 287.3h0M247.4 293.9h0M237.9 292.8h0M247.3 289.4h0M236.3 296.8h0M236.8 295.9h0M242.7 295.5h0M237.1 292.6h0M248.8 295.0h0M241.3 298.4h0M230.7 300.4h0M242.5 294.8h0M235.6 299.8h0M239.5 297.9h0M241.5 290.0h0M254.8 281.1h0M238.5 304.1h0M247.2 286.4h0M253.1 296.4h0M243.1 296.7h0M253.3 285.5h0M253.6 288.2h0M248.8 287.4h0M242.2 291.6h0M239.1 289.5h0M256.5 279.0h0M246.0 295.3h0M252.6 291.4h0M244.9 291.7h0M249.1 286.8h0M246.8 287.0h0M239.4 297.1h0M248.4 290.3h0M244.6 295.5h0M238.0 296.5h0M244.1 291.8h0M244.9 292.3h0M242.8 295.1h0M239.3 281.7h0M252.1 290.8h0M236.9 295.0h0M246.6 296.7h0M248.5 284.4h0M243.1 292.6h0M250.6 285.8h0M251.9 288.6h0M251.6 289.8h0M251.6 290.5h0M239.9 289.7h0M253.4 285.3h0M239.1 296.7h0M248.5 295.0h0M246.2 285.2h0M253.1 288.3h0M245.2 289.6h0M241.6 288.3h0M241.2 294.9h0M249.1 286.9h0M252.0 295.8h0M249.0 291.0h0M244.4 289.0h0M252.7 288.1h0M243.7 294.6h0M241.8 292.1h0M251.3 284.1h0M238.0 295.0h0M244.7 287.6h0M248.2 299.7h0M255.8 289.0h0M252.4 287.4h0M240.8 291.3h0M249.9 291.8h0M259.4 283.9h0M247.1 283.4h0M253.5 287.9h0M240.9 290.2h0M254.9 289.8h0M245.5 291.0h0M239.2 289.1h0M249.6 296.6h0M240.2 293.3h0M256.5 289.9h0M245.1 296.9h0M239.2 299.0h0M253.3 283.0h0M243.5 290.7h0M252.1 292.7h0M242.8 292.0h0M237.2 292.1h0M251.8 294.0h0M244.8 288.2h0M252.3 291.0h0M245.1 288.4h0M238.5 298.6h0M245.4 296.6h0M245.4 295.3h0M242.0 296.6h0M244.9 296.3h0M232.2 292.8h0M254.8 285.3h0M240.3 290.6h0M243.7 285.6h0M242.0 294.3h0M243.0 287.9h0M248.8 287.8h0M242.3 288.6h0M232.1 293.4h0M245.1 291.5h0M248.1 281.6h0M241.6 295.6h0M256.5 285.1h0M250.1 296.5h0"/>
<path stroke="#8a8a8a" stroke-opacity="0.9" stroke-width="1" stroke-linecap="square" d="M232.5 299.8h0M243.9 299.9h0M249.9 303.5h0M238.3 300.2h0M249.5 290.3h0M238.8 299.2h0M246.1 300.0h0M237.4 297.0h0M245.8 301.8h0M247.3 304.6h0M233.8 294.6h0M247.3 296.7h0M238.3 299.1h0M243.3 307.0h0M250.1 298.2h0M244.6 303.1h0M233.5 302.1h0M249.1 302.2h0M235.6 305.5h0M230.1 297.1h0M235.9 299.8h0M244.7 296.3h0M234.9 302.5h0M238.7 303.2h0M237.7 299.8h0M246.1 295.8h0M237.1 300.4h0M247.2 298.7h0M242.6 295.6h0M238.4 296.4h0M239.0 302.5h0M247.6 297.6h0M245.8 297.6h0M251.4 297.8h0M238.2 292.1h0M238.1 298.7h0M250.6 295.2h0M240.5 299.9h0M223.7 303.6h0M239.7 300.0h0M240.0 304.3h0M247.2 300.4h0M247.3 299.8h0M253.5 296.1h0M247.3 300.2h0M234.6 302.7h0M238.7 300.0h0M243.9 299.1h0M234.6 301.1h0M233.5 297.1h0M247.9 296.3h0M238.6 291.5h0M233.2 303.6h0M237.3 298.3h0M235.2 307.4h0M241.7 305.1h0M239.7 308.1h0M239.3 296.8h0M237.9 295.7h0M240.1 299.7h0M242.0 303.8h0M243.6 303.9h0M241.7 302.0h0M232.5 293.3h0M237.0 294.5h0M243.2 299.7h0M232.8 297.3h0M240.3 289.6h0M239.1 302.2h0M244.2 298.3h0M241.8 305.7h0M235.5 300.7h0M245.2 301.3h0M240.0 301.2h0M239.6 301.4h0M233.3 301.8h0M242.5 305.3h0M236.8 300.8h0M245.7 303.2h0M228.7 300.0h0M246.3 300.3h0M257.3 296.6h0M239.5 299.4h0M246.7 300.8h0M250.2 301.4h0M243.1 299.0h0M241.5 291.5h0M242.7 303.0h0M248.9 299.7h0M243.5 300.5h0M246.4 303.0h0M248.3 301.7h0M241.4 296.7h0M244.0 306.8h0M249.2 302.6h0M240.3 299.9h0M233.2 305.1h0M227.6 296.6h0M252.0 294.0h0M236.0 298.1h0M245.9 306.6h0M231.6 296.9h0M243.5 304.4h0M231.8 308.4h0M247.4 300.5h0M246.5 301.0h0M239.0 295.5h0M251.2 300.0h0M234.8 291.4h0M247.8 296.9h0M236.3 304.0h0M247.4 289.4h0M232.4 298.1h0M244.8 295.8h0M241.3 301.7h0M240.5 305.8h0M246.3 303.6h0M251.7 303.8h0M241.5 309.7h0M242.8 294.5h0M244.2 298.1h0M229.6 296.0h0M236.4 304.2h0M239.9 301.3h0M238.3 301.2h0M241.1 308.8h0M240.5 295.3h0M236.5 297.7h0M250.0 296.6h0M245.0 303.1h0M229.9 295.8h0M239.0 301.3h0M234.9 300.8h0M235.6 301.0h0M247.8 304.9h0M250.9 300.6h0M238.5 301.2h0M235.1 296.1h0M249.7 305.4h0M249.4 302.8h0M250.6 301.2h0M242.4 301.2h0M227.1 301.7h0M247.7 294.7h0M239.1 301.6h0M241.2 297.5h0M247.7 294.8h0M256.8 302.5h0M224.9 297.7h0M254.5 298.4h0M257.0 300.9h0M242.4 305.8h0M258.1 298.4h0M244.4 304.7h0M242.4 296.0h0M232.8 295.7h0M242.8 301.0h0M245.1 295.4h0M244.6 299.8h0M232.4 298.6h0"/>
<line x1="198.8" y1="270.1" x2="266.6" y2="270.1" stroke="#666" stroke-width="1.1"/>
<line x1="266.6" y1="270.1" x2="266.6" y2="326.1" stroke="#555" stroke-width="1"/>
<line x1="198.8" y1="269.6" x2="198.8" y2="327.3" stroke="#333" stroke-width="1.1"/>
<line x1="198.8" y1="325.9" x2="266.6" y2="325.9" stroke="#333" stroke-width="1" stroke-dasharray="0.9 0.9"/>
<line x1="197" y1="270.6" x2="198.8" y2="270.6" stroke="#333" stroke-width="0.9"/>
<line x1="198.8" y1="326.1" x2="198.8" y2="327.7" stroke="#333" stroke-width="0.9"/>
<line x1="197" y1="284.5" x2="198.8" y2="284.5" stroke="#333" stroke-width="0.9"/>
<line x1="215.8" y1="326.1" x2="215.8" y2="327.7" stroke="#333" stroke-width="0.9"/>
<line x1="197" y1="298.4" x2="198.8" y2="298.4" stroke="#333" stroke-width="0.9"/>
<line x1="232.7" y1="326.1" x2="232.7" y2="327.7" stroke="#333" stroke-width="0.9"/>
<line x1="197" y1="312.2" x2="198.8" y2="312.2" stroke="#333" stroke-width="0.9"/>
<line x1="249.7" y1="326.1" x2="249.7" y2="327.7" stroke="#333" stroke-width="0.9"/>
<line x1="197" y1="326.1" x2="198.8" y2="326.1" stroke="#333" stroke-width="0.9"/>
<line x1="266.6" y1="326.1" x2="266.6" y2="327.7" stroke="#333" stroke-width="0.9"/>
<line x1="199.7" y1="271.1" x2="199.7" y2="326.1" stroke="#333" stroke-width="1.4" stroke-dasharray="0.7 1.3"/>
<rect x="229.8" y="280.2" width="28.7" height="30" fill="none" stroke="#333" stroke-width="1"/>
<text x="255.7" y="288.8" font-size="7.8" stroke="#111" stroke-width="0.12" text-anchor="end" fill="#111">34</text>
<text x="199.5" y="335.7" font-size="6.4" text-anchor="middle" fill="#222">10<tspan font-size="4.4" dy="-2.6">0</tspan></text>
<text x="216.2" y="335.7" font-size="6.4" text-anchor="middle" fill="#222">10<tspan font-size="4.4" dy="-2.6">1</tspan></text>
<text x="232.9" y="335.7" font-size="6.4" text-anchor="middle" fill="#222">10<tspan font-size="4.4" dy="-2.6">2</tspan></text>
<text x="249.6" y="335.7" font-size="6.4" text-anchor="middle" fill="#222">10<tspan font-size="4.4" dy="-2.6">3</tspan></text>
<text x="266.3" y="335.7" font-size="6.4" text-anchor="middle" fill="#222">10<tspan font-size="4.4" dy="-2.6">4</tspan></text>
<text x="281.6" y="192.2" font-size="10.5" font-weight="bold" fill="#111">C</text>
<line x1="308.8" y1="197.5" x2="308.8" y2="340" stroke="#444" stroke-width="1"/>
<line x1="307.3" y1="340.4" x2="508.5" y2="340.4" stroke="#444" stroke-width="1"/>
<line x1="305.8" y1="339.7" x2="308.8" y2="339.7" stroke="#444" stroke-width="1"/>
<text x="303" y="341.7" font-size="7" stroke="#333" stroke-width="0.12" text-anchor="end" fill="#333">0</text>
<line x1="305.8" y1="311.3" x2="308.8" y2="311.3" stroke="#444" stroke-width="1"/>
<text x="303" y="313.3" font-size="7" stroke="#333" stroke-width="0.12" text-anchor="end" fill="#333">10</text>
<line x1="305.8" y1="283" x2="308.8" y2="283" stroke="#444" stroke-width="1"/>
<text x="303" y="285" font-size="7" stroke="#333" stroke-width="0.12" text-anchor="end" fill="#333">20</text>
<line x1="305.8" y1="254.6" x2="308.8" y2="254.6" stroke="#444" stroke-width="1"/>
<text x="303" y="256.6" font-size="7" stroke="#333" stroke-width="0.12" text-anchor="end" fill="#333">30</text>
<line x1="305.8" y1="226.3" x2="308.8" y2="226.3" stroke="#444" stroke-width="1"/>
<text x="303" y="228.3" font-size="7" stroke="#333" stroke-width="0.12" text-anchor="end" fill="#333">40</text>
<line x1="305.8" y1="197.9" x2="308.8" y2="197.9" stroke="#444" stroke-width="1"/>
<text x="303" y="199.9" font-size="7" stroke="#333" stroke-width="0.12" text-anchor="end" fill="#333">50</text>
<line x1="329.1" y1="340.4" x2="329.1" y2="343.4" stroke="#444" stroke-width="1"/>
<text x="329.1" y="351.3" font-size="7" stroke="#333" stroke-width="0.12" text-anchor="middle" fill="#333">0</text>
<line x1="369.3" y1="340.4" x2="369.3" y2="343.4" stroke="#444" stroke-width="1"/>
<text x="369.3" y="351.3" font-size="7" stroke="#333" stroke-width="0.12" text-anchor="middle" fill="#333">3</text>
<line x1="409.7" y1="340.4" x2="409.7" y2="343.4" stroke="#444" stroke-width="1"/>
<text x="409.7" y="351.3" font-size="7" stroke="#333" stroke-width="0.12" text-anchor="middle" fill="#333">6</text>
<line x1="450" y1="340.4" x2="450" y2="343.4" stroke="#444" stroke-width="1"/>
<text x="450" y="351.3" font-size="7" stroke="#333" stroke-width="0.12" text-anchor="middle" fill="#333">12</text>
<line x1="491.5" y1="340.4" x2="491.5" y2="343.4" stroke="#444" stroke-width="1"/>
<text x="491.5" y="351.3" font-size="7" stroke="#333" stroke-width="0.12" text-anchor="middle" fill="#333">24</text>
<text x="408.3" y="363.3" font-size="9.1" font-weight="bold" text-anchor="middle" fill="#111">Hours from challenge</text>
<text transform="translate(288.3 269.1) rotate(-90)" font-size="9.6" font-weight="bold" text-anchor="middle" fill="#111">% of Gr1<tspan font-size="5.2" dy="-3.2">+</tspan><tspan dy="3.2">/Mac1</tspan><tspan font-size="5.2" dy="-3.2">+</tspan><tspan dy="3.2"> cells</tspan></text>
<polyline points="329.1,233.4 369.3,243.3 409.7,243.3 450,243.3 491.5,254.6" fill="none" stroke="#555" stroke-width="0.9"/>
<polyline points="329.1,233.4 369.3,264.6 409.7,264.6 450,260.9 491.5,280.2" fill="none" stroke="#555" stroke-width="0.9"/>
<polyline points="329.1,233.4 369.3,234.8 409.7,264.6 450,314.2 491.5,314.2" fill="none" stroke="#555" stroke-width="0.9"/>
<line x1="329.1" y1="221.3" x2="329.1" y2="243.8" stroke="#333" stroke-width="0.9"/>
<line x1="327.5" y1="221.3" x2="330.7" y2="221.3" stroke="#333" stroke-width="0.9"/>
<line x1="327.5" y1="243.8" x2="330.7" y2="243.8" stroke="#333" stroke-width="0.9"/>
<line x1="369.3" y1="223.8" x2="369.3" y2="248.5" stroke="#333" stroke-width="0.9"/>
<line x1="367.7" y1="223.8" x2="370.9" y2="223.8" stroke="#333" stroke-width="0.9"/>
<line x1="367.7" y1="248.5" x2="370.9" y2="248.5" stroke="#333" stroke-width="0.9"/>
<line x1="369.3" y1="256.5" x2="369.3" y2="271" stroke="#333" stroke-width="0.9"/>
<line x1="367.7" y1="256.5" x2="370.9" y2="256.5" stroke="#333" stroke-width="0.9"/>
<line x1="367.7" y1="271" x2="370.9" y2="271" stroke="#333" stroke-width="0.9"/>
<line x1="409.7" y1="227" x2="409.7" y2="275.3" stroke="#333" stroke-width="0.9"/>
<line x1="408.1" y1="227" x2="411.3" y2="227" stroke="#333" stroke-width="0.9"/>
<line x1="408.1" y1="275.3" x2="411.3" y2="275.3" stroke="#333" stroke-width="0.9"/>
<line x1="450" y1="230.4" x2="450" y2="277.8" stroke="#333" stroke-width="0.9"/>
<line x1="448.4" y1="230.4" x2="451.6" y2="230.4" stroke="#333" stroke-width="0.9"/>
<line x1="448.4" y1="277.8" x2="451.6" y2="277.8" stroke="#333" stroke-width="0.9"/>
<line x1="450" y1="305.5" x2="450" y2="321" stroke="#333" stroke-width="0.9"/>
<line x1="448.4" y1="305.5" x2="451.6" y2="305.5" stroke="#333" stroke-width="0.9"/>
<line x1="448.4" y1="321" x2="451.6" y2="321" stroke="#333" stroke-width="0.9"/>
<line x1="491.5" y1="252" x2="491.5" y2="256.5" stroke="#333" stroke-width="0.9"/>
<line x1="489.9" y1="252" x2="493.1" y2="252" stroke="#333" stroke-width="0.9"/>
<line x1="489.9" y1="256.5" x2="493.1" y2="256.5" stroke="#333" stroke-width="0.9"/>
<line x1="491.5" y1="271.5" x2="491.5" y2="287.9" stroke="#333" stroke-width="0.9"/>
<line x1="489.9" y1="271.5" x2="493.1" y2="271.5" stroke="#333" stroke-width="0.9"/>
<line x1="489.9" y1="287.9" x2="493.1" y2="287.9" stroke="#333" stroke-width="0.9"/>
<line x1="491.5" y1="304.3" x2="491.5" y2="324" stroke="#333" stroke-width="0.9"/>
<line x1="489.9" y1="304.3" x2="493.1" y2="304.3" stroke="#333" stroke-width="0.9"/>
<line x1="489.9" y1="324" x2="493.1" y2="324" stroke="#333" stroke-width="0.9"/>
<path d="M329.1 230.2L326.4 235.5L331.8 235.5z" fill="#111"/>
<path d="M369.3 261.4L366.6 266.7L372 266.7z" fill="#111"/>
<path d="M409.7 261.4L407 266.7L412.4 266.7z" fill="#111"/>
<path d="M450 257.7L447.3 263L452.7 263z" fill="#111"/>
<path d="M491.5 277L488.8 282.3L494.2 282.3z" fill="#111"/>
<rect x="326.9" y="231.2" width="4.4" height="4.4" fill="#111" stroke="none" stroke-width="0"/>
<rect x="367.1" y="232.6" width="4.4" height="4.4" fill="#111" stroke="none" stroke-width="0"/>
<rect x="407.5" y="262.4" width="4.4" height="4.4" fill="#111" stroke="none" stroke-width="0"/>
<rect x="447.8" y="312" width="4.4" height="4.4" fill="#111" stroke="none" stroke-width="0"/>
<rect x="489.3" y="312" width="4.4" height="4.4" fill="#111" stroke="none" stroke-width="0"/>
<line x1="408.1" y1="254" x2="411.3" y2="254" stroke="#333" stroke-width="0.9"/>
<line x1="408.1" y1="257.5" x2="411.3" y2="257.5" stroke="#333" stroke-width="0.9"/>
<line x1="408.1" y1="261" x2="411.3" y2="261" stroke="#333" stroke-width="0.9"/>
<circle cx="369.3" cy="243.3" r="2.2" fill="#fff" stroke="#333" stroke-width="1"/>
<circle cx="409.7" cy="243.3" r="2.2" fill="#fff" stroke="#333" stroke-width="1"/>
<circle cx="450" cy="243.3" r="2.2" fill="#fff" stroke="#333" stroke-width="1"/>
<circle cx="491.5" cy="254.6" r="2.2" fill="#fff" stroke="#333" stroke-width="1"/>
<text x="497" y="258.3" font-size="8.7" stroke="#222" stroke-width="0.12" fill="#222">B</text>
<text x="497" y="284.3" font-size="8.7" stroke="#222" stroke-width="0.12" fill="#222">33C7</text>
<text x="497" y="316.2" font-size="8.7" stroke="#222" stroke-width="0.12" fill="#222">PA14</text>
<text x="390.6" y="306.2" font-size="8.4" stroke="#222" stroke-width="0.12" fill="#222"><tspan font-style="italic">P</tspan> = .033</text>
<defs><pattern id="hatch" patternUnits="userSpaceOnUse" width="2.9" height="2.9" patternTransform="rotate(-45)"><rect width="2.9" height="2.9" fill="#fff"/><rect width="1.3" height="2.9" fill="#222"/></pattern><pattern id="dotp" patternUnits="userSpaceOnUse" width="2" height="2"><rect width="2" height="2" fill="#f2f2f2"/><rect width="1" height="1" fill="#9a9a9a"/><rect x="1" y="1" width="1" height="1" fill="#9a9a9a"/></pattern><pattern id="vstr" patternUnits="userSpaceOnUse" width="2" height="2"><rect width="2" height="2" fill="#dadada"/><rect width="0.6" height="2" fill="#cfcfcf"/></pattern></defs>
<text x="1.2" y="383.2" font-size="10.5" font-weight="bold" fill="#111">D</text>
<line x1="32.4" y1="391.4" x2="32.4" y2="524.3" stroke="#444" stroke-width="1"/>
<line x1="31.8" y1="524.3" x2="273.2" y2="524.3" stroke="#444" stroke-width="1"/>
<line x1="28.6" y1="524.3" x2="32.4" y2="524.3" stroke="#444" stroke-width="1"/>
<text x="25.8" y="527.1" font-size="7.8" stroke="#333" stroke-width="0.12" text-anchor="end" fill="#333">0</text>
<line x1="28.6" y1="497.8" x2="32.4" y2="497.8" stroke="#444" stroke-width="1"/>
<text x="25.8" y="500.6" font-size="7.8" stroke="#333" stroke-width="0.12" text-anchor="end" fill="#333">5</text>
<line x1="28.6" y1="471.2" x2="32.4" y2="471.2" stroke="#444" stroke-width="1"/>
<text x="25.8" y="474" font-size="7.8" stroke="#333" stroke-width="0.12" text-anchor="end" fill="#333">10</text>
<line x1="28.6" y1="444.7" x2="32.4" y2="444.7" stroke="#444" stroke-width="1"/>
<text x="25.8" y="447.5" font-size="7.8" stroke="#333" stroke-width="0.12" text-anchor="end" fill="#333">15</text>
<line x1="28.6" y1="418.1" x2="32.4" y2="418.1" stroke="#444" stroke-width="1"/>
<text x="25.8" y="420.9" font-size="7.8" stroke="#333" stroke-width="0.12" text-anchor="end" fill="#333">20</text>
<line x1="28.6" y1="391.6" x2="32.4" y2="391.6" stroke="#444" stroke-width="1"/>
<text x="25.8" y="394.4" font-size="7.8" stroke="#333" stroke-width="0.12" text-anchor="end" fill="#333">25</text>
<text transform="translate(11.8 456.2) rotate(-90)" font-size="8.9" font-weight="bold" text-anchor="middle" fill="#111">% of Annexin V<tspan font-size="5.5" dy="-3.2">+</tspan><tspan dy="3.2"> Cells</tspan></text>
<line x1="49.1" y1="493.5" x2="49.1" y2="500.9" stroke="#333" stroke-width="1"/>
<line x1="46.8" y1="493.5" x2="51.4" y2="493.5" stroke="#333" stroke-width="1"/>
<rect x="42.3" y="500.9" width="13.6" height="23.4" fill="url(#hatch)" stroke="#222" stroke-width="0.9"/>
<line x1="62.7" y1="500.4" x2="62.7" y2="506.3" stroke="#333" stroke-width="1"/>
<line x1="60.4" y1="500.4" x2="65" y2="500.4" stroke="#333" stroke-width="1"/>
<rect x="55.9" y="506.3" width="13.6" height="18" fill="#5a5a5a" stroke="#222" stroke-width="0.9"/>
<line x1="76.3" y1="497.8" x2="76.3" y2="503.6" stroke="#333" stroke-width="1"/>
<line x1="74" y1="497.8" x2="78.6" y2="497.8" stroke="#333" stroke-width="1"/>
<rect x="69.5" y="503.6" width="13.6" height="20.7" fill="#050505" stroke="#222" stroke-width="0.9"/>
<text x="61.9" y="533" font-size="8.6" stroke="#222" stroke-width="0.12" text-anchor="middle" fill="#222">3</text>
<rect x="102" y="507.3" width="13.6" height="17" fill="url(#hatch)" stroke="#222" stroke-width="0.9"/>
<line x1="122.4" y1="503.6" x2="122.4" y2="506.3" stroke="#333" stroke-width="1"/>
<line x1="120.1" y1="503.6" x2="124.7" y2="503.6" stroke="#333" stroke-width="1"/>
<rect x="115.6" y="506.3" width="13.6" height="18" fill="#5a5a5a" stroke="#222" stroke-width="0.9"/>
<line x1="136" y1="500.4" x2="136" y2="505.2" stroke="#333" stroke-width="1"/>
<line x1="133.7" y1="500.4" x2="138.3" y2="500.4" stroke="#333" stroke-width="1"/>
<rect x="129.2" y="505.2" width="13.6" height="19.1" fill="#050505" stroke="#222" stroke-width="0.9"/>
<text x="121.6" y="533" font-size="8.6" stroke="#222" stroke-width="0.12" text-anchor="middle" fill="#222">6</text>
<rect x="162.1" y="497.8" width="13.6" height="26.5" fill="url(#hatch)" stroke="#222" stroke-width="0.9"/>
<line x1="182.5" y1="492.5" x2="182.5" y2="494.6" stroke="#333" stroke-width="1"/>
<line x1="180.2" y1="492.5" x2="184.8" y2="492.5" stroke="#333" stroke-width="1"/>
<rect x="175.7" y="494.6" width="13.6" height="29.7" fill="#5a5a5a" stroke="#222" stroke-width="0.9"/>
<line x1="196.1" y1="429.8" x2="196.1" y2="450" stroke="#333" stroke-width="1"/>
<line x1="193.8" y1="429.8" x2="198.4" y2="429.8" stroke="#333" stroke-width="1"/>
<rect x="189.3" y="450" width="13.6" height="74.3" fill="#050505" stroke="#222" stroke-width="0.9"/>
<text x="181.7" y="533" font-size="8.6" stroke="#222" stroke-width="0.12" text-anchor="middle" fill="#222">12</text>
<rect x="222.4" y="503.6" width="13.6" height="20.7" fill="url(#hatch)" stroke="#222" stroke-width="0.9"/>
<line x1="242.8" y1="497.8" x2="242.8" y2="505.2" stroke="#333" stroke-width="1"/>
<line x1="240.5" y1="497.8" x2="245.1" y2="497.8" stroke="#333" stroke-width="1"/>
<rect x="236" y="505.2" width="13.6" height="19.1" fill="#5a5a5a" stroke="#222" stroke-width="0.9"/>
<line x1="256.4" y1="416.5" x2="256.4" y2="436.7" stroke="#333" stroke-width="1"/>
<line x1="254.1" y1="416.5" x2="258.7" y2="416.5" stroke="#333" stroke-width="1"/>
<rect x="249.6" y="436.7" width="13.6" height="87.6" fill="#050505" stroke="#222" stroke-width="0.9"/>
<text x="242" y="533" font-size="8.6" stroke="#222" stroke-width="0.12" text-anchor="middle" fill="#222">24</text>
<text x="256.4" y="416.2" font-size="10.5" stroke="#222" stroke-width="0.12" text-anchor="middle" fill="#222">*</text>
<text x="153.7" y="546" font-size="10.5" font-weight="bold" text-anchor="middle" fill="#111">Hours from challenge</text>
<rect x="63.8" y="397" width="10.7" height="9.3" fill="url(#hatch)" stroke="#333" stroke-width="0.9"/>
<rect x="63.8" y="413.2" width="10.7" height="9.6" fill="#5a5a5a" stroke="#333" stroke-width="0.9"/>
<rect x="63.8" y="432.6" width="10.7" height="9.4" fill="#050505" stroke="#333" stroke-width="0.9"/>
<text x="82.5" y="403.5" font-size="7.8" stroke="#222" stroke-width="0.12" fill="#222">N</text>
<text x="82.5" y="420.8" font-size="7.8" stroke="#222" stroke-width="0.12" fill="#222">B</text>
<text x="82.5" y="440.2" font-size="7.8" stroke="#222" stroke-width="0.12" fill="#222">PA14</text>
<text x="281.8" y="383.2" font-size="10.5" font-weight="bold" fill="#111">E</text>
<line x1="310" y1="391.5" x2="310" y2="523.7" stroke="#444" stroke-width="1"/>
<line x1="309.4" y1="523.7" x2="512.5" y2="523.7" stroke="#444" stroke-width="1"/>
<line x1="306.6" y1="523.7" x2="310" y2="523.7" stroke="#444" stroke-width="1"/>
<text x="304.8" y="526.4" font-size="7.6" stroke="#333" stroke-width="0.12" text-anchor="end" fill="#333">0</text>
<line x1="306.6" y1="501.6" x2="310" y2="501.6" stroke="#444" stroke-width="1"/>
<text x="304.8" y="504.3" font-size="7.6" stroke="#333" stroke-width="0.12" text-anchor="end" fill="#333">20</text>
<line x1="306.6" y1="479.5" x2="310" y2="479.5" stroke="#444" stroke-width="1"/>
<text x="304.8" y="482.2" font-size="7.6" stroke="#333" stroke-width="0.12" text-anchor="end" fill="#333">40</text>
<line x1="306.6" y1="457.4" x2="310" y2="457.4" stroke="#444" stroke-width="1"/>
<text x="304.8" y="460.1" font-size="7.6" stroke="#333" stroke-width="0.12" text-anchor="end" fill="#333">60</text>
<line x1="306.6" y1="435.3" x2="310" y2="435.3" stroke="#444" stroke-width="1"/>
<text x="304.8" y="438" font-size="7.6" stroke="#333" stroke-width="0.12" text-anchor="end" fill="#333">80</text>
<line x1="306.6" y1="413.2" x2="310" y2="413.2" stroke="#444" stroke-width="1"/>
<text x="304.8" y="415.9" font-size="7.6" stroke="#333" stroke-width="0.12" text-anchor="end" fill="#333">100</text>
<line x1="306.6" y1="391.1" x2="310" y2="391.1" stroke="#444" stroke-width="1"/>
<text x="304.8" y="393.8" font-size="7.6" stroke="#333" stroke-width="0.12" text-anchor="end" fill="#333">120</text>
<text transform="translate(288.4 459.4) rotate(-90)" font-size="9.7" font-weight="bold" text-anchor="middle" fill="#111">% of Gr1<tspan font-size="5.3" dy="-3.2">+</tspan><tspan dy="3.2">/Mac1</tspan><tspan font-size="5.3" dy="-3.2">+</tspan><tspan dy="3.2"> cells</tspan></text>
<line x1="329.2" y1="409.4" x2="329.2" y2="412.1" stroke="#333" stroke-width="1"/>
<line x1="327" y1="409.4" x2="331.4" y2="409.4" stroke="#333" stroke-width="1"/>
<rect x="321.1" y="417.8" width="16.3" height="105.9" fill="url(#vstr)" stroke="#555" stroke-width="1"/>
<rect x="321.1" y="412.1" width="16.3" height="5.7" fill="#050505" stroke="#222" stroke-width="0.8"/>
<text x="329.2" y="533.6" font-size="8.6" stroke="#222" stroke-width="0.12" text-anchor="middle" fill="#222">0</text>
<line x1="369.5" y1="432.2" x2="369.5" y2="433.1" stroke="#333" stroke-width="1"/>
<line x1="367.3" y1="432.2" x2="371.7" y2="432.2" stroke="#333" stroke-width="1"/>
<rect x="361.4" y="435.9" width="16.3" height="87.8" fill="url(#dotp)" stroke="#555" stroke-width="1"/>
<rect x="361.4" y="433.1" width="16.3" height="2.8" fill="#050505" stroke="#222" stroke-width="0.8"/>
<text x="369.5" y="533.6" font-size="8.6" stroke="#222" stroke-width="0.12" text-anchor="middle" fill="#222">3</text>
<line x1="409.8" y1="445" x2="409.8" y2="446.4" stroke="#333" stroke-width="1"/>
<line x1="407.6" y1="445" x2="412" y2="445" stroke="#333" stroke-width="1"/>
<rect x="401.7" y="457.4" width="16.3" height="66.3" fill="url(#dotp)" stroke="#555" stroke-width="1"/>
<rect x="401.7" y="446.4" width="16.3" height="11.1" fill="#050505" stroke="#222" stroke-width="0.8"/>
<text x="409.8" y="533.6" font-size="8.6" stroke="#222" stroke-width="0.12" text-anchor="middle" fill="#222">6</text>
<line x1="451.3" y1="473.8" x2="451.3" y2="475.6" stroke="#333" stroke-width="1"/>
<line x1="449.1" y1="473.8" x2="453.5" y2="473.8" stroke="#333" stroke-width="1"/>
<rect x="443.2" y="497.5" width="16.3" height="26.2" fill="url(#dotp)" stroke="#555" stroke-width="1"/>
<rect x="443.2" y="475.6" width="16.3" height="21.9" fill="#050505" stroke="#222" stroke-width="0.8"/>
<text x="451.3" y="533.6" font-size="8.6" stroke="#222" stroke-width="0.12" text-anchor="middle" fill="#222">12</text>
<line x1="492.5" y1="465.7" x2="492.5" y2="478.9" stroke="#333" stroke-width="1"/>
<line x1="490.3" y1="465.7" x2="494.7" y2="465.7" stroke="#333" stroke-width="1"/>
<rect x="484.4" y="501" width="16.3" height="22.7" fill="url(#dotp)" stroke="#555" stroke-width="1"/>
<rect x="484.4" y="478.9" width="16.3" height="22.1" fill="#050505" stroke="#222" stroke-width="0.8"/>
<text x="492.5" y="533.6" font-size="8.6" stroke="#222" stroke-width="0.12" text-anchor="middle" fill="#222">24</text>
<text x="412.2" y="546" font-size="9.8" font-weight="bold" text-anchor="middle" fill="#111">Hours from challenge</text>
<rect x="454.6" y="394.3" width="6.7" height="7" fill="#050505" stroke="#222" stroke-width="0.8"/>
<rect x="454.6" y="410" width="6.7" height="6.8" fill="url(#dotp)" stroke="#444" stroke-width="0.8"/>
<text x="465" y="400.3" font-size="8.1" stroke="#222" stroke-width="0.12" fill="#222">Apoptotic</text>
<text x="465" y="416.1" font-size="8.1" stroke="#222" stroke-width="0.12" fill="#222">Alive</text>
</svg>
</body></html>
